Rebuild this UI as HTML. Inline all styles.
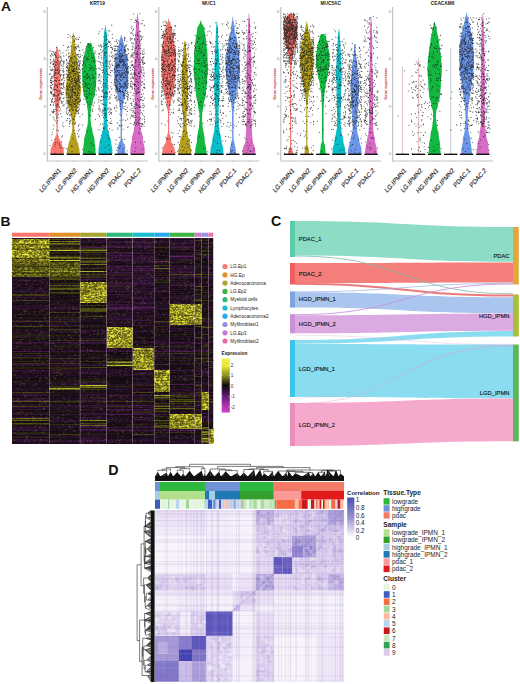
<!DOCTYPE html>
<html><head><meta charset="utf-8"><style>
html,body{margin:0;padding:0;background:#fff;width:520px;height:684px;overflow:hidden}
svg{display:block}
</style></head><body>
<svg width="520" height="684" viewBox="0 0 520 684">
<rect width="520" height="684" fill="#fff"/>
<g font-family='"Liberation Sans", sans-serif'>
<path d="M47.3 7V161H147.8" fill="none" stroke="#c4c4c4" stroke-width="1.2"/>
<path d="M46.8 154h-1.2" stroke="#999" stroke-width="0.5"/>
<path d="M46.8 106.5h-1.2" stroke="#999" stroke-width="0.5"/>
<path d="M46.8 59h-1.2" stroke="#999" stroke-width="0.5"/>
<path d="M46.8 11.5h-1.2" stroke="#999" stroke-width="0.5"/>
<text x="97.3" y="5.1" font-size="4.8" font-weight="bold" text-anchor="middle" fill="#1a1a1a">KRT19</text>
<text transform="translate(42.1 84) rotate(-90)" font-size="3.9" font-weight="bold" text-anchor="middle" fill="#c03030">Gene expression</text>
<text x="45.1" y="155" font-size="3" text-anchor="end" fill="#666">0</text>
<text x="45.1" y="107.5" font-size="3" text-anchor="end" fill="#666">2</text>
<text x="45.1" y="60" font-size="3" text-anchor="end" fill="#666">4</text>
<text x="45.1" y="12.5" font-size="3" text-anchor="end" fill="#666">6</text>
<path d="M57.4 45.6 57.4 46.6 57.6 47.6 57.8 48.6 58 49.6 58.2 50.6 58.5 51.6 58.7 52.6 58.8 53.6 58.9 54.6 58.9 55.6 59 56.6 59.1 57.6 59.2 58.6 59.3 59.6 59.5 60.6 59.6 61.6 59.8 62.6 59.8 63.6 59.9 64.6 59.9 65.6 59.9 66.6 59.9 67.6 60 68.6 60 69.6 60.1 70.6 60.1 71.6 60.2 72.6 60.3 73.6 60.3 74.6 60.4 75.6 60.4 76.6 60.5 77.6 60.5 78.6 60.5 79.6 60.5 80.6 60.5 81.6 60.5 82.6 60.5 83.6 60.5 84.6 60.5 85.6 60.5 86.6 60.5 87.6 60.5 88.6 60.5 89.6 60.5 90.6 60.5 91.6 60.5 92.6 60.4 93.6 60.3 94.6 60.2 95.6 60 96.6 59.9 97.6 59.8 98.6 59.7 99.6 59.7 100.6 59.6 101.6 59.5 102.6 59.4 103.6 59.2 104.6 59.1 105.6 58.9 106.6 58.8 107.6 58.7 108.6 58.6 109.6 58.6 110.6 58.5 111.6 58.3 112.6 58.1 113.6 57.9 114.6 57.8 115.6 57.8 116.6 57.8 117.6 57.8 118.6 57.8 119.6 57.8 120.6 57.8 121.6 57.8 122.6 57.8 123.6 57.8 124.6 57.7 125.6 57.7 126.6 57.7 127.6 57.7 128.6 57.7 129.6 57.7 130.6 57.7 131.6 57.7 132.6 57.7 133.6 57.8 134.6 58.2 135.6 58.7 136.6 59.1 137.6 59.2 138.6 59.5 139.6 60 140.6 60.6 141.6 61.1 142.6 61.6 143.6 61.9 144.6 62 145.6 62.3 146.6 62.8 147.6 63.3 148.6 63.6 149.6 63.6 150.6 63.7 151.6 63.8 152.6 63.9 153.6 63.9 154 50.3 154 50.3 153.6 50.4 152.6 50.5 151.6 50.6 150.6 50.6 149.6 50.9 148.6 51.4 147.6 51.9 146.6 52.2 145.6 52.3 144.6 52.6 143.6 53.1 142.6 53.6 141.6 54.2 140.6 54.7 139.6 55 138.6 55.1 137.6 55.5 136.6 56 135.6 56.4 134.6 56.5 133.6 56.5 132.6 56.5 131.6 56.5 130.6 56.5 129.6 56.5 128.6 56.5 127.6 56.5 126.6 56.5 125.6 56.4 124.6 56.4 123.6 56.4 122.6 56.4 121.6 56.4 120.6 56.4 119.6 56.4 118.6 56.4 117.6 56.4 116.6 56.4 115.6 56.3 114.6 56.1 113.6 55.9 112.6 55.7 111.6 55.6 110.6 55.6 109.6 55.5 108.6 55.4 107.6 55.3 106.6 55.1 105.6 55 104.6 54.8 103.6 54.7 102.6 54.6 101.6 54.5 100.6 54.5 99.6 54.4 98.6 54.3 97.6 54.2 96.6 54 95.6 53.9 94.6 53.8 93.6 53.7 92.6 53.7 91.6 53.7 90.6 53.7 89.6 53.7 88.6 53.7 87.6 53.7 86.6 53.7 85.6 53.7 84.6 53.7 83.6 53.7 82.6 53.7 81.6 53.7 80.6 53.7 79.6 53.7 78.6 53.7 77.6 53.8 76.6 53.8 75.6 53.9 74.6 53.9 73.6 54 72.6 54.1 71.6 54.1 70.6 54.2 69.6 54.2 68.6 54.3 67.6 54.3 66.6 54.3 65.6 54.3 64.6 54.4 63.6 54.4 62.6 54.6 61.6 54.7 60.6 54.9 59.6 55 58.6 55.1 57.6 55.2 56.6 55.3 55.6 55.3 54.6 55.4 53.6 55.5 52.6 55.7 51.6 56 50.6 56.2 49.6 56.4 48.6 56.6 47.6 56.8 46.6 56.8 45.6Z" fill="#F8766D"/>
<path d="M59.3 74.3h0M55.2 57.1h0M50.4 55.6h0M51.2 80.7h0M51.7 80.9h0M63.5 68.7h0M64 89h0M54.1 55h0M54.3 62.7h0M58.3 104.3h0M57.8 92h0M52.9 55.7h0M54.4 94.5h0M54.2 89.6h0M53.4 102.8h0M62.5 88.6h0M64 97.9h0M60.8 61h0M50.5 63.6h0M58.2 94.4h0M59.9 110.9h0M56.5 90.2h0M56.7 107h0M60 93.2h0M61.7 93.1h0M59.5 72h0M52.3 51.6h0M61 60.7h0M55.5 61.8h0M56.4 110.2h0M61.7 87.5h0M55.9 109.4h0M63.7 77h0M53.2 63.3h0M58.4 69.1h0M55.9 70.6h0M63.6 77.2h0M58.8 95.1h0M62.9 94.2h0M61.4 102h0M51.4 78.5h0M50.9 91.7h0M54.8 67.3h0M52.1 54.6h0M50.3 59.5h0M52 111.2h0M55.1 69.9h0M64.2 61.9h0M51.1 82.6h0M53.7 59.4h0M50.2 105.3h0M52 134.6h0M57.5 86.6h0M59.9 145.5h0M52.3 70.5h0M61.1 101.1h0M61.6 74.8h0M61.5 148h0M53.2 104.8h0M50.3 85.5h0M53.6 51.9h0M56.3 96.1h0M63.7 126.6h0M53.2 76.8h0M58.9 66.3h0M56.8 115.9h0M51.1 93.4h0M61.2 94h0M52.5 99.1h0M61.4 101.9h0M55.7 142.5h0M52.3 132.3h0M62.9 61.3h0M61.8 103.2h0M54.9 146.3h0M50.1 86.7h0M57.5 142.2h0M62.5 125h0M53.5 105.3h0M58.3 72.3h0M51.8 70.5h0M56.5 118h0M56 89.5h0M57.6 120.6h0M56.2 85.6h0M61.4 65.1h0M60.3 65.1h0M57.4 87.4h0M51.4 87.9h0M53.9 87.8h0M58 101.1h0M56.3 100.5h0M57.3 91.1h0M57.6 95.6h0M60 84h0M53.6 111.5h0M62 88.5h0M56.3 62.2h0M51 56.8h0M62.8 94.4h0M59.4 63.8h0M63.8 63.5h0M55.6 68.6h0M61.9 84.6h0M57.3 64h0M54.5 75.3h0M57.9 97.1h0M54.7 80.6h0M50.8 91.6h0M63.9 147.9h0M50.5 59.9h0M51.8 101.4h0M61.7 80.5h0M63.1 70.2h0M51.2 88.8h0M56 55.8h0M59 57.5h0M62.2 102.7h0M56.4 57h0M63.2 75.7h0M57.5 70.7h0M52.2 68.7h0M54.4 54.3h0M54.1 73.9h0M54.9 84.3h0M50.1 50.9h0M52.6 98.2h0M51.4 83.5h0M57 104.5h0M57.2 106h0M54.8 95.6h0M59.1 106.3h0M50.7 78.9h0M60.6 61.7h0M51.1 70.3h0M59.6 107.5h0M54.1 71.8h0M56.3 81.8h0M63.9 71.6h0M63.8 86.8h0M49.9 73.5h0M57.1 78.1h0M50 67.1h0M55.7 70.7h0M54.3 53.6h0M57.5 69.2h0M60.2 99.8h0M54.6 111.5h0M60.3 147.2h0M61.9 92.1h0M60.5 113.7h0M57.4 103.7h0M61.5 84.9h0M62.8 105.7h0M53.2 95.3h0M55.1 52.2h0M57.9 60.4h0M59.7 91.7h0M61.4 83.6h0M57.6 99.1h0M60.5 93.2h0M53.7 69.7h0M60.6 97.8h0M55.4 144.1h0M60.9 83.8h0M51 91.2h0M60.6 62.9h0M50.1 73.7h0M59.6 55.9h0M54.1 95.8h0M56.6 85.6h0M52.8 61.5h0M50.2 145.5h0M63.8 82.4h0M52.9 81.4h0M58.3 130.8h0M63.6 62.6h0M57.2 62.4h0M53.2 112.8h0M50.3 115.1h0M56.4 47.6h0M54.9 72.7h0M49.9 74.4h0M51.6 99.9h0M62.9 122.8h0M55.6 72.5h0M55.1 153.2h0M50.6 80.4h0M54 59.9h0M53.7 125.3h0M55.3 84.8h0M61.6 137h0M63.4 92.5h0M50.6 87.3h0M60.7 98.1h0M50.6 92.4h0M56.7 122.7h0M60.5 75.4h0M59.3 143.9h0M55.6 73.2h0M52.9 64.3h0M53.1 117.1h0M56.4 117.6h0M51.2 62.3h0M53.3 75.2h0M62.7 70.7h0M55.9 99h0M54.8 86h0M63.8 55.9h0M59 61.6h0M53.8 109.3h0M56.3 70h0M62.5 135.9h0M60.1 51.1h0M58.4 114.6h0M63.2 45.5h0M63.9 105.5h0M52.1 69.7h0M63.5 85.8h0M60.9 97.2h0M50.5 82.2h0M63.1 101.3h0M51.7 92.4h0M60 70.2h0M57.5 60.2h0M53.1 89h0M54.2 89.6h0M59.2 83.1h0M53.3 112.1h0M60 70.6h0M57.1 73.1h0M53.6 94.5h0M53.2 94.5h0M56 52.9h0M61.4 94.8h0M52.9 98.6h0M61.7 141.9h0M60.9 68.8h0M57 73.6h0M55.9 65.8h0M52 94h0M63.9 78.3h0M50.8 62.2h0M62.6 79h0M63.3 98.6h0M63.4 74.8h0M59.5 98.6h0M54.7 77.5h0M53.9 64.1h0M51.7 76.6h0M55 139.3h0M56.1 105.4h0M55.3 54.6h0M55.1 120.8h0M55.8 114.1h0M50.5 104.4h0M63.1 52.7h0M62.8 70.8h0M63.7 75.4h0M60.2 90.9h0M50 73.9h0M59 100h0M53.3 129.1h0M63.6 83.6h0M56.1 77.9h0M52.5 84.5h0M61.7 103.3h0M54.6 101.2h0M61.2 74.5h0M60.7 57.3h0M50.4 69.7h0M64 87.4h0M53.7 112.6h0M57.1 57.7h0M53.3 96.5h0M59.6 80.2h0M59.5 99.4h0M54.1 61.4h0M60.5 88h0M53.4 66.3h0M58.2 64h0M64.2 74.5h0M61.5 84.8h0M51.4 93.6h0M62 83.4h0M54.1 119.1h0M63.9 60.8h0M55.3 89.5h0M53.6 110h0M51.4 102h0M53 90.2h0M52.8 76.7h0M59.3 70.7h0M54.6 66.6h0M54.4 94.3h0M57.8 67.4h0M55.6 55.7h0M51.2 87.7h0M55.8 64.3h0M63.6 71.9h0M55 74.2h0M64.3 80.5h0M60.4 76.8h0M62.9 66.6h0M55.7 80.4h0M52.2 112.1h0M59.1 50.2h0M58.9 117.7h0M52 77.1h0M63.2 72.1h0M61.5 60.1h0M51.7 140.3h0M56.9 130.1h0M55.5 55.5h0M61.8 116.7h0M53.1 64.4h0M61.8 79.4h0M55.7 65.3h0M51.7 85.5h0M62.8 70.3h0M60.8 53.7h0M51.6 53.9h0M58.9 90.2h0M58.3 73.5h0M56.3 80.8h0M58.8 80.6h0M60.9 83.8h0M52.5 101.6h0M51.7 82.7h0M56.3 80.2h0M59.1 84.6h0M61.1 58.3h0M57.2 84.7h0M51.9 78.1h0M60.4 109.1h0M64 104.3h0M63.1 84.6h0M63.3 64.9h0M60.8 56.5h0M53.9 64.5h0" stroke="#1e1e1e" stroke-width="1.1" stroke-linecap="round" opacity="0.82"/>
<path d="M50.4 154.3h13.4" stroke="#111" stroke-width="1.4"/>
<path d="M57.1 161v1" stroke="#999" stroke-width="0.5"/>
<text transform="translate(61.2 170.8) scale(0.95 1.09) rotate(-45)" font-size="6.2" text-anchor="end" fill="#1a1a1a" stroke="#1a1a1a" stroke-width="0.12">LG.IPMN1</text>
<path d="M73.6 33 73.6 34 73.8 35 74 36 74.1 37 74.3 38 74.5 39 74.5 40 74.5 41 74.6 42 74.8 43 74.9 44 75.1 45 75.3 46 75.4 47 75.6 48 75.7 49 75.7 50 75.7 51 75.8 52 76 53 76.2 54 76.4 55 76.6 56 76.8 57 77 58 77.1 59 77.1 60 77.1 61 77.3 62 77.4 63 77.6 64 77.8 65 78.1 66 78.3 67 78.4 68 78.6 69 78.6 70 78.6 71 78.8 72 78.9 73 79.1 74 79.3 75 79.6 76 79.8 77 79.9 78 80.1 79 80.1 80 80.1 81 80.2 82 80.3 83 80.4 84 80.5 85 80.7 86 80.8 87 80.9 88 81 89 81 90 81 91 80.9 92 80.8 93 80.6 94 80.5 95 80.4 96 80.2 97 80.1 98 80 99 80 100 79.9 101 79.7 102 79.4 103 79 104 78.5 105 78.1 106 77.7 107 77.4 108 77.2 109 77.1 110 77 111 76.6 112 76.3 113 75.9 114 75.8 115 75.7 116 75.4 117 75.2 118 74.9 119 74.8 120 74.8 121 74.7 122 74.6 123 74.5 124 74.4 125 74.3 126 74.3 127 74.3 128 74.4 129 74.5 130 74.5 131 74.6 132 74.9 133 75.2 134 75.6 135 75.9 136 76.2 137 76.3 138 76.4 139 76.7 140 77.1 141 77.5 142 77.9 143 78.2 144 78.3 145 78.4 146 78.7 147 79 148 79.3 149 79.4 150 79.5 151 79.6 152 79.7 153 79.8 154 66.8 154 66.9 153 67 152 67.1 151 67.2 150 67.3 149 67.6 148 67.9 147 68.2 146 68.3 145 68.4 144 68.7 143 69.1 142 69.5 141 69.9 140 70.2 139 70.3 138 70.4 137 70.7 136 71 135 71.4 134 71.7 133 72 132 72.1 131 72.1 130 72.2 129 72.3 128 72.3 127 72.3 126 72.2 125 72.1 124 72 123 71.9 122 71.8 121 71.8 120 71.7 119 71.4 118 71.2 117 70.9 116 70.8 115 70.7 114 70.3 113 70 112 69.6 111 69.5 110 69.4 109 69.2 108 68.9 107 68.5 106 68 105 67.6 104 67.2 103 66.9 102 66.7 101 66.6 100 66.6 99 66.5 98 66.4 97 66.2 96 66.1 95 66 94 65.8 93 65.7 92 65.6 91 65.6 90 65.6 89 65.7 88 65.8 87 65.9 86 66 85 66.2 84 66.3 83 66.4 82 66.5 81 66.5 80 66.5 79 66.7 78 66.8 77 67 76 67.2 75 67.5 74 67.7 73 67.8 72 68 71 68 70 68 69 68.2 68 68.3 67 68.5 66 68.8 65 69 64 69.2 63 69.3 62 69.5 61 69.5 60 69.5 59 69.6 58 69.8 57 70 56 70.2 55 70.4 54 70.6 53 70.8 52 70.9 51 70.9 50 70.9 49 71 48 71.2 47 71.3 46 71.5 45 71.7 44 71.8 43 72 42 72.1 41 72.1 40 72.1 39 72.3 38 72.5 37 72.6 36 72.8 35 73 34 73 33Z" fill="#B4A01C"/>
<path d="M73.3 103.6h0M69.9 114.2h0M66.6 86.3h0M79.6 64.7h0M68.5 95.9h0M73.7 101.6h0M78.7 93.4h0M78.8 89.1h0M75.2 57h0M69.9 80.3h0M71.3 146.1h0M68.6 100.4h0M77.9 99h0M80.3 70.6h0M70.6 90.7h0M68.3 34.5h0M73.5 91.9h0M69.4 111.1h0M66.1 93.5h0M71.2 77.1h0M74.6 68.6h0M72.9 66.6h0M69.6 60.4h0M75.3 61.1h0M71.9 109.3h0M75.4 71h0M75.4 89.4h0M76.7 83.4h0M66.7 70.4h0M69.5 87.4h0M66.3 50.3h0M68.1 88.9h0M73.4 66.6h0M68.6 93.8h0M66.8 74.3h0M76.4 110.8h0M76.8 37.8h0M72.6 84.2h0M69.4 68.1h0M76.9 46.3h0M76.3 96.8h0M72.4 71.6h0M69.9 102h0M69.2 94h0M69.8 109h0M79.7 69.2h0M78.8 99.3h0M79.2 75.7h0M75.7 93.2h0M78.2 137h0M72.4 96.9h0M70.5 98.6h0M67.2 67.6h0M66.5 113.1h0M71.1 57.4h0M66.7 60.5h0M76.1 96.6h0M74.6 98.6h0M77.9 78.3h0M78.6 110.6h0M67.6 114.4h0M66.6 66.6h0M75.2 106.8h0M70.2 104.6h0M77 55.6h0M72.2 66.3h0M70.2 42.3h0M70.7 97.9h0M78.4 125.5h0M72 92h0M71.1 82.8h0M69.2 97h0M77.9 107.6h0M69 63h0M66.2 101h0M77.6 85.5h0M71.1 65h0M79.7 104.8h0M76.2 72.7h0M75.3 85.6h0M76.1 53.8h0M71.2 102.1h0M78.9 80.4h0M66.5 54.9h0M79.1 66.8h0M78.8 85.9h0M73.8 69h0M75.4 100.3h0M68.3 76.8h0M76.8 106.2h0M77.2 63.4h0M72.8 89.6h0M68.9 110.2h0M78.2 74.2h0M69.7 61.7h0M68.4 75.5h0M80.1 75.7h0M80 98.1h0M80.3 56.4h0M72.4 102.7h0M67.6 66.1h0M66.6 66.9h0M76.1 80.3h0M72.8 86.1h0M71.9 61.1h0M72.3 99.9h0M72.2 90.2h0M78.8 68.7h0M78.4 101.7h0M72.6 95.6h0M67.5 75.1h0M76.4 81.8h0M72.2 92.8h0M72 83.6h0M68.7 95.9h0M71.7 94.8h0M66.6 86h0M77.4 88.2h0M67.6 118.5h0M76.4 90h0M78 86.6h0M79.8 86.9h0M71.8 67.2h0M80.3 100.1h0M70.1 77.1h0M72.1 79.5h0M71.2 81.7h0M76.8 71.2h0M69.3 118.5h0M69.2 102.9h0M77.8 59.8h0M74.2 93h0M71.2 69h0M77.9 93.8h0M74 83.8h0M71.2 59.3h0M71.5 106.8h0M68.8 70.4h0M70.1 35.7h0M73 69.8h0M75.6 82.1h0M78.4 78.4h0M79.1 50.3h0M78.1 101.6h0M66.3 92.5h0M69.7 121.7h0M69.5 56.1h0M68.3 101.3h0M68.5 112.8h0M77.4 111.1h0M77.4 95.4h0M76.1 105.7h0M72.4 87.7h0M69.9 110.1h0M73.2 68.6h0M68.2 50h0M73.9 85.5h0M78.2 107.5h0M75.7 84.1h0M72.1 105.9h0M75.3 123.6h0M74.9 92.5h0M70.9 96.4h0M73.1 139h0M76.4 111h0M78.5 92.3h0M73.7 78h0M72.4 100.7h0M78 81.6h0M71.9 73.8h0M73.4 85.8h0M77.5 133.7h0M70.4 75.8h0M77.4 90.6h0M78.9 47.2h0M70.4 88h0M79.4 37.2h0M77.5 92.2h0M75 113.1h0M74.7 92.7h0M75.7 95.2h0M67.6 83.8h0M77.3 64h0M71.4 114.2h0M74.2 104.8h0M72.2 70.8h0M75.3 74.9h0M74.3 116.6h0M77.8 46.6h0M72.5 90.4h0M74.6 40.4h0M72.9 118.5h0M75.4 80.6h0M66.3 67.2h0M67.9 37.2h0M78.6 126.1h0M76.5 59h0M68.8 69.7h0M76.4 48.8h0M67.3 107.2h0M72.7 93.2h0M80 116.8h0M66.3 97.5h0M67.2 94.3h0M68.5 74.7h0M67 108h0M72.4 78.6h0M77.6 95.1h0M75.2 78.1h0M77.4 81.4h0M74.3 119.8h0M80.1 73.1h0M70.9 97.3h0M78.1 92h0M72.3 91.3h0M76 110.4h0M77.7 91.9h0M69.9 72.5h0M77.9 81.6h0M78.1 110h0M74.3 103.9h0M77.7 72.4h0M71.1 96.4h0M77.6 54.6h0M79.5 66.8h0M75.9 69.1h0M69.8 83.7h0M72.7 100.3h0M77.2 54.8h0M79 69.1h0M73 110.5h0M68.9 90.2h0M71.3 64.7h0M73.5 89.4h0M80.5 61h0M75.2 78.1h0M74.7 101.7h0M66.4 77h0M78.6 46h0M69.9 85.1h0M79.7 101.4h0M80 101.3h0M69 70h0M66.8 64.1h0M72.7 89.4h0M67 120.4h0M67.8 90.9h0M74.2 123.8h0M75.7 94h0M68.4 79.9h0M69.3 126.5h0M71.2 46.3h0M78.2 112.9h0M76.3 48.3h0M66.9 94.5h0M79.6 61.3h0M74.6 95.3h0M70.8 100.1h0M73 70.6h0M68.2 63.2h0M76.4 95h0M79.5 65.5h0M78.6 68.4h0M72.5 110.1h0M78.2 56.4h0M71 93h0M75.1 104.5h0M66.9 60.7h0M68.2 97.6h0M72 108.3h0M78.2 62.3h0M73.2 75.7h0M67.7 75.4h0M79 136.1h0M73 94.7h0M69 72.8h0M80.5 78.5h0M70.3 115.1h0M76.6 111.1h0M66.3 74h0M68.1 103.3h0M73.7 35.3h0M79.2 64.9h0M68.1 68.1h0M76.3 64.8h0M67.4 65.6h0M70 92h0M76.3 67.1h0M69 103.6h0M72 51.7h0M77.8 97.6h0M78.5 76.8h0M79.2 85h0M69.9 84.9h0M71.4 65.3h0M74.7 62.9h0M72.5 36.5h0M76.4 86.6h0M70.7 104.4h0M76.9 97.4h0M79.8 50.9h0M73.7 85.5h0M80 87.5h0M67.6 67.7h0M66.5 70.8h0M68.9 56.2h0M74.4 41.6h0M67.6 87.2h0M66.8 108.7h0M73.3 59h0M71.9 72.1h0M78.5 60.6h0M76.9 61.6h0M79.6 63.3h0M78.2 79.4h0M79.7 87.4h0M69.6 101.3h0M80.2 76.4h0M77.8 103.4h0M73.6 106.1h0M69.7 123.9h0M71.3 81.6h0M72.3 87.1h0M68.1 86h0M79.6 129.3h0M78.8 93.3h0M75.3 109.5h0M70 71.7h0M75 88.9h0M72.3 70.5h0M70.5 120.8h0M74.7 93.6h0M70 123h0M68.2 84h0M70.3 58.6h0M69.6 80.3h0M78.2 54.5h0M75.5 92.1h0M72.7 66.7h0M72.9 88.6h0M69.3 74.2h0M74.5 86.4h0M78.5 39.4h0M73.2 69.6h0M70.4 73.5h0M67.1 100.7h0M67 108.9h0M76.7 79.4h0M79.9 57.2h0M71 98.7h0M75 77.7h0M73.6 106.8h0M77 99.2h0M76.3 84.8h0M78.6 113.6h0M74.5 36.8h0M74.3 86.5h0M78.7 81.8h0M72.6 91.4h0M70.3 83.7h0M71.6 79.6h0M78.3 75.8h0M68.8 85.9h0M74.4 73.6h0M79.4 90.1h0M78.2 75.8h0M72.2 123.2h0M66.8 113h0M79.4 89.5h0M80.5 101h0M76 87h0M74.7 79.4h0M75.8 77.9h0M71.5 87.1h0M74.4 80.6h0M73.1 110h0M80.4 82.6h0M77.8 77h0M80.2 63.3h0M67.7 105h0M77.9 111.7h0M72.2 146.4h0M73.5 62.3h0M68.7 86.2h0M71.2 93.1h0M66.7 148.6h0M70.5 81.3h0M70.5 96h0M75.7 106.1h0M74.1 66h0M73.8 71.6h0M72 151.6h0M77 58.2h0M68.6 56.6h0M74.9 87.3h0M66.3 103.1h0M76.4 100.8h0M69.9 77.2h0M74.5 56.4h0M71.7 76.9h0M74.5 49.9h0M75 123.9h0M79.5 69.5h0M79 106.8h0M74.8 103.8h0M79.8 124h0M76.4 69.4h0M78.7 67.8h0M69.6 85.3h0M68.8 63.9h0M74.2 130.3h0M71.7 58h0M67.9 80.1h0M69.6 104.9h0M69.5 65.3h0M71 46.2h0M67.4 62.7h0M67.9 71.8h0M77.7 83.3h0M76.5 62.4h0M69.1 79.5h0M69.4 121.5h0M76.3 83.1h0M74.6 71.4h0M74.9 78.2h0M67.9 67.9h0M70 86.5h0M75.6 100.9h0M71.7 89.3h0M78.4 54.2h0M67.7 75.7h0M73.3 89.4h0M70.6 73.1h0M76.4 68.1h0M79.2 72.4h0M78.5 101.9h0M66.5 59.8h0M71.2 95.7h0M76.2 81.2h0M71.2 70.3h0M67.8 92.7h0M76.4 113.7h0M68.4 46.5h0M71.6 65.8h0M75.3 46.8h0M74.3 64.8h0M72.4 97.8h0M66.1 95.8h0M70.2 105.8h0M74.8 47.9h0M67.7 47.7h0M79.3 102.2h0M76.1 99.6h0M78 80.2h0M79.7 72.1h0M76.1 81.9h0M75.1 99.3h0M76.2 83.1h0M79.5 82h0M66.7 59.8h0M69.9 97.3h0M75.3 89h0M67 88.2h0M69 77.4h0M76.3 74.1h0M69.6 94.7h0M79.6 86.9h0M78.8 77.3h0M70.9 61.1h0M77.1 104h0M74.7 63.7h0M78.1 84.3h0M71.3 57.8h0M70.1 66.6h0M72.6 66.2h0M72.8 57.3h0M67.1 77.7h0M76.9 39.5h0M80.2 54.2h0M73.1 89.1h0M73.9 82.2h0M75.4 38.9h0M75.5 93.4h0M68.1 70.2h0M78.2 44.8h0M75.3 73.2h0M68.5 106.9h0M76.8 102.3h0M78 75.2h0M74 75.4h0M69.5 78.8h0M75.1 47.1h0M79.1 104.7h0M73.3 119.5h0M74.5 62.3h0M68.5 53.7h0M67.4 83.5h0M68.8 46.9h0M78.2 97.5h0M72.2 107.3h0M73.5 73.2h0M72.4 81.3h0M79.1 95.3h0M72.5 62.8h0M68.9 89.3h0M72.7 54.3h0M78.6 130.9h0M75 133.5h0M75.8 103.1h0M74.3 91.8h0M75.4 122h0M78.8 73.8h0M75.9 44.2h0M75.6 82.6h0M72.1 78.6h0M71.8 87.6h0M78.9 57.7h0M78.5 88.1h0M73.7 70.1h0M74.1 70.5h0M67.7 68.6h0M67.3 86.6h0M72.4 80.1h0M76.4 108.1h0M80.4 99.6h0M78.1 97.6h0M79.9 79.7h0M68.1 89.8h0M69.5 101.1h0M74.7 78h0M76.3 67.3h0M75 82.4h0M79.3 109.1h0M76.8 108.2h0M75.9 76.8h0M71.5 104.1h0M76.5 99.4h0M67.5 47.6h0M67.7 88.8h0M69.8 115.7h0M78.2 65.4h0M66.4 90.1h0M68.8 57.8h0M76 88.8h0M78.7 78.6h0M77.7 88.2h0M71 120h0M78.7 62h0M68.7 102.5h0M71.8 104.2h0M78.3 84.2h0M74.9 80.4h0M69.2 52.8h0M66.7 111.1h0M72.8 63.4h0M71.2 89.9h0M70.9 37.6h0M80.3 42.5h0M75.8 47.6h0M73.3 71.8h0" stroke="#1e1e1e" stroke-width="1.1" stroke-linecap="round" opacity="0.82"/>
<path d="M66.6 154.3h13.4" stroke="#111" stroke-width="1.4"/>
<path d="M73.3 161v1" stroke="#999" stroke-width="0.5"/>
<text transform="translate(77.4 170.8) scale(0.95 1.09) rotate(-45)" font-size="6.2" text-anchor="end" fill="#1a1a1a" stroke="#1a1a1a" stroke-width="0.12">LG.IPMN2</text>
<path d="M91.4 43 91.5 44 91.8 45 92.1 46 92.6 47 92.9 48 93.2 49 93.3 50 93.4 51 93.5 52 93.8 53 94.1 54 94.4 55 94.7 56 95 57 95.3 58 95.4 59 95.5 60 95.5 61 95.6 62 95.6 63 95.7 64 95.8 65 95.9 66 96 67 96.1 68 96.2 69 96.3 70 96.4 71 96.5 72 96.5 73 96.6 74 96.6 75 96.6 76 96.5 77 96.5 78 96.4 79 96.3 80 96.2 81 96.1 82 96.1 83 96 84 96 85 96 86 95.9 87 95.8 88 95.6 89 95.5 90 95.3 91 95.1 92 95 93 94.9 94 94.9 95 94.7 96 94.3 97 93.7 98 93.3 99 93.1 100 92.9 101 92.6 102 92.1 103 91.8 104 91.6 105 91.6 106 91.4 107 91.3 108 91.1 109 91 110 90.8 111 90.8 112 90.8 113 90.7 114 90.6 115 90.6 116 90.5 117 90.5 118 90.5 119 90.6 120 90.7 121 90.8 122 90.9 123 90.9 124 91 125 91.3 126 91.6 127 91.9 128 92.2 129 92.3 130 92.4 131 92.5 132 92.8 133 93.1 134 93.4 135 93.7 136 94 137 94.3 138 94.4 139 94.5 140 94.5 141 94.6 142 94.7 143 94.9 144 95 145 95.1 146 95.3 147 95.4 148 95.5 149 95.5 150 95.5 151 95.5 152 95.6 153 95.6 154 83 154 83 153 83 152 83.1 151 83.1 150 83.1 149 83.2 148 83.3 147 83.5 146 83.6 145 83.7 144 83.9 143 84 142 84.1 141 84.1 140 84.2 139 84.3 138 84.6 137 84.9 136 85.2 135 85.5 134 85.8 133 86.1 132 86.2 131 86.3 130 86.4 129 86.7 128 87 127 87.3 126 87.6 125 87.7 124 87.7 123 87.8 122 87.9 121 88 120 88.1 119 88.1 118 88.1 117 88 116 88 115 87.9 114 87.8 113 87.8 112 87.8 111 87.6 110 87.5 109 87.3 108 87.2 107 87 106 87 105 86.8 104 86.5 103 86 102 85.7 101 85.5 100 85.3 99 84.9 98 84.3 97 83.9 96 83.7 95 83.7 94 83.6 93 83.5 92 83.3 91 83.1 90 83 89 82.8 88 82.7 87 82.6 86 82.6 85 82.6 84 82.5 83 82.5 82 82.4 81 82.3 80 82.2 79 82.1 78 82.1 77 82 76 82 75 82 74 82.1 73 82.1 72 82.2 71 82.3 70 82.4 69 82.5 68 82.6 67 82.7 66 82.8 65 82.9 64 83 63 83 62 83.1 61 83.1 60 83.2 59 83.3 58 83.6 57 83.9 56 84.2 55 84.5 54 84.8 53 85.1 52 85.2 51 85.3 50 85.4 49 85.7 48 86 47 86.5 46 86.8 45 87.1 44 87.2 43Z" fill="#12B840"/>
<path d="M89.7 64.6h0M82.6 125h0M94.7 81.8h0M91.2 94.6h0M93.6 70.3h0M91.9 104.4h0M92.7 67.3h0M87.1 78.6h0M83 80.9h0M96.3 68.8h0M85.6 76.9h0M84.1 62.8h0M88.6 44.4h0M86.5 75.1h0M86.4 58.6h0M90 67.7h0M95.4 119.3h0M84.7 82.1h0M87.2 83h0M94.6 94.4h0M95 51h0M82.4 65.3h0M92.2 58.3h0M85 61.9h0M91.4 84.4h0M96 60.7h0M93.8 83.1h0M84.1 104.3h0M94.7 60h0M85.2 86.4h0M91.4 68.7h0M87 73.2h0M82.8 49.9h0M89.2 84.8h0M88.8 83.3h0M90.2 45.4h0M90.9 143.6h0M83.4 90.8h0M93.1 57.6h0M88.2 53.3h0M90.1 80.1h0M86.9 87.1h0M92.3 92.3h0M86.6 94.3h0M88.6 95h0M95.6 65.5h0M89 56h0M87.3 87.3h0M93 145.2h0M84 52.5h0M90.1 50.5h0M87.4 59.9h0M92.7 57.2h0M82.5 114.2h0M96.2 94.7h0M87.1 78.1h0M86.8 96.5h0M92.7 109.1h0M87.9 51.1h0M90.2 102.1h0M95.7 73.4h0M85.7 84.7h0M85.4 64.9h0M91.4 61.3h0M85.2 67.5h0M94.5 81.7h0M92.9 103.3h0M86.9 98.3h0M84.4 77.4h0M88.6 88.6h0M85.1 82.9h0M93.3 105.9h0M94.5 102.2h0M82.5 149.3h0M82.2 55.5h0M92.7 111.2h0M91.9 53.7h0M95.3 52.8h0M96.2 90.9h0M93.5 47.2h0M89.4 88.5h0M83.6 62.9h0M86.7 46.5h0M89.1 104.6h0M84.7 56.4h0M92.7 88.1h0M87.2 77.6h0M87.1 78.4h0M94.8 62.5h0M84.7 91.3h0M82.7 64.6h0M90.1 78.4h0M92 70h0M90 87h0M94.7 89.5h0M86.7 90.9h0M87.7 74h0M84.2 71.9h0M90.9 152h0M90.9 115.3h0M85 71.2h0M93.4 55.8h0M92.1 110.5h0M90 68.6h0M82.1 68.5h0M89.4 92.9h0M85.5 83.5h0M87.6 85.7h0M89.7 90.4h0M86.7 84.7h0M85.3 85.5h0M95.2 84.3h0M89.6 76.7h0M84.1 76.2h0M89.6 116h0M85.5 79.8h0M88.7 59.3h0M95 86.3h0M87.6 102.5h0M83.9 99.3h0M83.6 57.8h0M89.6 70.3h0M87.8 75.1h0M88.6 151.7h0M93 77.3h0M87.4 57.7h0M87.4 78.7h0M82.4 69.4h0M82.9 61.1h0M86.1 59.7h0M94.1 68.2h0M94.5 53.6h0M93.5 60.9h0M82.7 84.4h0M92.4 74.9h0M91.4 66.4h0M87.6 97.4h0M84.9 82.9h0M87.5 131.7h0M83.1 87.3h0M89.7 93.4h0M93 78.4h0M88.8 47.1h0M88.1 76.3h0M88.4 76.9h0M94 77.5h0M87.9 88.2h0M90.1 48.7h0M83.8 94.8h0M93.9 61.6h0" stroke="#1e1e1e" stroke-width="1.1" stroke-linecap="round" opacity="0.82"/>
<path d="M82.6 154.3h13.4" stroke="#111" stroke-width="1.4"/>
<path d="M89.3 161v1" stroke="#999" stroke-width="0.5"/>
<text transform="translate(93.4 170.8) scale(0.95 1.09) rotate(-45)" font-size="6.2" text-anchor="end" fill="#1a1a1a" stroke="#1a1a1a" stroke-width="0.12">HG.IPMN1</text>
<path d="M105.7 25.4 105.7 26.4 105.8 27.4 106 28.4 106.2 29.4 106.3 30.4 106.5 31.4 106.7 32.4 106.8 33.4 106.9 34.4 106.9 35.4 106.9 36.4 106.9 37.4 107 38.4 107 39.4 107.1 40.4 107.2 41.4 107.2 42.4 107.3 43.4 107.4 44.4 107.4 45.4 107.5 46.4 107.5 47.4 107.6 48.4 107.6 49.4 107.6 50.4 107.6 51.4 107.6 52.4 107.7 53.4 107.7 54.4 107.7 55.4 107.7 56.4 107.8 57.4 107.8 58.4 107.8 59.4 107.8 60.4 107.8 61.4 107.8 62.4 107.8 63.4 107.8 64.4 107.8 65.4 107.8 66.4 107.8 67.4 107.8 68.4 107.8 69.4 107.8 70.4 107.8 71.4 107.8 72.4 107.8 73.4 107.8 74.4 107.8 75.4 107.8 76.4 107.8 77.4 107.8 78.4 107.8 79.4 107.8 80.4 107.8 81.4 107.8 82.4 107.8 83.4 107.8 84.4 107.8 85.4 107.8 86.4 107.8 87.4 107.8 88.4 107.8 89.4 107.8 90.4 107.7 91.4 107.7 92.4 107.7 93.4 107.7 94.4 107.7 95.4 107.6 96.4 107.6 97.4 107.6 98.4 107.5 99.4 107.5 100.4 107.5 101.4 107.5 102.4 107.4 103.4 107.4 104.4 107.4 105.4 107.3 106.4 107.3 107.4 107.3 108.4 107.3 109.4 107.2 110.4 107.2 111.4 107.2 112.4 107.2 113.4 107.1 114.4 107.1 115.4 107.1 116.4 107.1 117.4 107.1 118.4 107.1 119.4 107.1 120.4 107.1 121.4 107.2 122.4 107.3 123.4 107.4 124.4 107.5 125.4 107.5 126.4 107.6 127.4 107.6 128.4 107.8 129.4 108.2 130.4 108.6 131.4 108.8 132.4 108.9 133.4 109 134.4 109.3 135.4 109.6 136.4 110 137.4 110.4 138.4 110.7 139.4 111 140.4 111.2 141.4 111.2 142.4 111.3 143.4 111.4 144.4 111.6 145.4 111.8 146.4 112 147.4 112.2 148.4 112.3 149.4 112.3 150.4 112.3 151.4 112.4 152.4 112.4 153.4 112.4 154 98.4 154 98.4 153.4 98.4 152.4 98.5 151.4 98.5 150.4 98.5 149.4 98.6 148.4 98.8 147.4 99 146.4 99.2 145.4 99.4 144.4 99.5 143.4 99.6 142.4 99.6 141.4 99.8 140.4 100.1 139.4 100.4 138.4 100.8 137.4 101.2 136.4 101.5 135.4 101.8 134.4 101.9 133.4 102 132.4 102.2 131.4 102.6 130.4 103 129.4 103.2 128.4 103.2 127.4 103.3 126.4 103.3 125.4 103.4 124.4 103.5 123.4 103.6 122.4 103.7 121.4 103.7 120.4 103.7 119.4 103.7 118.4 103.7 117.4 103.7 116.4 103.7 115.4 103.7 114.4 103.6 113.4 103.6 112.4 103.6 111.4 103.6 110.4 103.5 109.4 103.5 108.4 103.5 107.4 103.5 106.4 103.4 105.4 103.4 104.4 103.4 103.4 103.3 102.4 103.3 101.4 103.3 100.4 103.3 99.4 103.2 98.4 103.2 97.4 103.2 96.4 103.1 95.4 103.1 94.4 103.1 93.4 103.1 92.4 103.1 91.4 103 90.4 103 89.4 103 88.4 103 87.4 103 86.4 103 85.4 103 84.4 103 83.4 103 82.4 103 81.4 103 80.4 103 79.4 103 78.4 103 77.4 103 76.4 103 75.4 103 74.4 103 73.4 103 72.4 103 71.4 103 70.4 103 69.4 103 68.4 103 67.4 103 66.4 103 65.4 103 64.4 103 63.4 103 62.4 103 61.4 103 60.4 103 59.4 103 58.4 103 57.4 103.1 56.4 103.1 55.4 103.1 54.4 103.1 53.4 103.2 52.4 103.2 51.4 103.2 50.4 103.2 49.4 103.2 48.4 103.3 47.4 103.3 46.4 103.4 45.4 103.4 44.4 103.5 43.4 103.6 42.4 103.6 41.4 103.7 40.4 103.8 39.4 103.8 38.4 103.9 37.4 103.9 36.4 103.9 35.4 103.9 34.4 104 33.4 104.1 32.4 104.3 31.4 104.5 30.4 104.6 29.4 104.8 28.4 105 27.4 105.1 26.4 105.1 25.4Z" fill="#08BCC8"/>
<path d="M109 42.5h0M108 85.5h0M99 99.9h0M106.6 97.8h0M110.8 153.2h0M105.7 47.7h0M102.2 28.9h0M101.9 58.7h0M105.6 117h0M102.6 72.5h0M110.5 118.2h0M99 58.1h0M104.9 83.8h0M103.5 79.5h0M111.4 109.6h0M102.7 85h0M106.3 83.3h0M109.7 64.2h0M109.8 61.6h0M111.7 88.9h0M99 75.8h0M98.9 74.5h0M106.8 117h0M106.3 51.8h0M107.9 109.9h0M101.2 96.2h0M111.4 114h0M99.6 53.5h0M104.2 108.4h0M111.2 94.7h0M99 97.1h0M110.2 97.9h0M106.6 61.6h0M100.4 64h0M110.3 123.2h0M112.3 48.7h0M103.7 69.9h0M106.1 93.1h0M108.7 41.9h0M99.8 74.1h0M111.5 112.5h0M105.8 152.3h0M109 61.2h0M99.5 80.3h0M106.8 79.3h0M100.2 83.5h0M110.4 60.3h0M98.7 56.3h0M103.2 89.9h0M98.9 129.6h0M101.8 65.3h0M109.5 103.1h0M106.3 61.5h0M109.5 42.5h0M98.7 88.9h0M107.5 81h0M103.3 46.5h0M100.6 69.1h0M103 50.3h0M105.1 115.3h0M110.9 47.5h0M105.9 44.9h0M100.6 44.9h0M103.5 83.4h0M101.1 52.8h0M110.7 45.6h0M98.4 80.8h0M109.6 128.9h0M101.5 87.1h0M102 103.6h0M105.7 33.3h0M99.4 61.8h0M106.8 87.1h0M99.1 108.1h0M112.4 57.5h0M108.2 35h0M109.9 111.2h0M98.4 77.3h0M104.1 127.8h0M108.8 41.1h0M103.2 96.6h0M101.4 47.1h0M112.6 65.4h0M105.4 108.9h0M109 107.8h0M107.2 92.6h0M99.5 115.7h0M100.5 100.7h0M108.9 139.1h0M111.7 47.2h0M110.2 123.1h0M104.5 110h0M110.7 113.2h0M105.9 62.9h0M112.1 130h0M110.3 108.2h0M104.8 55.6h0M111.3 56.4h0M103.8 97.6h0M108 108.2h0M104 128.7h0M110.2 41.6h0M110.2 66h0M105.2 108.4h0M109.9 31h0M104.8 73h0M103.3 65.1h0M102.4 115h0M108.3 41.2h0M109.8 75.1h0M98.8 45.6h0M102.1 112.1h0M101.4 135.3h0M111.1 121h0M112 70.9h0M100.9 81.4h0M105.8 113.1h0M111.8 25.1h0M101.8 76.7h0M106.2 66.5h0M103.6 117.4h0M107.8 125.8h0M104.6 40h0M107.7 135.3h0M105.7 92.3h0M105.4 96.8h0M99 68.4h0M106.2 114.1h0M111 75.7h0M98.7 102.1h0M111.9 64h0M106.7 120.5h0M103.8 86.9h0M102.2 104h0M106 105.2h0M107.5 73.9h0M103.7 110.6h0M108.1 137.6h0M106.5 60.1h0M103.2 113.2h0M110.8 47.4h0M100.7 49.6h0M102.5 63h0M112.1 70.4h0M111.8 51.7h0M104.5 52.7h0M103.9 43.7h0M102 70.4h0M104.7 53.8h0M109.4 114.5h0M109.1 63.1h0M107.9 77.5h0M103.4 104.2h0M102.4 123.9h0M109.3 92.2h0M106.4 35.7h0M102 67.3h0M106.1 57h0M104.1 104.6h0M102.6 110h0M107.3 93.9h0M103.9 98.2h0M103.1 128.1h0M103.2 70.7h0M105.9 52.3h0M111.2 82.6h0M99.1 46.2h0M110.5 72.4h0M104 96h0M110.4 86.7h0M100.4 108.7h0M105.4 96.2h0M108.9 122.3h0M110.9 112.5h0M108.3 46.6h0M99.2 90.2h0M102.1 90.2h0M99.6 54.1h0M109.8 96.9h0M99.2 68.1h0M98.2 114.2h0M102.2 91.5h0M106.2 37.8h0M110.1 109.9h0M107.3 43.6h0M106.4 65.7h0M101.2 55.2h0M105.9 114.7h0M98.6 33.7h0M99.1 80.8h0M106.6 92.1h0M106.7 71.4h0M112.5 55.8h0M102.9 110.9h0M105.1 147.5h0M108 46.4h0M103.1 99.9h0M102.3 51.8h0M105.6 52.6h0M108.3 74.6h0M106.3 52.7h0M109 99.4h0M108.6 131.8h0M101.2 100.5h0M108.6 30.8h0M103.3 92.2h0M112.5 49.5h0M100.7 62.4h0M109.8 67.8h0M99.7 76h0M105 48.7h0M109.6 149.8h0M100 78.7h0M105.5 44h0M98.5 53.7h0M111.8 123.6h0M108.7 145.3h0M110.3 70.2h0M101.3 45.9h0M98.3 87.8h0M104.9 113.7h0M105.9 35.8h0M107.2 39.2h0M107.4 120.4h0M111.2 53.1h0M106.7 69.5h0M104.8 45.6h0M108.4 88h0M108.6 74.5h0M104 36.9h0M101.7 96.6h0M105 94.1h0M106.8 47.8h0M112.4 38.1h0M109.5 55.8h0M108.9 112.5h0M112.3 34.5h0M98.9 109.4h0M101.4 57.3h0M107.4 96.3h0M100.4 124.2h0M99.7 31.7h0M100.9 142.1h0M105.6 110.1h0M111 43.7h0M110.5 123.4h0M105.4 85.7h0M109.7 91.5h0M106.1 40h0M98.3 61.3h0M110.1 102.9h0M100 110.9h0M104.4 93.6h0M106.1 44.4h0M108.7 66.5h0M99.7 116.2h0M109.2 68.2h0M112.3 48h0M99.3 105.9h0M106.8 44.6h0" stroke="#1e1e1e" stroke-width="1.1" stroke-linecap="round" opacity="0.82"/>
<path d="M98.7 154.3h13.4" stroke="#111" stroke-width="1.4"/>
<path d="M105.4 161v1" stroke="#999" stroke-width="0.5"/>
<text transform="translate(109.5 170.8) scale(0.95 1.09) rotate(-45)" font-size="6.2" text-anchor="end" fill="#1a1a1a" stroke="#1a1a1a" stroke-width="0.12">HG.IPMN2</text>
<path d="M121.6 35 121.7 36 122 37 122.3 38 122.8 39 123.1 40 123.4 41 123.5 42 123.6 43 123.8 44 124.2 45 124.5 46 124.9 47 125.3 48 125.5 49 125.6 50 125.7 51 125.8 52 126 53 126.3 54 126.6 55 126.9 56 127.2 57 127.4 58 127.5 59 127.6 60 127.6 61 127.7 62 127.8 63 127.9 64 128.1 65 128.2 66 128.3 67 128.4 68 128.5 69 128.5 70 128.5 71 128.5 72 128.4 73 128.4 74 128.3 75 128.2 76 128.2 77 128.1 78 128.1 79 128.1 80 128 81 127.9 82 127.7 83 127.6 84 127.5 85 127.5 86 127.3 87 127.1 88 126.8 89 126.4 90 126.1 91 125.8 92 125.5 93 125.4 94 125.3 95 125.2 96 125.1 97 124.8 98 124.5 99 124.1 100 123.8 101 123.5 102 123.2 103 123.1 104 123 105 123 106 122.9 107 122.7 108 122.6 109 122.4 110 122.3 111 122.3 112 122.3 113 122.2 114 122.1 115 122.1 116 122 117 122 118 122 119 122 120 122 121 122 122 122 123 122 124 122 125 122 126 122 127 122 128 122 129 122 130 122 131 122 132 122 133 122 134 122 135 122 136 122 137 122 138 122 139 122 140 122.6 141 123.3 142 123.5 143 124 144 124.4 145 124.6 146 124.7 147 124.8 148 125 149 125.1 150 125.1 151 125.2 152 125.3 153 125.3 154 117.3 154 117.3 153 117.4 152 117.5 151 117.5 150 117.6 149 117.8 148 117.9 147 118 146 118.2 145 118.6 144 119.1 143 119.3 142 120 141 120.6 140 120.6 139 120.6 138 120.6 137 120.6 136 120.6 135 120.6 134 120.6 133 120.6 132 120.6 131 120.6 130 120.6 129 120.6 128 120.6 127 120.6 126 120.6 125 120.6 124 120.6 123 120.6 122 120.6 121 120.6 120 120.6 119 120.6 118 120.6 117 120.5 116 120.5 115 120.4 114 120.3 113 120.3 112 120.3 111 120.2 110 120 109 119.9 108 119.7 107 119.6 106 119.6 105 119.5 104 119.4 103 119.1 102 118.8 101 118.5 100 118.1 99 117.8 98 117.5 97 117.4 96 117.3 95 117.2 94 117.1 93 116.8 92 116.5 91 116.2 90 115.8 89 115.5 88 115.3 87 115.1 86 115 85 115 84 114.9 83 114.7 82 114.6 81 114.5 80 114.5 79 114.5 78 114.4 77 114.4 76 114.3 75 114.2 74 114.2 73 114.1 72 114.1 71 114.1 70 114.1 69 114.2 68 114.3 67 114.4 66 114.5 65 114.7 64 114.8 63 114.9 62 115 61 115 60 115.1 59 115.2 58 115.4 57 115.7 56 116 55 116.3 54 116.6 53 116.8 52 116.9 51 117 50 117.1 49 117.3 48 117.7 47 118 46 118.4 45 118.8 44 119 43 119.1 42 119.2 41 119.5 40 119.8 39 120.3 38 120.6 37 120.9 36 121 35Z" fill="#6A95E8"/>
<path d="M120 75h0M127.3 80.1h0M127.2 87.3h0M114.5 95.2h0M120.3 84.3h0M127.7 98.7h0M117.7 71.2h0M118.8 63.3h0M128.2 49.9h0M125.1 82.9h0M124.9 95.5h0M120 61.7h0M126.9 41.2h0M125.2 106.3h0M125.5 90.4h0M126 75.6h0M119.4 64.6h0M116.4 76.5h0M121.9 76.1h0M127.3 111.4h0M115.4 85h0M127.2 58.3h0M124.4 39.8h0M120.4 145.7h0M124.8 84.7h0M117.8 88.2h0M117.1 42.7h0M123.4 62h0M122.7 79.2h0M115 84.8h0M119.3 47h0M121.2 53.6h0M118 127.7h0M115.5 89.2h0M124 63.9h0M115.5 71.7h0M126.1 109.3h0M117.4 43.3h0M123.8 96.8h0M116.8 62h0M123.6 102.7h0M116.7 79.2h0M128.3 53.6h0M122.3 68.2h0M114.3 58.6h0M128 96.1h0M116.1 67.2h0M119.4 90.8h0M117.7 75.1h0M119.6 91.3h0M116.9 88.7h0M119.4 58.9h0M126.6 81.5h0M126.1 46.2h0M120.4 59.5h0M124.3 52h0M121 49.6h0M120.4 55.7h0M119.3 51.6h0M122.1 72.9h0M124.8 47.7h0M128 77.9h0M127.7 96.6h0M116.6 75.2h0M115.3 97.2h0M120.7 61.9h0M120.6 86.6h0M123.6 64.2h0M128.3 66.6h0M114.3 72.7h0M114.5 82.5h0M121.8 72.7h0M122.8 60h0M125.7 82.1h0M126.4 114.7h0M116.7 67.9h0M127.1 59.6h0M114.6 48.7h0M116.9 70.6h0M127.6 88.1h0M114.3 69.2h0M121 115.2h0M121.2 74.9h0M117.2 147.6h0M128.5 94.7h0M127.9 71.7h0M119 64.9h0M119.5 83h0M114.1 55.8h0M120.6 79.8h0M116.1 77.7h0M127.9 59.6h0M121.6 54.1h0M114.9 78.9h0M122.5 59.7h0M126.9 71.4h0M127.9 83.4h0M120 62.4h0M115.6 46.4h0M118.3 40.8h0M120.1 125.9h0M125.7 75.8h0M115.8 82.5h0M122.5 60.7h0M128 92.4h0M127 57.1h0M124.1 77.7h0M119.4 60.7h0M115.2 75.7h0M120.9 87.6h0M114.2 83.8h0M124.3 73.2h0M127.9 81.7h0M120.3 90.2h0M120 120.2h0M117.4 122.9h0M123.7 87.4h0M117.3 89.1h0M114.6 58.3h0M120.2 53.4h0M127.7 48.6h0M124.2 77.9h0M121 70.7h0M116.4 41.2h0M125.1 68h0M123.2 95.1h0M116.9 86h0M117.8 89.3h0M126.3 93.6h0M117 99.1h0M124.5 40.5h0M114.2 61.6h0M114.2 56.2h0M124.3 59.3h0M115.7 144h0M116.2 111h0M118.7 65.5h0M117.8 70h0M116.4 46.1h0M124.1 50.1h0M124.6 61.8h0M116.8 66h0M114.8 108.6h0M119.6 55.2h0M125.6 85.7h0M122.5 91.6h0M125.7 57.2h0M115.4 90.7h0M116.1 83.1h0M115.7 57.6h0M117.8 81.2h0M124.5 70h0M117.3 43.2h0M124.1 63.1h0M117 80.9h0M117.9 64.2h0M125.2 54.7h0M127.9 94.2h0M118.6 91.3h0M122.9 86.1h0M121.5 49h0M126.7 54.9h0M115.8 71.7h0M119.3 74.5h0M125.3 86h0M119.7 50.6h0M123.7 73.3h0M121 58.8h0M119.5 86.3h0M127.5 71.9h0M120.7 80.1h0M114.6 81.3h0M116 139.9h0M118.4 72.6h0M125.2 47.8h0M119.8 70.6h0M114.8 50.5h0M116 63.3h0M116.5 50.6h0M116.5 76.3h0M120.2 56.3h0M117.6 65.1h0M117.8 129.1h0M127.1 87.9h0M122.8 73h0M124.4 63h0M116.9 86.6h0M125.8 120.6h0M117.8 65.2h0M116.2 73h0M116.6 96.3h0M116.8 87.8h0M126.5 70.3h0M125.1 77.5h0M127.8 80.4h0M125.9 65.3h0M119.5 61.4h0M115.7 66.4h0M120 59.9h0M125 81.9h0M125.7 60.9h0M125 147.2h0M123.5 92.8h0M116 68.3h0M125.9 75.8h0M126.3 66.3h0M127.6 99.1h0M123.5 88.2h0M122 45.9h0M125.4 71.8h0M117.2 90.9h0M115.5 65.7h0M125.6 64.5h0M115.1 59.1h0M120.8 87.2h0M127.8 69.3h0M127 64.1h0M124.7 72.9h0M122.4 64.9h0M126 51.1h0M120.1 75h0M117.1 99.7h0M127.9 66.9h0M127.3 84.6h0M120.3 44.1h0M115.4 85.9h0M125.5 75.8h0M124.8 66.2h0M126.8 91.7h0M119.6 147.9h0M117 85.9h0M124.6 63.3h0M121.3 57h0M127.9 83.1h0M125.6 153.6h0M122 56.9h0M119.3 89.4h0M114.4 107.2h0M127.1 74.9h0M127.5 119h0M123.2 77.1h0M122.8 91.9h0M120.2 61.3h0M115.4 75h0M124.4 38.3h0M117.8 87.7h0M122.8 74.7h0M122.5 102.7h0M124.4 86.7h0M126.2 85.8h0M127.7 107.1h0M115.1 70.6h0M116.1 91.7h0M128.5 72.1h0M117.6 65.8h0M120 57.2h0M116.4 80.3h0M116.9 58.6h0M116.7 64.5h0M128.1 72.9h0M120.9 73.9h0M116.2 57.6h0M124.2 55.6h0M119.2 125.4h0M124 70.4h0M126.5 68.2h0M126.3 77.5h0M123.2 86.9h0M120.3 106.4h0M123.6 63.6h0M116.2 87.4h0M125.5 67.4h0M119 79.2h0M119.9 114h0M127 56.1h0M118.8 91.5h0M119.3 73h0M121.8 101.3h0M121 109.1h0M122.9 65.4h0M119.4 90.3h0M127.2 68.4h0M118.9 75.8h0M124 93.2h0M115 41.2h0M117.4 91.6h0M124.7 46.3h0M127.7 86.9h0M115.4 77.4h0M116.9 107.4h0M119.7 88.4h0M125 50.4h0M114.6 80h0M114.4 46.1h0M115.7 85.6h0M122.9 55.2h0M119.3 84h0M119.7 137.4h0M128.1 60.7h0M116.6 150.2h0M119.2 56.2h0M121.7 87.1h0M120.4 83.5h0M120.6 91.1h0M119 99.6h0M126.5 69.4h0M116.2 105.6h0M124 55.9h0M125.4 38.3h0M125.6 74.5h0M122.3 69.7h0M127.9 86.9h0M123 119.9h0M118 64.4h0M125.4 103.3h0M124 94h0M117.9 64.8h0M126.5 79.7h0M127.4 73.3h0M125 49.4h0M122.4 54.8h0M120.3 103.6h0M125.3 109.6h0M115.7 50.3h0M124.6 98.4h0M123.4 61.2h0M124.5 50.5h0M118.1 58.7h0M127.7 67.9h0M122.3 151.9h0M120.7 92.8h0M127.8 97.4h0M124.9 72.1h0M114.9 54.2h0M124.8 145h0M119.5 53.1h0M114.6 60.8h0M126.4 72.6h0M120.8 100.5h0M124.6 72.7h0M116.8 66.4h0M115.8 53.8h0M118.9 57h0M120.9 55.9h0M127.2 90.3h0M122.9 59.4h0M123.2 129.3h0M120.5 76.4h0M125.7 50.9h0M117.4 84.2h0M128 72.3h0M123.9 106.7h0M116.5 76.9h0M121.2 53.5h0M122.1 61.9h0M116.4 89.1h0M127.9 99.9h0M122.5 139.6h0M122 125.4h0M117 64h0M123.2 52.3h0M124 77.9h0M123.2 67.4h0M123.7 76.9h0M118.4 67.1h0M128.1 126.7h0M122.1 47h0M115.8 58h0M124 95.2h0M123.9 108.5h0M114.8 85.5h0M118.6 71h0M120.1 77.5h0M126 102.6h0M116.7 39.7h0M127.5 94.1h0M121.5 61.9h0M119.9 65.5h0M126.1 84.6h0M124.8 139.1h0M119.3 61.6h0M128.4 83.5h0M123.5 149.1h0M122 55.7h0M117.8 67.4h0M116.3 53.7h0M116.4 79.3h0M122.2 74.6h0M114.3 69.5h0M117.5 46.4h0M126 88.2h0M121 59.6h0M125.1 68.3h0M126.1 59.2h0M127.4 71.5h0M115.1 79.2h0M115.4 48.8h0M118.5 81.9h0M117.6 75.4h0M118.8 54.8h0M120.3 104.2h0M115.9 55h0M116.4 96.1h0M121.4 80.6h0M124.8 65.1h0M116.5 86h0M123.6 83.4h0M114.2 50.4h0M117 58.9h0M128.4 49.7h0M123.8 65.3h0M124 58.9h0M115.1 70.2h0M127.3 77h0M121.1 50.5h0M121.2 57.7h0M127.5 92.3h0M116.1 93h0M124 73.1h0M128.2 85.1h0M125.6 45.2h0M114.9 51.3h0M119.1 78.7h0M124.4 84.9h0M120.4 63h0M124.6 37.1h0M116.3 97.6h0M115.8 98.7h0M114.2 68.2h0M126.7 44.9h0M127.2 150.8h0M122.6 90.9h0M127.7 127.1h0M121.6 77.2h0M119.5 72.8h0M117.3 74.6h0M121.4 62.5h0M116.8 70.2h0M125.2 75.8h0M121.6 85.8h0M121.5 60.9h0M119.9 67.3h0M121 85.8h0M120.6 86.7h0M119.3 66.8h0M117.1 88.7h0M123.5 60.3h0M124.1 83.6h0M119.3 61.6h0M121.7 44h0M125.7 84h0M115.7 59.3h0M121.1 91.7h0M121.1 67.3h0M126.3 86.4h0M120.2 97.9h0M116.7 65h0M127.4 54.8h0M126.4 96.3h0M116.9 100.9h0" stroke="#1e1e1e" stroke-width="1.1" stroke-linecap="round" opacity="0.82"/>
<path d="M114.6 154.3h13.4" stroke="#111" stroke-width="1.4"/>
<path d="M121.3 161v1" stroke="#999" stroke-width="0.5"/>
<text transform="translate(125.4 170.8) scale(0.95 1.09) rotate(-45)" font-size="6.2" text-anchor="end" fill="#1a1a1a" stroke="#1a1a1a" stroke-width="0.12">PDAC.1</text>
<path d="M137.8 13.5 137.8 14.5 137.9 15.5 138 16.5 138.1 17.5 138.3 18.5 138.4 19.5 138.6 20.5 138.7 21.5 138.9 22.5 138.9 23.5 139 24.5 139 25.5 139 26.5 139.1 27.5 139.1 28.5 139.2 29.5 139.3 30.5 139.4 31.5 139.5 32.5 139.6 33.5 139.7 34.5 139.8 35.5 139.9 36.5 139.9 37.5 140 38.5 140 39.5 140 40.5 140 41.5 140.1 42.5 140.1 43.5 140.2 44.5 140.2 45.5 140.3 46.5 140.3 47.5 140.4 48.5 140.4 49.5 140.4 50.5 140.4 51.5 140.4 52.5 140.4 53.5 140.5 54.5 140.5 55.5 140.5 56.5 140.6 57.5 140.6 58.5 140.6 59.5 140.7 60.5 140.7 61.5 140.8 62.5 140.8 63.5 140.8 64.5 140.9 65.5 140.9 66.5 140.9 67.5 141 68.5 141 69.5 141 70.5 141.1 71.5 141.1 72.5 141.1 73.5 141.1 74.5 141.1 75.5 141.1 76.5 141.1 77.5 141.1 78.5 141 79.5 141 80.5 141 81.5 140.9 82.5 140.9 83.5 140.9 84.5 140.8 85.5 140.8 86.5 140.8 87.5 140.7 88.5 140.7 89.5 140.6 90.5 140.6 91.5 140.6 92.5 140.5 93.5 140.5 94.5 140.5 95.5 140.4 96.5 140.4 97.5 140.4 98.5 140.4 99.5 140.4 100.5 140.4 101.5 140.4 102.5 140.4 103.5 140.4 104.5 140.4 105.5 140.4 106.5 140.4 107.5 140.4 108.5 140.4 109.5 140.4 110.5 140.4 111.5 140.3 112.5 140.3 113.5 140.3 114.5 140.3 115.5 140.3 116.5 140.3 117.5 140.3 118.5 140.3 119.5 140.3 120.5 140.3 121.5 140.3 122.5 140.3 123.5 140.3 124.5 140.5 125.5 140.7 126.5 140.8 127.5 141 128.5 141 129.5 141.1 130.5 141.4 131.5 141.7 132.5 142 133.5 142.3 134.5 142.6 135.5 142.9 136.5 143 137.5 143 138.5 143.1 139.5 143.2 140.5 143.3 141.5 143.5 142.5 143.7 143.5 144 144.5 144.2 145.5 144.4 146.5 144.5 147.5 144.6 148.5 144.7 149.5 144.7 150.5 144.7 151.5 144.8 152.5 144.8 153.5 144.8 154 130.2 154 130.2 153.5 130.2 152.5 130.3 151.5 130.3 150.5 130.3 149.5 130.4 148.5 130.5 147.5 130.6 146.5 130.8 145.5 131 144.5 131.3 143.5 131.5 142.5 131.7 141.5 131.8 140.5 131.9 139.5 132 138.5 132 137.5 132.1 136.5 132.4 135.5 132.7 134.5 133 133.5 133.3 132.5 133.6 131.5 133.9 130.5 134 129.5 134 128.5 134.2 127.5 134.3 126.5 134.5 125.5 134.7 124.5 134.7 123.5 134.7 122.5 134.7 121.5 134.7 120.5 134.7 119.5 134.7 118.5 134.7 117.5 134.7 116.5 134.7 115.5 134.7 114.5 134.7 113.5 134.7 112.5 134.6 111.5 134.6 110.5 134.6 109.5 134.6 108.5 134.6 107.5 134.6 106.5 134.6 105.5 134.6 104.5 134.6 103.5 134.6 102.5 134.6 101.5 134.6 100.5 134.6 99.5 134.6 98.5 134.6 97.5 134.6 96.5 134.5 95.5 134.5 94.5 134.5 93.5 134.4 92.5 134.4 91.5 134.4 90.5 134.3 89.5 134.3 88.5 134.2 87.5 134.2 86.5 134.2 85.5 134.1 84.5 134.1 83.5 134.1 82.5 134 81.5 134 80.5 134 79.5 133.9 78.5 133.9 77.5 133.9 76.5 133.9 75.5 133.9 74.5 133.9 73.5 133.9 72.5 133.9 71.5 134 70.5 134 69.5 134 68.5 134.1 67.5 134.1 66.5 134.1 65.5 134.2 64.5 134.2 63.5 134.2 62.5 134.3 61.5 134.3 60.5 134.4 59.5 134.4 58.5 134.4 57.5 134.5 56.5 134.5 55.5 134.5 54.5 134.6 53.5 134.6 52.5 134.6 51.5 134.6 50.5 134.6 49.5 134.6 48.5 134.7 47.5 134.7 46.5 134.8 45.5 134.8 44.5 134.9 43.5 134.9 42.5 135 41.5 135 40.5 135 39.5 135 38.5 135.1 37.5 135.1 36.5 135.2 35.5 135.3 34.5 135.4 33.5 135.5 32.5 135.6 31.5 135.7 30.5 135.8 29.5 135.9 28.5 135.9 27.5 136 26.5 136 25.5 136 24.5 136.1 23.5 136.1 22.5 136.3 21.5 136.4 20.5 136.6 19.5 136.7 18.5 136.9 17.5 137 16.5 137.1 15.5 137.2 14.5 137.2 13.5Z" fill="#D86CC4"/>
<path d="M132 105.4h0M136 119.9h0M130.6 86.8h0M130.5 67.9h0M135.1 66.8h0M133 95.6h0M139.1 22.7h0M142.6 58.7h0M138.7 120.7h0M130.8 84.8h0M139 62.1h0M133.4 78.6h0M135.5 60.4h0M144.5 119.6h0M133.8 53.4h0M130.8 85.9h0M134.2 108.3h0M144.5 106h0M133.6 29.4h0M142.4 89.8h0M141.8 82.4h0M141.1 36.8h0M131.6 73h0M130.3 74.2h0M135.6 35.1h0M134.5 72h0M144.4 98h0M137.4 45h0M133.3 66.9h0M135.1 117.4h0M134.4 88.6h0M135.6 35h0M138 38.7h0M142.5 61.8h0M144.1 63.4h0M132.6 65.4h0M136.7 93.7h0M141.7 69.2h0M135.7 74.3h0M133.5 101h0M140 128.7h0M133.1 77.5h0M140.3 45.6h0M132.3 55.1h0M137.6 88.2h0M132.2 61.1h0M132.2 76.6h0M138.2 60.7h0M138.5 89.3h0M142.3 50.9h0M135.5 84.3h0M142.1 74h0M139.1 92.1h0M144.3 25.4h0M142.5 100.3h0M137.8 46.3h0M136.6 21.4h0M138 112.2h0M143.2 115.2h0M135.1 63h0M139.3 31.1h0M134.5 38.7h0M143.3 57.4h0M136.6 117h0M143.6 107.8h0M133.6 110.2h0M138.3 35.9h0M132.4 88.9h0M141.6 97.5h0M144.1 73.7h0M142.3 57.7h0M136 54.2h0M144 51.2h0M137.5 66h0M141 23.8h0M133.3 116.9h0M139.8 64.2h0M132.5 69.5h0M137.6 122h0M140.7 106.7h0M131.7 64.8h0M137.2 57.1h0M133.4 67.1h0M141.8 72h0M138.3 54.8h0M132.1 87.6h0M142.7 105.8h0M142 107.2h0M144 72.7h0M136.2 47.1h0M133.5 78.6h0M132.4 115.9h0M133 47.1h0M136.6 75.5h0M130.5 78.8h0M130.9 123.2h0M138 105.1h0M134.7 50.8h0M138.5 100.2h0M137.2 91.9h0M140.3 31.6h0M140.9 43.6h0M142.8 36.8h0M131.5 28.2h0M137.3 54.1h0M136.9 53.8h0M140.7 66.8h0M130.4 38.2h0M140.3 62.1h0M133.3 107h0M136.2 26.3h0M134.8 123.4h0M137.7 32.9h0M141.4 72.4h0M132.9 112h0M136.2 69.9h0M136.9 93.6h0M138.3 84.7h0M135.6 115.6h0M130.5 118h0M142.4 90.1h0M134.6 75.1h0M133.2 99.2h0M139.8 91.7h0M135 22.4h0M132.1 86.8h0M141.7 94.3h0M141.9 60h0M131.3 38.7h0M140.7 123.5h0M136 65.7h0M132.1 77.9h0M144.2 79.8h0M133.6 67.4h0M139.6 133.8h0M141.2 112.4h0M130.9 57.1h0M133.2 73.9h0M134.3 72.8h0M136.4 43h0M133.7 124.4h0M130.8 83.4h0M134.7 73.4h0M131.2 86.2h0M134.6 122.1h0M135.7 99h0M130.5 40h0M131.5 42.7h0M137.8 34.7h0M136.3 41.8h0M142.4 54.2h0M131.7 28.2h0M138.9 124.9h0M131.2 115.1h0M140.7 97.1h0M133 57h0M138.7 72.3h0M139.6 59.3h0M137.4 34.8h0M137.6 51.6h0M135.7 78.7h0M134.2 70.4h0M144.6 141.9h0M142 124.8h0M144.7 88.2h0M138.3 92.3h0M132.8 33.9h0M133.1 55.1h0M131.7 74.7h0M137.1 93.1h0M130.9 92.2h0M135.9 48h0M140.3 71.4h0M136.1 102.2h0M133 84.5h0M141.5 126h0M142.4 149h0M140.6 53.2h0M143 124.8h0M137.1 56.3h0M141.8 60.4h0M139.9 113.8h0M138.5 45.2h0M131.8 49.8h0M133.5 43.7h0M142.5 113.8h0M136 59.3h0M135.8 19.9h0M135.7 20.4h0M133.6 14h0M131.7 54h0M137.6 98.6h0M144.3 53.8h0M143.1 67h0M130.6 39.8h0M140.3 99.3h0M132.5 82.8h0M136 81.3h0M138.6 48.2h0M138.9 106.6h0M138.5 122.8h0M135.6 62.4h0M140.5 36.8h0M139.8 123.6h0M136.7 124.3h0M134.9 74.8h0M141.9 38.1h0M143.2 54.2h0M137.4 39.6h0M144.7 63.4h0M139.4 73.3h0M132.8 46h0M130.6 33h0M144 76.4h0M141.5 70.8h0M134.7 85.7h0M139.6 76.9h0M139 78.3h0M135.1 151.2h0M131.1 19.6h0M140.3 71.3h0M138.7 132.3h0M135.8 85h0M131.2 55.6h0M137.4 81.9h0M140.8 69.1h0M132 108.6h0M144.5 87.4h0M143 103.5h0M143.5 93.8h0M133.9 111.9h0M134.6 84.9h0M135.1 104.6h0M138.5 82.4h0M144.6 121.6h0M138.3 24h0M139.3 101h0M138 76.1h0M130.5 98.4h0M131.2 61.9h0M139.6 107h0M135.8 108.2h0M137.9 51.7h0M138.7 87.8h0M144 126.3h0M135.9 54h0M132.8 64.3h0M143.8 83.8h0M137.4 21.8h0M142.4 123.7h0M143.7 69h0M132.5 30.8h0M140.4 40.8h0M141.8 85.1h0M142.1 78.1h0M143.8 110.7h0M130.3 109.7h0M131.7 116.3h0M139.4 105.3h0M135 113h0M134.8 112.9h0M142.5 96.2h0M133.9 83.8h0M142.7 81.6h0M140.3 118.2h0M141.5 94.1h0M131.7 104.8h0M137 57.8h0M131.8 110.2h0M132.6 64.9h0M131.6 32.8h0M133.9 93.6h0M136.2 93.9h0M135.2 73h0M140.6 53.8h0M140.4 107h0M134.5 39.9h0M133.4 57.7h0M142.7 61.8h0M135.8 91h0M136.8 122.9h0M134 84.4h0M137.5 54.6h0M136.5 104.7h0M135.8 148h0M135.7 113.4h0M141 39.6h0M134.7 122.7h0M136.7 79.3h0M143.3 75.4h0M144.2 123h0M139.5 41.9h0M144.6 116.9h0M142.1 23.8h0M133.4 66.8h0M136.2 103.5h0M140.8 48.8h0M133.5 35.5h0M138.6 66.9h0M139.4 119.4h0M131.3 65.6h0M136.7 79.6h0M135.4 142.4h0M143.8 70.2h0M136.4 86.5h0M137.4 53.8h0M138.4 73.5h0M132.6 49.1h0M143.1 64.3h0M136.7 52.8h0M130.9 81.5h0M140.2 31.7h0M142.1 67.4h0M138.3 59.1h0M130.9 92.2h0M140.9 76.5h0M136.7 89.8h0M132.9 52.2h0M140.6 110.5h0M138.9 64.3h0M138.4 92.4h0M140 48h0M131.7 81.1h0M142.4 62.7h0M142.8 20.4h0M134.6 106.7h0M134.6 52.7h0M141.3 99.8h0M144.5 84.8h0M130.4 67.5h0M138.2 117h0M134.8 68.3h0M138.2 49.8h0M130.8 103.5h0M137.1 105.2h0M139.9 13.8h0M136.7 104.6h0M133.3 101.2h0M140.8 81.1h0M135.2 48.3h0M140.8 35.8h0M140.8 84.7h0M132.4 38.8h0M137.7 35.8h0M143.8 56.9h0M140.3 57.7h0M144 83.3h0M135.1 125.5h0M136.5 61.2h0M142.3 119h0M143.3 60h0M132 56.2h0M132.9 65.6h0M136.7 54.1h0M141.4 60h0M143.5 100.3h0M137.1 107.6h0M143.1 62.1h0M143.6 87.6h0M140.4 118h0M142.3 53h0M139.9 64.5h0M136.4 48.1h0M140.5 142.2h0M132 26.8h0M132.8 43h0M139.3 107.6h0M133.4 115.1h0M143.7 105h0M144.1 62.9h0M143.1 64.5h0M143.9 49h0M141.4 39.3h0M131.7 103.1h0M141.6 126.6h0M140.2 99.8h0M130.9 70.3h0M141.9 123.4h0M134.6 75.8h0M137.3 81.5h0" stroke="#1e1e1e" stroke-width="1.1" stroke-linecap="round" opacity="0.82"/>
<path d="M130.8 154.3h13.4" stroke="#111" stroke-width="1.4"/>
<path d="M137.5 161v1" stroke="#999" stroke-width="0.5"/>
<text transform="translate(141.6 170.8) scale(0.95 1.09) rotate(-45)" font-size="6.2" text-anchor="end" fill="#1a1a1a" stroke="#1a1a1a" stroke-width="0.12">PDAC.2</text>
<path d="M158.8 7V161H259.3" fill="none" stroke="#c4c4c4" stroke-width="1.2"/>
<path d="M158.3 154h-1.2" stroke="#999" stroke-width="0.5"/>
<path d="M158.3 106.5h-1.2" stroke="#999" stroke-width="0.5"/>
<path d="M158.3 59h-1.2" stroke="#999" stroke-width="0.5"/>
<path d="M158.3 11.5h-1.2" stroke="#999" stroke-width="0.5"/>
<text x="208.8" y="5.1" font-size="4.8" font-weight="bold" text-anchor="middle" fill="#1a1a1a">MUC1</text>
<text transform="translate(153.6 84) rotate(-90)" font-size="3.9" font-weight="bold" text-anchor="middle" fill="#c03030">Gene expression</text>
<text x="156.6" y="155" font-size="3" text-anchor="end" fill="#666">0</text>
<text x="156.6" y="107.5" font-size="3" text-anchor="end" fill="#666">2</text>
<text x="156.6" y="60" font-size="3" text-anchor="end" fill="#666">4</text>
<text x="156.6" y="12.5" font-size="3" text-anchor="end" fill="#666">6</text>
<path d="M168.9 18.7 169 19.7 169.2 20.7 169.5 21.7 169.8 22.7 170.3 23.7 170.7 24.7 171.1 25.7 171.5 26.7 171.8 27.7 172.1 28.7 172.2 29.7 172.2 30.7 172.3 31.7 172.5 32.7 172.8 33.7 173.1 34.7 173.3 35.7 173.6 36.7 173.8 37.7 174 38.7 174.1 39.7 174.1 40.7 174.2 41.7 174.2 42.7 174.4 43.7 174.5 44.7 174.6 45.7 174.8 46.7 175 47.7 175.2 48.7 175.3 49.7 175.5 50.7 175.6 51.7 175.7 52.7 175.8 53.7 175.8 54.7 175.8 55.7 175.8 56.7 175.8 57.7 175.8 58.7 175.8 59.7 175.7 60.7 175.7 61.7 175.7 62.7 175.7 63.7 175.7 64.7 175.6 65.7 175.6 66.7 175.6 67.7 175.6 68.7 175.6 69.7 175.6 70.7 175.6 71.7 175.5 72.7 175.4 73.7 175.4 74.7 175.3 75.7 175.2 76.7 175.1 77.7 175 78.7 174.9 79.7 174.8 80.7 174.7 81.7 174.7 82.7 174.6 83.7 174.6 84.7 174.6 85.7 174.5 86.7 174.3 87.7 174 88.7 173.7 89.7 173.5 90.7 173.2 91.7 173 92.7 172.8 93.7 172.7 94.7 172.6 95.7 172.4 96.7 172.1 97.7 171.7 98.7 171.3 99.7 171 100.7 170.8 101.7 170.8 102.7 170.6 103.7 170.4 104.7 170.1 105.7 169.9 106.7 169.8 107.7 169.8 108.7 169.7 109.7 169.5 110.7 169.4 111.7 169.3 112.7 169.2 113.7 169.2 114.7 169.2 115.7 169.2 116.7 169.2 117.7 169.2 118.7 169.2 119.7 169.2 120.7 169.2 121.7 169.2 122.7 169.2 123.7 169.2 124.7 169.2 125.7 169.2 126.7 169.2 127.7 169.2 128.7 169.2 129.7 169.2 130.7 169.2 131.7 169.4 132.7 169.6 133.7 169.9 134.7 170.2 135.7 170.5 136.7 170.8 137.7 171 138.7 171.1 139.7 171.2 140.7 171.4 141.7 171.7 142.7 172.2 143.7 172.7 144.7 173.3 145.7 173.8 146.7 174.2 147.7 174.5 148.7 174.7 149.7 174.7 150.7 174.8 151.7 174.9 152.7 174.9 153.7 174.9 154 162.3 154 162.3 153.7 162.3 152.7 162.4 151.7 162.5 150.7 162.5 149.7 162.7 148.7 163 147.7 163.4 146.7 163.9 145.7 164.5 144.7 165 143.7 165.5 142.7 165.8 141.7 166 140.7 166.1 139.7 166.2 138.7 166.4 137.7 166.7 136.7 167 135.7 167.3 134.7 167.6 133.7 167.8 132.7 168 131.7 168 130.7 168 129.7 168 128.7 168 127.7 168 126.7 168 125.7 168 124.7 168 123.7 168 122.7 168 121.7 168 120.7 168 119.7 168 118.7 168 117.7 168 116.7 168 115.7 168 114.7 168 113.7 167.9 112.7 167.8 111.7 167.7 110.7 167.5 109.7 167.4 108.7 167.4 107.7 167.3 106.7 167.1 105.7 166.8 104.7 166.6 103.7 166.4 102.7 166.4 101.7 166.2 100.7 165.9 99.7 165.5 98.7 165.1 97.7 164.8 96.7 164.6 95.7 164.5 94.7 164.4 93.7 164.2 92.7 164 91.7 163.7 90.7 163.5 89.7 163.2 88.7 162.9 87.7 162.7 86.7 162.6 85.7 162.6 84.7 162.6 83.7 162.5 82.7 162.5 81.7 162.4 80.7 162.3 79.7 162.2 78.7 162.1 77.7 162 76.7 161.9 75.7 161.8 74.7 161.8 73.7 161.7 72.7 161.6 71.7 161.6 70.7 161.6 69.7 161.6 68.7 161.6 67.7 161.6 66.7 161.6 65.7 161.5 64.7 161.5 63.7 161.5 62.7 161.5 61.7 161.5 60.7 161.4 59.7 161.4 58.7 161.4 57.7 161.4 56.7 161.4 55.7 161.4 54.7 161.4 53.7 161.5 52.7 161.6 51.7 161.7 50.7 161.9 49.7 162 48.7 162.2 47.7 162.4 46.7 162.6 45.7 162.7 44.7 162.8 43.7 163 42.7 163 41.7 163.1 40.7 163.1 39.7 163.2 38.7 163.4 37.7 163.6 36.7 163.9 35.7 164.1 34.7 164.4 33.7 164.7 32.7 164.9 31.7 165 30.7 165 29.7 165.1 28.7 165.4 27.7 165.7 26.7 166.1 25.7 166.5 24.7 166.9 23.7 167.4 22.7 167.7 21.7 168 20.7 168.2 19.7 168.3 18.7Z" fill="#F8766D"/>
<path d="M171.2 34.6h0M175 60.7h0M171.5 112.3h0M161.6 81.3h0M170 101.6h0M161.8 88h0M162 101.5h0M172.1 40.2h0M174.3 45.3h0M163.3 76.8h0M161.4 60.1h0M175.8 59.8h0M173.5 37.2h0M171.4 81.2h0M163.5 65.2h0M163.3 66.5h0M165.2 94.6h0M170.7 47.7h0M168.8 70.6h0M164.5 66.7h0M165.9 25.5h0M161.9 38.1h0M174.1 100.7h0M172.3 79.4h0M164.4 52.4h0M172.6 69.3h0M173.3 42h0M163.1 88.2h0M171.8 45.3h0M172.6 82.8h0M174.7 66.8h0M169.9 75.9h0M169.6 65.5h0M167.5 38.6h0M166.6 60.8h0M166.7 58.1h0M161.6 123.8h0M167.9 81.1h0M164.8 71.6h0M174.9 25.6h0M166.1 51.2h0M173.4 32.1h0M171.5 48h0M167 86.7h0M173.8 47.5h0M169.9 92.3h0M168 139.4h0M171.9 39.8h0M171 33h0M174.8 64.1h0M169.9 72.8h0M174.8 59.9h0M164.7 81.3h0M166.1 55.3h0M164 61.5h0M175 80.5h0M170.1 109.5h0M170.4 37.1h0M161.9 74.5h0M163.9 38.3h0M174.4 52.8h0M169.8 66.5h0M163.6 51h0M174.5 49.6h0M163.3 41.9h0M167.1 45.5h0M168.2 83.6h0M174.4 59h0M165 60.6h0M171.2 132.2h0M163.3 57.5h0M171.5 95.6h0M164.4 62.7h0M171.2 43h0M171.6 67.7h0M165.1 60.8h0M169.3 46h0M165.6 53.4h0M172.8 50.5h0M174.1 86.4h0M162 75.8h0M169 41.5h0M167.6 89.3h0M172.2 48.7h0M175.5 54.2h0M163.1 49.5h0M174.2 75.6h0M164.3 51.3h0M170.7 88.2h0M165.3 78h0M162 35.2h0M164.1 73h0M165 61.6h0M170.9 41.8h0M174 65.9h0M164.9 36.9h0M169.4 66.2h0M168.1 81.6h0M161.7 29.5h0M170.1 52.8h0M165.6 85.3h0M163 91.9h0M167.3 78.5h0M166 41.4h0M167.2 38.9h0M169.3 38.6h0M172.9 69.1h0M174.8 35h0M172.4 93.6h0M169.6 68h0M162.8 37.5h0M167.3 94.5h0M171.6 67.8h0M174.1 87h0M172.4 52.8h0M166.3 78.6h0M168 41.5h0M166 88h0M174.1 66.4h0M167.2 55.9h0M169.4 93.5h0M174.1 56h0M162.6 87h0M162 44.7h0M169.4 88.2h0M169.4 68.1h0M162.9 35.6h0M170.6 39.9h0M174.8 87.9h0M164.8 30.2h0M169.1 85.4h0M169 84.4h0M167.1 97.9h0M175.2 64h0M165.8 85.9h0M172.9 81.7h0M171.3 56.6h0M173 62.3h0M161.5 67.7h0M168.4 97.4h0M166.3 91.3h0M166.8 80.5h0M162.1 147.8h0M169.6 37.8h0M167.8 53.5h0M173.5 34.1h0M165.8 69.1h0M175.4 72h0M173.3 112.4h0M166.4 33.3h0M175.6 38.6h0M164.6 90.7h0M165.3 46.2h0M165.7 31.2h0M170 77.3h0M171.3 52.4h0M168.1 80.2h0M168.1 50.7h0M173.8 72.9h0M173.2 95.6h0M165.3 64.4h0M163 82.7h0M166.4 23.1h0M173.6 71.8h0M166.1 55.1h0M175.3 52.4h0M162.3 72h0M175.6 68.4h0M166.8 104.3h0M175.2 152.2h0M175 48.2h0M166.6 49.8h0M175 71.1h0M173.2 94.5h0M175 25.6h0M169.8 49.1h0M170.8 47.9h0M162.4 36.1h0M163.5 79h0M172.9 34.2h0M175.4 63h0M165.4 102.2h0M171.9 67.2h0M167.3 77.5h0M164.3 69.5h0M169.1 92.2h0M174.7 70.3h0M167.3 60.9h0M161.4 71.6h0M163.3 35.4h0M173.8 49.5h0M161.5 94.9h0M166.6 83.8h0M164.8 25.6h0M164.4 71.7h0M163 33.9h0M175.6 46.6h0M168.2 53.5h0M171.5 41.6h0M164.1 54h0M167.9 36.3h0M172.1 99.8h0M163.2 77.1h0M168.2 73.5h0M170.2 63.9h0M168.1 59.9h0M175.7 69.1h0M164.6 69h0M165 74.4h0M167 79.2h0M170.8 105.1h0M166.4 93.4h0M165.8 137.8h0M170.5 63.9h0M161.4 102.9h0M167.6 32.7h0M170.5 27.2h0M167.4 45.6h0M170.3 114.6h0M172.6 68h0M166 21.9h0M161.9 95.2h0M173 52.3h0M167 37.5h0M167.7 67.1h0M174.6 144.6h0M163.4 82.4h0M171.1 29h0M165.2 74h0M161.7 100.7h0M162.4 54.5h0M173.1 133.1h0M163 22.1h0M172.8 81.5h0M161.6 86.3h0M173.3 36h0M173.7 66.4h0M161.4 38h0M172.5 137.1h0M175.6 87.3h0M175.3 85.6h0M164.7 34.5h0M175.6 53.5h0M163.2 31.6h0M171.5 151.2h0M166.2 67h0M171.5 59.9h0M173.6 96h0M167.3 82.3h0M162.8 69.8h0M162.1 52.3h0M170.3 80.9h0M173.3 45.4h0M169.5 73.4h0M163.5 58h0M174.8 93.3h0M168.7 42.5h0M169.2 31.5h0M169.7 64.6h0M172.7 74.8h0M175.5 56.2h0M163 86.3h0M163.3 46.9h0M161.5 26.2h0M164.4 49.1h0M164.9 21h0M166.6 53.6h0M173.5 53.2h0M161.4 82.2h0M168 47.6h0M174.2 45.5h0M169.5 38.2h0M170.3 37.5h0M170.3 77.3h0M161.6 56.8h0M174.4 91.1h0M163.9 34h0M173.8 54.9h0M166.9 89h0M169.7 104h0M166.9 76.9h0M164.1 36.5h0M170.6 39h0M173.7 74.7h0M169.1 82.9h0M163.5 41.9h0M174.2 33.6h0M164.6 75.8h0M161.8 71.7h0M170.1 35.8h0M164.9 34.5h0M166.3 71.7h0M167.5 107.6h0M175.6 68.5h0M171.7 84.7h0M175.4 75.2h0M169.6 83.9h0M172.7 60.9h0M168.4 46.9h0M171.8 60.9h0M172.9 144.2h0M168.5 49.9h0M166.5 105.6h0M169.1 27.2h0M168.4 52.3h0M167.8 32.9h0M169 55.2h0M161.7 57.8h0M165.5 69.7h0M172.1 55.5h0M161.5 65.5h0M166.7 38.9h0M175.3 58.6h0M175.3 61.3h0M173.3 75.3h0M175.2 53.7h0M162.4 67.8h0M170.7 82.6h0M166.7 51.6h0M164.6 51.1h0M175.5 50.2h0M172.9 37.4h0M172.7 33.6h0M163.1 80.5h0M173.1 96.1h0M168.3 64.1h0M168.5 48.9h0M174 29.9h0M163.6 70.6h0M163 64.2h0M171.8 50.1h0M173.8 66.3h0M162.1 110.8h0M164.9 93.9h0M169.8 39.7h0M163.4 62.7h0M165.8 80.7h0M174.7 90.6h0M167 138.8h0M172.1 62h0M168.7 97.8h0M167.9 121.1h0M168.9 36.7h0M165.4 85.9h0M170.2 138.2h0M167.5 36h0M174 101.4h0M162.6 46.7h0M175.4 33.6h0M161.9 55.9h0M162.8 66.7h0M166.1 70.6h0M163.1 89.9h0M165.2 36.3h0M175.4 75.2h0M172.8 92.8h0M175.7 84.2h0M164.5 71.8h0M170.4 38.8h0M161.5 92.2h0M165.2 125h0M172.8 93.3h0M170.2 97.3h0M170.2 22.8h0M163 84.7h0M162.5 46.9h0M172.9 36.5h0M175.3 68.6h0M169.5 70.4h0M167.7 92.1h0M170.6 71.2h0M166 43.3h0M161.7 63.9h0M170 65.5h0M170.5 88.7h0M168.7 51h0M172.4 67.4h0M165.1 65.1h0M174.9 90.6h0M170.5 48.3h0M171.2 27.1h0M171.2 54.6h0M172.7 41.6h0M162.9 77.8h0M161.9 46h0M174.7 75.3h0M168.2 69.6h0M168.1 66.5h0M161.4 104.7h0M170.4 55.4h0M174.8 66.2h0M161.8 83.8h0M170.8 79.3h0M167.9 65.2h0M162 90.3h0M169.2 38.6h0M174.7 41.9h0M173 93.3h0M173.1 34.7h0M173.9 54.3h0M162.3 79.2h0M170.3 69.7h0M169.7 94.3h0M163.5 43h0M170.9 62.7h0M172.5 75.6h0M169.2 34.1h0M162.6 104.2h0M175.6 79.4h0M168.5 68.6h0M171.6 53.9h0M167.5 62.5h0M163.7 79.9h0M162.4 64.4h0M165.2 50.7h0M162.6 84.5h0M172.6 65.1h0M170.3 30.4h0M168.9 64.4h0M163.3 43.4h0M169.6 53.1h0M168.5 66.4h0M161.7 57.8h0M175.7 55.2h0M163.7 98.9h0M173 92h0M172.1 75.8h0M169.2 50h0M165.1 84h0M162.5 59.6h0M168.5 94.9h0M162.4 69.1h0M169.1 56.4h0M164.6 65h0M174.9 77h0M165.4 98.2h0M166.6 65.8h0M175.2 33.7h0M165.4 84.1h0M173.6 102.8h0M175.1 91.8h0M167.5 75.1h0M173.9 72.7h0M161.5 96.5h0M170.8 85.3h0M174.3 33.3h0M175.4 56.2h0M162.3 44.3h0M163.7 69.9h0M173.3 84.7h0M171.7 86.6h0M173 69h0M164 74.4h0M173.8 54.5h0M175.7 85.5h0M166.1 31.3h0M166.6 34.1h0M169.1 58.6h0M168 74.1h0M169 112.5h0M163.5 63.8h0M167.6 66h0M163.4 32.1h0M170.8 95.2h0M167.5 40h0M167.4 83.6h0M165.4 58.7h0M163.3 109.9h0M171.8 68.6h0M166.6 29.4h0M167.6 102h0M165.4 53.2h0M171.6 77.1h0M169.4 51.7h0M167.6 80.9h0M163.5 34.3h0M170.9 43.4h0M164.8 55.1h0M163.5 47.9h0M165 78.3h0M167.6 88.4h0M167.7 72.9h0M175 35.1h0M162.7 57.3h0M166.8 85.6h0M165 56.7h0M171.3 45.3h0M175.3 66.7h0M173.5 94.6h0M175.5 26.3h0M170.3 94.3h0M163.5 61.1h0M163.2 68.5h0M174 94.3h0M165.4 51.8h0M170.7 89.4h0M162.6 69h0M173.2 64.7h0M165.8 44.9h0M170.5 86.9h0M171.6 27.8h0M168.2 64.8h0M169.4 105.6h0M162 60.2h0M166.4 95.3h0M174.8 50.9h0M170.1 90.6h0M161.9 68.9h0M169.5 81.9h0M163.8 25.2h0M175.7 75.8h0M161.6 76.2h0M173.8 113.2h0M168.3 29.5h0M162.5 46.1h0M171.5 70.4h0M170.3 42.9h0M165.7 80.7h0M174.3 78.1h0M170 89.5h0M175.4 50.1h0M173.2 109h0M173 78h0M172.9 62.1h0M174 76.2h0M168.1 27.7h0M162.7 36h0M163.3 94.9h0M167.3 83.9h0M175.1 71.8h0M168.1 65.7h0M163 59.9h0M172.4 79.1h0M162.8 68.1h0M174.1 35.2h0M172.2 93.4h0M173.8 87.7h0M168.8 43.5h0M165.8 81.1h0M167.4 93.6h0M171.6 46.7h0M168.5 56.4h0M165.5 25.2h0M164.4 69.2h0M163.6 31.9h0M162 91.7h0M163.9 50.2h0M167.8 53.1h0M163 47.3h0M162.7 66.8h0M172.1 68.5h0M170.1 73.6h0M171.5 42.9h0M167.4 87.8h0M174 51.2h0M172.4 69.9h0M166.8 50.8h0M171 63.7h0M163.7 42.5h0M175.6 53.5h0" stroke="#1e1e1e" stroke-width="1.1" stroke-linecap="round" opacity="0.82"/>
<path d="M161.9 154.3h13.4" stroke="#111" stroke-width="1.4"/>
<path d="M168.6 161v1" stroke="#999" stroke-width="0.5"/>
<text transform="translate(172.7 170.8) scale(0.95 1.09) rotate(-45)" font-size="6.2" text-anchor="end" fill="#1a1a1a" stroke="#1a1a1a" stroke-width="0.12">LG.IPMN1</text>
<path d="M185.1 40.8 185.2 41.8 185.4 42.8 185.7 43.8 185.8 44.8 185.8 45.8 185.9 46.8 186 47.8 186.1 48.8 186.2 49.8 186.4 50.8 186.5 51.8 186.6 52.8 186.7 53.8 186.7 54.8 186.7 55.8 186.7 56.8 186.8 57.8 186.9 58.8 186.9 59.8 187 60.8 187.1 61.8 187.2 62.8 187.3 63.8 187.4 64.8 187.5 65.8 187.6 66.8 187.6 67.8 187.7 68.8 187.7 69.8 187.7 70.8 187.7 71.8 187.8 72.8 187.8 73.8 187.8 74.8 187.9 75.8 188 76.8 188 77.8 188.1 78.8 188.1 79.8 188.2 80.8 188.2 81.8 188.3 82.8 188.3 83.8 188.3 84.8 188.3 85.8 188.3 86.8 188.2 87.8 188.2 88.8 188.2 89.8 188.1 90.8 188 91.8 188 92.8 187.9 93.8 187.9 94.8 187.8 95.8 187.8 96.8 187.7 97.8 187.7 98.8 187.7 99.8 187.7 100.8 187.7 101.8 187.6 102.8 187.6 103.8 187.5 104.8 187.5 105.8 187.4 106.8 187.3 107.8 187.2 108.8 187.1 109.8 187 110.8 186.9 111.8 186.9 112.8 186.8 113.8 186.7 114.8 186.6 115.8 186.6 116.8 186.5 117.8 186.5 118.8 186.5 119.8 186.5 120.8 186.5 121.8 186.6 122.8 186.6 123.8 186.6 124.8 186.7 125.8 186.7 126.8 186.8 127.8 186.8 128.8 186.8 129.8 186.9 130.8 187.2 131.8 187.4 132.8 187.4 133.8 187.6 134.8 187.9 135.8 188.2 136.8 188.6 137.8 189 138.8 189.3 139.8 189.5 140.8 189.6 141.8 189.6 142.8 189.8 143.8 190 144.8 190.2 145.8 190.5 146.8 190.7 147.8 190.9 148.8 191 149.8 191 150.8 191.1 151.8 191.2 152.8 191.2 153.8 191.2 154 178.4 154 178.4 153.8 178.4 152.8 178.5 151.8 178.6 150.8 178.6 149.8 178.7 148.8 178.9 147.8 179.1 146.8 179.4 145.8 179.6 144.8 179.8 143.8 180 142.8 180 141.8 180.1 140.8 180.3 139.8 180.6 138.8 181 137.8 181.4 136.8 181.7 135.8 182 134.8 182.2 133.8 182.2 132.8 182.4 131.8 182.7 130.8 182.8 129.8 182.8 128.8 182.8 127.8 182.9 126.8 182.9 125.8 183 124.8 183 123.8 183 122.8 183.1 121.8 183.1 120.8 183.1 119.8 183.1 118.8 183.1 117.8 183 116.8 183 115.8 182.9 114.8 182.8 113.8 182.7 112.8 182.7 111.8 182.6 110.8 182.5 109.8 182.4 108.8 182.3 107.8 182.2 106.8 182.1 105.8 182.1 104.8 182 103.8 182 102.8 181.9 101.8 181.9 100.8 181.9 99.8 181.9 98.8 181.9 97.8 181.8 96.8 181.8 95.8 181.7 94.8 181.7 93.8 181.6 92.8 181.6 91.8 181.5 90.8 181.4 89.8 181.4 88.8 181.4 87.8 181.3 86.8 181.3 85.8 181.3 84.8 181.3 83.8 181.3 82.8 181.4 81.8 181.4 80.8 181.5 79.8 181.5 78.8 181.6 77.8 181.6 76.8 181.7 75.8 181.8 74.8 181.8 73.8 181.8 72.8 181.9 71.8 181.9 70.8 181.9 69.8 181.9 68.8 182 67.8 182 66.8 182.1 65.8 182.2 64.8 182.3 63.8 182.4 62.8 182.5 61.8 182.6 60.8 182.7 59.8 182.7 58.8 182.8 57.8 182.9 56.8 182.9 55.8 182.9 54.8 182.9 53.8 183 52.8 183.1 51.8 183.2 50.8 183.4 49.8 183.5 48.8 183.6 47.8 183.7 46.8 183.8 45.8 183.8 44.8 183.9 43.8 184.2 42.8 184.4 41.8 184.5 40.8Z" fill="#B4A01C"/>
<path d="M178.1 79.3h0M178.1 133.5h0M188.4 106h0M182.7 43.4h0M182.6 55.8h0M191.5 104.8h0M190.8 114h0M185.2 120.9h0M180.8 64.1h0M182.3 66.4h0M189.5 106.9h0M184.9 56.1h0M187.6 96h0M186 81.5h0M188.4 61.6h0M185.5 45.9h0M184.5 102.6h0M178.7 86h0M186.1 88.1h0M180.9 71h0M190.3 120.7h0M185.6 104.1h0M186.7 44.7h0M184.7 58.8h0M190.7 99.1h0M189.4 95.4h0M187.8 119.1h0M178.6 116.7h0M189.1 113.5h0M190.6 100.8h0M191.4 110.8h0M187.3 92.5h0M184.9 81.3h0M189.8 67.6h0M187.5 115h0M187.2 88.4h0M191.6 43.7h0M178.7 67.3h0M178.1 71.1h0M190.1 110.1h0M183 71.7h0M185.4 84.8h0M177.7 99.9h0M189.5 71.4h0M187.4 70.8h0M182.2 66.5h0M189.6 88.9h0M187.5 108.9h0M182.3 76.9h0M179.5 104.9h0M177.8 69.8h0M179.5 50.7h0M188.4 119.4h0M185.4 109.1h0M183.2 150.4h0M191.4 142.6h0M182.1 74.7h0M187.5 98.2h0M188 65.8h0M179.1 88.1h0M188.8 94.1h0M184.5 98.9h0M183.3 71.9h0M186.1 84.8h0M181.6 120.1h0M189.8 64.9h0M182.8 123.4h0M191.7 122.2h0M178.6 150.1h0M177.8 70.3h0M187.4 70.8h0M182.4 62.4h0M179.1 55.9h0M178.2 110.2h0M187 110.6h0M178.8 74.6h0M180.8 51.3h0M178.3 123.6h0M179.7 56.9h0M180.9 99h0M190.1 85.5h0M186.6 96.5h0M188.8 53.2h0M184.7 88.4h0M181.6 105.8h0M177.7 88h0M188 89.2h0M186 67.3h0M184.9 92.8h0M185 101.2h0M179.3 108.5h0M182.7 71.1h0M192 86.6h0M187.7 104.2h0M186.7 124h0M190.2 135.2h0M179.7 110.1h0M182.6 110.2h0M190.5 85.5h0M180.1 124.1h0M180.5 78.8h0M184.5 77h0M183.5 61h0M182.3 70.5h0M188.5 47.6h0M181.4 118.6h0M191.5 100.9h0M178.3 97.8h0M191.7 73.2h0M178.7 61.9h0M189.3 141h0M181.1 105h0M178.8 49.9h0M190.8 65.5h0M191.6 108.6h0M183.1 62.9h0M189 109.9h0M182.4 90.6h0M188 49.9h0M180.5 88.1h0M189.9 72.5h0M188 101.5h0M181.3 49.8h0M187.4 107h0M186.8 65.8h0M189.7 100.8h0M185.1 121.2h0M187 98.2h0M184.7 88.6h0M183.6 48.8h0M180.8 76.7h0M190.4 75.5h0M179.4 85.1h0M188.8 88.5h0M191.4 80h0M182.6 95h0M183.4 58.9h0M188.5 120.5h0M179.5 92.1h0M186.2 151.9h0M187.8 65.4h0M181.3 104h0M186.8 87.1h0M188.8 122.4h0M185.3 45.4h0M187.2 54.2h0M184.9 116.9h0M190.5 108.9h0M180.6 126.6h0M183.6 62h0M185.6 102.7h0M187.1 132.7h0M177.9 40.7h0M179.2 61.1h0M185.2 74.3h0M187.3 48.4h0M184.5 80.9h0M178.3 79.8h0M185.5 64.9h0M179.2 136.6h0M191.7 89.7h0M181.3 102.4h0M183.1 83.3h0M183.7 91.4h0M184.9 147.7h0M188.2 106.1h0M180.5 80h0M180.4 94.8h0M188.2 64.7h0M178.9 47.2h0M186.4 132.2h0M184 114.7h0M188.8 115.3h0M179.7 98.1h0M186.3 55.3h0M185.8 100.5h0M189.4 139.6h0M183.9 136.5h0M179.4 82.3h0M180.1 54.1h0M190.2 121.2h0M190.5 92.2h0M181.1 102.2h0M189.5 91.6h0M182.5 50.4h0M191.7 82.3h0M191.4 150.7h0M185.7 134.3h0M184.6 66.6h0M186.6 106.7h0M179.5 101.3h0M180.2 84.4h0M179.5 144.7h0M186.3 82.9h0M186.8 68.5h0M187.9 124.3h0M183.7 92.8h0M185.1 44.7h0M182.5 77.3h0M189 115.1h0M189.7 86.8h0M177.8 59h0M191.4 86.8h0M184.7 125.2h0M185.1 58.1h0M178.2 64.7h0M192 66.3h0M189 61.1h0M177.9 77.2h0M189.8 69.6h0M190.4 58h0M178.3 142.6h0M179.4 86h0M185.9 70h0M178.6 60.6h0M184.4 125.1h0M180.6 136.8h0M186.6 70.5h0M188.7 93.8h0M187.2 89.1h0M184.6 130.8h0M183.8 61.5h0M191.4 114h0M191.6 92.9h0M179.1 110.1h0M190.9 123.9h0M191.3 126h0M186.2 95h0M188.3 67.9h0M185.7 83.9h0M190.2 71.6h0M189.4 95.5h0M183.8 83.3h0M190.3 78.6h0M180.7 74.5h0M188.8 44h0M188 76.8h0M189.8 76.1h0M183.9 62.2h0M185.2 72.2h0M178.5 89.1h0M187.6 96.5h0M177.8 81.2h0M185.6 59.8h0M185.2 88.5h0M191.5 42.3h0M187 119.4h0M189.7 87.8h0M187.4 97.7h0M189.4 122.9h0M189 76.2h0M183.2 139.1h0M178.4 89.1h0M187.9 89.9h0M188.2 77.4h0M190.6 80h0M184.6 79.3h0M181.7 113.6h0M179.8 81h0M188.1 144.3h0M183.2 81.3h0M191.7 91.9h0M178 93.3h0M187 70.1h0M181.5 64.8h0M185.1 92h0M178.8 105.4h0M188.5 98.3h0M189.8 125.7h0M177.7 69h0M184.1 112.2h0M180.9 87.2h0M178.4 100.9h0M181.7 72.7h0M183 73.9h0M179.5 130.8h0M184 68.5h0M190.4 73.5h0M179.2 53.8h0M183.8 74.4h0M191.5 79h0M186.9 143.7h0M190.3 60.9h0M180 118.9h0M188.6 122h0M177.9 53.9h0M182.2 104.6h0M192 42.5h0M182.3 95.7h0M182.9 111.8h0M183.8 68.8h0M188 83.6h0M189.9 145.8h0M189.2 81.2h0M187.7 141.1h0M191.3 113.2h0M177.7 89.2h0M177.6 89.2h0M191 150.1h0M188.9 45.7h0M184.6 99.5h0M188.6 56.6h0M189.2 86.4h0M184.6 87.3h0M182.4 104.5h0M187.3 107.7h0M191.1 80.2h0M182.7 107.7h0M178.1 83.4h0M178.5 90.7h0M192 120.4h0M188.4 103.5h0M189.9 81.9h0M180.7 118.5h0M182.8 87.3h0M191.7 86.8h0M190.7 96.8h0M183.1 65.1h0M188.3 93.9h0M182.9 74.5h0M186.9 108.3h0M177.7 151.6h0M186.9 120.8h0M183.2 113.2h0M188.1 147.7h0M183.6 113.2h0M183.5 78.6h0M191.8 114.4h0M186.8 108.9h0M190.2 74.6h0M180.8 79.8h0M186.8 71.2h0M180.3 84.4h0M185.9 42.7h0M182.3 65.3h0M182.8 71.5h0M183 105h0M185.5 49.1h0M185.5 93h0M191.5 121.8h0M190.7 95.2h0M177.7 120.9h0M185.9 95.7h0M189.8 112.4h0M178.1 75.1h0M185.2 58.1h0M181.8 127h0M182.7 79.4h0M178.2 99h0M179.5 93h0M178.5 51.5h0M179.9 125h0M178.9 81.4h0M190.7 78.2h0M186 105.9h0M184.8 88.5h0M181.9 81.1h0M191.5 81.5h0M183.4 77.2h0M189 67.2h0M181.7 65.8h0M179.3 93.1h0M186.9 86.5h0M180.9 99.5h0M190.5 74.1h0M183.3 118.6h0M184.2 84.5h0M183.3 131.4h0M181.9 66.6h0M187.5 86.4h0M188 88.6h0M181.2 104.6h0M191.1 93.3h0M182.8 103.3h0M188.7 54.9h0M187.5 58.9h0M183.5 86.1h0M182.2 146.2h0M184.1 89.9h0M189.4 112h0" stroke="#1e1e1e" stroke-width="1.1" stroke-linecap="round" opacity="0.82"/>
<path d="M178.1 154.3h13.4" stroke="#111" stroke-width="1.4"/>
<path d="M184.8 161v1" stroke="#999" stroke-width="0.5"/>
<text transform="translate(188.9 170.8) scale(0.95 1.09) rotate(-45)" font-size="6.2" text-anchor="end" fill="#1a1a1a" stroke="#1a1a1a" stroke-width="0.12">LG.IPMN2</text>
<path d="M201.1 20.6 201.2 21.6 201.5 22.6 201.9 23.6 202.5 24.6 203 25.6 203.6 26.6 204 27.6 204.4 28.6 204.6 29.6 204.6 30.6 204.7 31.6 204.8 32.6 205 33.6 205.2 34.6 205.4 35.6 205.6 36.6 205.8 37.6 205.9 38.6 206 39.6 206 40.6 206 41.6 206.1 42.6 206.2 43.6 206.3 44.6 206.5 45.6 206.6 46.6 206.8 47.6 206.9 48.6 207.1 49.6 207.2 50.6 207.3 51.6 207.4 52.6 207.5 53.6 207.5 54.6 207.5 55.6 207.5 56.6 207.5 57.6 207.6 58.6 207.6 59.6 207.6 60.6 207.7 61.6 207.7 62.6 207.7 63.6 207.8 64.6 207.8 65.6 207.8 66.6 207.9 67.6 207.9 68.6 207.9 69.6 207.9 70.6 207.9 71.6 207.8 72.6 207.7 73.6 207.7 74.6 207.6 75.6 207.4 76.6 207.3 77.6 207.2 78.6 207.1 79.6 207 80.6 206.9 81.6 206.9 82.6 206.8 83.6 206.8 84.6 206.8 85.6 206.7 86.6 206.6 87.6 206.4 88.6 206.3 89.6 206.1 90.6 205.9 91.6 205.8 92.6 205.7 93.6 205.6 94.6 205.6 95.6 205.5 96.6 205.3 97.6 205 98.6 204.8 99.6 204.5 100.6 204.2 101.6 204 102.6 203.8 103.6 203.7 104.6 203.7 105.6 203.6 106.6 203.4 107.6 203.2 108.6 203 109.6 202.8 110.6 202.6 111.6 202.4 112.6 202.2 113.6 202.2 114.6 202.1 115.6 202.1 116.6 202.1 117.6 202 118.6 202 119.6 202 120.6 202.2 121.6 202.3 122.6 202.4 123.6 202.4 124.6 202.5 125.6 202.6 126.6 202.7 127.6 202.9 128.6 203.1 129.6 203.3 130.6 203.5 131.6 203.7 132.6 203.9 133.6 204 134.6 204.2 135.6 204.4 136.6 204.5 137.6 204.6 138.6 204.6 139.6 204.6 140.6 204.7 141.6 204.9 142.6 205.1 143.6 205.3 144.6 205.6 145.6 205.8 146.6 206.1 147.6 206.2 148.6 206.3 149.6 206.3 150.6 206.4 151.6 206.5 152.6 206.6 153.6 206.6 154 195 154 195 153.6 195.1 152.6 195.2 151.6 195.3 150.6 195.3 149.6 195.4 148.6 195.5 147.6 195.8 146.6 196 145.6 196.3 144.6 196.5 143.6 196.7 142.6 196.9 141.6 197 140.6 197 139.6 197 138.6 197.1 137.6 197.2 136.6 197.4 135.6 197.6 134.6 197.7 133.6 197.9 132.6 198.1 131.6 198.3 130.6 198.5 129.6 198.7 128.6 198.9 127.6 199 126.6 199.1 125.6 199.2 124.6 199.2 123.6 199.3 122.6 199.4 121.6 199.6 120.6 199.6 119.6 199.6 118.6 199.5 117.6 199.5 116.6 199.5 115.6 199.4 114.6 199.4 113.6 199.2 112.6 199 111.6 198.8 110.6 198.6 109.6 198.4 108.6 198.2 107.6 198 106.6 197.9 105.6 197.9 104.6 197.8 103.6 197.6 102.6 197.4 101.6 197.1 100.6 196.8 99.6 196.6 98.6 196.3 97.6 196.1 96.6 196 95.6 196 94.6 195.9 93.6 195.8 92.6 195.7 91.6 195.5 90.6 195.3 89.6 195.2 88.6 195 87.6 194.9 86.6 194.8 85.6 194.8 84.6 194.8 83.6 194.7 82.6 194.7 81.6 194.6 80.6 194.5 79.6 194.4 78.6 194.3 77.6 194.2 76.6 194 75.6 193.9 74.6 193.9 73.6 193.8 72.6 193.7 71.6 193.7 70.6 193.7 69.6 193.7 68.6 193.7 67.6 193.8 66.6 193.8 65.6 193.8 64.6 193.9 63.6 193.9 62.6 193.9 61.6 194 60.6 194 59.6 194 58.6 194.1 57.6 194.1 56.6 194.1 55.6 194.1 54.6 194.1 53.6 194.2 52.6 194.3 51.6 194.4 50.6 194.5 49.6 194.7 48.6 194.8 47.6 195 46.6 195.1 45.6 195.3 44.6 195.4 43.6 195.5 42.6 195.6 41.6 195.6 40.6 195.6 39.6 195.7 38.6 195.8 37.6 196 36.6 196.2 35.6 196.4 34.6 196.6 33.6 196.8 32.6 196.9 31.6 197 30.6 197 29.6 197.2 28.6 197.6 27.6 198 26.6 198.6 25.6 199.1 24.6 199.7 23.6 200.1 22.6 200.4 21.6 200.5 20.6Z" fill="#12B840"/>
<path d="M201.4 50.6h0M205.3 74.1h0M205.9 64.8h0M204.3 72.8h0M194.4 78h0M202.8 56.3h0M195.6 47.6h0M200.2 44.1h0M201.2 66.1h0M194.4 50.7h0M196 42h0M204.2 65.8h0M194.6 100.9h0M203 123.2h0M206.4 88.6h0M206.7 41.8h0M199.9 104.9h0M199.1 69.9h0M196.5 50.6h0M198.1 41.5h0M203.6 58.6h0M198.9 63.7h0M199.7 54h0M194.3 125.9h0M204.9 104.7h0M205.6 75.4h0M201.6 64.1h0M199 116h0M203 83.3h0M204.6 28.3h0M194.6 45.7h0M205.8 71.7h0M204.2 63.1h0M199.7 63.3h0M206.4 77h0M203.2 55.6h0M205.2 82.7h0M205.4 94.2h0M203.2 40h0M202.8 36.3h0M197.6 55h0M207.1 68.1h0M204 55h0M206.3 74h0M194.2 88.1h0M195.3 48.3h0M199.2 78.9h0M204.4 95.4h0M207.8 65.1h0M194.7 110.2h0M195.3 105.1h0M204.5 80.3h0M206.7 82.3h0M207.7 151.8h0M205.5 93.1h0M194.8 113.8h0M198.9 59.8h0M195.6 43.6h0M204.1 66.7h0M195.1 48h0M196.5 78.7h0M202.5 78.1h0M205.6 45.1h0M198.4 77.3h0M200.5 101.2h0M193.6 69.5h0M200.2 37.9h0M194.4 53.6h0M204.5 35.4h0M194.7 45.9h0M204.4 55.6h0M208 69.4h0M195.5 73.1h0M206.5 81.2h0M207.9 31.7h0M202.2 62.2h0M198.9 38.9h0M203.6 87.4h0M206.8 44.6h0M202.5 43.9h0M203.6 148.1h0M205.7 66.1h0M198.2 36.7h0M199.6 88.8h0M203.7 42.4h0M207.3 73.3h0M205.2 50.3h0M198.1 52h0M207.6 120.7h0M198.9 102.9h0M205.2 66.2h0M196.7 63.5h0M196.1 69.7h0M201.8 53.1h0M205.1 77.5h0M194.8 72.3h0M195.9 56.1h0M202.2 97.7h0M206.1 60.3h0M207.5 96.1h0M204.6 62.1h0M201.1 52.4h0M206.4 97.2h0M199.5 81.7h0M203.9 60.5h0M206.2 64.8h0M207.2 35.1h0M199.4 46.4h0M199.8 48.1h0M193.8 75.7h0M204.4 54h0M199.6 51h0M198.7 84.4h0M199.8 68.8h0M194.4 88.1h0M196.9 58.2h0M198.8 60.7h0M194.5 45.5h0M201.6 105.7h0M202.6 72h0M194.5 102.4h0M202.2 47h0M198.3 88.5h0M206.8 83.2h0M203.6 42.9h0M204.9 106.1h0M198.3 38.2h0M196.3 82.9h0M203.9 52.3h0M194.5 107.5h0M203.9 93.4h0M194 68h0M200.2 48.8h0M201.3 102.4h0M199.4 136.1h0M206.1 70.7h0M197.5 42.2h0M197.8 60.6h0M202.6 44.3h0M195.1 35.6h0M198.8 48.4h0M195.1 68.5h0M197.3 74.2h0M206.4 58.5h0M194.6 90.6h0M199.9 58.9h0M194.2 61.2h0M195.2 79.8h0M197.4 63.5h0M201.6 70.9h0" stroke="#1e1e1e" stroke-width="1.1" stroke-linecap="round" opacity="0.82"/>
<path d="M194.1 154.3h13.4" stroke="#111" stroke-width="1.4"/>
<path d="M200.8 161v1" stroke="#999" stroke-width="0.5"/>
<text transform="translate(204.9 170.8) scale(0.95 1.09) rotate(-45)" font-size="6.2" text-anchor="end" fill="#1a1a1a" stroke="#1a1a1a" stroke-width="0.12">HG.IPMN1</text>
<path d="M217.2 21.5 217.2 22.5 217.3 23.5 217.4 24.5 217.5 25.5 217.6 26.5 217.7 27.5 217.8 28.5 217.8 29.5 217.8 30.5 217.8 31.5 217.9 32.5 217.9 33.5 217.9 34.5 218 35.5 218.1 36.5 218.1 37.5 218.1 38.5 218.1 39.5 218.2 40.5 218.2 41.5 218.2 42.5 218.3 43.5 218.3 44.5 218.4 45.5 218.5 46.5 218.6 47.5 218.7 48.5 218.7 49.5 218.8 50.5 218.9 51.5 218.9 52.5 219 53.5 219 54.5 219 55.5 219 56.5 219 57.5 219.1 58.5 219.1 59.5 219.2 60.5 219.2 61.5 219.2 62.5 219.3 63.5 219.3 64.5 219.4 65.5 219.4 66.5 219.5 67.5 219.5 68.5 219.5 69.5 219.5 70.5 219.5 71.5 219.5 72.5 219.5 73.5 219.5 74.5 219.5 75.5 219.5 76.5 219.5 77.5 219.5 78.5 219.5 79.5 219.5 80.5 219.5 81.5 219.5 82.5 219.5 83.5 219.5 84.5 219.5 85.5 219.5 86.5 219.5 87.5 219.5 88.5 219.5 89.5 219.5 90.5 219.5 91.5 219.5 92.5 219.4 93.5 219.4 94.5 219.4 95.5 219.3 96.5 219.3 97.5 219.2 98.5 219.2 99.5 219.1 100.5 219.1 101.5 219 102.5 218.9 103.5 218.9 104.5 218.8 105.5 218.8 106.5 218.7 107.5 218.7 108.5 218.6 109.5 218.6 110.5 218.6 111.5 218.5 112.5 218.5 113.5 218.5 114.5 218.5 115.5 218.5 116.5 218.5 117.5 218.6 118.5 218.6 119.5 218.7 120.5 218.7 121.5 218.8 122.5 218.8 123.5 218.8 124.5 218.8 125.5 219 126.5 219.2 127.5 219.4 128.5 219.4 129.5 219.5 130.5 219.7 131.5 219.9 132.5 220.1 133.5 220.4 134.5 220.7 135.5 220.9 136.5 221.1 137.5 221.3 138.5 221.4 139.5 221.4 140.5 221.5 141.5 221.7 142.5 221.9 143.5 222.2 144.5 222.5 145.5 222.8 146.5 223 147.5 223.2 148.5 223.3 149.5 223.3 150.5 223.4 151.5 223.4 152.5 223.5 153.5 223.5 154 210.3 154 210.3 153.5 210.4 152.5 210.4 151.5 210.5 150.5 210.5 149.5 210.6 148.5 210.8 147.5 211 146.5 211.3 145.5 211.6 144.5 211.9 143.5 212.1 142.5 212.3 141.5 212.4 140.5 212.4 139.5 212.5 138.5 212.7 137.5 212.9 136.5 213.1 135.5 213.4 134.5 213.7 133.5 213.9 132.5 214.1 131.5 214.3 130.5 214.4 129.5 214.4 128.5 214.6 127.5 214.8 126.5 215 125.5 215 124.5 215 123.5 215 122.5 215.1 121.5 215.1 120.5 215.2 119.5 215.2 118.5 215.3 117.5 215.3 116.5 215.3 115.5 215.3 114.5 215.3 113.5 215.3 112.5 215.2 111.5 215.2 110.5 215.2 109.5 215.1 108.5 215.1 107.5 215 106.5 215 105.5 214.9 104.5 214.9 103.5 214.8 102.5 214.7 101.5 214.7 100.5 214.6 99.5 214.6 98.5 214.5 97.5 214.5 96.5 214.4 95.5 214.4 94.5 214.4 93.5 214.3 92.5 214.3 91.5 214.3 90.5 214.3 89.5 214.3 88.5 214.3 87.5 214.3 86.5 214.3 85.5 214.3 84.5 214.3 83.5 214.3 82.5 214.3 81.5 214.3 80.5 214.3 79.5 214.3 78.5 214.3 77.5 214.3 76.5 214.3 75.5 214.3 74.5 214.3 73.5 214.3 72.5 214.3 71.5 214.3 70.5 214.3 69.5 214.3 68.5 214.3 67.5 214.4 66.5 214.4 65.5 214.5 64.5 214.5 63.5 214.6 62.5 214.6 61.5 214.6 60.5 214.7 59.5 214.7 58.5 214.8 57.5 214.8 56.5 214.8 55.5 214.8 54.5 214.8 53.5 214.9 52.5 214.9 51.5 215 50.5 215.1 49.5 215.1 48.5 215.2 47.5 215.3 46.5 215.4 45.5 215.5 44.5 215.5 43.5 215.6 42.5 215.6 41.5 215.6 40.5 215.7 39.5 215.7 38.5 215.7 37.5 215.7 36.5 215.8 35.5 215.9 34.5 215.9 33.5 215.9 32.5 216 31.5 216 30.5 216 29.5 216 28.5 216.1 27.5 216.2 26.5 216.3 25.5 216.4 24.5 216.5 23.5 216.6 22.5 216.6 21.5Z" fill="#08BCC8"/>
<path d="M223 72.8h0M214.5 98.5h0M222.2 78.9h0M212.2 71.2h0M222.9 85.3h0M217.9 71.5h0M223.1 69.1h0M217.9 98.3h0M221.7 91.1h0M214.1 93.6h0M214.3 105h0M219.5 150.3h0M215.2 114.7h0M219.4 134.9h0M210.4 76.5h0M218.3 121.3h0M210 79.3h0M218.5 73.3h0M222.6 70.1h0M209.9 74.1h0M216.1 114h0M209.7 31.1h0M214.3 121h0M212.9 79.6h0M223.9 94.1h0M211.2 42.8h0M210.1 64.2h0M220.4 110.3h0M210.1 111.3h0M218.8 89.4h0M221.5 90.4h0M216.8 84.4h0M219.4 79.2h0M209.8 114.2h0M211.6 74.3h0M217.4 82.7h0M219.8 67.5h0M217.3 52.6h0M223.7 100.6h0M212.4 103.9h0M219.8 100.4h0M223.3 98.4h0M220 77h0M214.5 51.4h0M211.5 120.1h0M216 89.2h0M220.3 56.2h0M210.4 97.1h0M220 88.1h0M221.5 86.4h0M217 95.3h0M219.8 64.1h0M217.1 95.6h0M215.1 78.4h0M220.7 50h0M216 122.5h0M216.8 51h0M213.3 72.8h0M213.8 140.7h0M220.1 112.7h0M216.5 62.9h0M223.2 60.8h0M210.1 124.7h0M217.6 77.2h0M219.5 137.5h0M210.6 61.9h0M214.3 73.3h0M222.6 54.5h0M215.9 93.6h0M215.7 59.3h0M214 77.4h0M214.1 78h0M214.5 85.1h0M221.7 92.4h0M218 86.7h0M211.8 98.4h0M209.9 70.3h0M216.6 105.5h0M211.5 98.6h0M222.2 100h0M222.1 83h0M215.9 74.3h0M220.1 106h0M217.1 150.2h0M218.1 103h0M223.9 75.9h0M211.2 87.6h0M213.2 87.9h0M220 106.3h0M220.9 64.1h0M217.2 32.3h0M217.7 60.3h0M210.7 102.2h0M215.5 59.1h0M215 105.2h0M218.5 89.1h0M219.3 93.7h0M217.6 50h0M212.8 124.7h0M215.2 102.1h0M219.5 98.3h0M222.8 58h0M224 76.9h0M213.2 68.7h0M213.1 80.6h0M218.5 101.5h0M213.4 74.7h0M209.9 79.7h0M214 117.9h0M217.5 125.9h0M222.3 49.4h0M222.9 112.8h0M211.6 58.6h0M215 94.5h0M218.5 99.7h0M220.9 74.6h0M220.7 54.8h0M212.7 76.5h0M215 49.7h0M213.5 86.9h0M215.9 52.3h0M211.9 51.4h0M217.8 58.7h0M223 106h0M215.8 99.3h0M213.5 76.1h0M222.7 118.3h0M211.7 113.9h0M214.2 75.8h0M217.4 60h0M213.4 85.7h0M221 92.7h0M211.6 118.9h0M211.2 87.3h0M213.6 99.6h0M222.9 60.7h0M212.9 69.6h0M214.1 79.1h0M210.3 90.5h0M211.8 46.9h0M218.7 85.6h0M220.8 120.6h0M223.1 46.9h0M217.6 89.8h0M216.6 76.2h0M222.6 100.3h0M215.1 83.9h0M217.5 28.4h0M210.1 105.7h0M222 100.7h0M217.2 87.1h0M223.5 105.7h0M218.3 36.6h0M223 96.6h0M217.4 55.5h0M215.4 69.4h0M219.7 119.8h0M222.8 87.3h0M212.5 61.3h0M215 99.2h0M214.6 46.6h0M209.7 86.2h0M222.2 35.3h0M215.8 41.7h0M223.5 113.3h0M210.5 43.4h0M220.1 91h0M223.5 123.9h0M220.8 122.3h0M215.3 123.7h0M222.9 106.1h0M212.1 76.4h0M213.5 63.4h0M217.9 122.3h0M211.4 65h0M223.6 113.5h0M216 63.9h0M221.5 71.4h0M211.2 96.8h0M212.5 53.8h0M212.8 87.3h0M209.7 119.4h0M210.1 26.1h0M216.5 86h0M212.8 91.5h0M221.4 115h0M215 126.5h0M221 85.4h0M216.2 52.2h0M214.5 86h0M222.3 23.9h0M218.3 43.5h0M218.4 114.3h0M217.8 134h0M220.2 68.7h0M215.2 97.2h0M213 100.4h0M212.2 44.1h0M215.1 63.8h0M217.3 75.5h0M217.6 85.9h0M217.1 111h0M212.8 69.2h0M210.3 42.3h0M211.4 75.1h0M218.7 104.5h0M219.5 76.3h0M213.5 47h0M212.9 103.4h0M211.4 33h0M210.4 61.4h0M219.5 74.4h0M214.3 108h0M209.8 41.2h0M222.6 62.6h0M222.5 43.8h0M210.7 88.9h0M218.6 36.7h0M221.5 37h0M215.7 22.8h0M219.5 91.2h0M218.7 76.3h0M217.3 78.9h0M216.6 89.2h0M218.3 81.7h0M216.8 152.8h0M217.7 143.3h0M215.7 65.2h0M213.4 75.9h0M211.2 80.6h0M212.5 95.2h0M216.5 60h0M218.2 96.4h0M210.5 90h0M219.9 82.9h0M211.6 77.3h0M215.4 94.3h0M219.9 41.8h0M222.5 105.9h0M212.6 72.5h0M210.9 121.2h0M216.6 63.9h0M217.3 30.9h0M217.9 61.5h0M222.1 126.2h0M210.5 119.2h0M215.7 66.6h0M222.2 57.1h0M216.5 95.8h0M218.8 118.6h0M221.2 59.4h0M217 131.4h0M223.4 66.9h0M222.8 141h0M222.8 81.2h0M221.2 76.4h0M219.6 63.9h0M212.5 51.8h0M224.1 45.4h0M220.4 112h0" stroke="#1e1e1e" stroke-width="1.1" stroke-linecap="round" opacity="0.82"/>
<path d="M210.2 154.3h13.4" stroke="#111" stroke-width="1.4"/>
<path d="M216.9 161v1" stroke="#999" stroke-width="0.5"/>
<text transform="translate(221 170.8) scale(0.95 1.09) rotate(-45)" font-size="6.2" text-anchor="end" fill="#1a1a1a" stroke="#1a1a1a" stroke-width="0.12">HG.IPMN2</text>
<path d="M233.1 16.7 233.1 17.7 233.2 18.7 233.3 19.7 233.4 20.7 233.6 21.7 233.8 22.7 234 23.7 234.1 24.7 234.3 25.7 234.5 26.7 234.6 27.7 234.7 28.7 234.7 29.7 234.7 30.7 234.9 31.7 235.1 32.7 235.4 33.7 235.8 34.7 236.2 35.7 236.5 36.7 236.8 37.7 237 38.7 237.1 39.7 237.1 40.7 237.2 41.7 237.3 42.7 237.5 43.7 237.6 44.7 237.8 45.7 238.1 46.7 238.3 47.7 238.5 48.7 238.7 49.7 238.9 50.7 239.1 51.7 239.3 52.7 239.4 53.7 239.4 54.7 239.4 55.7 239.4 56.7 239.5 57.7 239.5 58.7 239.5 59.7 239.6 60.7 239.7 61.7 239.7 62.7 239.8 63.7 239.8 64.7 239.9 65.7 239.9 66.7 240 67.7 240 68.7 240 69.7 240 70.7 239.9 71.7 239.9 72.7 239.7 73.7 239.6 74.7 239.5 75.7 239.3 76.7 239.1 77.7 238.9 78.7 238.8 79.7 238.6 80.7 238.5 81.7 238.4 82.7 238.3 83.7 238.3 84.7 238.3 85.7 238.1 86.7 237.9 87.7 237.7 88.7 237.3 89.7 237 90.7 236.7 91.7 236.5 92.7 236.3 93.7 236.2 94.7 236.2 95.7 236 96.7 235.8 97.7 235.6 98.7 235.3 99.7 235 100.7 234.7 101.7 234.5 102.7 234.3 103.7 234.2 104.7 234.2 105.7 234.1 106.7 234 107.7 233.9 108.7 233.8 109.7 233.7 110.7 233.6 111.7 233.6 112.7 233.6 113.7 233.6 114.7 233.6 115.7 233.6 116.7 233.6 117.7 233.6 118.7 233.6 119.7 233.6 120.7 233.6 121.7 233.6 122.7 233.6 123.7 233.6 124.7 233.6 125.7 233.5 126.7 233.5 127.7 233.5 128.7 233.5 129.7 233.5 130.7 233.5 131.7 233.5 132.7 233.5 133.7 233.5 134.7 233.5 135.7 233.5 136.7 233.5 137.7 233.5 138.7 233.5 139.7 233.8 140.7 234.3 141.7 234.4 142.7 234.6 143.7 234.7 144.7 235 145.7 235.2 146.7 235.4 147.7 235.6 148.7 235.7 149.7 235.7 150.7 235.9 151.7 236.2 152.7 236.3 153.7 236.3 154 229.3 154 229.3 153.7 229.4 152.7 229.7 151.7 229.9 150.7 229.9 149.7 230 148.7 230.2 147.7 230.4 146.7 230.6 145.7 230.9 144.7 231 143.7 231.2 142.7 231.3 141.7 231.8 140.7 232.1 139.7 232.1 138.7 232.1 137.7 232.1 136.7 232.1 135.7 232.1 134.7 232.1 133.7 232.1 132.7 232.1 131.7 232.1 130.7 232.1 129.7 232.1 128.7 232.1 127.7 232.1 126.7 232 125.7 232 124.7 232 123.7 232 122.7 232 121.7 232 120.7 232 119.7 232 118.7 232 117.7 232 116.7 232 115.7 232 114.7 232 113.7 232 112.7 232 111.7 231.9 110.7 231.8 109.7 231.7 108.7 231.6 107.7 231.5 106.7 231.4 105.7 231.4 104.7 231.3 103.7 231.1 102.7 230.9 101.7 230.6 100.7 230.3 99.7 230 98.7 229.8 97.7 229.6 96.7 229.4 95.7 229.4 94.7 229.3 93.7 229.1 92.7 228.9 91.7 228.6 90.7 228.3 89.7 227.9 88.7 227.7 87.7 227.5 86.7 227.3 85.7 227.3 84.7 227.3 83.7 227.2 82.7 227.1 81.7 227 80.7 226.8 79.7 226.7 78.7 226.5 77.7 226.3 76.7 226.1 75.7 226 74.7 225.9 73.7 225.7 72.7 225.7 71.7 225.6 70.7 225.6 69.7 225.6 68.7 225.6 67.7 225.7 66.7 225.7 65.7 225.8 64.7 225.8 63.7 225.9 62.7 225.9 61.7 226 60.7 226.1 59.7 226.1 58.7 226.1 57.7 226.2 56.7 226.2 55.7 226.2 54.7 226.2 53.7 226.3 52.7 226.5 51.7 226.7 50.7 226.9 49.7 227.1 48.7 227.3 47.7 227.5 46.7 227.8 45.7 228 44.7 228.1 43.7 228.3 42.7 228.4 41.7 228.5 40.7 228.5 39.7 228.6 38.7 228.8 37.7 229.1 36.7 229.4 35.7 229.8 34.7 230.2 33.7 230.5 32.7 230.7 31.7 230.9 30.7 230.9 29.7 230.9 28.7 231 27.7 231.1 26.7 231.3 25.7 231.5 24.7 231.6 23.7 231.8 22.7 232 21.7 232.2 20.7 232.3 19.7 232.4 18.7 232.5 17.7 232.5 16.7Z" fill="#6A95E8"/>
<path d="M233.1 79.1h0M230.6 41.9h0M229.1 58.9h0M236.9 51.1h0M228.4 106.5h0M237.2 67h0M234.1 50.2h0M236.3 23.4h0M233.8 77.6h0M226.8 69h0M231.9 83.5h0M235.6 85.5h0M226.2 88.7h0M236.8 109.7h0M234 82.3h0M230.5 38.4h0M237.3 59.5h0M236.3 75.5h0M234.3 47.5h0M239.8 84.8h0M234.1 79.7h0M230 71h0M239.5 88h0M231.3 79.2h0M239.2 80.3h0M229.6 83.6h0M231.8 32.5h0M232.7 60.8h0M236.3 98.5h0M234.2 84.4h0M234 51.9h0M230.7 122.7h0M230.5 99.8h0M228.3 76.4h0M237.1 96.7h0M229 49.2h0M231.3 87.8h0M228.6 59.9h0M227.1 79h0M239.8 60.7h0M239.6 60.6h0M231.3 81.7h0M232.4 49.9h0M232.5 75.3h0M230.6 46.3h0M231.4 78h0M228.6 59.8h0M227.6 75h0M230.9 130.6h0M230.3 69.9h0M232.6 59.4h0M227.3 63.8h0M228 65.5h0M233.2 68.9h0M231.7 67.4h0M225.7 136.4h0M231.1 71.9h0M229.1 61h0M229.6 87.1h0M227.5 71.2h0M239.9 82.2h0M229.4 100.6h0M227.2 40.5h0M235.8 78.9h0M238.1 33.3h0M239.6 68.2h0M235.8 85.9h0M230.1 60.7h0M229.5 50h0M231.1 47.6h0M235.4 71.5h0M239 45.2h0M237.6 91h0M231 75.7h0M239.2 79.7h0M239.7 87h0M225.6 58.1h0M232.8 87.3h0M234.8 63.3h0M229.1 86.4h0M225.9 85.2h0M229.6 55.6h0M238.4 54.2h0M235.2 88.1h0M231 27.8h0M226.2 75.3h0M226.4 92.4h0M229.7 37.3h0M229.7 72.4h0M233.9 68h0M225.6 40.3h0M233.6 102.9h0M229.4 47.1h0M237.8 76h0M233.5 127.7h0M232.9 58h0M236.4 126.3h0M229.4 56.8h0M230.1 81.2h0M227 63.7h0M231.3 99.8h0M239 77.2h0M231.8 49.2h0M226.9 72.8h0M237 67.9h0M227.4 82.9h0M226.2 61.7h0M233.7 84.3h0M239.3 52.4h0M234.3 74.9h0M226.5 71.6h0M234.2 59.9h0M229 61.6h0M236 53.6h0M236.2 63.1h0M228.9 43.9h0M238.8 87.8h0M227.9 93.2h0M229.8 101.5h0M229.2 87.8h0M227.6 79.1h0M229.1 92.9h0M230.9 63.4h0M239.3 52.2h0M232.6 38.5h0M225.7 140.7h0M228.6 75.8h0M239.9 42.7h0M238.5 122.1h0M238.6 78.8h0M227.5 53.7h0M233 98.7h0M236.5 46.7h0M233.3 71.2h0M236.2 98.8h0M230.4 73.6h0M229.3 65.5h0M234.9 60h0M236.6 66.2h0M231.2 61.9h0M237.1 43h0M227.9 122.4h0M225.6 63.2h0M228.1 57.3h0M226.6 53.3h0M228.1 94.1h0M230.6 39.2h0M230.7 67.3h0M232.8 67.3h0M227.5 91.3h0M227.6 74.8h0M228.2 23.2h0M238.5 53.3h0M237.2 43.9h0M230.4 64.3h0M226.7 89.4h0M232.5 79.8h0M235 46.7h0M226.4 82h0M233.5 65.1h0M234.8 75h0M236.2 113.7h0M229.4 87.8h0M238 80.8h0M228.1 85.5h0M232.7 76.8h0M235 53.1h0M226.5 75.8h0M238.7 97.9h0M238.4 74.3h0M226.2 83.3h0M237.8 27.9h0M232 60.4h0M227.5 91.5h0M236.3 47.9h0M231.5 52.1h0M227.6 47.6h0M231.6 95.2h0M228.8 59.7h0M231.7 144.6h0M237.9 95.6h0M233 81.8h0M239.6 81.3h0M236.5 47.1h0M229.7 64.5h0M239.6 60.8h0M235.1 51.5h0M235.2 102.5h0M235.7 97.6h0M233.6 91.3h0M239.7 47.7h0M230 111.2h0M228.2 51.5h0M230.5 84.4h0M234 125.3h0M226.6 53.5h0M239.4 78h0M226 56.9h0M238.8 108.8h0M236.3 82.8h0M238.4 59.9h0M226.6 77h0M229 76.3h0M236.4 32.4h0M229.6 53.2h0M234.9 87.9h0M237.5 73.3h0M228.3 103.2h0M239.6 37.5h0M233.2 56h0M236.8 30.5h0M238.6 55.2h0M228.6 88.5h0M226.1 115.8h0M228.3 136.9h0M234.8 97.3h0M237 28.4h0M226.6 24.4h0M236.9 71.8h0M238.8 65h0M230.8 125.4h0M239.1 87h0M229.3 57.3h0M231.7 81.5h0M227.6 82h0M236.6 45.9h0M237.2 78.4h0M225.7 50.7h0M229.3 58.3h0M232 86.9h0M235.2 78.4h0M227.1 60.7h0M235.4 77h0M236.8 93.9h0M233.3 91.3h0M226.8 44.9h0M229.8 40.1h0M229.5 71.5h0M228.4 98h0M226.5 72.4h0M225.7 49.4h0M238.1 28h0M225.9 93.3h0M230.6 93.1h0M230.3 80.2h0M235.9 43.8h0M228.8 99.2h0M232.6 68.5h0M227.3 67.5h0M227.6 63h0M233.8 70h0M236.9 58.6h0M232.6 150.5h0M234.5 65h0M238.4 70.2h0M228.1 57.8h0M239.7 50.8h0M232.1 71h0M238.4 68.4h0M236.3 62.6h0M232.5 95.2h0M231.7 63h0M230 48.2h0M230.6 52.5h0M227.2 74.5h0M235.8 86.5h0M232.8 73.9h0M234.1 91h0M226.4 74.9h0M229.3 91.2h0M235.6 61.4h0M229.5 94.6h0M230.4 51.3h0M233.9 40.2h0M238.7 66.3h0M228.5 51.5h0M233.3 52.8h0M235.9 54.3h0M233 49.8h0M230.9 61.1h0M236.1 44.8h0M234.8 75.9h0M238.8 67.9h0M229.4 69.2h0M231.4 60.2h0M234.2 87.3h0M230 52.9h0M231.5 61.3h0M237.9 93.4h0M231.3 64h0M234.8 52.6h0M235.8 81.7h0M239.6 117.4h0M238.3 58h0M231.9 91.1h0M228.5 62.6h0M230 45.4h0M232.2 62.6h0M232.9 30h0M238.6 33.7h0M238 77.1h0M226.5 66.7h0M230.4 72h0M233.4 42.5h0M233.6 65.3h0M238.6 71.9h0M230.2 37h0M237.2 62h0M232.4 63.3h0M226.3 43.2h0M225.6 60.2h0M233.4 43.1h0M239.3 134.7h0M226.3 79.1h0M235.1 44h0M234.8 54.4h0M240 104.9h0M228.2 69.4h0M228.5 81.1h0M228.6 50.3h0M229 50.1h0M229.4 76.9h0M226.3 62.4h0M235.3 37.7h0M238.4 33.2h0M231.4 74h0M226.4 63h0M228.6 44.3h0M234.5 56.8h0M235.6 48.2h0M236.8 67.4h0M226.2 63.9h0M229.8 79.1h0M238.4 37.4h0M237.8 66h0M238.4 51.4h0M239.1 50.8h0M239.4 65.1h0M235.8 94.1h0M225.9 49.2h0M238.3 103.2h0M239.6 117.4h0M229.5 52.9h0M230.7 150.1h0M237.2 66.5h0M228.9 98.1h0M234.4 68.6h0M232.9 94.9h0M237 101.8h0M235.5 88.1h0M233.1 79.1h0M239.8 88.6h0M233.5 59.4h0M232.3 92.4h0M235.8 52.5h0M227.6 21.8h0M230.6 73h0M234.4 37.3h0M230.6 63h0M231.1 51h0M228.9 80.7h0M238 53.9h0M229.3 101.4h0M231.2 38.9h0M234.1 81.6h0M227.7 43.6h0M232.8 53.8h0M238.5 46h0M230.2 75.3h0M225.8 55h0M234.7 77.2h0M236.9 32.2h0M235 47.1h0M235.4 78h0M231.3 101.2h0M235.5 79.1h0M239.4 105h0M228.6 51.9h0M239.2 41h0M238.9 54.5h0M230.7 137.5h0M225.7 89.3h0M229.1 35h0M237.9 93.1h0M230.5 66.6h0M239.3 32.7h0M227 126.1h0M227.8 64.5h0M226.8 34.9h0M239.8 82.9h0M237 33.4h0M239.7 46.3h0M228.3 86.3h0M231.9 76.9h0M232.6 43.8h0M225.7 70h0M233.6 58.3h0M239.6 45h0M234.3 76.9h0M239.6 48.4h0M230.6 38.5h0M237.9 48.4h0M232.8 45.4h0M239.9 48.7h0M228.5 28.1h0M239.2 45.8h0M235.7 65.8h0M230.4 93.7h0M234.3 46.6h0M237 95.8h0M227.3 40.8h0M235.1 59.1h0M233.9 107.6h0M229.4 62.1h0M236 21h0M232 87.9h0M229.1 61.9h0M231.4 151.8h0M229.8 69.7h0M238.5 62.6h0M232.2 97h0M227.6 50.2h0M232.2 65.7h0M227.8 64.7h0M230 67.2h0M230.6 33.5h0M228.8 39.8h0M225.8 69.4h0M238.5 67.3h0M235.1 79.5h0M236.5 50.5h0M226.3 67.1h0M233.4 100.1h0M232.7 86.9h0M239.4 24.7h0M227.3 49.6h0M237.9 106.2h0M229.2 53.2h0M233.9 72.9h0M239.3 72h0M235.2 25.9h0M229.1 127h0M233.8 110.2h0M238.3 76.3h0M238.4 98.5h0M227.9 56.4h0M239.9 75.5h0M239.5 77.6h0M234.9 40.9h0M227.3 25.7h0M234.8 152.8h0M239.1 69.8h0M229.4 71.8h0M226.1 44h0M231.2 48.2h0M228.6 83.8h0M230.1 68.9h0M230.8 48.3h0M229.1 60.5h0M228.6 57.9h0" stroke="#1e1e1e" stroke-width="1.1" stroke-linecap="round" opacity="0.82"/>
<path d="M226.1 154.3h13.4" stroke="#111" stroke-width="1.4"/>
<path d="M232.8 161v1" stroke="#999" stroke-width="0.5"/>
<text transform="translate(236.9 170.8) scale(0.95 1.09) rotate(-45)" font-size="6.2" text-anchor="end" fill="#1a1a1a" stroke="#1a1a1a" stroke-width="0.12">PDAC.1</text>
<path d="M249.3 13.8 249.3 14.8 249.4 15.8 249.4 16.8 249.5 17.8 249.6 18.8 249.7 19.8 249.8 20.8 249.9 21.8 249.9 22.8 250 23.8 250 24.8 250 25.8 250 26.8 250.1 27.8 250.1 28.8 250.1 29.8 250.2 30.8 250.3 31.8 250.3 32.8 250.4 33.8 250.4 34.8 250.5 35.8 250.5 36.8 250.6 37.8 250.6 38.8 250.6 39.8 250.6 40.8 250.6 41.8 250.6 42.8 250.7 43.8 250.7 44.8 250.8 45.8 250.8 46.8 250.9 47.8 250.9 48.8 251 49.8 251 50.8 251.1 51.8 251.2 52.8 251.2 53.8 251.3 54.8 251.3 55.8 251.3 56.8 251.4 57.8 251.4 58.8 251.4 59.8 251.4 60.8 251.4 61.8 251.4 62.8 251.4 63.8 251.4 64.8 251.4 65.8 251.4 66.8 251.4 67.8 251.4 68.8 251.4 69.8 251.4 70.8 251.4 71.8 251.4 72.8 251.4 73.8 251.4 74.8 251.4 75.8 251.4 76.8 251.4 77.8 251.4 78.8 251.4 79.8 251.4 80.8 251.4 81.8 251.4 82.8 251.4 83.8 251.4 84.8 251.4 85.8 251.4 86.8 251.4 87.8 251.4 88.8 251.4 89.8 251.4 90.8 251.4 91.8 251.4 92.8 251.4 93.8 251.4 94.8 251.4 95.8 251.4 96.8 251.4 97.8 251.4 98.8 251.4 99.8 251.4 100.8 251.4 101.8 251.4 102.8 251.4 103.8 251.4 104.8 251.4 105.8 251.4 106.8 251.4 107.8 251.4 108.8 251.4 109.8 251.4 110.8 251.4 111.8 251.4 112.8 251.4 113.8 251.4 114.8 251.4 115.8 251.4 116.8 251.4 117.8 251.4 118.8 251.4 119.8 251.4 120.8 251.5 121.8 251.6 122.8 251.6 123.8 251.6 124.8 251.6 125.8 251.7 126.8 251.7 127.8 251.8 128.8 251.9 129.8 251.9 130.8 252 131.8 252.1 132.8 252.1 133.8 252.2 134.8 252.3 135.8 252.3 136.8 252.4 137.8 252.4 138.8 252.4 139.8 252.5 140.8 252.6 141.8 252.9 142.8 253.3 143.8 253.7 144.8 254.2 145.8 254.6 146.8 254.9 147.8 255.1 148.8 255.2 149.8 255.3 150.8 255.4 151.8 255.4 152.8 255.5 153.8 255.5 154 242.5 154 242.5 153.8 242.6 152.8 242.6 151.8 242.7 150.8 242.8 149.8 242.9 148.8 243.1 147.8 243.4 146.8 243.8 145.8 244.3 144.8 244.7 143.8 245.1 142.8 245.4 141.8 245.5 140.8 245.6 139.8 245.6 138.8 245.6 137.8 245.7 136.8 245.7 135.8 245.8 134.8 245.9 133.8 245.9 132.8 246 131.8 246.1 130.8 246.1 129.8 246.2 128.8 246.3 127.8 246.3 126.8 246.4 125.8 246.4 124.8 246.4 123.8 246.4 122.8 246.5 121.8 246.6 120.8 246.6 119.8 246.6 118.8 246.6 117.8 246.6 116.8 246.6 115.8 246.6 114.8 246.6 113.8 246.6 112.8 246.6 111.8 246.6 110.8 246.6 109.8 246.6 108.8 246.6 107.8 246.6 106.8 246.6 105.8 246.6 104.8 246.6 103.8 246.6 102.8 246.6 101.8 246.6 100.8 246.6 99.8 246.6 98.8 246.6 97.8 246.6 96.8 246.6 95.8 246.6 94.8 246.6 93.8 246.6 92.8 246.6 91.8 246.6 90.8 246.6 89.8 246.6 88.8 246.6 87.8 246.6 86.8 246.6 85.8 246.6 84.8 246.6 83.8 246.6 82.8 246.6 81.8 246.6 80.8 246.6 79.8 246.6 78.8 246.6 77.8 246.6 76.8 246.6 75.8 246.6 74.8 246.6 73.8 246.6 72.8 246.6 71.8 246.6 70.8 246.6 69.8 246.6 68.8 246.6 67.8 246.6 66.8 246.6 65.8 246.6 64.8 246.6 63.8 246.6 62.8 246.6 61.8 246.6 60.8 246.6 59.8 246.6 58.8 246.6 57.8 246.7 56.8 246.7 55.8 246.7 54.8 246.8 53.8 246.8 52.8 246.9 51.8 247 50.8 247 49.8 247.1 48.8 247.1 47.8 247.2 46.8 247.2 45.8 247.3 44.8 247.3 43.8 247.4 42.8 247.4 41.8 247.4 40.8 247.4 39.8 247.4 38.8 247.4 37.8 247.5 36.8 247.5 35.8 247.6 34.8 247.6 33.8 247.7 32.8 247.7 31.8 247.8 30.8 247.9 29.8 247.9 28.8 247.9 27.8 248 26.8 248 25.8 248 24.8 248 23.8 248.1 22.8 248.1 21.8 248.2 20.8 248.3 19.8 248.4 18.8 248.5 17.8 248.6 16.8 248.6 15.8 248.7 14.8 248.7 13.8Z" fill="#D86CC4"/>
<path d="M255 27.3h0M248.4 63.6h0M254.5 53.1h0M253.9 103.2h0M251.4 125h0M253.3 48.8h0M246 73.5h0M242.9 32.3h0M250.1 78.2h0M249.8 58.5h0M244.3 83.7h0M247.2 78.7h0M249.6 50.2h0M249.4 51.1h0M246.8 125.8h0M246.8 25.8h0M250.7 40.8h0M250.9 67.5h0M249.4 31.3h0M245.1 92.9h0M247.5 67h0M250.9 84.5h0M252.7 79.8h0M255.4 112.8h0M245.6 102.3h0M246.5 102.2h0M252 40.9h0M244.8 109h0M254.6 95.4h0M245.6 124.9h0M246.8 88.6h0M254.9 97.4h0M249.6 110h0M251.7 121.4h0M249.8 62.9h0M245 54.8h0M244.6 121.6h0M256.1 89.6h0M246.3 93.4h0M249.4 39.8h0M248.2 64h0M245.5 114.5h0M245.2 114.8h0M249.5 24.8h0M243.1 116.8h0M251.9 121.8h0M254.6 111.2h0M245.8 108.8h0M249.6 46.4h0M249.4 84.5h0M251.4 34.6h0M243.7 45.8h0M255.2 120h0M245.9 124.3h0M255.8 99.9h0M243.8 100.8h0M255.3 38.6h0M253.5 111.1h0M247.4 19.3h0M251.3 34.7h0M250.7 151.4h0M254.7 42.3h0M248.4 87.9h0M244.9 67.3h0M242.6 49.9h0M251.8 108.3h0M254 115h0M245.2 70.7h0M245 61.8h0M253.2 58h0M246.8 145.5h0M250.3 79.4h0M255.6 123.9h0M242.2 79.7h0M242 64.8h0M245.7 75.9h0M243.4 121.2h0M242.6 90.8h0M247.9 61.8h0M250.6 88.9h0M250 93h0M250.7 125.7h0M248.3 84.5h0M249.8 102.7h0M250.5 105.4h0M251.2 70.7h0M247.3 76.7h0M254.4 61.4h0M249.5 51.4h0M247.6 96h0M249.3 19.2h0M251.3 95.7h0M253.2 97.2h0M248.9 43.2h0M249.6 77.5h0M242.7 150.9h0M245.1 91.5h0M246 152.8h0M245.4 68.5h0M252.4 43.8h0M255.8 67.9h0M254.3 120.9h0M248.1 87.8h0M250.1 75.3h0M245 56.2h0M253.4 120.1h0M250.1 104.2h0M245.2 68.1h0M246.4 38.6h0M249 113.8h0M251.8 82.5h0M244.2 53h0M243.2 119.6h0M243.7 45.5h0M247.2 63.8h0M242.9 71.6h0M246.5 36.7h0M252.5 48.5h0M252 142.7h0M246.3 78h0M253.2 66.1h0M252.4 36.7h0M250.7 26.3h0M244.7 97h0M242 116.8h0M242.9 113.5h0M253.9 91.4h0M243.9 116.6h0M242.3 83.5h0M247.2 102.4h0M249.5 46.9h0M254.8 62.7h0M251.1 104.8h0M249.7 65.3h0M254.1 74.2h0M254.2 148.5h0M245 62.4h0M252.4 82.6h0M246.1 123.6h0M246.6 30.3h0M249.6 119.7h0M249.3 109.5h0M253.3 76.8h0M243.9 89.8h0M246.4 109.4h0M254.3 42.4h0M256 49.2h0M248.8 51.4h0M245.7 65.4h0M255.5 126.1h0M242.7 81.8h0M256.1 74.9h0M242.5 32.5h0M251.8 140h0M248.5 95.5h0M247.5 74h0M255.8 32.5h0M249.2 86.2h0M251.8 45h0M243.6 38.7h0M254.3 101.8h0M244.6 32.6h0M255.3 85h0M252.1 119.5h0M248.5 75h0M251.9 125.3h0M248.6 86.7h0M243.4 57.2h0M242.6 100.6h0M244.1 48.2h0M255.2 123.4h0M249.5 30h0M245.1 92.2h0M253.4 150.4h0M252.2 57.8h0M254.5 79h0M254.5 88.8h0M244.2 107h0M243.2 115.5h0M245 32.9h0M251.8 109.1h0M244 69.2h0M245.6 54.7h0M252.5 106.1h0M246.3 64.4h0M244 86.8h0M253 117.1h0M252.6 36.5h0M255.2 112.9h0M248.6 74.5h0M253.1 62.2h0M250.3 64.5h0M254.3 22.8h0M251 97.2h0M247.9 150.3h0M246 51.6h0M242 99h0M245.4 93.6h0M244.9 96.9h0M242.6 102.9h0M255.4 121.2h0M250 151h0M255.4 85.3h0M244.7 137.7h0M253.5 85.7h0M243 124.4h0M249.5 85.4h0M248.5 114h0M254.3 47.2h0M251.5 80.4h0M247.2 72.2h0M251.2 59.4h0M252.6 83.7h0M245.7 82h0M250.9 88h0M252.8 106.7h0M243.6 90.1h0M255.5 95.1h0M250.3 114.1h0M254.2 56.6h0M249.7 59.3h0M244.7 21.4h0M243.1 112.1h0M244.2 47.8h0M254.4 112.4h0M252.9 105.4h0M255.4 103.3h0M249.4 61.3h0M242.7 87.9h0M243.2 117.3h0M248 82h0M244.1 104.6h0M250.8 61.3h0M245.4 50.4h0M243.4 34.5h0M255.7 44.5h0M243.9 33.5h0M242.1 30.8h0M242 105.7h0M247.7 45.3h0M253.5 64h0M243.9 38.9h0M244.6 96.9h0M248.3 148.1h0M249.7 98.8h0M251.6 41h0M253.6 90.7h0M249.6 32.3h0M245.2 124.1h0M247.3 70.4h0M248.3 32.3h0M242 44h0M249.9 122.9h0M250.3 127.6h0M253.4 61h0M247.7 52.5h0M250.3 92.2h0M244 59h0M250.1 38.8h0M249.8 89.8h0M250.2 50h0M255 72.3h0M242.7 79h0M244.7 80.9h0M244.1 50.2h0M246.2 125.1h0M253.1 33.2h0M250.7 87.2h0M253.8 96.2h0M245 76.9h0M244.4 111.4h0M248.5 95h0M250.3 97.2h0M255.8 26.7h0M250.8 89.6h0M247.8 142.3h0M245.1 114.7h0M246.9 98.6h0M255 112.2h0M243.7 81.2h0M254.2 72.3h0M248.5 121.3h0M246.2 139.2h0M253.4 44.2h0M253.8 85h0M251.1 98.4h0M248 119.3h0M245 96.5h0M243.4 100.8h0M242.3 98.8h0M251.8 47.1h0M250.7 43.2h0M253.9 108.3h0M250.5 50.9h0M247.3 87.4h0M254.4 56h0M255.6 100.5h0M253.7 57.4h0M249.2 96.8h0M247.5 113.5h0M249.6 145.3h0M248.4 92.1h0M247.6 122h0M242.5 93.6h0M246.1 80.3h0M244.7 116.8h0M248.3 47.7h0M244.1 44.6h0M251.1 86.1h0M254 40.8h0M242.8 21h0M245.3 116h0M248.8 122h0M242.7 105.4h0M255.4 28.5h0M242.5 121.6h0M254.6 95.5h0M253 124.1h0M247.3 110.1h0M251.8 103.8h0" stroke="#1e1e1e" stroke-width="1.1" stroke-linecap="round" opacity="0.82"/>
<path d="M242.3 154.3h13.4" stroke="#111" stroke-width="1.4"/>
<path d="M249 161v1" stroke="#999" stroke-width="0.5"/>
<text transform="translate(253.1 170.8) scale(0.95 1.09) rotate(-45)" font-size="6.2" text-anchor="end" fill="#1a1a1a" stroke="#1a1a1a" stroke-width="0.12">PDAC.2</text>
<path d="M280.8 7V161H381.3" fill="none" stroke="#c4c4c4" stroke-width="1.2"/>
<path d="M280.3 154h-1.2" stroke="#999" stroke-width="0.5"/>
<path d="M280.3 106.5h-1.2" stroke="#999" stroke-width="0.5"/>
<path d="M280.3 59h-1.2" stroke="#999" stroke-width="0.5"/>
<path d="M280.3 11.5h-1.2" stroke="#999" stroke-width="0.5"/>
<text x="330.8" y="5.1" font-size="4.8" font-weight="bold" text-anchor="middle" fill="#1a1a1a">MUC5AC</text>
<text transform="translate(275.6 84) rotate(-90)" font-size="3.9" font-weight="bold" text-anchor="middle" fill="#c03030">Gene expression</text>
<text x="278.6" y="155" font-size="3" text-anchor="end" fill="#666">0</text>
<text x="278.6" y="107.5" font-size="3" text-anchor="end" fill="#666">2</text>
<text x="278.6" y="60" font-size="3" text-anchor="end" fill="#666">4</text>
<text x="278.6" y="12.5" font-size="3" text-anchor="end" fill="#666">6</text>
<path d="M292.1 13.5 292.8 14.5 293.9 15.5 294.2 16.5 294.6 17.5 295.3 18.5 295.7 19.5 295.8 20.5 295.9 21.5 296.1 22.5 296.4 23.5 296.7 24.5 297 25.5 297.2 26.5 297.3 27.5 297.3 28.5 297.3 29.5 297.3 30.5 297.3 31.5 297.3 32.5 297.3 33.5 297.3 34.5 297.3 35.5 297.2 36.5 297 37.5 296.8 38.5 296.5 39.5 296.2 40.5 295.9 41.5 295.7 42.5 295.5 43.5 295.4 44.5 295.4 45.5 295.2 46.5 294.8 47.5 294.4 48.5 293.9 49.5 293.5 50.5 293.3 51.5 293.3 52.5 293.2 53.5 293 54.5 292.7 55.5 292.5 56.5 292.2 57.5 292 58.5 291.9 59.5 291.9 60.5 291.9 61.5 291.8 62.5 291.7 63.5 291.6 64.5 291.5 65.5 291.4 66.5 291.3 67.5 291.2 68.5 291.2 69.5 291.2 70.5 291.2 71.5 291.2 72.5 291.2 73.5 291.2 74.5 291.2 75.5 291.2 76.5 291.2 77.5 291.2 78.5 291.2 79.5 291.2 80.5 291.2 81.5 291.2 82.5 291.2 83.5 291.2 84.5 291.2 85.5 291.2 86.5 291.2 87.5 291.2 88.5 291.2 89.5 291.2 90.5 291.2 91.5 291.2 92.5 291.2 93.5 291.2 94.5 291.2 95.5 291.2 96.5 291.2 97.5 291.2 98.5 291.2 99.5 291.2 100.5 291.2 101.5 291.2 102.5 291.2 103.5 291.2 104.5 291.2 105.5 291.2 106.5 291.2 107.5 291.2 108.5 291.2 109.5 291.2 110.5 291.2 111.5 291.2 112.5 291.2 113.5 291.2 114.5 291.2 115.5 291.2 116.5 291.2 117.5 291.2 118.5 291.2 119.5 291.2 120.5 291.2 121.5 291.2 122.5 291.2 123.5 291.2 124.5 291.2 125.5 291.2 126.5 291.2 127.5 291.2 128.5 291.2 129.5 291.2 130.5 291.2 131.5 291.2 132.5 291.2 133.5 291.2 134.5 291.2 135.5 291.2 136.5 291.2 137.5 291.2 138.5 291.2 139.5 291.2 140.5 291.2 141.5 291.2 142.5 291.2 143.5 291.2 144.5 291.2 145.5 291.3 146.5 291.6 147.5 292.2 148.5 292.5 149.5 292.6 150.5 292.8 151.5 292.9 152.5 293.1 153.5 293.1 154 288.1 154 288.1 153.5 288.3 152.5 288.4 151.5 288.6 150.5 288.7 149.5 289 148.5 289.6 147.5 289.9 146.5 290 145.5 290 144.5 290 143.5 290 142.5 290 141.5 290 140.5 290 139.5 290 138.5 290 137.5 290 136.5 290 135.5 290 134.5 290 133.5 290 132.5 290 131.5 290 130.5 290 129.5 290 128.5 290 127.5 290 126.5 290 125.5 290 124.5 290 123.5 290 122.5 290 121.5 290 120.5 290 119.5 290 118.5 290 117.5 290 116.5 290 115.5 290 114.5 290 113.5 290 112.5 290 111.5 290 110.5 290 109.5 290 108.5 290 107.5 290 106.5 290 105.5 290 104.5 290 103.5 290 102.5 290 101.5 290 100.5 290 99.5 290 98.5 290 97.5 290 96.5 290 95.5 290 94.5 290 93.5 290 92.5 290 91.5 290 90.5 290 89.5 290 88.5 290 87.5 290 86.5 290 85.5 290 84.5 290 83.5 290 82.5 290 81.5 290 80.5 290 79.5 290 78.5 290 77.5 290 76.5 290 75.5 290 74.5 290 73.5 290 72.5 290 71.5 290 70.5 290 69.5 290 68.5 289.9 67.5 289.8 66.5 289.7 65.5 289.6 64.5 289.5 63.5 289.4 62.5 289.3 61.5 289.3 60.5 289.3 59.5 289.2 58.5 289 57.5 288.7 56.5 288.5 55.5 288.2 54.5 288 53.5 287.9 52.5 287.9 51.5 287.7 50.5 287.3 49.5 286.9 48.5 286.4 47.5 286 46.5 285.8 45.5 285.8 44.5 285.7 43.5 285.5 42.5 285.3 41.5 285 40.5 284.7 39.5 284.4 38.5 284.2 37.5 284 36.5 283.9 35.5 283.9 34.5 283.9 33.5 283.9 32.5 283.9 31.5 283.9 30.5 283.9 29.5 283.9 28.5 283.9 27.5 284 26.5 284.2 25.5 284.5 24.5 284.8 23.5 285.1 22.5 285.3 21.5 285.4 20.5 285.5 19.5 285.9 18.5 286.6 17.5 287 16.5 287.3 15.5 288.4 14.5 289.1 13.5Z" fill="#F8766D"/>
<path d="M294.7 36h0M291.8 35.7h0M286.6 42.5h0M296.6 27.7h0M292.6 44.3h0M291.8 22.8h0M293.4 52.9h0M285.8 30.8h0M285 34.1h0M293.9 110h0M287.5 31.9h0M288.8 16.2h0M289.8 63.2h0M288.1 45.7h0M291.6 25.2h0M289.6 17.2h0M289.1 20h0M294 29.8h0M297.7 19.1h0M286.7 43h0M286.8 25.8h0M290.6 23.3h0M284 61.8h0M287.2 54.1h0M285.3 14.9h0M294.9 27.3h0M295.6 117.9h0M284.2 72.5h0M285.1 26.6h0M284.1 22.3h0M286.9 29.9h0M283.6 38.4h0M283.8 50h0M284.9 93.3h0M292.5 125.1h0M293.6 25.5h0M283.9 48.7h0M288.4 40.8h0M285.1 82.6h0M291.6 48.2h0M292.8 121.5h0M287.7 17.8h0M285.1 34.5h0M287 47.1h0M288.1 41h0M288.8 61.2h0M295.9 24.3h0M291.3 19.4h0M295.2 47.2h0M297.1 43.3h0M287.7 47.2h0M295.1 28.4h0M296.4 41.8h0M292.8 39h0M297.7 50.8h0M289.2 36.7h0M288.7 38.2h0M285.7 34.2h0M290.2 25.6h0M289.8 88.5h0M288.5 66.8h0M283.5 38.4h0M296 19.2h0M291.4 24.8h0M287.9 48.1h0M294.8 30.5h0M286.4 32.3h0M288.1 37.1h0M291 20.7h0M296 30.1h0M287.6 18.4h0M289.8 18.3h0M288.9 47.3h0M289.8 97.6h0M296.8 26.3h0M288.8 27.4h0M286.9 36h0M295.3 26.7h0M295 119.8h0M286.2 29.6h0M291.9 101h0M290.5 58h0M291.7 49h0M286.6 29.2h0M283.7 132.6h0M290.8 25.1h0M284.4 148.4h0M294.1 60.5h0M292.5 120.9h0M293.7 47.3h0M294.9 63.3h0M288.1 42.5h0M294.3 43.9h0M285.6 47.6h0M283.9 30.2h0M286.2 45.1h0M293.7 28.5h0M284.6 117.7h0M296.6 78.1h0M288.6 48.6h0M287.5 26h0M286.1 79.9h0M288.9 154h0M294 85.9h0M294.4 32.1h0M284.7 31h0M287.8 23.8h0M293.6 47.9h0M293 28.6h0M290.1 27.2h0M293.4 37.9h0M292 34.9h0M292.1 21.8h0M286.4 115.1h0M286.6 129.3h0M294.4 31.5h0M293.7 26.3h0M286.9 55.6h0M283.6 17.1h0M285.4 38.8h0M285.6 35h0M285.9 25.6h0M296.9 22.7h0M291.7 95.6h0M287 33.5h0M297.2 44.5h0M297.1 28.8h0M290.2 22.1h0M291.8 29.8h0M284 119.4h0M289.6 32.9h0M286.7 18.2h0M293.1 31.3h0M285.5 49h0M294.8 64.4h0M284.5 24.7h0M295.5 46.2h0M293.8 71.5h0M292.7 117.9h0M293.2 42.9h0M284.6 22.5h0M289.5 20.2h0M287.6 25.9h0M286.1 39.5h0M296.2 150.8h0M296.5 29.9h0M285.6 115.7h0M293.5 19.1h0M288.5 18h0M293.8 50h0M289.2 123.3h0M295.6 51.3h0M290.2 151.7h0M289.1 23.1h0M297.7 133.7h0M288.9 61.3h0M288.4 45.6h0M285.9 107h0M292.3 37.4h0M296.1 41.8h0M293.8 35.8h0M291.9 140.5h0M284 54.2h0M294.2 61.7h0M296 58.7h0M291.4 44.9h0M285.8 81.1h0M289 40.2h0M284.4 19.4h0M293.6 91.7h0M288.1 41.7h0M287.4 27h0M285.1 39.3h0M297.1 47.8h0M293.7 33.3h0M294 97.4h0M287.7 31h0M291.2 16.5h0M289.4 43.3h0M286.1 33.9h0M283.8 39.7h0M290.2 88.3h0M289.2 26.2h0M290.7 41.4h0M289.5 20.5h0M287.6 30.8h0M285.1 57.4h0M286.3 40.8h0M290.2 148.4h0M287.8 60.7h0M286.1 22.1h0M286.6 53.1h0M290.3 56h0M283.7 130.9h0M296.6 35.9h0M285.7 39h0M284.1 32.5h0M286.6 48.5h0M286.8 35.4h0M293.4 14.2h0M295.9 22.9h0M291.3 113.8h0M292.7 47.6h0M287.9 31.3h0M294.4 19.8h0M283.7 14.5h0M297.2 39.2h0M287.2 30h0M287.8 98.5h0M288.8 26.7h0M285.2 79.8h0M285.6 35.1h0M286.5 38.6h0M289.8 24.5h0M285.4 37.2h0M294.8 14.6h0M288.2 48.2h0M289.3 30.4h0M284 48.6h0M289.8 26.6h0M293 84.8h0M296.1 152.5h0M285.5 19.9h0M284.7 43h0M292.4 19.5h0M292.5 33.5h0M289.4 48.2h0M284 24.4h0M292 25.2h0M290.8 43.1h0M284.5 41.2h0M288.9 49.8h0M292.3 22.3h0M285 61.5h0M284.8 33.1h0M289 60h0M297.7 17.8h0M297.5 16.4h0M297.6 27.3h0M293.1 106.9h0M283.4 57.9h0M297.3 32.7h0M288.9 34.9h0M296.5 42h0M283.5 121h0M294.5 29.6h0M297 83.5h0M288.9 26.2h0M296.7 35.2h0M286.7 52.3h0M292.8 28.9h0M284.6 55.4h0M297.1 24.9h0M295.3 36.2h0M294.6 35.9h0M287.3 45h0M295.9 121h0M295.7 44.6h0M290.4 19.3h0M294.6 62.7h0M290.1 19.9h0M295.6 49h0M290.9 47.4h0M287.8 33.4h0M287 24.2h0M286.9 61.2h0M297.2 34.9h0M284.2 26.9h0M297.1 152.8h0M296.7 16.7h0M285.6 63.6h0M295.9 27.4h0M292.2 25.8h0M295.9 29.2h0M289.2 21.1h0M294.1 36.9h0M295.1 54.5h0M286.6 57h0M291.2 50.9h0M287.1 91.6h0M286.6 63.8h0M294 40.4h0M294.4 33.3h0M293.7 47.9h0M286.1 28h0M284.7 30.9h0M288.1 29.9h0M295.6 38.4h0M284.7 29.1h0M294 90.8h0M285.9 100.4h0M294.5 19.9h0M284.6 19.9h0M292.8 26.1h0M286.7 116.3h0M283.9 18.2h0M291.1 13.1h0M290.4 36.4h0M293.5 19.6h0M286.8 140.7h0M289.6 31.4h0M283.8 28.2h0M297.5 88.5h0M286.4 32.7h0M288.2 20.5h0M286.8 58.5h0M286.2 37h0M289.8 35.9h0M285.3 148.7h0M289.8 105.7h0M286.1 25.2h0M289.4 35.7h0M290.8 128.6h0M292.1 43.7h0M292.1 28.7h0M290.4 110.9h0M284.1 29.6h0M297.3 37.8h0M290.3 19.7h0M284.9 43.5h0M294.8 22h0M293.6 16.4h0M284.4 34.2h0M291.1 53.5h0M289.2 47.3h0M284.5 32.4h0M291.1 55.5h0M287.8 27.9h0M296.2 30.1h0M285.5 65.6h0M290.6 28.5h0M290.6 74.2h0M288 139.3h0M290.1 28.1h0M297.3 22h0M295.8 87.1h0M293.4 37h0M290.6 25.6h0M286 29.5h0M289.8 44.1h0M284.8 18h0M295 64h0M288.1 30h0M286.9 23.2h0M287.3 61.5h0M287.2 41.7h0M286.6 19.2h0M289.9 23.4h0M293.2 42.1h0M295.7 43h0M283.6 22.3h0M289.3 101.9h0M296.8 71.1h0M287.4 97.3h0M290.1 34.5h0M288.9 31.5h0M294.8 108.4h0M294 95.9h0M296.9 37.3h0M284.2 60.2h0M285.3 45.2h0M287.1 30.5h0M290 20.7h0M289.4 15.3h0M288 28.3h0M289.6 42.2h0M295.1 49.1h0M283.7 50.8h0M295.4 31.1h0M288.3 23.9h0M286.1 23.2h0M292.5 31.9h0M294.8 38.7h0M289.5 129.1h0M295.4 37.3h0M295.2 39.7h0M289.9 48.4h0M290.4 48.4h0M285.7 63.3h0M297.3 75.6h0M285.2 41.8h0M285.8 96.3h0M291.7 39.2h0M293.1 17.8h0M290.5 30.9h0M287.8 53.6h0M293.5 53.2h0M295.7 47h0M287.8 17.2h0M289.6 37.1h0M288.4 22.3h0M283.8 21.8h0M289.2 25.9h0M290.9 117.8h0M297.6 38.9h0M290.7 33.8h0M296.7 31.8h0M294.3 15.6h0M293.8 37.9h0M286.3 23.5h0M289.1 81.3h0M292.8 56.5h0M292.7 27.3h0M289.2 151.8h0M294.4 55.3h0M293.9 74.2h0M288.5 28.8h0M288.9 55.6h0M286.2 47.3h0M292.6 81h0M290.1 78.7h0M289 48h0M290.7 39.4h0M293.8 68.1h0M290.1 28.1h0M285.8 22h0M297.7 35.1h0M292.1 25.4h0M295.6 46.1h0M289.6 32.1h0M293.9 43.4h0M296.8 30.3h0M289.4 62.1h0M286.1 38.9h0M285.8 41.1h0M288.9 34.5h0M292.7 127.7h0M294 103.6h0M296 36.8h0M283.9 13.9h0M294.3 44.1h0M295.5 34.6h0M288.9 27.9h0M294.4 39.9h0M286.7 31.5h0M287.2 30.6h0M285.5 28.7h0M292.6 24h0M294.3 20.4h0M291.1 43.5h0M284.7 22h0M295.4 36.1h0M284.8 18.6h0M294.6 32.4h0M286 17.6h0M287 26.3h0M288.4 29.2h0M293.9 42.1h0M291.6 28h0M289.3 29.7h0M293.7 118.1h0M293.5 17.5h0M284.1 81.3h0M294.5 146.5h0M297 36.9h0M292.7 51.6h0M285.3 21.4h0M291.2 29.1h0M294.6 19.7h0M295.9 29.1h0M296.8 44.8h0M297.7 26.7h0M296.7 104.8h0M295.8 19.7h0M286.6 21.4h0M290.6 54.1h0M295.8 41.1h0M295.7 17.2h0M294.9 38.2h0M294.5 34.3h0M290.5 54.3h0M291.3 14.5h0M285.3 17.1h0M293.3 54.5h0M290.2 27h0M287.5 38.8h0M283.9 132.3h0M292 28.4h0M294.6 19.4h0M284.2 52.5h0M286 47.4h0M296.7 33.7h0M287 36.8h0M288.3 42.7h0M292.4 27.6h0M288 33.7h0M291.9 29.6h0M288.6 23.2h0M286.5 147.7h0M288.2 72.4h0M291.4 58.6h0M292.7 99.2h0M284.9 114h0M290.2 14.7h0M287.1 87h0M283.7 25.6h0M287.7 20.1h0M293.3 34.7h0M291.3 53.8h0M293.9 53.3h0M295.3 30.1h0M283.6 27.4h0M289.8 42.1h0M296.2 24.6h0M294 31h0M292.7 41.5h0M291.2 60.7h0M286.5 27.7h0M289.6 57.4h0M287.8 23.7h0M291 32.9h0M286 37.1h0M284.3 32.4h0M292.1 29.6h0M291.6 27.6h0M297.3 23h0M288 50.9h0M292.4 54.9h0M288.8 16.3h0M286.1 35.1h0M289.2 26h0M283.7 21.2h0M290.7 70.7h0M291.3 40.5h0M292.5 59.2h0M288.5 50.1h0M289.7 38.2h0M294.2 51.2h0M285.9 34.6h0M284.3 29.6h0M291.1 29.6h0M284.3 25.8h0M295.4 31.7h0M296.1 33.4h0M286.2 40.3h0M292.7 47.1h0M292.3 26.2h0M285.5 32.6h0M294.6 56.9h0M288.3 43h0M285.3 42.2h0M292.9 153.3h0M286.7 35.5h0M293.4 16.6h0M285.9 67.6h0M285.3 36.3h0M289.6 22h0M284.8 22h0M288.4 48.6h0M289.4 59.5h0M285.5 111.6h0M284.4 36.4h0M291.8 69.8h0M290.6 34.1h0M295.1 40.3h0M291.8 38.2h0M288.1 55.5h0M286 39.7h0M289.4 90.9h0M285.9 38.8h0M283.6 24.5h0M286.3 34.6h0M292.2 32.4h0M290.7 28.6h0M293.5 13.4h0M283.6 61h0M289.8 37.9h0M291.2 62.9h0M291.8 53.9h0M288.8 38.6h0M293.1 25.3h0M296 22.6h0M288.7 73.4h0M297.4 38.9h0M297.8 75.9h0M288.6 21.4h0M289.1 28.1h0M286 26h0M295.3 19.9h0M289.2 60h0M294.3 22.8h0M296.3 26.2h0M294.1 31.7h0M283.5 43.4h0M286.1 30.7h0M288.4 37.3h0M293.3 22.2h0M288.7 42.9h0M295.7 38h0M288.7 30.2h0M286.1 64.7h0M288.3 63h0M292.3 57.2h0M295.9 26h0M295.7 30.8h0M293.9 77.7h0M296.6 63.9h0M296.7 87.8h0M295.9 19.7h0M288.2 40h0M296.1 18.6h0M292.8 60.4h0M287.5 17.4h0M290.3 25.5h0M286.1 37.2h0M289.1 57.8h0M293.9 95.7h0M288.4 57.9h0M285.9 38.8h0M297 48h0M289.4 49.4h0M286.4 35.7h0M292.4 29.7h0M294.2 40.7h0M292.3 131.5h0M288.3 39h0M290.7 29.8h0M293 35.5h0M297.7 147.1h0M291.8 30.1h0M286.8 35.5h0M295 141.6h0M287.8 36.3h0M291.7 117.8h0M291.4 34.2h0M283.8 38.6h0M290.9 44.5h0M288.1 28.7h0M288.2 17.7h0M295.4 45.2h0M284.1 122.1h0M292.1 45.9h0M286.9 23.9h0M288.7 46.9h0M294.4 37.6h0M292.8 31.8h0M292.5 30h0M288.4 40.5h0M296.3 25.9h0M285.9 76.6h0M293.4 27.3h0M295.9 24.3h0M295.2 61.8h0M285.4 28.4h0M295.2 32.8h0M291.1 54h0M284.1 29.1h0M290 50.5h0M288.9 36.1h0M290.4 109.7h0M287.8 47.7h0M285.2 21.7h0M296.1 64h0M296.2 62h0M287.1 55.7h0M284.8 19.6h0M297 46.7h0M295.8 32.9h0M283.5 58h0M294.9 121.9h0M294.2 25.5h0M284.7 49.7h0M295.2 103.6h0M286.6 40.6h0M287 57.3h0M295.8 110.4h0M286.5 26.4h0M285.6 16.6h0M284.9 38.5h0M290.9 104.6h0M296.5 28.4h0M296.7 34.5h0M284.4 33.9h0M287.3 48.1h0M296.3 20.4h0M285 57.5h0M293.8 38.9h0M297.1 14h0M293.7 41h0M289.8 43h0M293.2 15.1h0M285.7 53.8h0M291.4 28.2h0M283.6 28.9h0M289.8 26.6h0M287.4 19.4h0M292.6 58.2h0M284.1 46.4h0M286.9 38.6h0M297.2 108.2h0M283.8 23h0M287.3 69.9h0M292.5 31.3h0M292.8 29.5h0M292.8 28.1h0M289.6 44.5h0M293.1 73.1h0M289.1 136.7h0M291.8 23.4h0M288.3 85.7h0M290.7 48.8h0M286.9 44.3h0M292.4 53h0M284.7 20.5h0M288.9 44.3h0M291.4 35.1h0M293.3 140.3h0M293.2 31.1h0M292.8 26.7h0M290.3 78.6h0M287.1 30.8h0M291.3 67h0M292.5 21.6h0M287.2 21.8h0M297.6 39.6h0M283.9 33.4h0M289.7 52.9h0M287.8 32.6h0M292.7 27.9h0M294.9 37.5h0M287.9 51.3h0M289.4 33.6h0M288.2 21.7h0M287 30.2h0M289.9 26.9h0M297.1 39.3h0M293.2 41.7h0M294.1 14h0M296.5 25.9h0M291.8 55.3h0M291.7 25.2h0M291 22.6h0M292.6 104.8h0M296.2 21.4h0M294.1 29.7h0M284.1 35.4h0M295.3 28.6h0M292.9 50.7h0M289.4 38.1h0M288 40.6h0M292.5 31.7h0M291.9 63.2h0M284.3 32.7h0M285.3 17.2h0M286.2 28.5h0M286.6 41.5h0M297.1 46.6h0M292.4 31.3h0M287.8 40.5h0M284.8 34h0M291.5 64.1h0M289 27h0M287.4 28h0M285.2 117.5h0M294.1 51.2h0M290.9 55.4h0M295.1 52.3h0M294.1 42.9h0M295.5 32.9h0M296.7 109.4h0M288.3 58.2h0M293.3 28.3h0M285.5 35.7h0M285.9 60.7h0M289.2 38.6h0M291.4 25.9h0M283.7 37.5h0M283.5 71.9h0M295.6 40.8h0M296.1 123.4h0M297.6 23.5h0M287.2 44.9h0M290.2 34.6h0M290 149.2h0M289.6 29.7h0M291.6 29h0M289.4 33.6h0M295.5 37.5h0M294.3 94.6h0M287.9 29.2h0M296.6 22.8h0M285.3 44.2h0M285.5 54.6h0M297.3 150.3h0M296.8 143.3h0M288.4 116.2h0M285.6 39.1h0M297.3 28.8h0M296 36.9h0M288.9 97.2h0M295.4 46.3h0M283.8 21.7h0M290.8 29.6h0M289.3 22.2h0M297.7 60.8h0M290.6 21.1h0M283.8 37.8h0M289.6 24.2h0M286.8 63.7h0M291.4 33.3h0M283.8 20.9h0M287.7 35.7h0M284.6 31.4h0M289.6 19.6h0M293.9 35.4h0M291.3 27.6h0M294.4 66.7h0M297.2 32.5h0M291.9 24.3h0M296.4 33h0M290.5 37.1h0M284.9 16.3h0M291.6 96.5h0M292.4 27.7h0M297.6 52.3h0M290.4 21.2h0M286.4 109.4h0M284.5 38.3h0M295.5 60.5h0M285.1 20.8h0M292.1 72.4h0M289 17.9h0M297.6 48.2h0M290.2 30.5h0M284 30.6h0M292.2 104h0M288 22.2h0M287.5 16.3h0M291.4 30.8h0M284.4 153.3h0M295.2 53.7h0M284.8 32.8h0M291.5 49.7h0M289.6 43h0M295.6 36.6h0M289 31.1h0M283.5 24.2h0M285.8 87h0M287.7 51.9h0M292.7 37.4h0M286.9 32.4h0M295 20.7h0M293.2 57.9h0M297 25.8h0M291.3 75.4h0M289.1 48.9h0M296.9 109.7h0M296.6 22.9h0M296.2 109.8h0M284.9 28.2h0M289.6 35.5h0M293.1 24.9h0M296.8 46.9h0M289.4 29.3h0M294.8 27.8h0M287.6 46.1h0M284.7 28.8h0M286.4 148.6h0M285.6 53.9h0M285.2 115h0M292.7 39.2h0M296.6 44.3h0M293.9 80.2h0M290.5 83.3h0M286.2 116h0M291.3 26.1h0M286.4 34.5h0M294.2 34.1h0M286.4 48.1h0M287.4 37.3h0M287.8 50.7h0M295.5 74.2h0M290.2 39.5h0M288.8 39.1h0M296.7 37h0M287.6 33.4h0M291.8 51.7h0M284.1 52.3h0M297.3 51.7h0M285.8 29.9h0M286.6 146h0M293.8 104.3h0M292.6 34.2h0M293.6 74.2h0M287.6 18.5h0M292 39.2h0M287.5 13.8h0M286.2 34.3h0M296.1 26.5h0M293 26.5h0M294.2 95.9h0M292.5 103.7h0M287.4 31.7h0M284.9 44.6h0M283.8 72.8h0M291.1 25h0M291.7 143.7h0M291.9 35.2h0M297.5 50.1h0M283.5 56.1h0" stroke="#1e1e1e" stroke-width="1.1" stroke-linecap="round" opacity="0.82"/>
<path d="M283.9 154.3h13.4" stroke="#111" stroke-width="1.4"/>
<path d="M290.6 161v1" stroke="#999" stroke-width="0.5"/>
<text transform="translate(294.7 170.8) scale(0.95 1.09) rotate(-45)" font-size="6.2" text-anchor="end" fill="#1a1a1a" stroke="#1a1a1a" stroke-width="0.12">LG.IPMN1</text>
<path d="M307.1 21.5 307.2 22.5 307.3 23.5 307.5 24.5 307.8 25.5 308 26.5 308.1 27.5 308.1 28.5 308.3 29.5 308.6 30.5 308.9 31.5 309.2 32.5 309.5 33.5 309.7 34.5 309.7 35.5 309.9 36.5 310.1 37.5 310.5 38.5 310.8 39.5 311.3 40.5 311.6 41.5 312 42.5 312.2 43.5 312.4 44.5 312.4 45.5 312.5 46.5 312.6 47.5 312.7 48.5 312.9 49.5 313 50.5 313.2 51.5 313.3 52.5 313.4 53.5 313.5 54.5 313.5 55.5 313.5 56.5 313.5 57.5 313.5 58.5 313.5 59.5 313.5 60.5 313.5 61.5 313.5 62.5 313.5 63.5 313.5 64.5 313.5 65.5 313.4 66.5 313.3 67.5 313.2 68.5 313 69.5 312.9 70.5 312.7 71.5 312.6 72.5 312.5 73.5 312.4 74.5 312.4 75.5 312.3 76.5 312.1 77.5 311.8 78.5 311.5 79.5 311.1 80.5 310.8 81.5 310.5 82.5 310.3 83.5 310.2 84.5 310.2 85.5 310.1 86.5 310 87.5 309.8 88.5 309.6 89.5 309.3 90.5 309.1 91.5 308.9 92.5 308.8 93.5 308.7 94.5 308.7 95.5 308.5 96.5 308.3 97.5 308.1 98.5 307.9 99.5 307.9 100.5 307.8 101.5 307.7 102.5 307.6 103.5 307.5 104.5 307.4 105.5 307.4 106.5 307.4 107.5 307.4 108.5 307.4 109.5 307.4 110.5 307.4 111.5 307.4 112.5 307.4 113.5 307.4 114.5 307.4 115.5 307.4 116.5 307.4 117.5 307.4 118.5 307.4 119.5 307.4 120.5 307.4 121.5 307.4 122.5 307.4 123.5 307.4 124.5 307.4 125.5 307.4 126.5 307.4 127.5 307.4 128.5 307.4 129.5 307.4 130.5 307.4 131.5 307.4 132.5 307.4 133.5 307.4 134.5 307.4 135.5 307.4 136.5 307.4 137.5 307.4 138.5 307.4 139.5 307.4 140.5 307.4 141.5 307.4 142.5 307.4 143.5 307.4 144.5 307.6 145.5 308.1 146.5 308.5 147.5 308.6 148.5 308.7 149.5 308.8 150.5 308.9 151.5 309 152.5 309.1 153.5 309.1 154 304.5 154 304.5 153.5 304.6 152.5 304.7 151.5 304.8 150.5 304.9 149.5 305 148.5 305.1 147.5 305.5 146.5 306 145.5 306.2 144.5 306.2 143.5 306.2 142.5 306.2 141.5 306.2 140.5 306.2 139.5 306.2 138.5 306.2 137.5 306.2 136.5 306.2 135.5 306.2 134.5 306.2 133.5 306.2 132.5 306.2 131.5 306.2 130.5 306.2 129.5 306.2 128.5 306.2 127.5 306.2 126.5 306.2 125.5 306.2 124.5 306.2 123.5 306.2 122.5 306.2 121.5 306.2 120.5 306.2 119.5 306.2 118.5 306.2 117.5 306.2 116.5 306.2 115.5 306.2 114.5 306.2 113.5 306.2 112.5 306.2 111.5 306.2 110.5 306.2 109.5 306.2 108.5 306.2 107.5 306.2 106.5 306.2 105.5 306.1 104.5 306 103.5 305.9 102.5 305.8 101.5 305.7 100.5 305.7 99.5 305.5 98.5 305.3 97.5 305.1 96.5 304.9 95.5 304.9 94.5 304.8 93.5 304.7 92.5 304.5 91.5 304.3 90.5 304 89.5 303.8 88.5 303.6 87.5 303.5 86.5 303.4 85.5 303.4 84.5 303.3 83.5 303.1 82.5 302.8 81.5 302.5 80.5 302.1 79.5 301.8 78.5 301.5 77.5 301.3 76.5 301.2 75.5 301.2 74.5 301.1 73.5 301 72.5 300.9 71.5 300.7 70.5 300.6 69.5 300.4 68.5 300.3 67.5 300.2 66.5 300.1 65.5 300.1 64.5 300.1 63.5 300.1 62.5 300.1 61.5 300.1 60.5 300.1 59.5 300.1 58.5 300.1 57.5 300.1 56.5 300.1 55.5 300.1 54.5 300.2 53.5 300.3 52.5 300.4 51.5 300.6 50.5 300.7 49.5 300.9 48.5 301 47.5 301.1 46.5 301.2 45.5 301.2 44.5 301.4 43.5 301.6 42.5 302 41.5 302.3 40.5 302.8 39.5 303.1 38.5 303.5 37.5 303.7 36.5 303.9 35.5 303.9 34.5 304.1 33.5 304.4 32.5 304.7 31.5 305 30.5 305.3 29.5 305.5 28.5 305.5 27.5 305.6 26.5 305.8 25.5 306.1 24.5 306.3 23.5 306.4 22.5 306.5 21.5Z" fill="#B4A01C"/>
<path d="M305.1 83.3h0M307 101.6h0M305.1 33h0M311.8 59.8h0M303.2 56.1h0M304.6 85.5h0M305.6 91h0M301.2 42.3h0M304.2 90.2h0M313.9 71.8h0M308.9 45h0M306.2 60h0M305.3 58.6h0M310.8 52.4h0M302.9 43.5h0M304.6 100.5h0M303 121.2h0M301 77h0M303.7 39.5h0M312.4 59h0M308.5 66.2h0M308.9 83.4h0M303.4 47.2h0M308.2 57.8h0M308.3 32.8h0M305.8 81.8h0M312.9 69.5h0M301.1 72.8h0M311.7 58.3h0M313.6 78.7h0M307.7 46.6h0M300.3 60.5h0M304.2 95.7h0M300.1 43.7h0M304.6 51.6h0M307.5 149.3h0M310.9 71.6h0M313.2 85.5h0M303.2 55.4h0M300.3 41.2h0M311.1 91h0M300.4 50h0M302.4 60.8h0M304.7 43.9h0M300.6 54.3h0M308.4 71h0M310.7 54.4h0M311.9 65.9h0M307.8 59.9h0M300.8 35h0M301.4 98.8h0M307.4 47.7h0M302.8 57.9h0M300.6 58.1h0M303 48.5h0M308.1 46.4h0M311.4 147.7h0M308.7 66.8h0M301.5 25.9h0M305.8 73.9h0M303.6 44.5h0M304.2 42.4h0M305.8 46.2h0M301.3 27.4h0M307.5 90h0M302.5 78.5h0M301.3 81.7h0M311 50.1h0M307.7 70.8h0M307.3 63.3h0M313.4 26.2h0M308.1 44.4h0M304.3 73.8h0M310.8 77.9h0M312.5 63.6h0M304.6 45h0M302.4 35.8h0M310.8 44.1h0M306.6 74.8h0M300.2 55.5h0M304.2 52.5h0M306.3 75.1h0M307.9 70.2h0M302.9 80.8h0M306.8 61.3h0M312.5 25h0M303.7 44.6h0M304.3 65.8h0M313.8 44.9h0M302.7 30.8h0M307.7 62.3h0M307.3 67.7h0M299.9 77.8h0M313.5 124.5h0M302.2 69.3h0M307.9 103.8h0M305.7 28.8h0M306.4 39h0M313.3 47h0M304 90.3h0M313 48.5h0M311.9 47.1h0M313.8 27h0M304 66.5h0M300.8 78.2h0M302 61h0M305.4 41.8h0M312.5 114.8h0M301.8 29.5h0M309.6 35.3h0M310.1 68.8h0M309.5 75.4h0M313.3 39.3h0M301.4 90.7h0M310.1 89h0M299.9 100.2h0M300.8 105.4h0M308.4 61.4h0M300 65h0M313.5 56.2h0M312.1 67.8h0M313.3 97h0M313.9 47.7h0M311.5 48.7h0M305.1 88.8h0M312 41h0M303.4 52.9h0M311.3 61.7h0M305.2 107.9h0M311 78.8h0M310.6 50.9h0M310 68.3h0M305.6 36.7h0M304.8 79.1h0M301.5 53.5h0M302.4 50.1h0M304.2 98.5h0M305.3 44.8h0M313.5 42.3h0M313.3 105.4h0M308.8 75.5h0M309 58.2h0M313.6 121.9h0M314 60.2h0M312.1 76.4h0M304.7 66.9h0M302.7 84.4h0M308.8 85.3h0M311.7 61.3h0M311.4 72.7h0M311.9 31.3h0M312.1 42h0M313 50.5h0M300.5 46h0M305.9 90.4h0M311.2 81.2h0M300.1 83.2h0M311.6 52.7h0M306.2 63.2h0M302.5 67.3h0M304.2 89.6h0M307.1 52.3h0M304.6 44h0M300.2 56.9h0M310.4 91.3h0M304.6 109.9h0M307.3 73.9h0M304.1 71.1h0M305.1 61.2h0M303.2 77.3h0M304.2 64.1h0M302.4 67.8h0M311.4 82.2h0M301.7 36.5h0M302.9 80.2h0M305.2 146.9h0M304.5 47.8h0M311.9 88.3h0M304.1 55.6h0M304.8 69.6h0M311.1 55.6h0M301.8 63.5h0M302.7 76.9h0M306.6 54.4h0M311 62.8h0M308.2 58.3h0M312.3 32.3h0M312.7 71h0M300.4 135.6h0M306.3 63.7h0M300.5 68.7h0M307.2 63.2h0M313.6 84h0M307.9 54.4h0M310.7 48.4h0M306.8 121.4h0M303.3 64.1h0M300.5 72.4h0M305.5 54.5h0M304.1 50.2h0M300.5 34.8h0M306.7 91.1h0M304.5 53.7h0M303 86.3h0M313.8 63.9h0M302.8 48.5h0M310.2 108.1h0M305.8 62.7h0M311 64.7h0M311.5 107.6h0M312.7 43.7h0M303.1 36h0M312.6 65.3h0M313.4 40.3h0M308.5 58.3h0M301.4 48h0M302.2 52.6h0M312.1 92h0M306.6 60.8h0M300.1 56.5h0M306.9 46.2h0M308.4 57.1h0M304.5 91.5h0M300.2 62.7h0M310.8 52.4h0M301.3 58.9h0M310.9 53.2h0M306.9 44.6h0M303.8 77h0M302 112h0M301 65.5h0M309.9 33h0M303.3 56.1h0M307.3 76.8h0M305 98.4h0M310.6 26.4h0M306 79.4h0M307.1 68.6h0M300.7 86.6h0M305 63.1h0M313.9 59.4h0M304.2 136.7h0M308.5 50.9h0M311.1 66.1h0M303.8 130.7h0M303 27.3h0M309.3 44.9h0M313.4 60.2h0M308.8 55.2h0M305.6 58h0M300.1 49.7h0M310.1 60.9h0M311.2 54.8h0M303.2 83.8h0M306.5 50.8h0M311.1 73.2h0M309.1 65h0M308 49.4h0M311.9 74.2h0M311.5 83.9h0M304.7 50.2h0M307.9 78.1h0M301.4 38.7h0M312.7 39.9h0M307.9 55h0M313.6 74.1h0M310 31.1h0M307.6 54.1h0M311.3 62h0M308.1 58.3h0M303.9 91.1h0M307.4 29.5h0M301.8 60.7h0M307.7 46.9h0M305.8 59.1h0M313.8 62.6h0M312.6 68.2h0M302.8 39.1h0M305.3 44.7h0M310 85.1h0M312.3 63.4h0M313.3 42.2h0M305.3 84.1h0M300.9 38.8h0M306.9 36.8h0M304.2 56.2h0M302.5 96.7h0M312.3 48.5h0M300.1 47.4h0M302.9 74.5h0M307.2 68.2h0M312.6 77.4h0M302.6 93.2h0M300.7 26.9h0M306.5 52.1h0M311.1 50.4h0M300.8 55.5h0M300.9 35.8h0M302.6 55.7h0M313 47.2h0M303.1 49.2h0M306.9 102.9h0M312.5 110.2h0M300.7 64.1h0M305.6 86.5h0M304.1 92.4h0M309.2 78.8h0M304.4 48.1h0M304.7 51h0M301.6 57.8h0M303.6 51.7h0M306.2 93.4h0M312.4 52.7h0M302.7 83.2h0M303.6 34.4h0M303.8 57.8h0M305.5 75.5h0M303.7 31.3h0M301.2 83.8h0M309.5 52.8h0M302 58.6h0M309 55h0M307.6 89.7h0M300.3 65.1h0M305.8 33.5h0M304.6 88.7h0M311.2 50.2h0M309.4 39.4h0M302 77.8h0M312.4 76h0M312.8 46.8h0M304.6 68.7h0M302.1 56.4h0M307.3 58.4h0M303 76h0M308.9 38h0M301.9 81.2h0M302.4 148h0M305.2 70.6h0M304.1 73.5h0M301.2 53.4h0M307.9 75.2h0M311.4 101.3h0M299.8 45.8h0M309.4 48.3h0M306.8 137.7h0M299.8 52.2h0M302.2 95.3h0M310.9 84.7h0M305.8 91h0M303.1 81.5h0M310.6 69.4h0M300.6 90.3h0M300.3 65.9h0M309.8 51.5h0M312.1 47.2h0M309.2 51.2h0M302.7 70.1h0M303.9 84.4h0M309.8 62.5h0M304.1 80h0M312 74.4h0M307.4 61.5h0M302.3 66.6h0M310.9 57.5h0M313.6 66.3h0M304.6 37.2h0M305.4 135h0M311.1 84.2h0M313.1 37.6h0M302.7 68.7h0M313 82.3h0M310.1 59.1h0M299.7 77.7h0M312.8 56.5h0M304.7 38.9h0M304.2 70h0M300.2 62.5h0M303.6 53.3h0M304.9 55.3h0M313.3 73.2h0M310.1 37.3h0M303.7 71.8h0M311.2 75.4h0M309.3 95.7h0M312.5 48.6h0M304.5 70.9h0M304.8 51.5h0M302.6 64.3h0M302.9 68.6h0M301.9 39.2h0M307.1 51.4h0M307 61.3h0M301.6 79.9h0M306.5 45.7h0M309.9 101.7h0M309.9 57.3h0M306.1 53.2h0M313.8 59.1h0M301.4 57.9h0M300.6 43.2h0M311.8 66.1h0M310.4 50.8h0M302.5 35.2h0M300.5 89.7h0M308.6 48.7h0M311.7 59.9h0M306.8 51.3h0M302.4 58.3h0M305.3 89.1h0M310.7 122.8h0M313.8 121.4h0M311.6 60.3h0M312.9 52.5h0M310.7 80.3h0M307.9 40.9h0M307.9 52.5h0M302 69.7h0M307.4 36.5h0M306.8 32.2h0M301.5 56.7h0M302.4 63.9h0M313.5 96.4h0M309.6 49.5h0M303.9 94.3h0M308.1 82.6h0M311.4 75.5h0M299.8 66.7h0M306.6 62.9h0M313 74h0M302 37.3h0M302.4 90h0M308.3 51.7h0M311.5 75.3h0M304.9 60.5h0M300.2 60.5h0M304.7 123.3h0M300.9 133.8h0M308.9 89.4h0M302.8 52.1h0M309.1 79.5h0M309.4 76.6h0M305.9 45.7h0M310.8 85.7h0M301.2 84.7h0M302.8 42.3h0M309.6 30.1h0M308.2 84.7h0M303.5 56.4h0M307.9 60.1h0M305 74h0M300.2 33.6h0M312 78.6h0M303.7 72.8h0M307.5 107.6h0M308.7 57.3h0M310.9 66.1h0M313.4 145.7h0M310.2 51.4h0M304 83.3h0M305.4 65h0M313 52h0M308.6 55.4h0M305 40.2h0M310.6 46.1h0M307 62.7h0M305.9 73.8h0M308.1 47h0M303.2 65h0M309.6 35h0M302.3 48.8h0M303.6 86.6h0M299.9 55.3h0M304.1 85.3h0M303.4 55.4h0M304 75.4h0M313.7 80.3h0M309.6 42.7h0M311.9 55h0M308.5 43.7h0M302.7 49h0M300.3 70.7h0M303.9 81.4h0M312.5 80.8h0M305.5 116.2h0M312.3 54.7h0M312.8 102.7h0M306.5 54.1h0M311.7 153.1h0M306.6 71.4h0M313.4 48.9h0M309.8 99.1h0M312.6 54.1h0M302.1 38h0M305.4 33h0M313.2 77.2h0M310.8 78.6h0M300.3 47.7h0M309.5 81.8h0M305.2 36.5h0M313.6 42.9h0M304.5 33h0M308 82.8h0M306 70h0M304.3 83h0M313.3 150.6h0M312.4 77.2h0M313.5 33.2h0M309.6 79.4h0M313 76.9h0M305.1 55.7h0M305.8 40.4h0M306.2 131.6h0M309.8 68.9h0M312.4 50h0M310.9 65.3h0M306.7 39.8h0M306.2 88.1h0M305 70.4h0M301.5 46h0M306.1 49.7h0M313.6 44.5h0M307.6 86.6h0M313.9 62.5h0M309.1 111.6h0M306.7 100.2h0M308.1 66.8h0M306.3 67.9h0M299.6 58.5h0M312.3 31h0M303.3 89.8h0M307.4 69.2h0M301.3 64.7h0M314 101.1h0M311.4 39.2h0M304.3 148.7h0M301.2 93.2h0M311.1 68.8h0M305.4 40.2h0M311.1 43.8h0M300.2 111.5h0M305.2 91.6h0M307.3 33.2h0M300.8 47.5h0M310.2 109.3h0M306.6 148.2h0M308.8 116.4h0M307.6 40.5h0M302.8 65.3h0M313.5 52.2h0M313.7 44.2h0M305.2 41.5h0M312.1 66.7h0M311.1 97h0M311.5 48.1h0M313 41.5h0M310.6 58.6h0M309.6 55.6h0M306.5 30.4h0M307.3 65.6h0" stroke="#1e1e1e" stroke-width="1.1" stroke-linecap="round" opacity="0.82"/>
<path d="M300.1 154.3h13.4" stroke="#111" stroke-width="1.4"/>
<path d="M306.8 161v1" stroke="#999" stroke-width="0.5"/>
<text transform="translate(310.9 170.8) scale(0.95 1.09) rotate(-45)" font-size="6.2" text-anchor="end" fill="#1a1a1a" stroke="#1a1a1a" stroke-width="0.12">LG.IPMN2</text>
<path d="M324.6 34 325 35 325.6 36 326 37 326.1 38 326.3 39 326.6 40 327 41 327.4 42 327.7 43 327.9 44 328 45 328 46 328.2 47 328.3 48 328.5 49 328.8 50 329 51 329.2 52 329.3 53 329.5 54 329.5 55 329.5 56 329.5 57 329.5 58 329.5 59 329.5 60 329.5 61 329.5 62 329.5 63 329.5 64 329.5 65 329.5 66 329.3 67 329.1 68 328.9 69 328.7 70 328.4 71 328.2 72 328 73 327.8 74 327.8 75 327.7 76 327.6 77 327.3 78 327.1 79 326.8 80 326.4 81 326.2 82 325.9 83 325.8 84 325.7 85 325.7 86 325.6 87 325.4 88 325.2 89 325.1 90 324.9 91 324.7 92 324.5 93 324.4 94 324.4 95 324.4 96 324.3 97 324.3 98 324.2 99 324.1 100 324 101 323.9 102 323.9 103 323.8 104 323.8 105 323.8 106 323.7 107 323.7 108 323.6 109 323.6 110 323.6 111 323.6 112 323.6 113 323.6 114 323.6 115 323.6 116 323.6 117 323.6 118 323.6 119 323.6 120 323.6 121 323.6 122 323.6 123 323.6 124 323.6 125 323.6 126 323.6 127 323.6 128 323.6 129 323.6 130 323.6 131 323.6 132 323.6 133 323.6 134 323.6 135 323.6 136 323.6 137 323.6 138 323.6 139 323.6 140 323.6 141 323.8 142 324.1 143 324.5 144 324.9 145 325 146 325 147 325.1 148 325.2 149 325.4 150 325.5 151 325.6 152 325.7 153 325.7 154 319.9 154 319.9 153 320 152 320.1 151 320.2 150 320.4 149 320.5 148 320.6 147 320.6 146 320.7 145 321.1 144 321.5 143 321.8 142 322 141 322 140 322 139 322 138 322 137 322 136 322 135 322 134 322 133 322 132 322 131 322 130 322 129 322 128 322 127 322 126 322 125 322 124 322 123 322 122 322 121 322 120 322 119 322 118 322 117 322 116 322 115 322 114 322 113 322 112 322 111 322 110 322 109 321.9 108 321.9 107 321.8 106 321.8 105 321.8 104 321.7 103 321.7 102 321.6 101 321.5 100 321.4 99 321.3 98 321.3 97 321.2 96 321.2 95 321.2 94 321.1 93 320.9 92 320.7 91 320.6 90 320.4 89 320.2 88 320 87 319.9 86 319.9 85 319.8 84 319.7 83 319.4 82 319.2 81 318.9 80 318.5 79 318.3 78 318 77 317.9 76 317.8 75 317.8 74 317.6 73 317.4 72 317.2 71 316.9 70 316.7 69 316.5 68 316.3 67 316.1 66 316.1 65 316.1 64 316.1 63 316.1 62 316.1 61 316.1 60 316.1 59 316.1 58 316.1 57 316.1 56 316.1 55 316.1 54 316.3 53 316.4 52 316.6 51 316.9 50 317.1 49 317.3 48 317.4 47 317.6 46 317.6 45 317.7 44 317.9 43 318.2 42 318.6 41 319 40 319.3 39 319.5 38 319.6 37 320 36 320.6 35 321 34Z" fill="#12B840"/>
<path d="M316.9 61.7h0M326.7 54h0M329.1 73h0M329.8 59.6h0M319.3 88.9h0M317.5 65h0M318.2 70.8h0M318.7 71h0M326.8 91.6h0M319.5 41.9h0M325.3 76.2h0M321.9 81.3h0M321.5 69.7h0M316.9 57.6h0M325.4 66.4h0M325.6 55.6h0M316.2 55.1h0M317.6 121h0M321.9 40.6h0M322.9 39h0M315.7 68.1h0M322.9 70.5h0M323.2 59.4h0M327.4 46.1h0M320.7 51.1h0M324.5 54.9h0M320.8 57.3h0M326.6 91.5h0M326.1 80.4h0M319.1 74.5h0M325.8 34h0M318.5 56h0M329.8 72.9h0M317.7 59.2h0M326.8 64.1h0M329.6 66.1h0M328.8 64.9h0M325.4 68.9h0M315.6 64.2h0M325.9 81.4h0M320.4 66.8h0M328.3 54.3h0M324.5 67.5h0M316.6 58.9h0M320.7 69.3h0M325.5 76.2h0M324.3 47.9h0M317.1 97h0M317.9 49.3h0M325.6 66.3h0M323.3 60.8h0M323.3 99.9h0M325.8 77.4h0M317.2 71.3h0M322.8 67.8h0M323 42.3h0M329.6 86.5h0M321.2 71.3h0M325.3 44.3h0M318.7 67.6h0M322 75.4h0M326.3 65.9h0M327.4 74.5h0M327.3 55.6h0M329.1 74.1h0M316.7 63h0M325.8 46.8h0M320.7 68h0M316.9 84h0M325.5 53.3h0M321.5 82.1h0M323.8 62.5h0M326.6 47.5h0M326.4 43.4h0M325.5 57.6h0M322.4 61.5h0M317.7 70.3h0M322.9 59.7h0M327.9 52.2h0M316.4 74.3h0M329.7 79.9h0M327.9 44.6h0M319.3 54.9h0M321.4 36.5h0M328.6 87h0M320 64.3h0M321.5 51.5h0M316 56.2h0M318.6 36.1h0M323.7 88.7h0M329.3 41.3h0M320.8 100.9h0M324.9 72.8h0M316.4 66.6h0M323.1 51.3h0M322.7 55.4h0M320.6 67.9h0M326.3 68.6h0M320.7 71.1h0M328.7 72.2h0M324.4 78.6h0M320.9 53.1h0M329.4 56.2h0M323 129.8h0M319.5 41.3h0M323 91.2h0M328.7 75.6h0M321.2 78.5h0M327.5 59.5h0M325.7 37.3h0M320.7 44.3h0M326.7 97.2h0M323.7 92.3h0M323.9 82.4h0M329.6 100.4h0M324.5 50h0M323.9 70.1h0M318.2 108.5h0M321.6 55.4h0M323.8 41.8h0M322.6 47.5h0M318.3 73.3h0M323.7 62.7h0M318.3 59.9h0M317.6 65.8h0M323.1 45.6h0M316.7 71.2h0M319.3 132.4h0M316.8 47.8h0M329.5 71.8h0M317.4 45.5h0M326.9 45.2h0M317.8 47.5h0M319.3 54.2h0M327.2 69h0M324.9 87h0M317.5 45.3h0M325.9 113.6h0M329.5 81.3h0M322.4 48.4h0M319.2 70.5h0M316.7 55.7h0M321.7 87.6h0M323.1 95.2h0M324.4 49.6h0M328.8 101.4h0M328.1 56.2h0M319.7 48.2h0M328.5 59.1h0M327.8 53.9h0M324.1 60.1h0M328.3 83.4h0M315.8 51.5h0M328.2 86h0M326.7 46.6h0M327.8 60.3h0M323.9 69.2h0M323.1 69.5h0M328.5 69.2h0M320.2 58.6h0M321.1 62h0M321.5 62.8h0M329.1 54.5h0M328.5 46.3h0M319.5 74.4h0M325.4 106.3h0M329.2 63.2h0M324.8 47.5h0M327.9 41.4h0M321.8 151.1h0" stroke="#1e1e1e" stroke-width="1.1" stroke-linecap="round" opacity="0.82"/>
<path d="M316.1 154.3h13.4" stroke="#111" stroke-width="1.4"/>
<path d="M322.8 161v1" stroke="#999" stroke-width="0.5"/>
<text transform="translate(326.9 170.8) scale(0.95 1.09) rotate(-45)" font-size="6.2" text-anchor="end" fill="#1a1a1a" stroke="#1a1a1a" stroke-width="0.12">HG.IPMN1</text>
<path d="M339.2 29.2 339.2 30.2 339.4 31.2 339.5 32.2 339.7 33.2 339.8 34.2 339.8 35.2 339.8 36.2 339.9 37.2 339.9 38.2 340 39.2 340.1 40.2 340.2 41.2 340.3 42.2 340.3 43.2 340.4 44.2 340.4 45.2 340.4 46.2 340.5 47.2 340.5 48.2 340.6 49.2 340.6 50.2 340.7 51.2 340.8 52.2 340.9 53.2 341 54.2 341.1 55.2 341.2 56.2 341.2 57.2 341.3 58.2 341.3 59.2 341.3 60.2 341.3 61.2 341.3 62.2 341.4 63.2 341.4 64.2 341.4 65.2 341.5 66.2 341.5 67.2 341.6 68.2 341.6 69.2 341.7 70.2 341.7 71.2 341.8 72.2 341.8 73.2 341.8 74.2 341.8 75.2 341.8 76.2 341.7 77.2 341.7 78.2 341.6 79.2 341.5 80.2 341.5 81.2 341.4 82.2 341.3 83.2 341.3 84.2 341.3 85.2 341.3 86.2 341.3 87.2 341.3 88.2 341.3 89.2 341.3 90.2 341.2 91.2 341.2 92.2 341.2 93.2 341.2 94.2 341.2 95.2 341.1 96.2 341.1 97.2 341.1 98.2 341 99.2 341 100.2 341 101.2 341 102.2 340.9 103.2 340.9 104.2 340.9 105.2 340.8 106.2 340.8 107.2 340.8 108.2 340.8 109.2 340.7 110.2 340.7 111.2 340.7 112.2 340.7 113.2 340.7 114.2 340.6 115.2 340.6 116.2 340.6 117.2 340.6 118.2 340.6 119.2 340.6 120.2 340.6 121.2 340.7 122.2 340.7 123.2 340.8 124.2 340.8 125.2 340.9 126.2 340.9 127.2 340.9 128.2 341.1 129.2 341.4 130.2 341.5 131.2 341.6 132.2 341.8 133.2 342 134.2 342.3 135.2 342.5 136.2 342.8 137.2 343 138.2 343.2 139.2 343.2 140.2 343.3 141.2 343.4 142.2 343.7 143.2 343.9 144.2 344.2 145.2 344.5 146.2 344.8 147.2 345 148.2 345.1 149.2 345.2 150.2 345.2 151.2 345.2 152.2 345.3 153.2 345.3 154 332.5 154 332.5 153.2 332.6 152.2 332.6 151.2 332.6 150.2 332.7 149.2 332.8 148.2 333 147.2 333.3 146.2 333.6 145.2 333.9 144.2 334.1 143.2 334.4 142.2 334.5 141.2 334.6 140.2 334.6 139.2 334.8 138.2 335 137.2 335.3 136.2 335.5 135.2 335.8 134.2 336 133.2 336.2 132.2 336.3 131.2 336.4 130.2 336.7 129.2 336.9 128.2 336.9 127.2 336.9 126.2 337 125.2 337 124.2 337.1 123.2 337.1 122.2 337.2 121.2 337.2 120.2 337.2 119.2 337.2 118.2 337.2 117.2 337.2 116.2 337.2 115.2 337.1 114.2 337.1 113.2 337.1 112.2 337.1 111.2 337.1 110.2 337 109.2 337 108.2 337 107.2 337 106.2 336.9 105.2 336.9 104.2 336.9 103.2 336.8 102.2 336.8 101.2 336.8 100.2 336.8 99.2 336.7 98.2 336.7 97.2 336.7 96.2 336.6 95.2 336.6 94.2 336.6 93.2 336.6 92.2 336.6 91.2 336.5 90.2 336.5 89.2 336.5 88.2 336.5 87.2 336.5 86.2 336.5 85.2 336.5 84.2 336.5 83.2 336.4 82.2 336.3 81.2 336.3 80.2 336.2 79.2 336.1 78.2 336.1 77.2 336 76.2 336 75.2 336 74.2 336 73.2 336 72.2 336.1 71.2 336.1 70.2 336.2 69.2 336.2 68.2 336.3 67.2 336.3 66.2 336.4 65.2 336.4 64.2 336.4 63.2 336.5 62.2 336.5 61.2 336.5 60.2 336.5 59.2 336.5 58.2 336.6 57.2 336.6 56.2 336.7 55.2 336.8 54.2 336.9 53.2 337 52.2 337.1 51.2 337.2 50.2 337.2 49.2 337.3 48.2 337.3 47.2 337.4 46.2 337.4 45.2 337.4 44.2 337.5 43.2 337.5 42.2 337.6 41.2 337.7 40.2 337.8 39.2 337.9 38.2 337.9 37.2 338 36.2 338 35.2 338 34.2 338.1 33.2 338.3 32.2 338.4 31.2 338.6 30.2 338.6 29.2Z" fill="#08BCC8"/>
<path d="M333.4 43.4h0M334 49.4h0M341.8 119.1h0M334.6 99.6h0M333 57.3h0M332.7 65.8h0M336.1 87.2h0M344 45.6h0M336 103.9h0M332.9 56.5h0M334.5 79.1h0M339.9 41.5h0M340.9 82.5h0M336.1 137.9h0M335.7 70.3h0M335.9 82.1h0M345 107.9h0M340.3 85.8h0M344 124.5h0M343 83h0M338.2 66.3h0M345.4 55.1h0M341.6 69.3h0M333.5 79.8h0M339.9 84.1h0M345.9 79.8h0M336.7 49.8h0M342.5 50.2h0M334.4 113.7h0M346 59.6h0M339.3 45.6h0M341.8 58.5h0M341.8 98.5h0M331.9 69.3h0M341.8 97h0M332.4 90.6h0M335.9 77.3h0M344.6 106.8h0M345.2 117.4h0M340.8 54.4h0M338.9 85.8h0M345.1 122.9h0M337.5 107.8h0M338.8 115.9h0M337 78.1h0M340.2 71.2h0M340.8 53.9h0M339.2 88.2h0M336 71.7h0M340.4 84.5h0M332.4 67.1h0M340.6 70.2h0M336.3 106.8h0M344.8 62.2h0M345.2 125.9h0M333.6 82.3h0M339.7 102h0M337.4 61.2h0M342.7 119.7h0M339.3 63.7h0M332 67.6h0M341.5 54h0M333 88.9h0M333.7 60.6h0M338.3 56.3h0M340.1 119.1h0M345.9 78.1h0M342.7 49.7h0M343.4 96.8h0M334.2 125.4h0M331.9 121.3h0M342.9 99.9h0M332.2 84.3h0M336.7 95h0M338.3 106.1h0M341 98.9h0M342.9 52.9h0M340.2 105.3h0M345.7 62.7h0M342.5 63.9h0M336.8 79.5h0M339.2 55h0M345.8 152.9h0M333.2 95.2h0M333.5 43.7h0M345 93.4h0M344.1 94.2h0M337.1 97.9h0M337.4 97.6h0M345.4 111.6h0M332.8 92.5h0M336.7 101.6h0M343.7 116.1h0M340.7 69.3h0M336.7 50.3h0M345.5 76.8h0M341.9 128.8h0M333.1 49.8h0M339.2 121.9h0M333.2 88.8h0M332.2 80.6h0M339.4 100.3h0M332.6 56.3h0M333.8 76.7h0M337 77h0M345.8 60.1h0M343.1 53.5h0M339.6 78.9h0M342.6 149.3h0M345.7 112.9h0M342.4 41.8h0M343.5 44.7h0M343.5 97.1h0M335.3 123.4h0M337.9 113h0M340.3 150.2h0M331.9 72.8h0M332.9 73.6h0M342.4 61.1h0M345.1 71.3h0M341.5 123h0M339.7 98h0M334.4 30h0M338.1 49.9h0M340.9 68.5h0M334.4 97.6h0M342.3 77.8h0M336.6 104.2h0M340.4 45h0M345.1 62.9h0M332 119.1h0M341.9 72h0M335.7 69.5h0M339.5 121.6h0M344 39h0M333 52.4h0M334 68h0M339 94.7h0M333.6 129.5h0M336.4 66h0M340.5 71.1h0M333.7 74.6h0M338.8 58.8h0M341.6 98.5h0M335.1 56.4h0M337.2 47.5h0M340.8 81.8h0M338.6 73.7h0M340.4 114h0M344.8 95.8h0M332.9 140.1h0M334.2 59.5h0M340.1 62.8h0M343.7 118.5h0M344.1 118.3h0M341 63.3h0M335.5 31.7h0M338.6 84h0M344.2 51.7h0M331.8 81h0M342.6 68.7h0M332.9 53.8h0M332.1 81.7h0M333.1 82.7h0M343.8 78.5h0M339.5 85.3h0M341.2 97.7h0M338.8 60.4h0M335.6 97h0M342.7 57.3h0M338 37.2h0M335.5 111.7h0M333.6 70.3h0M341.9 58.5h0M334.6 100h0M335.5 140.7h0M331.9 110.4h0M346 105.3h0M345.6 115h0M335.8 89.7h0M335.9 122.3h0M336.4 67.5h0M340.7 127.3h0M340.4 103.8h0M345.1 107.8h0M345.7 80.7h0M345.8 75.5h0M338.8 38.5h0M336.9 66.9h0M342.9 80.1h0M344.3 85.6h0M333.6 77.7h0M344.5 47.9h0M342.2 41.5h0M341.6 101.8h0M337.1 118.8h0M343.5 59h0M335.1 117.1h0M337.3 144.3h0M332.3 75.4h0M334.7 97.2h0M334.5 78h0M334 95.2h0M343.3 67.3h0M338.4 88.5h0M345.1 86.2h0M343.9 68.3h0M342.7 74.5h0M337.5 111.1h0M340.3 70.2h0M340.8 97.5h0M342.9 63.5h0M337.5 114.3h0M334 116.6h0M332.1 39.4h0M334.2 70.7h0M332.7 78.9h0M340.6 68.9h0M336.8 87h0M335.9 125.7h0M339.9 79.3h0M331.8 129.4h0M332.2 114.9h0M331.7 65.2h0M331.8 149.1h0M332 98.7h0M336.9 54.3h0M345.6 72.7h0M340.8 106.5h0M335.2 80.5h0M340.7 135.4h0M332 87.9h0M334.6 121.2h0M343 71.9h0M345.9 60.1h0M345.4 43.1h0M338.2 101.7h0M336.6 44.5h0M333 45.2h0M339.5 79.9h0M335.2 74.4h0M345.6 99.6h0M344.5 116.4h0M333.8 77.5h0M334.9 55.7h0M344.7 73.9h0M345.3 99.2h0M332.3 118h0M345.8 89.6h0M335.8 37.1h0M338.6 97.9h0M333.5 107.5h0M343.6 112.7h0M333.1 89.8h0M335.1 87h0M334.6 125.5h0M344.3 117.2h0M337.7 56.6h0M336.6 120.3h0M339.7 70.8h0M335.4 45.1h0M338.6 68.6h0M336.8 124.8h0M344.3 85.7h0M341.3 85.4h0M334.7 72.6h0M341.4 50.7h0M337.6 51h0M336 75.5h0M341.3 98.5h0M342.5 55.3h0M345.2 91.1h0M334.3 87.2h0M334.1 114.2h0M336.3 58.7h0M332.2 89.3h0M336.6 47.3h0M334.1 109.3h0M345.6 90.7h0M332.9 52.9h0" stroke="#1e1e1e" stroke-width="1.1" stroke-linecap="round" opacity="0.82"/>
<path d="M332.2 154.3h13.4" stroke="#111" stroke-width="1.4"/>
<path d="M338.9 161v1" stroke="#999" stroke-width="0.5"/>
<text transform="translate(343 170.8) scale(0.95 1.09) rotate(-45)" font-size="6.2" text-anchor="end" fill="#1a1a1a" stroke="#1a1a1a" stroke-width="0.12">HG.IPMN2</text>
<path d="M355.1 43.7 355.1 44.7 355.2 45.7 355.4 46.7 355.5 47.7 355.6 48.7 355.7 49.7 355.7 50.7 355.8 51.7 356 52.7 356.1 53.7 356.2 54.7 356.2 55.7 356.3 56.7 356.4 57.7 356.6 58.7 356.7 59.7 356.9 60.7 357.1 61.7 357.2 62.7 357.3 63.7 357.4 64.7 357.4 65.7 357.5 66.7 357.5 67.7 357.6 68.7 357.8 69.7 357.9 70.7 358 71.7 358.1 72.7 358.2 73.7 358.2 74.7 358.2 75.7 358.3 76.7 358.4 77.7 358.5 78.7 358.6 79.7 358.7 80.7 358.9 81.7 359 82.7 359.1 83.7 359.1 84.7 359.1 85.7 359.1 86.7 359.1 87.7 359 88.7 359 89.7 358.9 90.7 358.9 91.7 358.8 92.7 358.8 93.7 358.7 94.7 358.7 95.7 358.7 96.7 358.6 97.7 358.6 98.7 358.6 99.7 358.6 100.7 358.6 101.7 358.5 102.7 358.4 103.7 358.3 104.7 358.2 105.7 358.1 106.7 358 107.7 357.9 108.7 357.8 109.7 357.7 110.7 357.6 111.7 357.6 112.7 357.5 113.7 357.5 114.7 357.5 115.7 357.4 116.7 357.4 117.7 357.3 118.7 357.2 119.7 357.1 120.7 357 121.7 356.9 122.7 356.8 123.7 356.8 124.7 356.8 125.7 356.9 126.7 357 127.7 357.1 128.7 357.2 129.7 357.2 130.7 357.2 131.7 357.4 132.7 357.6 133.7 357.9 134.7 358.3 135.7 358.6 136.7 358.9 137.7 359.1 138.7 359.2 139.7 359.2 140.7 359.4 141.7 359.6 142.7 359.9 143.7 360.2 144.7 360.6 145.7 360.9 146.7 361.2 147.7 361.4 148.7 361.5 149.7 361.5 150.7 361.6 151.7 361.7 152.7 361.7 153.7 361.7 154 347.9 154 347.9 153.7 347.9 152.7 348 151.7 348.1 150.7 348.1 149.7 348.2 148.7 348.4 147.7 348.7 146.7 349 145.7 349.4 144.7 349.7 143.7 350 142.7 350.2 141.7 350.4 140.7 350.4 139.7 350.5 138.7 350.7 137.7 351 136.7 351.3 135.7 351.7 134.7 352 133.7 352.2 132.7 352.4 131.7 352.4 130.7 352.4 129.7 352.5 128.7 352.6 127.7 352.7 126.7 352.8 125.7 352.8 124.7 352.8 123.7 352.7 122.7 352.6 121.7 352.5 120.7 352.4 119.7 352.3 118.7 352.2 117.7 352.2 116.7 352.1 115.7 352.1 114.7 352.1 113.7 352 112.7 352 111.7 351.9 110.7 351.8 109.7 351.7 108.7 351.6 107.7 351.5 106.7 351.4 105.7 351.3 104.7 351.2 103.7 351.1 102.7 351 101.7 351 100.7 351 99.7 351 98.7 351 97.7 350.9 96.7 350.9 95.7 350.9 94.7 350.8 93.7 350.8 92.7 350.7 91.7 350.7 90.7 350.6 89.7 350.6 88.7 350.5 87.7 350.5 86.7 350.5 85.7 350.5 84.7 350.5 83.7 350.6 82.7 350.7 81.7 350.9 80.7 351 79.7 351.1 78.7 351.2 77.7 351.3 76.7 351.4 75.7 351.4 74.7 351.4 73.7 351.5 72.7 351.6 71.7 351.7 70.7 351.8 69.7 352 68.7 352.1 67.7 352.1 66.7 352.2 65.7 352.2 64.7 352.3 63.7 352.4 62.7 352.5 61.7 352.7 60.7 352.9 59.7 353 58.7 353.2 57.7 353.3 56.7 353.4 55.7 353.4 54.7 353.5 53.7 353.6 52.7 353.8 51.7 353.9 50.7 353.9 49.7 354 48.7 354.1 47.7 354.2 46.7 354.4 45.7 354.5 44.7 354.5 43.7Z" fill="#6A95E8"/>
<path d="M356.7 117h0M352.2 122.1h0M357.3 57.9h0M352.5 101.8h0M349.2 76.9h0M360.1 74.6h0M352.3 97.5h0M349.3 120.3h0M361.3 126.5h0M352.2 78.3h0M356.4 117.1h0M352.6 92.6h0M349.2 125.1h0M352.2 96.1h0M354.3 126.4h0M350.2 122.9h0M358.3 139.8h0M361.2 77.8h0M350.6 105h0M351.9 105h0M355.5 54.6h0M354.4 79.5h0M349.6 73.2h0M350.9 104.7h0M351.1 70.3h0M350.3 64.2h0M350.8 102.2h0M359 121.7h0M350.8 110h0M358.2 78.2h0M347.8 65h0M356.1 111.6h0M352.3 96.1h0M351 83.2h0M356.5 89.5h0M361 67.6h0M347.6 73.7h0M360.8 138.7h0M354.8 152.2h0M359.4 112.4h0M358.7 70.1h0M352.3 103h0M356.8 112.6h0M353.4 102.4h0M355.5 104.8h0M354.5 65.7h0M349.6 113.7h0M361.6 143h0M355.8 86.5h0M349.5 99.3h0M356.4 120.8h0M355.9 128.8h0M351.8 104.5h0M356.7 64.5h0M354.3 73.1h0M361.1 81.8h0M351 93.5h0M349.2 120.1h0M351.2 50.1h0M359.4 47.4h0M354.8 90.3h0M361.1 64.2h0M357.3 88.2h0M361.8 85.8h0M352.3 54.6h0M348.4 105.6h0M356.1 84.2h0M361.4 124.9h0M355.8 94.8h0M354.3 51.5h0M357.8 93.6h0M356.4 82.2h0M351.8 60.2h0M359.7 85.3h0M355.8 105.6h0M360.2 64.3h0M348.6 81.7h0M356.1 97.9h0M350.3 74.7h0M355 124.1h0M350.5 69.7h0M349.4 124h0M351.3 67.3h0M348.2 64.9h0M348.6 116.8h0M358.9 77.2h0M361.8 108.2h0M349.9 123.3h0M361.4 106.7h0M349.4 110.4h0M361.2 112h0M360.2 86.6h0M358.4 86.9h0M359.2 72.3h0M352.5 144.4h0M347.6 88.4h0M353.6 101.4h0M349.4 66.6h0M351.6 98.3h0M360.8 57.7h0M349.6 102.3h0M356.1 101.3h0M360.3 54.3h0M348.3 85h0M357.9 105.8h0M352.2 62.6h0M355.2 47.6h0M354.1 90.9h0M353.4 88.9h0M357 74.1h0M358.4 89.4h0M360.3 67h0M355.6 71.9h0M354.7 54.7h0M358.4 109.9h0M353.7 60.7h0M352.4 83.7h0M347.6 104.4h0M357.1 86.5h0M360.6 114.5h0M347.9 123.7h0M360.7 104.6h0M354.7 86.3h0M350.2 68h0M359.5 115.7h0M360.8 96.6h0M351.9 86.1h0M352.2 71.5h0M356.1 86.1h0M349 55.3h0M358.8 90.4h0M358.5 95.2h0M357.6 121.1h0M348.7 68.7h0M349 100.6h0M349.7 65.6h0M358.6 92.7h0M350.2 118.7h0M353.5 55.3h0M351.7 102h0M354.1 100.1h0M354.9 108.2h0M358.8 117.2h0M356.8 86.8h0M349.5 142.6h0M361.6 92.3h0M348.7 99.2h0M349.5 83.2h0M354.5 90h0M361.2 101.7h0M348.1 98.8h0M351.1 131.1h0M350.6 103.7h0M359.3 63.6h0M353.8 138.4h0M354.1 122.3h0M359.1 117.2h0M361.4 109h0M347.8 54h0M350.3 64.2h0M355.8 94.6h0M348.5 121h0M361.5 121.2h0M349.1 121.7h0M352.8 124.2h0M353.4 69.8h0M352.6 74h0M350 111.1h0M348.7 96.7h0M351.3 89h0M354.7 121.2h0M360 119.6h0M352.1 91.5h0M361 121.1h0M348 123.4h0M352.4 102.8h0M358.8 75.4h0M352.3 67.5h0M347.9 78h0M348.6 81.5h0M361.6 87.7h0M356.6 104.5h0M354.6 85.2h0M355 45.8h0M355 120.1h0M360.7 66.3h0M351 145.3h0M360.8 89.2h0M350.1 105.3h0M357.5 102.2h0M352.3 43.6h0M359 85.7h0M354.6 92.4h0M356 94.7h0M357.3 94.8h0M352.2 107.3h0M360.4 77.3h0M347.8 83.5h0M360.5 75.7h0M361.5 106.1h0M349.9 77.6h0M349.2 95.4h0M357.6 80.9h0M361.5 68.5h0M362 97h0M359.5 64.3h0M359.2 112.5h0M357.5 103h0M355.4 110.2h0M348.5 71.8h0M359.3 111.2h0M349.1 117.2h0M356.1 122.2h0M361.1 104.9h0M352.6 94.8h0M350 95.7h0M357.8 73.4h0M355.2 91h0M352.1 72h0M360.6 82.9h0M349.3 81.4h0M354 89.3h0M349.5 67.2h0M348.3 75.7h0M358.6 91.5h0M355.7 67h0M355.4 106.1h0M355.8 66.2h0M357.6 118h0M350.4 106.7h0M349.1 89.9h0M356.5 100.3h0M351.2 150.7h0M358.9 63.2h0M352.3 107.5h0M348.7 93.7h0M358.2 122.5h0M349.6 61.8h0M349.1 123.9h0M354 91.7h0M353.7 105.8h0M355.2 117.9h0M350.5 60h0M348.8 95.4h0M356.3 61.7h0M361.2 71.5h0M356.4 99.9h0M347.7 76.2h0M351 111.7h0M349.9 106h0M348.3 134.6h0M353.2 74.9h0M360.5 65.7h0M358.3 125.6h0M351.9 102.2h0M361.1 89.8h0M355.2 123h0M358.3 82.2h0M354.3 136h0M360.3 88.1h0M354.9 90.4h0M352 121.5h0M359.1 153.1h0M349.6 102.6h0M356.6 63.1h0M357.7 118.1h0M360.8 97.1h0M351.8 48.9h0M353 125.3h0M348.3 54.8h0M349.8 61.3h0M359.7 48.6h0M356.1 91.1h0M348.2 117.8h0M355.8 102h0M351.8 106.7h0M354.1 128.1h0M355.4 91.7h0M357.7 97.9h0M353.1 88.6h0M351.7 62.1h0M352.6 132.9h0M360.2 91.5h0M348.9 66.5h0M351.6 91.5h0M350.5 101.2h0M355.8 92.6h0M351.8 80.9h0M361.3 122.7h0M360.9 50.4h0M350.1 64.3h0M360.1 66.2h0M350.7 94.2h0M355.1 149.5h0M348.1 80.5h0M352.9 74.5h0M357.4 116.7h0M349.3 78.6h0M348.2 74h0M352.7 116.2h0M352.2 98.7h0M352 84.1h0M360 83.2h0M354.3 112.1h0M359.8 129.8h0M359.8 101.2h0M348.4 80.8h0M352.7 100.4h0M360.8 81.5h0M355.2 45h0M355.7 80h0M353.2 116h0M349.7 118.2h0M349 71.2h0M359.4 76.7h0M361.9 71.6h0M351.2 76h0M357.1 87.1h0M360.5 87.2h0M349.4 126.2h0M351.7 79.9h0M358.8 68.4h0M359.2 51.5h0M349 91.7h0M349.7 54.3h0M349.4 108.8h0M355.9 113.9h0M361.7 77.1h0M353.9 97.3h0M355.3 94.9h0M354.9 73.4h0M360.7 102.2h0M350.6 80.5h0M358.9 81.8h0M356.2 74h0M350.2 113.4h0M353.9 106.5h0M349 110h0M352.9 91.3h0M358.4 124.1h0M355.1 84.3h0M359.1 62h0M355.2 61.5h0M348.1 84.4h0M350.9 107.9h0M349.8 60.3h0M347.8 88.4h0M348 83.2h0M351.4 112.8h0M353.7 78.1h0M356.3 97.9h0M359.3 100.1h0M348.3 108.8h0M356.3 120.4h0M349.2 82.3h0M353.3 121.2h0M352.3 120.7h0M356.4 85.2h0M358.4 103.7h0M352.7 105.1h0M351.8 65.7h0M358.1 115.6h0M355.8 78.2h0M361.8 77.3h0M354 96.3h0M348.9 76.5h0M361.8 89.3h0M356.9 70.2h0M349.6 56.5h0M360.4 118.9h0M360 56.1h0M356.5 66.5h0M350.8 116.9h0M356.9 55.3h0M354.3 55.3h0M360.3 98.7h0M356.8 94.3h0M353.2 83.8h0M348.4 106.2h0M360.4 83.3h0M358.2 60.6h0M350.5 85.7h0M359.5 85.5h0M357.4 73.7h0M356 74.1h0M349.6 69.1h0M359.7 102.7h0M355.7 61.3h0M352.2 75.4h0M349.7 108.7h0M347.6 99.9h0M354.6 77.1h0M359.5 74.3h0M359.2 63.7h0M351.5 82.4h0M361.4 99.8h0M357.3 126.2h0M359.2 88.8h0M352.4 119.2h0M357.7 71h0" stroke="#1e1e1e" stroke-width="1.1" stroke-linecap="round" opacity="0.82"/>
<path d="M348.1 154.3h13.4" stroke="#111" stroke-width="1.4"/>
<path d="M354.8 161v1" stroke="#999" stroke-width="0.5"/>
<text transform="translate(358.9 170.8) scale(0.95 1.09) rotate(-45)" font-size="6.2" text-anchor="end" fill="#1a1a1a" stroke="#1a1a1a" stroke-width="0.12">PDAC.1</text>
<path d="M371.3 16.7 371.3 17.7 371.4 18.7 371.4 19.7 371.5 20.7 371.6 21.7 371.7 22.7 371.8 23.7 371.8 24.7 371.8 25.7 371.8 26.7 371.8 27.7 371.9 28.7 371.9 29.7 371.9 30.7 372 31.7 372 32.7 372 33.7 372.1 34.7 372.1 35.7 372.2 36.7 372.2 37.7 372.2 38.7 372.2 39.7 372.2 40.7 372.2 41.7 372.2 42.7 372.2 43.7 372.2 44.7 372.2 45.7 372.2 46.7 372.2 47.7 372.2 48.7 372.2 49.7 372.3 50.7 372.3 51.7 372.3 52.7 372.3 53.7 372.3 54.7 372.3 55.7 372.3 56.7 372.3 57.7 372.3 58.7 372.3 59.7 372.3 60.7 372.3 61.7 372.3 62.7 372.3 63.7 372.4 64.7 372.4 65.7 372.4 66.7 372.5 67.7 372.5 68.7 372.5 69.7 372.6 70.7 372.6 71.7 372.7 72.7 372.7 73.7 372.7 74.7 372.8 75.7 372.8 76.7 372.9 77.7 372.9 78.7 372.9 79.7 372.9 80.7 373 81.7 373 82.7 373 83.7 373 84.7 373 85.7 373 86.7 373 87.7 373 88.7 373 89.7 373 90.7 373 91.7 373 92.7 373 93.7 373 94.7 373 95.7 373 96.7 373 97.7 373 98.7 373 99.7 373 100.7 373 101.7 373 102.7 373 103.7 373 104.7 373 105.7 373 106.7 373 107.7 373 108.7 373 109.7 373 110.7 373 111.7 373 112.7 373 113.7 373 114.7 373 115.7 373 116.7 373 117.7 373 118.7 373 119.7 373 120.7 373 121.7 373 122.7 373 123.7 373 124.7 373 125.7 373.1 126.7 373.2 127.7 373.3 128.7 373.4 129.7 373.5 130.7 373.5 131.7 373.5 132.7 373.7 133.7 373.9 134.7 374.2 135.7 374.4 136.7 374.7 137.7 374.9 138.7 375 139.7 375 140.7 375.1 141.7 375.3 142.7 375.6 143.7 375.8 144.7 376.1 145.7 376.3 146.7 376.6 147.7 376.7 148.7 376.8 149.7 376.8 150.7 376.9 151.7 377 152.7 377 153.7 377 154 365 154 365 153.7 365 152.7 365.1 151.7 365.2 150.7 365.2 149.7 365.3 148.7 365.4 147.7 365.7 146.7 365.9 145.7 366.2 144.7 366.4 143.7 366.7 142.7 366.9 141.7 367 140.7 367 139.7 367.1 138.7 367.3 137.7 367.6 136.7 367.8 135.7 368.1 134.7 368.3 133.7 368.5 132.7 368.5 131.7 368.5 130.7 368.6 129.7 368.7 128.7 368.8 127.7 368.9 126.7 369 125.7 369 124.7 369 123.7 369 122.7 369 121.7 369 120.7 369 119.7 369 118.7 369 117.7 369 116.7 369 115.7 369 114.7 369 113.7 369 112.7 369 111.7 369 110.7 369 109.7 369 108.7 369 107.7 369 106.7 369 105.7 369 104.7 369 103.7 369 102.7 369 101.7 369 100.7 369 99.7 369 98.7 369 97.7 369 96.7 369 95.7 369 94.7 369 93.7 369 92.7 369 91.7 369 90.7 369 89.7 369 88.7 369 87.7 369 86.7 369 85.7 369 84.7 369 83.7 369 82.7 369 81.7 369.1 80.7 369.1 79.7 369.1 78.7 369.1 77.7 369.2 76.7 369.2 75.7 369.3 74.7 369.3 73.7 369.3 72.7 369.4 71.7 369.4 70.7 369.5 69.7 369.5 68.7 369.5 67.7 369.6 66.7 369.6 65.7 369.6 64.7 369.7 63.7 369.7 62.7 369.7 61.7 369.7 60.7 369.7 59.7 369.7 58.7 369.7 57.7 369.7 56.7 369.7 55.7 369.7 54.7 369.7 53.7 369.7 52.7 369.7 51.7 369.7 50.7 369.8 49.7 369.8 48.7 369.8 47.7 369.8 46.7 369.8 45.7 369.8 44.7 369.8 43.7 369.8 42.7 369.8 41.7 369.8 40.7 369.8 39.7 369.8 38.7 369.8 37.7 369.8 36.7 369.9 35.7 369.9 34.7 370 33.7 370 32.7 370 31.7 370.1 30.7 370.1 29.7 370.1 28.7 370.2 27.7 370.2 26.7 370.2 25.7 370.2 24.7 370.2 23.7 370.3 22.7 370.4 21.7 370.5 20.7 370.6 19.7 370.6 18.7 370.7 17.7 370.7 16.7Z" fill="#D86CC4"/>
<path d="M364.5 36.8h0M370.3 112.4h0M365.5 120.4h0M378 102.6h0M370.6 57.8h0M369.8 87.8h0M367.5 113.3h0M371.7 54.9h0M377.1 47.6h0M372.8 79.5h0M377 31.6h0M368.8 26.8h0M371.2 56.2h0M374.2 96.7h0M367.2 91.8h0M376.7 99.7h0M369 74.7h0M372.7 111.1h0M366.9 103.6h0M371.3 110.2h0M372.6 72.2h0M371.8 117.4h0M374.9 119h0M370.3 38.6h0M366.3 63.4h0M373.5 97.8h0M371.5 113.4h0M370.6 112.4h0M377.1 92.5h0M364.1 128.3h0M371.4 69.9h0M375.2 107.3h0M370.9 120.6h0M367.4 110h0M370.3 132.8h0M374.4 35.6h0M373.9 30.5h0M368.3 55.9h0M367.3 77.7h0M364.5 66.6h0M370.9 53.4h0M377.4 100.2h0M365.5 85.3h0M374.8 95.8h0M377.7 106h0M365.9 142.1h0M375.5 84h0M369.7 43.2h0M365.5 116.1h0M369.3 23.1h0M368.8 78.9h0M363.9 89.8h0M368.5 79.9h0M365.4 133.8h0M365.5 59.4h0M368.4 49.7h0M370.2 122.6h0M373 112.9h0M364.9 94.8h0M376.5 99.8h0M372.6 111.7h0M366.1 63.9h0M367 96h0M365.6 108.6h0M370 147.1h0M376 104.1h0M372.9 118.8h0M364.7 19.7h0M373 124h0M366.6 32h0M373.6 32h0M369.7 95.5h0M365.3 20.4h0M373.2 137.9h0M374.9 100.3h0M365.2 115h0M377.6 32.9h0M373.4 107.2h0M369.6 39.4h0M367.5 105h0M369.2 109.5h0M374.7 36.5h0M368 22.7h0M370.7 100.9h0M365.8 101.6h0M364.1 87.8h0M369.7 43.9h0M370.2 17.9h0M376.7 114.7h0M371.9 37.8h0M371.1 88.8h0M370.2 128.2h0M377.6 71.3h0M373.8 95h0M369.6 90.8h0M368.3 38.5h0M366.9 33.1h0M375.8 106.2h0M374.4 94.8h0M368.1 78.8h0M372.3 46h0M371 147.9h0M369.3 110.5h0M365.9 30.1h0M373.8 48.5h0M366.1 80.6h0M372.8 112.9h0M375.6 123.2h0M369.3 112.7h0M377.5 148h0M367.8 27.9h0M376.6 27.5h0M372 113.7h0M367.9 37.9h0M366.6 116.3h0M368.3 62.7h0M366 76.2h0M370 90.2h0M364.1 96.7h0M369.2 90.1h0M375.9 63.5h0M366.9 115.2h0M366 41.3h0M370.2 101.3h0M368.3 100.8h0M374.8 96.1h0M365 82.7h0M373.5 53.2h0M377.7 98.7h0M366.6 84.1h0M373.8 103.1h0M368.4 65.1h0M367.9 77.7h0M365.2 122.2h0M376.8 70.5h0M376.2 32.9h0M376.8 17.7h0M374 99.6h0M370.8 60.6h0M364.1 41.1h0M376.5 122.2h0M373.4 47.8h0M368.2 93.2h0M376.9 76.1h0M371.8 92.1h0M371.2 71.3h0M369 102.2h0M377.8 103h0M366.6 93.5h0M365.7 117.5h0M370.3 81.9h0M366.7 124.6h0M372.3 108.1h0M367 114.5h0M364.8 40.9h0M376 125.3h0M377.9 113h0M372.2 75.9h0M373.4 16.7h0M365.2 68h0M364.6 25.9h0M371.2 25h0M377.1 106.3h0M365.3 118.7h0M365.6 92.7h0M377.1 97.1h0M376 97.9h0M373.1 87.1h0M365.2 38.9h0M366.4 112.3h0M366.7 121.4h0M372.5 71.5h0M375.1 151.9h0M371.4 107.9h0M371.2 137.9h0M368.8 97.7h0M373.2 103h0M369.8 31.1h0M367.9 148h0M368.9 32.7h0M364.4 80.3h0M366.3 135.5h0M365.3 82.9h0M371.6 57.9h0M368.9 109.5h0M369.1 24.3h0M375.2 37.5h0M369.8 85.5h0M373.8 118.7h0M376.5 37.5h0M373.6 82.4h0M375.7 116.2h0M377.4 57.9h0M364.6 120.9h0M377.6 42.3h0M372.4 108.8h0M370.5 85h0M370.6 122.6h0M370.2 149.4h0M367.1 21.1h0M369.7 78.7h0M368.4 76h0M372.5 109.3h0M365.8 114.1h0M372.2 64.2h0M376.8 31h0M367.7 78.1h0M370.8 113.7h0M364.1 119.9h0M374.5 123.5h0M365.2 115.2h0M365.8 52.9h0M377.1 96.6h0M365.6 111.6h0M364.3 91.8h0M368.5 85.3h0M365.3 110.1h0M377.4 72.7h0M366.1 123.5h0M364.4 110.9h0M366.5 79.2h0M363.9 47.1h0M367.7 71.2h0M370.5 89.6h0M376.5 76.9h0M376.9 42h0M376.7 124.9h0M367.9 71.1h0M365.9 113.8h0M375.8 67.8h0M368.2 97.4h0M372.5 119.3h0M368.4 65.3h0M370.2 78.6h0M367.1 52.1h0M374 105.9h0M372.2 84.1h0M366.8 145.3h0M372.9 69.3h0M367.7 124.3h0M375.8 40.7h0M369.6 47h0M377.3 90.8h0M372.2 132.7h0M372.1 138h0M366.1 96h0M363.8 83.5h0M377.7 128.9h0M369.5 87.5h0M368.3 37.8h0M369.8 17.9h0M375.7 124.9h0M369.4 81.5h0M372.6 88.5h0M369.8 111.1h0M371.3 94.3h0M364.9 121.9h0M369.2 19.5h0M378 91.6h0M367.2 93.6h0M363.9 60.2h0M374.1 106h0M366.7 89h0M369.7 132.2h0M371.9 94.2h0M374.5 80.5h0M364.1 106.7h0M376.9 72.3h0M375.5 70h0M374.6 86.4h0M364.6 102.5h0M372.3 117.3h0M375.9 74.2h0M374.6 65.7h0M372.6 90.8h0M370 143.8h0M375 115.7h0M374.8 73.4h0M374.6 104.4h0M376 110.7h0" stroke="#1e1e1e" stroke-width="1.1" stroke-linecap="round" opacity="0.82"/>
<path d="M364.3 154.3h13.4" stroke="#111" stroke-width="1.4"/>
<path d="M371 161v1" stroke="#999" stroke-width="0.5"/>
<text transform="translate(375.1 170.8) scale(0.95 1.09) rotate(-45)" font-size="6.2" text-anchor="end" fill="#1a1a1a" stroke="#1a1a1a" stroke-width="0.12">PDAC.2</text>
<path d="M392.6 7V161H493.1" fill="none" stroke="#c4c4c4" stroke-width="1.2"/>
<path d="M392.1 154h-1.2" stroke="#999" stroke-width="0.5"/>
<path d="M392.1 106.5h-1.2" stroke="#999" stroke-width="0.5"/>
<path d="M392.1 59h-1.2" stroke="#999" stroke-width="0.5"/>
<path d="M392.1 11.5h-1.2" stroke="#999" stroke-width="0.5"/>
<text x="442.6" y="5.1" font-size="4.8" font-weight="bold" text-anchor="middle" fill="#1a1a1a">CEACAM6</text>
<text transform="translate(387.4 84) rotate(-90)" font-size="3.9" font-weight="bold" text-anchor="middle" fill="#c03030">Gene expression</text>
<text x="390.4" y="155" font-size="3" text-anchor="end" fill="#666">0</text>
<text x="390.4" y="107.5" font-size="3" text-anchor="end" fill="#666">2</text>
<text x="390.4" y="60" font-size="3" text-anchor="end" fill="#666">4</text>
<text x="390.4" y="12.5" font-size="3" text-anchor="end" fill="#666">6</text>
<path d="M402.9 66.7 402.9 67.7 402.9 68.7 402.9 69.7 402.9 70.7 402.9 71.7 402.9 72.7 402.9 73.7 402.9 74.7 402.9 75.7 402.9 76.7 402.9 77.7 402.9 78.7 402.9 79.7 402.9 80.7 402.9 81.7 402.9 82.7 402.9 83.7 402.9 84.7 402.9 85.7 402.9 86.7 402.9 87.7 402.9 88.7 402.9 89.7 402.9 90.7 402.9 91.7 402.9 92.7 402.9 93.7 402.9 94.7 402.9 95.7 402.9 96.7 402.9 97.7 402.9 98.7 402.9 99.7 402.9 100.7 402.9 101.7 402.9 102.7 402.9 103.7 402.9 104.7 402.9 105.7 402.9 106.7 402.9 107.7 402.9 108.7 402.9 109.7 402.9 110.7 402.9 111.7 402.9 112.7 402.9 113.7 402.9 114.7 402.9 115.7 402.9 116.7 402.9 117.7 402.9 118.7 402.9 119.7 402.9 120.7 402.9 121.7 402.9 122.7 402.9 123.7 402.9 124.7 402.9 125.7 402.9 126.7 402.9 127.7 402.9 128.7 402.9 129.7 402.9 130.7 402.9 131.7 402.9 132.7 402.9 133.7 402.9 134.7 402.9 135.7 402.9 136.7 402.9 137.7 402.9 138.7 402.9 139.7 402.9 140.7 402.9 141.7 402.9 142.7 402.9 143.7 402.9 144.7 402.9 145.7 402.9 146.7 402.9 147.7 402.9 148.7 402.9 149.7 402.9 150.7 402.9 151.7 402.9 152.7 402.9 153.7 402.9 154 402 154 402 153.7 402 152.7 402 151.7 402 150.7 402 149.7 402 148.7 402 147.7 402 146.7 402 145.7 402 144.7 402 143.7 402 142.7 402 141.7 402 140.7 402 139.7 402 138.7 402 137.7 402 136.7 402 135.7 402 134.7 402 133.7 402 132.7 402 131.7 402 130.7 402 129.7 402 128.7 402 127.7 402 126.7 402 125.7 402 124.7 402 123.7 402 122.7 402 121.7 402 120.7 402 119.7 402 118.7 402 117.7 402 116.7 402 115.7 402 114.7 402 113.7 402 112.7 402 111.7 402 110.7 402 109.7 402 108.7 402 107.7 402 106.7 402 105.7 402 104.7 402 103.7 402 102.7 402 101.7 402 100.7 402 99.7 402 98.7 402 97.7 402 96.7 402 95.7 402 94.7 402 93.7 402 92.7 402 91.7 402 90.7 402 89.7 402 88.7 402 87.7 402 86.7 402 85.7 402 84.7 402 83.7 402 82.7 402 81.7 402 80.7 402 79.7 402 78.7 402 77.7 402 76.7 402 75.7 402 74.7 402 73.7 402 72.7 402 71.7 402 70.7 402 69.7 402 68.7 402 67.7 402 66.7Z" fill="#d8c0c0"/>
<path d="M404.5 70.8h0M408.3 91h0M409.2 84.1h0M398.1 115.8h0M409 125.1h0" stroke="#1e1e1e" stroke-width="1.1" stroke-linecap="round" opacity="0.82"/>
<path d="M395.7 154.3h13.4" stroke="#111" stroke-width="1.4"/>
<path d="M402.4 161v1" stroke="#999" stroke-width="0.5"/>
<text transform="translate(406.5 170.8) scale(0.95 1.09) rotate(-45)" font-size="6.2" text-anchor="end" fill="#1a1a1a" stroke="#1a1a1a" stroke-width="0.12">LG.IPMN1</text>
<path d="M419.1 59 419.1 60 419.1 61 419.1 62 419.1 63 419.1 64 419.1 65 419.1 66 419.1 67 419.1 68 419.1 69 419.1 70 419.1 71 419.1 72 419.1 73 419.1 74 419.1 75 419.1 76 419.1 77 419.1 78 419.1 79 419.1 80 419.1 81 419.1 82 419.1 83 419.1 84 419.1 85 419.1 86 419.1 87 419.1 88 419.1 89 419.1 90 419.1 91 419.1 92 419.1 93 419.1 94 419.1 95 419.1 96 419.1 97 419.1 98 419.1 99 419.1 100 419.1 101 419.1 102 419.1 103 419.1 104 419.1 105 419.1 106 419.1 107 419.1 108 419.1 109 419.1 110 419.1 111 419.1 112 419.1 113 419.1 114 419.1 115 419.1 116 419.1 117 419.1 118 419.1 119 419.1 120 419.1 121 419.1 122 419.1 123 419.1 124 419.1 125 419.1 126 419.1 127 419.1 128 419.1 129 419.1 130 419.1 131 419.1 132 419.1 133 419.1 134 419.1 135 419.1 136 419.1 137 419.1 138 419.1 139 419.1 140 419.1 141 419.1 142 419.1 143 419.1 144 419.1 145 419.1 146 419.1 147 419.1 148 419.1 149 419.1 150 419.1 151 419.1 152 419.1 153 419.1 154 418.2 154 418.2 153 418.2 152 418.2 151 418.2 150 418.2 149 418.2 148 418.2 147 418.2 146 418.2 145 418.2 144 418.2 143 418.2 142 418.2 141 418.2 140 418.2 139 418.2 138 418.2 137 418.2 136 418.2 135 418.2 134 418.2 133 418.2 132 418.2 131 418.2 130 418.2 129 418.2 128 418.2 127 418.2 126 418.2 125 418.2 124 418.2 123 418.2 122 418.2 121 418.2 120 418.2 119 418.2 118 418.2 117 418.2 116 418.2 115 418.2 114 418.2 113 418.2 112 418.2 111 418.2 110 418.2 109 418.2 108 418.2 107 418.2 106 418.2 105 418.2 104 418.2 103 418.2 102 418.2 101 418.2 100 418.2 99 418.2 98 418.2 97 418.2 96 418.2 95 418.2 94 418.2 93 418.2 92 418.2 91 418.2 90 418.2 89 418.2 88 418.2 87 418.2 86 418.2 85 418.2 84 418.2 83 418.2 82 418.2 81 418.2 80 418.2 79 418.2 78 418.2 77 418.2 76 418.2 75 418.2 74 418.2 73 418.2 72 418.2 71 418.2 70 418.2 69 418.2 68 418.2 67 418.2 66 418.2 65 418.2 64 418.2 63 418.2 62 418.2 61 418.2 60 418.2 59Z" fill="#d8b0b0"/>
<path d="M417.4 88.4h0M420.1 139.7h0M416.2 61.7h0M416.5 117.3h0M423.1 92.5h0M424.5 84h0M421.7 106.6h0M420.1 64.5h0M419.8 104.2h0M416 126h0M416.9 72.8h0M420.2 85h0M421.4 86.5h0M412.3 153.2h0M422.1 115.3h0M416.6 86.1h0M421 125.7h0M411.6 87.9h0M421.9 107.3h0M425.6 101.9h0M420.6 96.1h0M425 84.6h0M420.3 151.4h0M415.3 113.6h0M417.6 105.9h0M423.4 124.6h0M417 141.8h0M418.8 62.8h0M417.9 132.6h0M419.1 127.2h0M414.4 133.8h0M417.7 94.4h0M419.4 65.4h0M412.4 131.7h0M415.7 87.2h0M411.7 121.3h0M411.6 120h0M420.2 138.1h0M423.3 124.1h0M422.7 87.3h0M417.5 97.6h0M420.3 66.1h0M415 64.5h0M415.3 90.6h0M421.7 86.5h0M418.1 124h0M420.3 90.4h0M417.9 105.1h0M420.2 140.8h0M425.1 149.6h0M415.8 86h0M420.8 81.9h0M421.8 104.6h0M416.8 95.6h0M424.6 143.2h0M412.2 82.6h0M412 75.9h0M411.5 114h0M424.1 146.8h0M423.2 80.1h0M421.5 120.8h0M425.4 108.5h0M415.8 72.1h0M413.3 98.3h0M416.1 81.4h0M423.2 112.4h0M420.9 110h0M413.9 82.2h0M422.1 142.3h0M417.9 97.1h0M418.7 112.1h0M412.6 92.4h0M425.2 132.4h0M413.6 81.3h0M414.7 123.7h0M422.7 115.7h0M417.4 63.9h0M413.2 135.5h0M411.8 121.7h0M417.3 70.1h0M424.6 103.6h0M421.4 97.5h0M419.1 147.4h0M413.8 89.6h0M420.1 75h0M424 67h0M423.4 135.4h0M412.5 97.5h0M411.6 148.9h0M420.9 132.2h0M419.8 76.1h0M421.6 76h0M424 88.8h0M418.3 150.5h0M421.9 119.3h0" stroke="#1e1e1e" stroke-width="1.1" stroke-linecap="round" opacity="0.82"/>
<path d="M411.9 154.3h13.4" stroke="#111" stroke-width="1.4"/>
<path d="M418.6 161v1" stroke="#999" stroke-width="0.5"/>
<text transform="translate(422.7 170.8) scale(0.95 1.09) rotate(-45)" font-size="6.2" text-anchor="end" fill="#1a1a1a" stroke="#1a1a1a" stroke-width="0.12">LG.IPMN2</text>
<path d="M434.9 21.9 435 22.9 435.2 23.9 435.5 24.9 435.8 25.9 436.2 26.9 436.5 27.9 436.7 28.9 436.8 29.9 436.8 30.9 437 31.9 437.2 32.9 437.4 33.9 437.7 34.9 438 35.9 438.3 36.9 438.5 37.9 438.6 38.9 438.7 39.9 438.7 40.9 438.8 41.9 439 42.9 439.2 43.9 439.4 44.9 439.6 45.9 439.8 46.9 439.9 47.9 440.1 48.9 440.1 49.9 440.1 50.9 440.2 51.9 440.3 52.9 440.5 53.9 440.7 54.9 440.9 55.9 441 56.9 441.2 57.9 441.3 58.9 441.3 59.9 441.3 60.9 441.3 61.9 441.4 62.9 441.5 63.9 441.5 64.9 441.6 65.9 441.7 66.9 441.7 67.9 441.8 68.9 441.8 69.9 441.8 70.9 441.8 71.9 441.7 72.9 441.6 73.9 441.6 74.9 441.5 75.9 441.4 76.9 441.3 77.9 441.2 78.9 441.1 79.9 441 80.9 441 81.9 440.9 82.9 440.9 83.9 440.9 84.9 440.8 85.9 440.8 86.9 440.7 87.9 440.6 88.9 440.5 89.9 440.4 90.9 440.3 91.9 440.2 92.9 440.1 93.9 440.1 94.9 440.1 95.9 439.9 96.9 439.7 97.9 439.4 98.9 439.1 99.9 438.8 100.9 438.5 101.9 438.2 102.9 438.1 103.9 438 104.9 437.9 105.9 437.7 106.9 437.3 107.9 436.9 108.9 436.6 109.9 436.3 110.9 436.2 111.9 436.2 112.9 436.1 113.9 436 114.9 435.9 115.9 435.9 116.9 435.9 117.9 436 118.9 436.2 119.9 436.3 120.9 436.5 121.9 436.6 122.9 436.8 123.9 436.8 124.9 436.8 125.9 437 126.9 437.2 127.9 437.4 128.9 437.7 129.9 438 130.9 438.3 131.9 438.5 132.9 438.6 133.9 438.7 134.9 438.7 135.9 438.8 136.9 439 137.9 439.2 138.9 439.4 139.9 439.6 140.9 439.8 141.9 439.9 142.9 440.1 143.9 440.1 144.9 440.1 145.9 440.2 146.9 440.2 147.9 440.3 148.9 440.4 149.9 440.5 150.9 440.5 151.9 440.6 152.9 440.6 153.9 440.6 154 428.6 154 428.6 153.9 428.6 152.9 428.7 151.9 428.7 150.9 428.8 149.9 428.9 148.9 429 147.9 429 146.9 429.1 145.9 429.1 144.9 429.1 143.9 429.3 142.9 429.4 141.9 429.6 140.9 429.8 139.9 430 138.9 430.2 137.9 430.4 136.9 430.5 135.9 430.5 134.9 430.6 133.9 430.7 132.9 430.9 131.9 431.2 130.9 431.5 129.9 431.8 128.9 432 127.9 432.2 126.9 432.4 125.9 432.4 124.9 432.4 123.9 432.6 122.9 432.7 121.9 432.9 120.9 433 119.9 433.2 118.9 433.3 117.9 433.3 116.9 433.3 115.9 433.2 114.9 433.1 113.9 433 112.9 433 111.9 432.9 110.9 432.6 109.9 432.3 108.9 431.9 107.9 431.5 106.9 431.3 105.9 431.2 104.9 431.1 103.9 431 102.9 430.7 101.9 430.4 100.9 430.1 99.9 429.8 98.9 429.5 97.9 429.3 96.9 429.1 95.9 429.1 94.9 429.1 93.9 429 92.9 428.9 91.9 428.8 90.9 428.7 89.9 428.6 88.9 428.5 87.9 428.4 86.9 428.4 85.9 428.3 84.9 428.3 83.9 428.3 82.9 428.2 81.9 428.2 80.9 428.1 79.9 428 78.9 427.9 77.9 427.8 76.9 427.7 75.9 427.6 74.9 427.6 73.9 427.5 72.9 427.4 71.9 427.4 70.9 427.4 69.9 427.4 68.9 427.5 67.9 427.5 66.9 427.6 65.9 427.7 64.9 427.7 63.9 427.8 62.9 427.9 61.9 427.9 60.9 427.9 59.9 427.9 58.9 428 57.9 428.2 56.9 428.3 55.9 428.5 54.9 428.7 53.9 428.9 52.9 429 51.9 429.1 50.9 429.1 49.9 429.1 48.9 429.3 47.9 429.4 46.9 429.6 45.9 429.8 44.9 430 43.9 430.2 42.9 430.4 41.9 430.5 40.9 430.5 39.9 430.6 38.9 430.7 37.9 430.9 36.9 431.2 35.9 431.5 34.9 431.8 33.9 432 32.9 432.2 31.9 432.4 30.9 432.4 29.9 432.5 28.9 432.7 27.9 433 26.9 433.4 25.9 433.7 24.9 434 23.9 434.2 22.9 434.3 21.9Z" fill="#12B840"/>
<path d="M441.8 45.4h0M435.4 64.5h0M440.2 48.9h0M437.4 125.6h0M435.1 67.5h0M434.2 66.2h0M436.2 27.6h0M438 62.1h0M428.8 70.9h0M431.4 34.2h0M438.5 89.8h0M429.6 102.5h0M427.5 69h0M440.7 66.5h0M436.3 97.9h0M427.8 89h0M429.1 52.7h0M434.1 47.1h0M429.1 74.5h0M433.4 64.9h0M437.8 98.6h0M435.9 84.2h0M433 53.3h0M437.8 80.6h0M431.5 44.9h0M431.3 74.7h0M430.2 91h0M439.3 70h0M431.5 80.3h0M439.5 73.9h0M441.2 66.5h0M437.5 68.5h0M441.7 56.5h0M428.6 107h0M431.4 114.2h0M435.8 73.2h0M440.3 53.2h0M430.9 98.8h0M428.4 61.8h0M439.8 73.6h0M430.3 47.6h0M431.8 88.9h0M440.1 77.5h0M431.1 43.9h0M438.7 48.8h0M430.1 54.2h0M441 48.7h0M431.5 105.6h0M429.5 105.5h0M439.9 111.3h0M431 27.3h0M427.7 103.5h0M440.6 65.9h0M433.2 87h0M433.8 146.6h0M429.4 56.3h0M436 65.9h0M435.8 100.1h0M431.8 96.2h0M437.8 42.3h0M433.5 51.9h0M438 60h0M433 56h0M430.3 61.3h0M434.4 34.9h0M434.3 57.7h0M436.3 64.9h0M434 23.9h0M436.7 80.2h0M432.4 30.1h0M428.7 74.2h0M441.7 45.6h0M438.4 78h0M430.8 118.9h0M433.6 150.9h0M430.3 25.1h0M440.4 35.4h0M439.6 39.9h0M440.5 75.8h0M437.8 41.1h0M436.4 48.4h0M440 39.8h0M428.6 147.4h0M437.1 46h0M436.3 90.3h0M435.1 150.2h0M430.1 75.6h0M440.9 94.4h0M437.7 61.3h0M441.6 94.5h0M432.4 86.9h0M437.3 120.4h0M434.6 23.9h0M436.1 103.2h0M437.4 85.7h0M430.5 72.1h0M436.5 78.4h0M436.8 97.1h0M437.2 51.4h0M427.9 116.7h0M439.6 86.3h0M433.1 116.1h0M441.2 148.5h0M437.4 64.6h0M438.5 91.7h0M437.4 144.3h0M428.6 60.9h0M432.5 66.8h0M433.4 96.5h0M437.3 62.7h0M438.5 78.8h0M440.9 93.3h0M430.7 79.1h0M430.3 82h0M427.6 152.5h0M431.4 57h0M441.2 80.5h0M431.4 28.4h0M433.3 97.3h0M439.2 100.9h0M433.7 103.4h0M433.5 65h0M433.3 27.9h0M432.8 28.5h0M440.4 79.8h0M441.3 64h0M431.3 140.2h0M434.9 48.4h0M440.1 54.3h0M432.8 58h0" stroke="#1e1e1e" stroke-width="1.1" stroke-linecap="round" opacity="0.82"/>
<path d="M427.9 154.3h13.4" stroke="#111" stroke-width="1.4"/>
<path d="M434.6 161v1" stroke="#999" stroke-width="0.5"/>
<text transform="translate(438.7 170.8) scale(0.95 1.09) rotate(-45)" font-size="6.2" text-anchor="end" fill="#1a1a1a" stroke="#1a1a1a" stroke-width="0.12">HG.IPMN1</text>
<path d="M451.2 47.5 451.2 48.5 451.2 49.5 451.2 50.5 451.2 51.5 451.2 52.5 451.2 53.5 451.2 54.5 451.2 55.5 451.2 56.5 451.2 57.5 451.2 58.5 451.2 59.5 451.2 60.5 451.2 61.5 451.2 62.5 451.2 63.5 451.2 64.5 451.2 65.5 451.2 66.5 451.2 67.5 451.2 68.5 451.2 69.5 451.2 70.5 451.2 71.5 451.2 72.5 451.2 73.5 451.2 74.5 451.2 75.5 451.2 76.5 451.2 77.5 451.2 78.5 451.2 79.5 451.2 80.5 451.2 81.5 451.2 82.5 451.2 83.5 451.2 84.5 451.2 85.5 451.2 86.5 451.2 87.5 451.2 88.5 451.2 89.5 451.2 90.5 451.2 91.5 451.2 92.5 451.2 93.5 451.2 94.5 451.2 95.5 451.2 96.5 451.2 97.5 451.2 98.5 451.2 99.5 451.2 100.5 451.2 101.5 451.2 102.5 451.2 103.5 451.2 104.5 451.2 105.5 451.2 106.5 451.2 107.5 451.2 108.5 451.2 109.5 451.2 110.5 451.2 111.5 451.2 112.5 451.2 113.5 451.2 114.5 451.2 115.5 451.2 116.5 451.2 117.5 451.2 118.5 451.2 119.5 451.2 120.5 451.2 121.5 451.2 122.5 451.2 123.5 451.2 124.5 451.2 125.5 451.2 126.5 451.2 127.5 451.2 128.5 451.2 129.5 451.2 130.5 451.2 131.5 451.2 132.5 451.2 133.5 451.2 134.5 451.2 135.5 451.2 136.5 451.2 137.5 451.2 138.5 451.2 139.5 451.2 140.5 451.2 141.5 451.2 142.5 451.2 143.5 451.2 144.5 451.2 145.5 451.2 146.5 451.2 147.5 451.2 148.5 451.2 149.5 451.2 150.5 451.2 151.5 451.2 152.5 451.2 153.5 451.2 154 450.3 154 450.3 153.5 450.3 152.5 450.3 151.5 450.3 150.5 450.3 149.5 450.3 148.5 450.3 147.5 450.3 146.5 450.3 145.5 450.3 144.5 450.3 143.5 450.3 142.5 450.3 141.5 450.3 140.5 450.3 139.5 450.3 138.5 450.3 137.5 450.3 136.5 450.3 135.5 450.3 134.5 450.3 133.5 450.3 132.5 450.3 131.5 450.3 130.5 450.3 129.5 450.3 128.5 450.3 127.5 450.3 126.5 450.3 125.5 450.3 124.5 450.3 123.5 450.3 122.5 450.3 121.5 450.3 120.5 450.3 119.5 450.3 118.5 450.3 117.5 450.3 116.5 450.3 115.5 450.3 114.5 450.3 113.5 450.3 112.5 450.3 111.5 450.3 110.5 450.3 109.5 450.3 108.5 450.3 107.5 450.3 106.5 450.3 105.5 450.3 104.5 450.3 103.5 450.3 102.5 450.3 101.5 450.3 100.5 450.3 99.5 450.3 98.5 450.3 97.5 450.3 96.5 450.3 95.5 450.3 94.5 450.3 93.5 450.3 92.5 450.3 91.5 450.3 90.5 450.3 89.5 450.3 88.5 450.3 87.5 450.3 86.5 450.3 85.5 450.3 84.5 450.3 83.5 450.3 82.5 450.3 81.5 450.3 80.5 450.3 79.5 450.3 78.5 450.3 77.5 450.3 76.5 450.3 75.5 450.3 74.5 450.3 73.5 450.3 72.5 450.3 71.5 450.3 70.5 450.3 69.5 450.3 68.5 450.3 67.5 450.3 66.5 450.3 65.5 450.3 64.5 450.3 63.5 450.3 62.5 450.3 61.5 450.3 60.5 450.3 59.5 450.3 58.5 450.3 57.5 450.3 56.5 450.3 55.5 450.3 54.5 450.3 53.5 450.3 52.5 450.3 51.5 450.3 50.5 450.3 49.5 450.3 48.5 450.3 47.5Z" fill="#c0c8d0"/>
<path d="M456.6 124.9h0M446.4 70.5h0M450.9 98.3h0M450.9 129.9h0M451.8 91.8h0" stroke="#1e1e1e" stroke-width="1.1" stroke-linecap="round" opacity="0.82"/>
<path d="M444 154.3h13.4" stroke="#111" stroke-width="1.4"/>
<path d="M450.7 161v1" stroke="#999" stroke-width="0.5"/>
<text transform="translate(454.8 170.8) scale(0.95 1.09) rotate(-45)" font-size="6.2" text-anchor="end" fill="#1a1a1a" stroke="#1a1a1a" stroke-width="0.12">HG.IPMN2</text>
<path d="M466.9 12.9 467 13.9 467.2 14.9 467.5 15.9 467.9 16.9 468.2 17.9 468.4 18.9 468.5 19.9 468.6 20.9 468.7 21.9 469 22.9 469.3 23.9 469.7 24.9 470 25.9 470.4 26.9 470.6 27.9 470.8 28.9 470.9 29.9 470.9 30.9 471.1 31.9 471.3 32.9 471.6 33.9 471.8 34.9 472.1 35.9 472.4 36.9 472.6 37.9 472.8 38.9 472.8 39.9 472.9 40.9 472.9 41.9 473 42.9 473 43.9 473.1 44.9 473.2 45.9 473.4 46.9 473.5 47.9 473.6 48.9 473.7 49.9 473.8 50.9 473.9 51.9 473.9 52.9 474 53.9 474 54.9 474 55.9 474 56.9 474 57.9 473.9 58.9 473.9 59.9 473.9 60.9 473.8 61.9 473.8 62.9 473.7 63.9 473.7 64.9 473.7 65.9 473.6 66.9 473.6 67.9 473.6 68.9 473.6 69.9 473.6 70.9 473.5 71.9 473.4 72.9 473.3 73.9 473.1 74.9 472.9 75.9 472.8 76.9 472.6 77.9 472.4 78.9 472.2 79.9 472 80.9 471.9 81.9 471.8 82.9 471.7 83.9 471.7 84.9 471.7 85.9 471.5 86.9 471.4 87.9 471.1 88.9 470.9 89.9 470.6 90.9 470.4 91.9 470.2 92.9 470.1 93.9 470 94.9 470 95.9 469.8 96.9 469.7 97.9 469.5 98.9 469.2 99.9 469 100.9 468.8 101.9 468.6 102.9 468.5 103.9 468.4 104.9 468.4 105.9 468.3 106.9 468.3 107.9 468.2 108.9 468.1 109.9 468 110.9 467.9 111.9 467.9 112.9 467.8 113.9 467.8 114.9 467.8 115.9 467.7 116.9 467.7 117.9 467.7 118.9 467.8 119.9 467.8 120.9 467.9 121.9 468 122.9 468.1 123.9 468.2 124.9 468.3 125.9 468.4 126.9 468.4 127.9 468.5 128.9 468.5 129.9 468.5 130.9 468.7 131.9 468.9 132.9 469.1 133.9 469.4 134.9 469.7 135.9 470 136.9 470.2 137.9 470.3 138.9 470.4 139.9 470.4 140.9 470.5 141.9 470.6 142.9 470.8 143.9 471 144.9 471.2 145.9 471.3 146.9 471.5 147.9 471.6 148.9 471.6 149.9 471.7 150.9 471.8 151.9 472 152.9 472.1 153.9 472.1 154 461.1 154 461.1 153.9 461.2 152.9 461.4 151.9 461.5 150.9 461.6 149.9 461.6 148.9 461.7 147.9 461.9 146.9 462 145.9 462.2 144.9 462.4 143.9 462.6 142.9 462.7 141.9 462.8 140.9 462.8 139.9 462.9 138.9 463 137.9 463.2 136.9 463.5 135.9 463.8 134.9 464.1 133.9 464.3 132.9 464.5 131.9 464.7 130.9 464.7 129.9 464.7 128.9 464.8 127.9 464.8 126.9 464.9 125.9 465 124.9 465.1 123.9 465.2 122.9 465.3 121.9 465.4 120.9 465.4 119.9 465.5 118.9 465.5 117.9 465.5 116.9 465.4 115.9 465.4 114.9 465.4 113.9 465.3 112.9 465.3 111.9 465.2 110.9 465.1 109.9 465 108.9 464.9 107.9 464.9 106.9 464.8 105.9 464.8 104.9 464.7 103.9 464.6 102.9 464.4 101.9 464.2 100.9 464 99.9 463.7 98.9 463.5 97.9 463.4 96.9 463.2 95.9 463.2 94.9 463.1 93.9 463 92.9 462.8 91.9 462.6 90.9 462.3 89.9 462.1 88.9 461.8 87.9 461.7 86.9 461.5 85.9 461.5 84.9 461.5 83.9 461.4 82.9 461.3 81.9 461.2 80.9 461 79.9 460.8 78.9 460.6 77.9 460.4 76.9 460.3 75.9 460.1 74.9 459.9 73.9 459.8 72.9 459.7 71.9 459.6 70.9 459.6 69.9 459.6 68.9 459.6 67.9 459.6 66.9 459.5 65.9 459.5 64.9 459.5 63.9 459.4 62.9 459.4 61.9 459.3 60.9 459.3 59.9 459.3 58.9 459.2 57.9 459.2 56.9 459.2 55.9 459.2 54.9 459.2 53.9 459.3 52.9 459.3 51.9 459.4 50.9 459.5 49.9 459.6 48.9 459.7 47.9 459.8 46.9 460 45.9 460.1 44.9 460.2 43.9 460.2 42.9 460.3 41.9 460.3 40.9 460.4 39.9 460.4 38.9 460.6 37.9 460.8 36.9 461.1 35.9 461.4 34.9 461.6 33.9 461.9 32.9 462.1 31.9 462.3 30.9 462.3 29.9 462.4 28.9 462.6 27.9 462.8 26.9 463.2 25.9 463.5 24.9 463.9 23.9 464.2 22.9 464.5 21.9 464.6 20.9 464.7 19.9 464.8 18.9 465 17.9 465.3 16.9 465.7 15.9 466 14.9 466.2 13.9 466.3 12.9Z" fill="#6A95E8"/>
<path d="M473.2 60.3h0M472.3 58.9h0M464.5 139.1h0M461.6 74h0M466.7 51.6h0M465.6 78.5h0M461.8 92.3h0M460.6 94.4h0M471 76h0M470.4 58h0M464.4 73.9h0M473.1 42.7h0M467.4 71.6h0M472.3 43.4h0M468.8 44.9h0M465.4 70.1h0M472.5 100.1h0M463.8 84.8h0M461.2 47h0M462.2 77.8h0M464.9 48.7h0M467 67.4h0M467.5 128.2h0M467.2 64.5h0M464.9 49.4h0M466.3 28.4h0M465.9 36.3h0M460.9 51.5h0M461.5 58.5h0M471.8 35.1h0M468.1 72.8h0M464.1 68.3h0M473.1 63.1h0M471.7 60.1h0M472.1 103.1h0M464.2 100.9h0M467.2 20.1h0M472 101.1h0M473 77.1h0M467.8 56.4h0M470.4 45.7h0M461.8 45.4h0M469.3 83.6h0M467.3 44.5h0M472.5 59.2h0M469.5 72.8h0M461.3 41.7h0M465 69h0M468.5 124.4h0M471 41.1h0M466.8 53.8h0M464 51.5h0M460 54.2h0M461.6 86.8h0M470.4 81.1h0M464.3 88.8h0M465.9 90.1h0M461.4 60h0M468 36h0M470.7 81h0M459.7 27.7h0M470.2 39.6h0M472.3 97.8h0M462 42.9h0M472.6 74.6h0M472.9 87.7h0M467.7 48.3h0M467.4 92.6h0M468.6 26.3h0M465 41.9h0M459.8 115.2h0M461.8 149.8h0M471.6 74h0M468.2 56.6h0M460.7 91.5h0M472.3 73.8h0M468.3 103.2h0M468.6 87.7h0M470.6 125.5h0M470.7 69h0M473.7 79.6h0M466.6 78.7h0M470.9 37.7h0M471.3 97.7h0M470.6 35.2h0M473.4 77.6h0M473.6 75.2h0M463.9 91.5h0M473.6 55.8h0M464 123.5h0M461.7 62.6h0M464 71.5h0M471.5 64.8h0M466.3 65.1h0M459.6 46.9h0M467.3 58.2h0M459.6 69.9h0M465.7 123.2h0M463.3 59.2h0M470.1 34.8h0M460.1 56.3h0M472.2 76.2h0M469.1 77h0M470.1 58.3h0M462.1 75.4h0M463.5 100.4h0M463.4 58.6h0M468.8 60.1h0M464.2 65.1h0M471.4 125.4h0M464.5 76h0M468.6 47.8h0M473.8 75h0M473.5 64.1h0M467.4 46.5h0M473.7 120.2h0M461.4 86h0M464.5 38.3h0M472.3 40h0M464.8 66.7h0M461.6 55h0M464.3 79.6h0M469.7 110.7h0M468.5 60h0M463.1 148.5h0M465.9 93h0M465 70.9h0M472.2 65.8h0M459.6 111.6h0M472 92.9h0M464.8 55.9h0M472.7 84.2h0M464.8 49.4h0M461.7 66.5h0M462.3 65.7h0M460.4 24h0M469.8 79h0M472.3 51.2h0M472.2 75.7h0M463.9 62.7h0M471.6 52.9h0M461.1 43.4h0M465.1 37.4h0M459.6 49.2h0M459.6 26.5h0M470.2 51.7h0M466.6 51.5h0M461.7 114.9h0M463.1 87.5h0M466.7 82.1h0M466.7 56.5h0M469.9 58.1h0M464 44.7h0M470.1 66.9h0M465.4 56.8h0M463.7 17.8h0M471.5 84.2h0M463.5 78.8h0M473.8 76.1h0M467.9 117.3h0M468.6 45h0M472.3 28h0M469.7 23.3h0M470.6 44.7h0M467.2 55.5h0M472 49.2h0M463.2 41.2h0M461.9 118h0M462.6 98.1h0M460.1 94.3h0M467 106.4h0M460.9 18.8h0M462.9 86.3h0M470.7 111.2h0M461.4 36.5h0M467.8 66.8h0M466.9 92.7h0M469.1 55.5h0M470.3 49.4h0M469.5 46.2h0M469.1 101.6h0M460.6 41.9h0M473.3 38.4h0M470.9 38.8h0M461.2 87.3h0M465.2 54.5h0M464.5 46.8h0M464.5 104.6h0M468.5 65.8h0M463.9 88.8h0M464 74.4h0M465.3 42.9h0M468.9 43.1h0M472.5 67h0M462.1 26.7h0M460.6 68h0M460.3 26.9h0M468.9 69h0M473.4 66.6h0M469.4 64.9h0M466 27.2h0M470.8 89h0M464.8 48.8h0M463.9 88.7h0M469.3 32.2h0M466.2 73.8h0M460.2 83.5h0M469.5 50.8h0M461 130.3h0M466.8 63.8h0M464.3 109.7h0M464 71.6h0M461.8 64.7h0M468.7 51.3h0M463.1 58.9h0M464.3 128.5h0M459.7 36h0M467.9 69.9h0M469.5 51.3h0M465.2 35.1h0M460.9 89.6h0M471.5 42.8h0M465.4 44.5h0M462.5 72.4h0M465.8 56.7h0M468.9 31.5h0M466.7 143.5h0M459.5 68.6h0M467.5 22.4h0M460.4 65.1h0M464 41.8h0M470.4 132.2h0M470.8 73.2h0M470.6 47.8h0M473.2 149.6h0M460.5 79.6h0M465.3 121.9h0M460.5 44.8h0M473.8 77.6h0M471.4 70.7h0M469.2 76.5h0M464.3 44.2h0M461.7 67.7h0M464.2 77.3h0M461.8 40.5h0M464.9 39.4h0M459.4 89.4h0M461.6 66.2h0M463.2 36h0M464.5 40.7h0M463.6 42h0M470.4 62.2h0M459.4 59.9h0M471 50.2h0M467 51.9h0M471.9 73.1h0M461.7 79.1h0M473.7 52.8h0M462.4 57.1h0M459.7 45h0M460.8 46.2h0M470.1 95.8h0M473 65.9h0M464.9 43.5h0M470.7 105.3h0M460.3 50.7h0M465.6 43.4h0M468.9 94h0M470.9 66.6h0M465.4 68.8h0M471.9 47.4h0M461 73.9h0M467.5 26.6h0M462.5 55.7h0M469.1 121.5h0M460.6 61.8h0M467.1 86.1h0M467.7 83.1h0M463 51.2h0M462.1 65.9h0M461.5 42.8h0M467.6 86.1h0M472 69.6h0M467.9 29.2h0M473.1 90.6h0M464.7 60.7h0M472.3 142.5h0M472.3 40.5h0M470.9 82.3h0M469.8 80.9h0M472.8 85.9h0M460.6 106.8h0M462.4 59.7h0M468.2 78h0M472.2 124.6h0M473.5 73.2h0M460.2 68.9h0M460.1 69.4h0M468.4 27.6h0M467.1 89h0M472.6 56.6h0M471.3 99.6h0M473.2 87.5h0M465.4 28.3h0M472.3 48.4h0M469.2 73.6h0M467.9 52.7h0M461 36.1h0M467.6 58.1h0M471.9 34.2h0M469.4 87.7h0M461.5 52.8h0M462.3 86.3h0M466.7 47.1h0M466.8 93.9h0M471 37.7h0M468.1 32.6h0M472.4 67h0M462.6 64.4h0M463 47.5h0M473.4 75.2h0M470.3 79.9h0M464.9 54.4h0M468.8 47.8h0M463.7 37.7h0M472.7 21.9h0M466.4 69.5h0M463.3 91.6h0M473.7 62.3h0M461 54h0M462.8 43.8h0M473.3 17.7h0M466.6 50.2h0M469.1 63.3h0M465.3 88.9h0M460.4 63.7h0M460.7 125.2h0M464.2 54.5h0M465.1 22.7h0M467.5 74.8h0M461.8 88.6h0M465.7 90.2h0M471.6 84h0M460.7 46.8h0M460.4 95.3h0M465.9 70.6h0M466 67.4h0M467.5 33.8h0M470.5 17.8h0M465.1 68.7h0M462.4 54.8h0M462.9 88.3h0M468.8 119.8h0M461.4 101.4h0M473 54.3h0M461.1 66.6h0M460.5 54.8h0M463.6 29.2h0M470.6 65.3h0M466.2 77.4h0M470.9 65.2h0M464.3 51.5h0M462.1 59.9h0M460.6 26.5h0M469.9 68.7h0M469.4 56.7h0M470.9 50.8h0M465.8 34.2h0M462.3 98.6h0M462.1 39.6h0M461.5 66.7h0M467.2 61.8h0M459.5 104.7h0M464.9 50.3h0M460 92h0M465.9 42.5h0M459.5 88.4h0M472.3 88.9h0M464.5 73.8h0M466.8 47.3h0M471.3 138.1h0M472.3 98.5h0M461.1 72.3h0M472.7 57.1h0M466.3 42h0M466.8 46.9h0M467.7 31.6h0M459.8 74.6h0M467.8 66.4h0M459.9 44.1h0M462 34h0M469.1 108h0M468.6 55.5h0M460.3 50.1h0M464.7 101.1h0M473.3 43.4h0M471.3 66.3h0M473.4 67.7h0M473.5 107.2h0M473.2 93.4h0M462.1 50.2h0M463.7 39.7h0M468.5 51.2h0M461.8 20.2h0M473.2 85.1h0M463.4 73h0M471.3 93h0M465.2 67.3h0M466.3 21.9h0M467.8 53.6h0M462.7 59.1h0M469.7 38.9h0M464.8 40.1h0M469.8 32.6h0M460.6 51h0M471 117.4h0M462.7 43.8h0M468.5 76.8h0M470.7 33.8h0M460.2 76h0M462.8 49.2h0M463.2 87h0M472 39.1h0M470.5 24.4h0M461.8 48.7h0M465.6 70h0M465.7 72.4h0M470.8 35.4h0M473.2 22.1h0M469.6 26.3h0M465.6 68.4h0M465 98.2h0M468.1 148.8h0M472.6 93.3h0M472.9 21.8h0M463 53.6h0M464.9 92h0M463 40.2h0M467.1 62h0M467.3 70.1h0M471.4 83.1h0M468.1 42.2h0M471.1 33.7h0M462 79.2h0M468.5 40.6h0M470.5 44.5h0M464.1 98.6h0M468.8 80.3h0M466.2 30.9h0M471.7 19.7h0M471.7 61.3h0M462 60.9h0M467.1 73.5h0M469.6 61.6h0M471.5 107.8h0M469.5 36.8h0M467.9 56.9h0M461.8 32.9h0M465.2 43.6h0M465.2 82h0M464.4 54.4h0M470.2 98.8h0M467.9 66.8h0M468.9 85.4h0M462.7 48.1h0M469.4 48.3h0M467.7 72.7h0M468.7 48.6h0M468.9 35.4h0M468.5 52.7h0M461.2 97.6h0M472.8 83.4h0M460.6 33.3h0M465.8 49.4h0M472.8 52.6h0M470.9 68.4h0M463 71h0M461.2 67.1h0M467.6 69.5h0M473 77.8h0M461.7 112.2h0M467 79.6h0M464.8 59.3h0M471.1 56.1h0M466.8 69.4h0M460.8 123.4h0M472.5 65h0M463 57.7h0M468 52.8h0M459.8 46.1h0M471.7 39.3h0M465.2 49.9h0M460 67.1h0M471.3 67.4h0M465.4 70.5h0M468.3 62.9h0M470.1 78.9h0M473 40.4h0M471.7 75.3h0M468.3 18.1h0M469.4 89.7h0M466.8 103.7h0M466 87.3h0M464.7 44.2h0M468.4 120.4h0M464.8 39.6h0M463.2 58.2h0M464.4 76.4h0M467 50h0M463.4 52.2h0M469.2 84.8h0M471.3 78.2h0M464.2 76.4h0M460.9 117.5h0M472.2 32.8h0M472.8 112.1h0M464.3 44.5h0M461.7 66.8h0M461.1 63.5h0M459.8 52.4h0M470.5 90.4h0M471.1 48.8h0M461.6 23.9h0M462.4 82.1h0M461.6 86.6h0M472.8 38.8h0M467.1 47.3h0M464.2 93.1h0M470.1 37.3h0M467.8 62.8h0M469.3 53.3h0M462 28h0M465.5 151.6h0M469.3 56.9h0M462.4 80.7h0M469.5 126h0M459.7 51.5h0M468.8 94.3h0M463.3 67h0M472.2 78.1h0" stroke="#1e1e1e" stroke-width="1.1" stroke-linecap="round" opacity="0.82"/>
<path d="M459.9 154.3h13.4" stroke="#111" stroke-width="1.4"/>
<path d="M466.6 161v1" stroke="#999" stroke-width="0.5"/>
<text transform="translate(470.7 170.8) scale(0.95 1.09) rotate(-45)" font-size="6.2" text-anchor="end" fill="#1a1a1a" stroke="#1a1a1a" stroke-width="0.12">PDAC.1</text>
<path d="M483.1 13.8 483.1 14.8 483.2 15.8 483.2 16.8 483.3 17.8 483.4 18.8 483.5 19.8 483.6 20.8 483.7 21.8 483.7 22.8 483.8 23.8 483.8 24.8 483.8 25.8 483.8 26.8 483.8 27.8 483.9 28.8 483.9 29.8 484 30.8 484 31.8 484.1 32.8 484.1 33.8 484.2 34.8 484.2 35.8 484.2 36.8 484.3 37.8 484.3 38.8 484.3 39.8 484.3 40.8 484.3 41.8 484.3 42.8 484.3 43.8 484.3 44.8 484.3 45.8 484.3 46.8 484.3 47.8 484.4 48.8 484.4 49.8 484.4 50.8 484.4 51.8 484.4 52.8 484.4 53.8 484.5 54.8 484.5 55.8 484.5 56.8 484.5 57.8 484.5 58.8 484.5 59.8 484.6 60.8 484.6 61.8 484.6 62.8 484.6 63.8 484.6 64.8 484.7 65.8 484.7 66.8 484.7 67.8 484.7 68.8 484.7 69.8 484.7 70.8 484.7 71.8 484.8 72.8 484.8 73.8 484.8 74.8 484.8 75.8 484.8 76.8 484.8 77.8 484.8 78.8 484.8 79.8 484.8 80.8 484.8 81.8 484.8 82.8 484.8 83.8 484.8 84.8 484.8 85.8 484.8 86.8 484.8 87.8 484.8 88.8 484.8 89.8 484.8 90.8 484.8 91.8 484.8 92.8 484.8 93.8 484.8 94.8 484.8 95.8 484.8 96.8 484.8 97.8 484.8 98.8 484.8 99.8 484.8 100.8 484.8 101.8 484.8 102.8 484.8 103.8 484.8 104.8 484.8 105.8 484.8 106.8 484.8 107.8 484.8 108.8 484.8 109.8 484.8 110.8 484.8 111.8 484.8 112.8 484.8 113.8 484.8 114.8 484.8 115.8 484.8 116.8 484.8 117.8 484.8 118.8 484.8 119.8 484.8 120.8 484.8 121.8 484.8 122.8 484.8 123.8 484.8 124.8 484.9 125.8 485.1 126.8 485.2 127.8 485.4 128.8 485.6 129.8 485.8 130.8 485.9 131.8 486.1 132.8 486.2 133.8 486.2 134.8 486.2 135.8 486.4 136.8 486.6 137.8 486.9 138.8 487.2 139.8 487.5 140.8 487.8 141.8 488 142.8 488.2 143.8 488.3 144.8 488.3 145.8 488.4 146.8 488.5 147.8 488.6 148.8 488.7 149.8 488.8 150.8 488.9 151.8 489 152.8 489 153.8 489.1 154 476.6 154 476.6 153.8 476.6 152.8 476.7 151.8 476.8 150.8 476.9 149.8 477 148.8 477.1 147.8 477.2 146.8 477.3 145.8 477.3 144.8 477.4 143.8 477.6 142.8 477.8 141.8 478.1 140.8 478.4 139.8 478.7 138.8 479 137.8 479.2 136.8 479.4 135.8 479.4 134.8 479.4 133.8 479.5 132.8 479.7 131.8 479.8 130.8 480 129.8 480.2 128.8 480.4 127.8 480.5 126.8 480.7 125.8 480.8 124.8 480.8 123.8 480.8 122.8 480.8 121.8 480.8 120.8 480.8 119.8 480.8 118.8 480.8 117.8 480.8 116.8 480.8 115.8 480.8 114.8 480.8 113.8 480.8 112.8 480.8 111.8 480.8 110.8 480.8 109.8 480.8 108.8 480.8 107.8 480.8 106.8 480.8 105.8 480.8 104.8 480.8 103.8 480.8 102.8 480.8 101.8 480.8 100.8 480.8 99.8 480.8 98.8 480.8 97.8 480.8 96.8 480.8 95.8 480.8 94.8 480.8 93.8 480.8 92.8 480.8 91.8 480.8 90.8 480.8 89.8 480.8 88.8 480.8 87.8 480.8 86.8 480.8 85.8 480.8 84.8 480.8 83.8 480.8 82.8 480.8 81.8 480.8 80.8 480.8 79.8 480.8 78.8 480.8 77.8 480.8 76.8 480.8 75.8 480.8 74.8 480.8 73.8 480.8 72.8 480.9 71.8 480.9 70.8 480.9 69.8 480.9 68.8 480.9 67.8 480.9 66.8 480.9 65.8 481 64.8 481 63.8 481 62.8 481 61.8 481 60.8 481.1 59.8 481.1 58.8 481.1 57.8 481.1 56.8 481.1 55.8 481.1 54.8 481.2 53.8 481.2 52.8 481.2 51.8 481.2 50.8 481.2 49.8 481.2 48.8 481.3 47.8 481.3 46.8 481.3 45.8 481.3 44.8 481.3 43.8 481.3 42.8 481.3 41.8 481.3 40.8 481.3 39.8 481.3 38.8 481.3 37.8 481.4 36.8 481.4 35.8 481.4 34.8 481.5 33.8 481.5 32.8 481.6 31.8 481.6 30.8 481.7 29.8 481.7 28.8 481.8 27.8 481.8 26.8 481.8 25.8 481.8 24.8 481.8 23.8 481.9 22.8 481.9 21.8 482 20.8 482.1 19.8 482.2 18.8 482.3 17.8 482.4 16.8 482.4 15.8 482.5 14.8 482.5 13.8Z" fill="#D86CC4"/>
<path d="M476.1 80.2h0M482.8 25.4h0M477.6 34.3h0M488.7 36.4h0M483.3 102.4h0M488.9 127.5h0M484.2 117.1h0M477.7 66.9h0M486.2 30.7h0M483.3 74.2h0M489.2 100.9h0M481.1 58.2h0M479.5 79.5h0M478.9 91.3h0M484 113.9h0M479.4 57.6h0M484.3 97.7h0M486.2 87.2h0M476.6 112.8h0M486.2 83.6h0M483.2 103.1h0M485.1 88.4h0M482 23.3h0M485.9 81.6h0M485.4 92.8h0M481.9 97.6h0M481.9 45.2h0M481.8 89.7h0M482.4 73.4h0M485.6 68.9h0M488.2 86.1h0M488.1 106.5h0M483.9 74.4h0M485.4 87.4h0M476.7 63.7h0M477.5 23.1h0M480.6 90.5h0M477.5 66.3h0M479.3 96.4h0M476.1 149.8h0M483.8 136.7h0M485.8 110.1h0M489.7 125.2h0M480.5 88.1h0M484.7 97.5h0M481.4 31.1h0M485.9 108.4h0M486.5 132.5h0M488.1 59.5h0M489 101.6h0M480.9 70.9h0M484.2 79.1h0M476.7 122.7h0M478.8 123.7h0M484.8 113h0M480.9 46.2h0M478.4 78.8h0M489.1 132.6h0M482 49.5h0M484.4 98.8h0M484.9 80.1h0M476.7 43.1h0M488.5 96.9h0M488.7 144.5h0M486.5 19h0M478.3 112.4h0M480.6 115.1h0M485.9 70.1h0M482.7 34.6h0M481.2 76.2h0M477.2 67.8h0M482.1 57.8h0M482.2 25.8h0M482.1 64.4h0M476.3 121h0M483.9 48.2h0M485.2 76.6h0M488.3 121.8h0M486 51.5h0M486.6 130.7h0M484.1 54.8h0M485.3 100.4h0M482.3 49.8h0M484.9 35.5h0M489.1 78.3h0M484.5 121.4h0M484.4 112.3h0M486.4 79.4h0M478.4 26.6h0M483.9 119.4h0M489.1 18.5h0M479.6 40.2h0M486.4 40.9h0M487.1 78.6h0M477.7 77.9h0M476.2 18.1h0M477.3 119.2h0M487 109.6h0M477.2 94.6h0M489.2 109.5h0M479.3 112.3h0M481.6 124.4h0M483 94.9h0M475.7 76.3h0M481.3 95.7h0M478.2 85.6h0M476.9 98.4h0M482.7 83.9h0M480 49.7h0M477.3 105h0M476.2 55.9h0M479.4 34.2h0M484 117h0M480.9 77h0M483.6 136.2h0M486 112.4h0M489 22.7h0M484.1 103.6h0M481.3 42.1h0M475.7 91.2h0M480.7 95.8h0M485.6 93.4h0M487 102.8h0M486.1 118.8h0M477.8 57.7h0M476.3 69.3h0M477.8 101.7h0M479.2 52.5h0M484.5 87.8h0M485 111.6h0M480.6 56h0M479.4 37.4h0M476 104.3h0M488 112.5h0M487.7 79.6h0M481 111.7h0M489.2 102.7h0M487.6 132.4h0M481.3 39.2h0M487.5 70.6h0M475.7 48.9h0M488.8 96.8h0M481.3 93h0M483.3 119.9h0M487.8 80.3h0M477.9 55.8h0M477.3 81.4h0M483.6 88h0M487.6 23.4h0M486.4 116.8h0M482.3 22h0M479.2 31.1h0M481.7 106.7h0M475.6 76.3h0M482.4 60.5h0M485.6 42.9h0M480.7 82.3h0M489 150.3h0M478.8 143.3h0M477.9 121.3h0M481 70.1h0M482.3 39.9h0M485.8 80.9h0M487.1 73.9h0M476.7 76.4h0M484 60.4h0M484.4 118.1h0M479.5 101.3h0M487.5 99.3h0M481.7 86.7h0M481.9 116.1h0M482.5 96.6h0M488.9 122.1h0M478 83.7h0M486 119.8h0M475.7 91h0M479.4 37.8h0M480.4 54.7h0M479.3 46.5h0M476.4 64h0M485 93.9h0M483.1 89.8h0M485.5 62.3h0M483.5 79.4h0M484.8 135h0M476.7 88.4h0M480.1 95.1h0M481.5 57.1h0M480.8 38.1h0M489.8 38.7h0M485.6 92.8h0M487.6 107.1h0M478.4 111.1h0M483.4 76.3h0M484.3 77h0M483.7 126.2h0M476 111.7h0M476.1 92h0M488.8 21.7h0M481.2 59.3h0M477.5 103.8h0M482.6 126.4h0M486 24h0M488 127h0M480.8 115.4h0M487 78.5h0M478.8 64.1h0M484.3 32.4h0M480.6 95.3h0M476.2 118.4h0M478.9 102.3h0M485.6 88.3h0M483.8 73.7h0M481 86.1h0M482.6 107.7h0M485.9 37.1h0M480.5 122.3h0M489.9 93.6h0M481.8 25.9h0M480.9 24.3h0M483.1 22.4h0M481.1 122.6h0M484.4 94.2h0M479.1 108.1h0M477.5 118.9h0M486.9 104.9h0M481.4 101.7h0M475.9 55.7h0M477.1 82.6h0M477 50.8h0M485.8 126.6h0M484.5 69.8h0M477.8 37.4h0M483.8 123.1h0M476.9 67.2h0M479.4 19.6h0M487.8 128.4h0M483 116.6h0M487.3 30.1h0M476 52.6h0M477.3 92.3h0M487.8 79.2h0M489.1 105.8h0M483 48.9h0M486.6 67.2h0M488.9 51.7h0M488 60.3h0M484.1 84.4h0M477.8 44.1h0M485 86.6h0M480.7 140h0M479.2 84h0M477.6 82.8h0M485 102.5h0M488.3 124.9h0M482.5 90.7h0M483.2 114.6h0M478.1 91.1h0M480 85.9h0M478.4 32.4h0M480.7 39.8h0M482.9 124.8h0M488 76.5h0M483.9 104.7h0M477.5 117.9h0M479.8 17.8h0M478.2 131.9h0M486.7 89.9h0M479.6 107.5h0M479.5 53.4h0M478.1 64.2h0M483.4 99.6h0M487 75.5h0M480.3 43.5h0M478.4 112.8h0M489.4 31.7h0M483.2 123.6h0M476.4 115.5h0M486.7 92.8h0M488 80.6h0M478.5 100.6h0M480.6 89.2h0M483.8 82.6h0M481.1 44.1h0M480 34.9h0M481.5 17.7h0M486.8 30.5h0M484.6 27.6h0M485.6 82.3h0M489.4 31.8h0M482.4 68.8h0M479.2 38.2h0M481.9 112.4h0M482.6 59.7h0M480.1 147.1h0M486.9 111.1h0M479.2 68.7h0M486.4 103.4h0M483.7 51.3h0M488.5 51.4h0M482.7 126.1h0M483.7 121.1h0M484.9 53.7h0M482.1 121.9h0M486.9 29.8h0M483.2 44.9h0M478.1 100.9h0M480.6 109.2h0M482.4 47.7h0M482.9 51h0M487.5 102.9h0M487.1 28.7h0M476.9 75.5h0M486.2 117.7h0M489.5 78.9h0M477.5 108.8h0M481 121.6h0M480.6 35.4h0M481.5 132h0M478.5 69.1h0M484 67.1h0M482.5 103.6h0M479.3 75.7h0M483.5 111.4h0M484.7 65.4h0M482.3 123.4h0M478 64.1h0M478.9 112.4h0M475.7 96.9h0M476.8 108.5h0M481 57.2h0M483.5 98.3h0M481.9 19.6h0M480.5 98.4h0M479.9 67.3h0M480.6 28.8h0M484.7 55.4h0M483.9 13.3h0M483.8 53.4h0M477.6 24.8h0M486.3 98.2h0M482.4 100h0M485 40.9h0M483 53.3h0M489.2 118h0M484.9 98.8h0M477.6 29.2h0M478.9 89.7h0M489.9 128.9h0M483.5 100.4h0M477.8 103.3h0M487.9 122h0M478.2 67.7h0M488.5 65.6h0M488.6 70.8h0M482.7 99.9h0M478.5 19.4h0M483.2 114.5h0M479.2 44.3h0M475.7 111.2h0" stroke="#1e1e1e" stroke-width="1.1" stroke-linecap="round" opacity="0.82"/>
<path d="M476.1 154.3h13.4" stroke="#111" stroke-width="1.4"/>
<path d="M482.8 161v1" stroke="#999" stroke-width="0.5"/>
<text transform="translate(486.9 170.8) scale(0.95 1.09) rotate(-45)" font-size="6.2" text-anchor="end" fill="#1a1a1a" stroke="#1a1a1a" stroke-width="0.12">PDAC.2</text>
</g>
<text transform="translate(1.0 11.1) scale(1.1 1)" font-family='"Liberation Sans", sans-serif' font-size="12.6" font-weight="bold" fill="#111">A</text>
<g font-family='"Liberation Sans", sans-serif'>
<rect x="12" y="238" width="201.2" height="205.5" fill="#1a0a1e"/>
<path d="M154.3 261.44H169.5" stroke="#6c1f72" stroke-width="0.998" shape-rendering="crispEdges"/>
<path d="M169.5 256.46H194.7" stroke="#601d66" stroke-width="0.998" shape-rendering="crispEdges"/>
<path d="M106.5 308.33H132.5" stroke="#5a1c60" stroke-width="0.998" shape-rendering="crispEdges"/>
<path d="M80.2 247.48H106.5M132.5 307.33H154.3M169.5 430.03H194.7" stroke="#541b5a" stroke-width="0.998" shape-rendering="crispEdges"/>
<path d="M106.5 409.08H132.5M106.5 414.07H132.5M132.5 266.43H154.3M132.5 283.39H154.3M169.5 351.22H194.7M201.6 351.22H208.5" stroke="#4e1a54" stroke-width="0.998" shape-rendering="crispEdges"/>
<path d="M12 351.22H49.4M106.5 430.03H132.5M132.5 270.42H154.3M154.3 364.19H169.5M169.5 384.14H194.7M194.7 389.13H201.6M194.7 405.09H201.6M208.5 277.40H213.2M208.5 395.12H213.2" stroke="#48194e" stroke-width="0.998" shape-rendering="crispEdges"/>
<path d="M12 400.11H49.4M80.2 238.50H106.5M80.2 429.04H106.5M80.2 440.01H106.5M106.5 247.48H132.5M106.5 255.46H132.5M106.5 259.45H132.5M106.5 266.43H132.5M106.5 272.42H132.5M106.5 283.39H132.5M132.5 242.49H154.3M132.5 268.43H154.3M132.5 320.30H154.3M132.5 405.09H154.3M132.5 409.08H154.3M154.3 351.22H169.5M169.5 238.50H194.7M169.5 247.48H194.7M169.5 285.38H194.7M194.7 398.11H201.6" stroke="#421848" stroke-width="0.998" shape-rendering="crispEdges"/>
<path d="M49.4 342.25H80.2M80.2 279.40H106.5M80.2 342.25H106.5M80.2 351.22H106.5M80.2 430.03H106.5M106.5 238.50H132.5M106.5 241.49H132.5M106.5 242.49H132.5M106.5 246.48H132.5M106.5 252.46H132.5M106.5 253.46H132.5M106.5 270.42H132.5M106.5 285.38H132.5M106.5 307.33H132.5M106.5 319.30H132.5M106.5 395.12H132.5M132.5 246.48H154.3M132.5 257.45H154.3M132.5 259.45H154.3M132.5 303.34H154.3M132.5 413.07H154.3M169.5 268.43H194.7M169.5 272.42H194.7M169.5 325.29H194.7M169.5 342.25H194.7M194.7 342.25H201.6M194.7 395.12H201.6M201.6 266.43H208.5M201.6 413.07H208.5M208.5 268.43H213.2M208.5 332.27H213.2" stroke="#3c1642" stroke-width="0.998" shape-rendering="crispEdges"/>
<path d="M12 297.36H49.4M12 364.19H49.4M12 414.07H49.4M12 439.01H49.4M49.4 365.19H80.2M49.4 441.01H80.2M80.2 365.19H106.5M80.2 400.11H106.5M80.2 424.05H106.5M80.2 438.01H106.5M106.5 257.45H132.5M106.5 260.45H132.5M106.5 282.39H132.5M106.5 291.37H132.5M132.5 241.49H154.3M132.5 247.48H154.3M132.5 253.46H154.3M132.5 291.37H154.3M132.5 306.33H154.3M132.5 309.33H154.3M132.5 342.25H154.3M132.5 370.18H154.3M132.5 407.09H154.3M132.5 414.07H154.3M132.5 417.06H154.3M132.5 419.06H154.3M132.5 430.03H154.3M154.3 242.49H169.5M154.3 269.42H169.5M154.3 277.40H169.5M154.3 291.37H169.5M154.3 322.29H169.5M154.3 369.18H169.5M154.3 441.01H169.5M169.5 255.46H194.7M169.5 370.18H194.7M194.7 350.23H201.6M194.7 370.18H201.6M201.6 371.18H208.5M201.6 372.17H208.5M208.5 242.49H213.2M208.5 405.09H213.2" stroke="#37153d" stroke-width="0.998" shape-rendering="crispEdges"/>
<path d="M12 320.30H49.4M12 342.25H49.4M12 370.18H49.4M12 398.11H49.4M12 409.08H49.4M12 417.06H49.4M12 427.04H49.4M12 430.03H49.4M12 441.01H49.4M49.4 308.33H80.2M49.4 325.29H80.2M49.4 351.22H80.2M49.4 421.05H80.2M80.2 338.26H106.5M80.2 343.24H106.5M80.2 372.17H106.5M80.2 384.14H106.5M80.2 395.12H106.5M80.2 398.11H106.5M80.2 405.09H106.5M80.2 413.07H106.5M80.2 427.04H106.5M106.5 268.43H132.5M106.5 294.36H132.5M106.5 304.34H132.5M106.5 309.33H132.5M106.5 322.29H132.5M106.5 351.22H132.5M106.5 405.09H132.5M106.5 427.04H132.5M106.5 429.04H132.5M132.5 278.40H154.3M132.5 297.36H154.3M132.5 298.35H154.3M132.5 308.33H154.3M132.5 325.29H154.3M132.5 331.27H154.3M132.5 373.17H154.3M132.5 395.12H154.3M132.5 426.04H154.3M132.5 427.04H154.3M132.5 440.01H154.3M154.3 308.33H169.5M154.3 394.12H169.5M154.3 414.07H169.5M154.3 430.03H169.5M169.5 242.49H194.7M169.5 243.49H194.7M169.5 246.48H194.7M169.5 259.45H194.7M169.5 266.43H194.7M169.5 271.42H194.7M169.5 350.23H194.7M169.5 389.13H194.7M169.5 394.12H194.7M194.7 277.40H201.6M194.7 283.39H201.6M194.7 338.26H201.6M194.7 384.14H201.6M194.7 394.12H201.6M194.7 409.08H201.6M194.7 429.04H201.6M194.7 440.01H201.6M194.7 443.00H201.6M201.6 238.50H208.5M201.6 282.39H208.5M201.6 416.07H208.5M208.5 325.29H213.2M208.5 410.08H213.2" stroke="#341439" stroke-width="0.998" shape-rendering="crispEdges"/>
<path d="M12 280.40H49.4M12 291.37H49.4M12 343.24H49.4M12 355.21H49.4M12 389.13H49.4M12 394.12H49.4M12 395.12H49.4M12 429.04H49.4M49.4 319.30H80.2M49.4 331.27H80.2M49.4 405.09H80.2M49.4 426.04H80.2M49.4 440.01H80.2M80.2 242.49H106.5M80.2 350.23H106.5M80.2 382.15H106.5M80.2 409.08H106.5M80.2 414.07H106.5M80.2 426.04H106.5M80.2 441.01H106.5M106.5 269.42H132.5M106.5 273.41H132.5M106.5 275.41H132.5M106.5 301.35H132.5M106.5 302.34H132.5M106.5 306.33H132.5M106.5 350.23H132.5M106.5 440.01H132.5M132.5 252.46H154.3M132.5 260.45H154.3M132.5 269.42H154.3M132.5 272.42H154.3M132.5 275.41H154.3M132.5 277.40H154.3M132.5 280.40H154.3M132.5 281.39H154.3M132.5 285.38H154.3M132.5 299.35H154.3M132.5 301.35H154.3M132.5 302.34H154.3M132.5 316.31H154.3M132.5 347.23H154.3M132.5 378.16H154.3M132.5 410.08H154.3M154.3 238.50H169.5M154.3 279.40H169.5M154.3 297.36H169.5M154.3 314.31H169.5M154.3 343.24H169.5M154.3 355.21H169.5M169.5 276.41H194.7M169.5 277.40H194.7M169.5 282.39H194.7M169.5 297.36H194.7M169.5 328.28H194.7M169.5 405.09H194.7M194.7 333.27H201.6M194.7 343.24H201.6M194.7 351.22H201.6M194.7 382.15H201.6M194.7 441.01H201.6M201.6 247.48H208.5M201.6 256.46H208.5M201.6 308.33H208.5M201.6 343.24H208.5M201.6 350.23H208.5M201.6 384.14H208.5M201.6 391.13H208.5M201.6 417.06H208.5M208.5 272.42H213.2M208.5 284.39H213.2M208.5 301.35H213.2M208.5 307.33H213.2M208.5 320.30H213.2M208.5 365.19H213.2M208.5 384.14H213.2M208.5 389.13H213.2M208.5 419.06H213.2" stroke="#301334" stroke-width="0.998" shape-rendering="crispEdges"/>
<path d="M12 305.34H49.4M12 336.26H49.4M12 405.09H49.4M12 440.01H49.4M49.4 238.50H80.2M49.4 320.30H80.2M49.4 355.21H80.2M49.4 370.18H80.2M49.4 372.17H80.2M49.4 383.15H80.2M49.4 384.14H80.2M49.4 409.08H80.2M49.4 420.06H80.2M80.2 325.29H106.5M80.2 330.28H106.5M80.2 333.27H106.5M80.2 370.18H106.5M80.2 373.17H106.5M80.2 407.09H106.5M80.2 417.06H106.5M80.2 439.01H106.5M106.5 256.46H132.5M106.5 278.40H132.5M106.5 287.38H132.5M106.5 297.36H132.5M106.5 305.34H132.5M106.5 317.31H132.5M106.5 325.29H132.5M106.5 370.18H132.5M106.5 400.11H132.5M106.5 413.07H132.5M132.5 238.50H154.3M132.5 250.47H154.3M132.5 255.46H154.3M132.5 256.46H154.3M132.5 261.44H154.3M132.5 262.44H154.3M132.5 282.39H154.3M132.5 288.38H154.3M132.5 383.15H154.3M132.5 384.14H154.3M132.5 389.13H154.3M132.5 400.11H154.3M132.5 429.04H154.3M154.3 241.49H169.5M154.3 246.48H169.5M154.3 285.38H169.5M154.3 287.38H169.5M154.3 301.35H169.5M154.3 341.25H169.5M154.3 436.02H169.5M169.5 240.49H194.7M169.5 248.47H194.7M169.5 257.45H194.7M169.5 270.42H194.7M169.5 275.41H194.7M169.5 289.38H194.7M169.5 303.34H194.7M169.5 356.21H194.7M169.5 360.20H194.7M169.5 379.16H194.7M169.5 441.01H194.7M201.6 268.43H208.5M201.6 272.42H208.5M201.6 277.40H208.5M201.6 296.36H208.5M201.6 320.30H208.5M201.6 322.29H208.5M201.6 342.25H208.5M201.6 370.18H208.5M201.6 373.17H208.5M201.6 382.15H208.5M201.6 383.15H208.5M208.5 256.46H213.2M208.5 280.40H213.2M208.5 285.38H213.2M208.5 291.37H213.2M208.5 317.31H213.2M208.5 331.27H213.2M208.5 341.25H213.2M208.5 343.24H213.2M208.5 351.22H213.2M208.5 420.06H213.2" stroke="#2d1230" stroke-width="0.998" shape-rendering="crispEdges"/>
<path d="M12 287.38H49.4M12 307.33H49.4M12 308.33H49.4M12 325.29H49.4M12 332.27H49.4M12 365.19H49.4M12 407.09H49.4M12 434.02H49.4M49.4 304.34H80.2M49.4 309.33H80.2M49.4 343.24H80.2M49.4 360.20H80.2M49.4 406.09H80.2M49.4 414.07H80.2M49.4 435.02H80.2M80.2 241.49H106.5M80.2 275.41H106.5M80.2 331.27H106.5M80.2 364.19H106.5M80.2 394.12H106.5M80.2 418.06H106.5M80.2 419.06H106.5M80.2 433.03H106.5M80.2 442.00H106.5M106.5 245.48H132.5M106.5 265.43H132.5M106.5 279.40H132.5M106.5 288.38H132.5M106.5 289.38H132.5M106.5 290.37H132.5M106.5 314.31H132.5M106.5 318.30H132.5M106.5 320.30H132.5M106.5 375.17H132.5M106.5 388.13H132.5M106.5 389.13H132.5M106.5 398.11H132.5M106.5 407.09H132.5M106.5 410.08H132.5M106.5 419.06H132.5M132.5 239.50H154.3M132.5 243.49H154.3M132.5 244.48H154.3M132.5 245.48H154.3M132.5 258.45H154.3M132.5 271.42H154.3M132.5 273.41H154.3M132.5 276.41H154.3M132.5 310.32H154.3M132.5 312.32H154.3M132.5 319.30H154.3M132.5 341.25H154.3M132.5 372.17H154.3M132.5 388.13H154.3M132.5 397.11H154.3M132.5 435.02H154.3M132.5 439.01H154.3M154.3 263.44H169.5M154.3 273.41H169.5M154.3 303.34H169.5M154.3 331.27H169.5M154.3 338.26H169.5M154.3 342.25H169.5M154.3 440.01H169.5M169.5 252.46H194.7M169.5 280.40H194.7M169.5 283.39H194.7M169.5 295.36H194.7M169.5 296.36H194.7M169.5 298.35H194.7M169.5 301.35H194.7M169.5 330.28H194.7M169.5 336.26H194.7M169.5 343.24H194.7M169.5 347.23H194.7M169.5 375.17H194.7M169.5 407.09H194.7M169.5 429.04H194.7M169.5 438.01H194.7M169.5 442.00H194.7M194.7 266.43H201.6M194.7 430.03H201.6M201.6 241.49H208.5M201.6 333.27H208.5M201.6 338.26H208.5M201.6 364.19H208.5M201.6 375.17H208.5M201.6 414.07H208.5M201.6 418.06H208.5M201.6 420.06H208.5M201.6 421.05H208.5M208.5 255.46H213.2M208.5 260.45H213.2M208.5 266.43H213.2M208.5 278.40H213.2M208.5 294.36H213.2M208.5 305.34H213.2M208.5 308.33H213.2M208.5 342.25H213.2M208.5 370.18H213.2M208.5 371.18H213.2M208.5 372.17H213.2M208.5 398.11H213.2M208.5 404.10H213.2M208.5 407.09H213.2M208.5 418.06H213.2" stroke="#29112c" stroke-width="0.998" shape-rendering="crispEdges"/>
<path d="M12 277.40H49.4M12 279.40H49.4M12 281.39H49.4M12 284.39H49.4M12 290.37H49.4M12 317.31H49.4M12 330.28H49.4M12 341.25H49.4M12 349.23H49.4M12 356.21H49.4M12 371.18H49.4M12 372.17H49.4M12 375.17H49.4M12 377.16H49.4M12 384.14H49.4M12 387.14H49.4M12 413.07H49.4M12 436.02H49.4M12 443.00H49.4M49.4 306.33H80.2M49.4 338.26H80.2M49.4 349.23H80.2M49.4 356.21H80.2M49.4 373.17H80.2M49.4 375.17H80.2M49.4 400.11H80.2M49.4 407.09H80.2M49.4 418.06H80.2M49.4 436.02H80.2M80.2 240.49H106.5M80.2 280.40H106.5M80.2 320.30H106.5M80.2 341.25H106.5M80.2 357.21H106.5M80.2 383.15H106.5M80.2 436.02H106.5M106.5 249.47H132.5M106.5 267.43H132.5M106.5 276.41H132.5M106.5 277.40H132.5M106.5 284.39H132.5M106.5 310.32H132.5M106.5 316.31H132.5M106.5 348.23H132.5M106.5 384.14H132.5M106.5 404.10H132.5M106.5 421.05H132.5M106.5 439.01H132.5M106.5 441.01H132.5M132.5 279.40H154.3M132.5 289.38H154.3M132.5 292.37H154.3M132.5 293.37H154.3M132.5 304.34H154.3M132.5 375.17H154.3M132.5 382.15H154.3M132.5 398.11H154.3M132.5 420.06H154.3M154.3 266.43H169.5M154.3 305.34H169.5M154.3 307.33H169.5M154.3 325.29H169.5M154.3 344.24H169.5M154.3 350.23H169.5M154.3 356.21H169.5M154.3 360.20H169.5M154.3 412.08H169.5M154.3 429.04H169.5M154.3 435.02H169.5M169.5 245.48H194.7M169.5 253.46H194.7M169.5 260.45H194.7M169.5 273.41H194.7M169.5 278.40H194.7M169.5 291.37H194.7M169.5 293.37H194.7M169.5 299.35H194.7M169.5 331.27H194.7M169.5 338.26H194.7M169.5 345.24H194.7M169.5 357.21H194.7M169.5 364.19H194.7M169.5 393.12H194.7M169.5 436.02H194.7M194.7 238.50H201.6M194.7 253.46H201.6M194.7 257.45H201.6M194.7 270.42H201.6M194.7 285.38H201.6M194.7 362.20H201.6M194.7 404.10H201.6M201.6 246.48H208.5M201.6 257.45H208.5M201.6 283.39H208.5M201.6 287.38H208.5M201.6 325.29H208.5M201.6 339.25H208.5M201.6 341.25H208.5M201.6 347.23H208.5M201.6 348.23H208.5M201.6 363.20H208.5M201.6 365.19H208.5M201.6 369.18H208.5M201.6 390.13H208.5M201.6 410.08H208.5M201.6 419.06H208.5M208.5 246.48H213.2M208.5 258.45H213.2M208.5 261.44H213.2M208.5 275.41H213.2M208.5 334.27H213.2M208.5 336.26H213.2M208.5 347.23H213.2M208.5 348.23H213.2M208.5 359.21H213.2M208.5 374.17H213.2M208.5 408.09H213.2M208.5 413.07H213.2" stroke="#261028" stroke-width="0.998" shape-rendering="crispEdges"/>
<path d="M12 289.38H49.4M12 292.37H49.4M12 296.36H49.4M12 299.35H49.4M12 302.34H49.4M12 306.33H49.4M12 309.33H49.4M12 322.29H49.4M12 373.17H49.4M12 393.12H49.4M12 428.04H49.4M49.4 284.39H80.2M49.4 296.36H80.2M49.4 301.35H80.2M49.4 307.33H80.2M49.4 322.29H80.2M49.4 324.29H80.2M49.4 344.24H80.2M49.4 361.20H80.2M49.4 362.20H80.2M49.4 364.19H80.2M49.4 371.18H80.2M49.4 382.15H80.2M49.4 395.12H80.2M49.4 398.11H80.2M49.4 419.06H80.2M49.4 430.03H80.2M49.4 437.02H80.2M80.2 245.48H106.5M80.2 255.46H106.5M80.2 263.44H106.5M80.2 317.31H106.5M80.2 369.18H106.5M80.2 371.18H106.5M80.2 374.17H106.5M80.2 393.12H106.5M80.2 399.11H106.5M80.2 402.10H106.5M80.2 403.10H106.5M80.2 406.09H106.5M80.2 410.08H106.5M80.2 431.03H106.5M80.2 437.02H106.5M80.2 443.00H106.5M106.5 239.50H132.5M106.5 244.48H132.5M106.5 254.46H132.5M106.5 280.40H132.5M106.5 292.37H132.5M106.5 295.36H132.5M106.5 299.35H132.5M106.5 313.32H132.5M106.5 315.31H132.5M106.5 323.29H132.5M106.5 356.21H132.5M106.5 369.18H132.5M106.5 371.18H132.5M106.5 373.17H132.5M106.5 374.17H132.5M106.5 394.12H132.5M106.5 417.06H132.5M106.5 420.06H132.5M106.5 436.02H132.5M106.5 442.00H132.5M132.5 248.47H154.3M132.5 249.47H154.3M132.5 265.43H154.3M132.5 284.39H154.3M132.5 287.38H154.3M132.5 295.36H154.3M132.5 315.31H154.3M132.5 322.29H154.3M132.5 324.29H154.3M132.5 328.28H154.3M132.5 330.28H154.3M132.5 332.27H154.3M132.5 343.24H154.3M132.5 406.09H154.3M132.5 431.03H154.3M132.5 438.01H154.3M154.3 240.49H169.5M154.3 255.46H169.5M154.3 288.38H169.5M154.3 290.37H169.5M154.3 292.37H169.5M154.3 304.34H169.5M154.3 315.31H169.5M154.3 328.28H169.5M154.3 336.26H169.5M154.3 340.25H169.5M154.3 348.23H169.5M154.3 439.01H169.5M169.5 241.49H194.7M169.5 244.48H194.7M169.5 258.45H194.7M169.5 261.44H194.7M169.5 265.43H194.7M169.5 267.43H194.7M169.5 269.42H194.7M169.5 284.39H194.7M169.5 287.38H194.7M169.5 355.21H194.7M169.5 369.18H194.7M169.5 387.14H194.7M169.5 412.08H194.7M169.5 431.03H194.7M169.5 437.02H194.7M169.5 440.01H194.7M169.5 443.00H194.7M194.7 242.49H201.6M194.7 255.46H201.6M194.7 278.40H201.6M194.7 297.36H201.6M194.7 330.28H201.6M194.7 331.27H201.6M194.7 347.23H201.6M194.7 371.18H201.6M194.7 373.17H201.6M194.7 399.11H201.6M194.7 403.10H201.6M194.7 407.09H201.6M194.7 410.08H201.6M194.7 413.07H201.6M201.6 271.42H208.5M201.6 291.37H208.5M201.6 297.36H208.5M201.6 317.31H208.5M201.6 328.28H208.5M201.6 331.27H208.5M201.6 336.26H208.5M201.6 355.21H208.5M208.5 241.49H213.2M208.5 257.45H213.2M208.5 279.40H213.2M208.5 293.37H213.2M208.5 302.34H213.2M208.5 310.32H213.2M208.5 330.28H213.2M208.5 369.18H213.2" stroke="#230f23" stroke-width="0.998" shape-rendering="crispEdges"/>
<path d="M12 238.50H49.4M12 283.39H49.4M12 285.38H49.4M12 288.38H49.4M12 301.35H49.4M12 329.28H49.4M12 331.27H49.4M12 333.27H49.4M12 344.24H49.4M12 347.23H49.4M12 348.23H49.4M12 376.16H49.4M12 383.15H49.4M12 403.10H49.4M12 426.04H49.4M49.4 302.34H80.2M49.4 315.31H80.2M49.4 323.29H80.2M49.4 328.28H80.2M49.4 336.26H80.2M49.4 347.23H80.2M49.4 359.21H80.2M49.4 377.16H80.2M49.4 390.13H80.2M49.4 393.12H80.2M49.4 399.11H80.2M49.4 408.09H80.2M49.4 413.07H80.2M49.4 415.07H80.2M49.4 425.04H80.2M49.4 429.04H80.2M80.2 269.42H106.5M80.2 278.40H106.5M80.2 319.30H106.5M80.2 329.28H106.5M80.2 332.27H106.5M80.2 336.26H106.5M80.2 347.23H106.5M80.2 368.18H106.5M80.2 376.16H106.5M80.2 415.07H106.5M80.2 435.02H106.5M106.5 243.49H132.5M106.5 261.44H132.5M106.5 262.44H132.5M106.5 263.44H132.5M106.5 271.42H132.5M106.5 296.36H132.5M106.5 349.23H132.5M106.5 355.21H132.5M106.5 372.17H132.5M106.5 385.14H132.5M106.5 387.14H132.5M106.5 391.13H132.5M106.5 396.12H132.5M106.5 438.01H132.5M132.5 240.49H154.3M132.5 263.44H154.3M132.5 290.37H154.3M132.5 294.36H154.3M132.5 296.36H154.3M132.5 311.32H154.3M132.5 313.32H154.3M132.5 333.27H154.3M132.5 338.26H154.3M132.5 379.16H154.3M132.5 380.15H154.3M132.5 394.12H154.3M132.5 404.10H154.3M132.5 418.06H154.3M132.5 421.05H154.3M132.5 423.05H154.3M132.5 425.04H154.3M132.5 433.03H154.3M132.5 441.01H154.3M132.5 443.00H154.3M154.3 239.50H169.5M154.3 243.49H169.5M154.3 248.47H169.5M154.3 252.46H169.5M154.3 254.46H169.5M154.3 257.45H169.5M154.3 267.43H169.5M154.3 274.41H169.5M154.3 289.38H169.5M154.3 302.34H169.5M154.3 306.33H169.5M154.3 309.33H169.5M154.3 312.32H169.5M154.3 349.23H169.5M154.3 354.22H169.5M154.3 359.21H169.5M154.3 402.10H169.5M154.3 431.03H169.5M154.3 434.02H169.5M154.3 443.00H169.5M169.5 250.47H194.7M169.5 263.44H194.7M169.5 329.28H194.7M169.5 344.24H194.7M169.5 348.23H194.7M169.5 352.22H194.7M169.5 365.19H194.7M169.5 376.16H194.7M169.5 378.16H194.7M169.5 383.15H194.7M169.5 390.13H194.7M169.5 391.13H194.7M169.5 413.07H194.7M194.7 241.49H201.6M194.7 246.48H201.6M194.7 261.44H201.6M194.7 268.43H201.6M194.7 272.42H201.6M194.7 281.39H201.6M194.7 282.39H201.6M194.7 332.27H201.6M194.7 356.21H201.6M194.7 359.21H201.6M194.7 365.19H201.6M194.7 375.17H201.6M194.7 379.16H201.6M194.7 387.14H201.6M194.7 391.13H201.6M194.7 400.11H201.6M194.7 437.02H201.6M194.7 439.01H201.6M201.6 242.49H208.5M201.6 258.45H208.5M201.6 265.43H208.5M201.6 270.42H208.5M201.6 301.35H208.5M201.6 304.34H208.5M201.6 305.34H208.5M201.6 337.26H208.5M201.6 359.21H208.5M201.6 362.20H208.5M201.6 374.17H208.5M201.6 388.13H208.5M201.6 389.13H208.5M201.6 426.04H208.5M201.6 430.03H208.5M208.5 239.50H213.2M208.5 240.49H213.2M208.5 248.47H213.2M208.5 250.47H213.2M208.5 252.46H213.2M208.5 262.44H213.2M208.5 267.43H213.2M208.5 271.42H213.2M208.5 304.34H213.2M208.5 315.31H213.2M208.5 316.31H213.2M208.5 328.28H213.2M208.5 333.27H213.2M208.5 335.26H213.2M208.5 355.21H213.2M208.5 356.21H213.2M208.5 362.20H213.2M208.5 373.17H213.2M208.5 376.16H213.2M208.5 377.16H213.2M208.5 393.12H213.2M208.5 400.11H213.2M208.5 414.07H213.2M208.5 417.06H213.2M208.5 426.04H213.2M208.5 427.04H213.2M208.5 428.04H213.2" stroke="#1f0e1f" stroke-width="0.998" shape-rendering="crispEdges"/>
<path d="M12 278.40H49.4M12 293.37H49.4M12 298.35H49.4M12 310.32H49.4M12 312.32H49.4M12 313.32H49.4M12 316.31H49.4M12 319.30H49.4M12 345.24H49.4M12 382.15H49.4M12 388.13H49.4M12 390.13H49.4M12 399.11H49.4M12 408.09H49.4M12 425.04H49.4M49.4 246.48H80.2M49.4 299.35H80.2M49.4 303.34H80.2M49.4 311.32H80.2M49.4 332.27H80.2M49.4 348.23H80.2M49.4 366.19H80.2M49.4 378.16H80.2M49.4 394.12H80.2M49.4 397.11H80.2M49.4 427.04H80.2M49.4 438.01H80.2M49.4 439.01H80.2M49.4 442.00H80.2M49.4 443.00H80.2M80.2 253.46H106.5M80.2 266.43H106.5M80.2 272.42H106.5M80.2 321.30H106.5M80.2 322.29H106.5M80.2 334.27H106.5M80.2 355.21H106.5M80.2 356.21H106.5M80.2 391.13H106.5M80.2 416.07H106.5M80.2 428.04H106.5M106.5 240.49H132.5M106.5 248.47H132.5M106.5 258.45H132.5M106.5 300.35H132.5M106.5 311.32H132.5M106.5 312.32H132.5M106.5 324.29H132.5M106.5 382.15H132.5M106.5 390.13H132.5M106.5 393.12H132.5M106.5 399.11H132.5M106.5 402.10H132.5M106.5 416.07H132.5M106.5 418.06H132.5M106.5 423.05H132.5M106.5 432.03H132.5M132.5 286.38H154.3M132.5 305.34H154.3M132.5 314.31H154.3M132.5 317.31H154.3M132.5 318.30H154.3M132.5 329.28H154.3M132.5 334.27H154.3M132.5 340.25H154.3M132.5 387.14H154.3M132.5 390.13H154.3M132.5 391.13H154.3M132.5 408.09H154.3M132.5 415.07H154.3M132.5 416.07H154.3M132.5 428.04H154.3M132.5 437.02H154.3M132.5 442.00H154.3M154.3 245.48H169.5M154.3 283.39H169.5M154.3 293.37H169.5M154.3 294.36H169.5M154.3 296.36H169.5M154.3 299.35H169.5M154.3 316.31H169.5M154.3 332.27H169.5M154.3 339.25H169.5M154.3 347.23H169.5M154.3 352.22H169.5M154.3 357.21H169.5M154.3 362.20H169.5M154.3 365.19H169.5M154.3 424.05H169.5M154.3 428.04H169.5M169.5 254.46H194.7M169.5 340.25H194.7M169.5 341.25H194.7M169.5 354.22H194.7M169.5 362.20H194.7M169.5 367.19H194.7M169.5 398.11H194.7M169.5 411.08H194.7M169.5 433.03H194.7M169.5 435.02H194.7M169.5 439.01H194.7M194.7 243.49H201.6M194.7 258.45H201.6M194.7 260.45H201.6M194.7 275.41H201.6M194.7 288.38H201.6M194.7 296.36H201.6M194.7 328.28H201.6M194.7 336.26H201.6M194.7 344.24H201.6M194.7 346.24H201.6M194.7 348.23H201.6M194.7 352.22H201.6M194.7 357.21H201.6M194.7 360.20H201.6M194.7 383.15H201.6M194.7 388.13H201.6M194.7 406.09H201.6M194.7 436.02H201.6M194.7 438.01H201.6M201.6 252.46H208.5M201.6 253.46H208.5M201.6 261.44H208.5M201.6 279.40H208.5M201.6 281.39H208.5M201.6 285.38H208.5M201.6 289.38H208.5M201.6 298.35H208.5M201.6 307.33H208.5M201.6 309.33H208.5M201.6 324.29H208.5M201.6 330.28H208.5M201.6 344.24H208.5M201.6 376.16H208.5M201.6 378.16H208.5M201.6 379.16H208.5M201.6 381.15H208.5M201.6 411.08H208.5M201.6 412.08H208.5M201.6 443.00H208.5M208.5 259.45H213.2M208.5 264.44H213.2M208.5 270.42H213.2M208.5 282.39H213.2M208.5 289.38H213.2M208.5 306.33H213.2M208.5 338.26H213.2M208.5 344.24H213.2M208.5 360.20H213.2M208.5 364.19H213.2M208.5 379.16H213.2M208.5 386.14H213.2M208.5 406.09H213.2M208.5 409.08H213.2M208.5 411.08H213.2M208.5 421.05H213.2" stroke="#1c0d1b" stroke-width="0.998" shape-rendering="crispEdges"/>
<path d="M12 282.39H49.4M12 304.34H49.4M12 324.29H49.4M12 352.22H49.4M12 354.22H49.4M12 359.21H49.4M12 362.20H49.4M12 369.18H49.4M12 378.16H49.4M12 385.14H49.4M12 391.13H49.4M12 396.12H49.4M12 397.11H49.4M12 402.10H49.4M12 410.08H49.4M12 416.07H49.4M12 435.02H49.4M12 438.01H49.4M49.4 240.49H80.2M49.4 251.47H80.2M49.4 305.34H80.2M49.4 310.32H80.2M49.4 314.31H80.2M49.4 333.27H80.2M49.4 341.25H80.2M49.4 350.23H80.2M49.4 357.21H80.2M49.4 374.17H80.2M49.4 391.13H80.2M49.4 410.08H80.2M49.4 416.07H80.2M49.4 417.06H80.2M49.4 428.04H80.2M49.4 431.03H80.2M80.2 239.50H106.5M80.2 259.45H106.5M80.2 265.43H106.5M80.2 312.32H106.5M80.2 314.31H106.5M80.2 324.29H106.5M80.2 328.28H106.5M80.2 345.24H106.5M80.2 346.24H106.5M80.2 348.23H106.5M80.2 377.16H106.5M80.2 404.10H106.5M80.2 411.08H106.5M106.5 250.47H132.5M106.5 264.44H132.5M106.5 293.37H132.5M106.5 303.34H132.5M106.5 326.29H132.5M106.5 353.22H132.5M106.5 368.18H132.5M106.5 376.16H132.5M106.5 380.15H132.5M106.5 392.12H132.5M106.5 397.11H132.5M106.5 408.09H132.5M106.5 426.04H132.5M106.5 428.04H132.5M132.5 267.43H154.3M132.5 323.29H154.3M132.5 326.29H154.3M132.5 336.26H154.3M132.5 345.24H154.3M132.5 371.18H154.3M132.5 432.03H154.3M132.5 436.02H154.3M154.3 244.48H169.5M154.3 253.46H169.5M154.3 270.42H169.5M154.3 295.36H169.5M154.3 318.30H169.5M154.3 319.30H169.5M154.3 324.29H169.5M154.3 327.28H169.5M154.3 335.26H169.5M154.3 337.26H169.5M154.3 345.24H169.5M154.3 366.19H169.5M154.3 367.19H169.5M154.3 368.18H169.5M154.3 413.07H169.5M154.3 415.07H169.5M169.5 286.38H194.7M169.5 288.38H194.7M169.5 294.36H194.7M169.5 300.35H194.7M169.5 302.34H194.7M169.5 326.29H194.7M169.5 333.27H194.7M169.5 349.23H194.7M169.5 371.18H194.7M169.5 373.17H194.7M169.5 382.15H194.7M169.5 388.13H194.7M169.5 404.10H194.7M169.5 410.08H194.7M169.5 434.02H194.7M194.7 247.48H201.6M194.7 251.47H201.6M194.7 279.40H201.6M194.7 280.40H201.6M194.7 292.37H201.6M194.7 325.29H201.6M194.7 329.28H201.6M194.7 341.25H201.6M194.7 369.18H201.6M194.7 377.16H201.6M194.7 378.16H201.6M201.6 259.45H208.5M201.6 275.41H208.5M201.6 280.40H208.5M201.6 288.38H208.5M201.6 315.31H208.5M201.6 323.29H208.5M201.6 332.27H208.5M201.6 335.26H208.5M201.6 360.20H208.5M201.6 366.19H208.5M201.6 377.16H208.5M201.6 380.15H208.5M201.6 385.14H208.5M201.6 387.14H208.5M201.6 415.07H208.5M208.5 238.50H213.2M208.5 247.48H213.2M208.5 249.47H213.2M208.5 265.43H213.2M208.5 276.41H213.2M208.5 283.39H213.2M208.5 287.38H213.2M208.5 292.37H213.2M208.5 350.23H213.2M208.5 357.21H213.2M208.5 368.18H213.2M208.5 375.17H213.2M208.5 378.16H213.2M208.5 387.14H213.2" stroke="#190c17" stroke-width="0.998" shape-rendering="crispEdges"/>
<path d="M12 315.31H49.4M12 338.26H49.4M12 340.25H49.4M12 350.23H49.4M12 366.19H49.4M12 415.07H49.4M12 421.05H49.4M12 422.05H49.4M12 431.03H49.4M12 442.00H49.4M49.4 254.46H80.2M49.4 281.39H80.2M49.4 290.37H80.2M49.4 295.36H80.2M49.4 313.32H80.2M49.4 327.28H80.2M49.4 339.25H80.2M49.4 376.16H80.2M49.4 396.12H80.2M49.4 422.05H80.2M80.2 243.49H106.5M80.2 244.48H106.5M80.2 270.42H106.5M80.2 281.39H106.5M80.2 303.34H106.5M80.2 306.33H106.5M80.2 323.29H106.5M80.2 335.26H106.5M80.2 344.24H106.5M80.2 349.23H106.5M80.2 353.22H106.5M80.2 360.20H106.5M80.2 362.20H106.5M106.5 298.35H132.5M106.5 352.22H132.5M106.5 354.22H132.5M106.5 360.20H132.5M106.5 367.19H132.5M106.5 378.16H132.5M106.5 379.16H132.5M106.5 383.15H132.5M106.5 403.10H132.5M106.5 412.08H132.5M106.5 422.05H132.5M106.5 425.04H132.5M106.5 435.02H132.5M106.5 437.02H132.5M106.5 443.00H132.5M132.5 251.47H154.3M132.5 254.46H154.3M132.5 300.35H154.3M132.5 335.26H154.3M132.5 339.25H154.3M132.5 344.24H154.3M132.5 377.16H154.3M132.5 386.14H154.3M132.5 393.12H154.3M132.5 402.10H154.3M132.5 422.05H154.3M154.3 249.47H169.5M154.3 256.46H169.5M154.3 276.41H169.5M154.3 284.39H169.5M154.3 286.38H169.5M154.3 298.35H169.5M154.3 311.32H169.5M154.3 313.32H169.5M154.3 320.30H169.5M154.3 330.28H169.5M154.3 361.20H169.5M154.3 392.12H169.5M154.3 438.01H169.5M154.3 442.00H169.5M169.5 239.50H194.7M169.5 251.47H194.7M169.5 264.44H194.7M169.5 290.37H194.7M169.5 292.37H194.7M169.5 335.26H194.7M169.5 337.26H194.7M169.5 339.25H194.7M169.5 366.19H194.7M169.5 368.18H194.7M169.5 374.17H194.7M169.5 385.14H194.7M169.5 402.10H194.7M194.7 248.47H201.6M194.7 249.47H201.6M194.7 262.44H201.6M194.7 265.43H201.6M194.7 287.38H201.6M194.7 295.36H201.6M194.7 303.34H201.6M194.7 334.27H201.6M194.7 345.24H201.6M194.7 355.21H201.6M194.7 372.17H201.6M194.7 381.15H201.6M194.7 397.11H201.6M194.7 408.09H201.6M194.7 431.03H201.6M194.7 434.02H201.6M194.7 442.00H201.6M201.6 239.50H208.5M201.6 244.48H208.5M201.6 249.47H208.5M201.6 260.45H208.5M201.6 264.44H208.5M201.6 269.42H208.5M201.6 284.39H208.5M201.6 293.37H208.5M201.6 294.36H208.5M201.6 299.35H208.5M201.6 302.34H208.5M201.6 312.32H208.5M208.5 244.48H213.2M208.5 273.41H213.2M208.5 281.39H213.2M208.5 290.37H213.2M208.5 296.36H213.2M208.5 299.35H213.2M208.5 309.33H213.2M208.5 313.32H213.2M208.5 314.31H213.2M208.5 319.30H213.2M208.5 322.29H213.2M208.5 329.28H213.2M208.5 340.25H213.2M208.5 353.22H213.2M208.5 380.15H213.2M208.5 382.15H213.2M208.5 388.13H213.2M208.5 390.13H213.2M208.5 394.12H213.2M208.5 425.04H213.2" stroke="#150b13" stroke-width="0.998" shape-rendering="crispEdges"/>
<path d="M12 286.38H49.4M12 303.34H49.4M12 323.29H49.4M12 327.28H49.4M12 328.28H49.4M12 360.20H49.4M12 374.17H49.4M12 379.16H49.4M12 380.15H49.4M12 386.14H49.4M12 411.08H49.4M49.4 280.40H80.2M49.4 282.39H80.2M49.4 291.37H80.2M49.4 294.36H80.2M49.4 297.36H80.2M49.4 298.35H80.2M49.4 334.27H80.2M49.4 337.26H80.2M49.4 353.22H80.2M49.4 354.22H80.2M49.4 380.15H80.2M49.4 403.10H80.2M49.4 404.10H80.2M49.4 412.08H80.2M49.4 423.05H80.2M49.4 432.03H80.2M49.4 433.03H80.2M80.2 304.34H106.5M80.2 307.33H106.5M80.2 313.32H106.5M80.2 337.26H106.5M80.2 352.22H106.5M80.2 359.21H106.5M80.2 366.19H106.5M80.2 375.17H106.5M80.2 378.16H106.5M80.2 390.13H106.5M80.2 396.12H106.5M80.2 408.09H106.5M80.2 412.08H106.5M80.2 422.05H106.5M80.2 432.03H106.5M106.5 281.39H132.5M106.5 357.21H132.5M106.5 377.16H132.5M106.5 381.15H132.5M106.5 415.07H132.5M106.5 424.05H132.5M106.5 434.02H132.5M132.5 264.44H154.3M132.5 321.30H154.3M132.5 327.28H154.3M132.5 376.16H154.3M132.5 381.15H154.3M132.5 396.12H154.3M154.3 250.47H169.5M154.3 258.45H169.5M154.3 264.44H169.5M154.3 272.42H169.5M154.3 300.35H169.5M154.3 310.32H169.5M154.3 333.27H169.5M154.3 393.12H169.5M154.3 400.11H169.5M154.3 401.10H169.5M154.3 407.09H169.5M154.3 417.06H169.5M154.3 418.06H169.5M154.3 419.06H169.5M169.5 279.40H194.7M169.5 281.39H194.7M169.5 327.28H194.7M169.5 332.27H194.7M169.5 359.21H194.7M169.5 361.20H194.7M169.5 381.15H194.7M169.5 386.14H194.7M194.7 244.48H201.6M194.7 245.48H201.6M194.7 256.46H201.6M194.7 264.44H201.6M194.7 269.42H201.6M194.7 284.39H201.6M194.7 291.37H201.6M194.7 302.34H201.6M194.7 327.28H201.6M194.7 335.26H201.6M194.7 339.25H201.6M194.7 340.25H201.6M194.7 361.20H201.6M194.7 364.19H201.6M194.7 366.19H201.6M194.7 380.15H201.6M194.7 433.03H201.6M201.6 262.44H208.5M201.6 263.44H208.5M201.6 267.43H208.5M201.6 273.41H208.5M201.6 314.31H208.5M201.6 316.31H208.5M201.6 329.28H208.5M201.6 340.25H208.5M201.6 367.19H208.5M201.6 386.14H208.5M201.6 425.04H208.5M208.5 253.46H213.2M208.5 269.42H213.2M208.5 286.38H213.2M208.5 297.36H213.2M208.5 303.34H213.2M208.5 311.32H213.2M208.5 339.25H213.2M208.5 354.22H213.2M208.5 366.19H213.2M208.5 391.13H213.2M208.5 397.11H213.2M208.5 415.07H213.2M208.5 416.07H213.2M208.5 422.05H213.2" stroke="#170f11" stroke-width="0.998" shape-rendering="crispEdges"/>
<path d="M12 311.32H49.4M12 318.30H49.4M12 346.24H49.4M12 381.15H49.4M12 404.10H49.4M49.4 253.46H80.2M49.4 300.35H80.2M49.4 316.31H80.2M49.4 345.24H80.2M49.4 352.22H80.2M49.4 369.18H80.2M49.4 379.16H80.2M49.4 381.15H80.2M49.4 385.14H80.2M49.4 392.12H80.2M80.2 256.46H106.5M80.2 267.43H106.5M80.2 273.41H106.5M80.2 315.31H106.5M80.2 318.30H106.5M80.2 326.29H106.5M80.2 327.28H106.5M80.2 339.25H106.5M80.2 354.22H106.5M80.2 358.21H106.5M80.2 363.20H106.5M80.2 379.16H106.5M80.2 380.15H106.5M80.2 392.12H106.5M80.2 421.05H106.5M106.5 251.47H132.5M106.5 321.30H132.5M106.5 411.08H132.5M106.5 431.03H132.5M106.5 433.03H132.5M132.5 274.41H154.3M132.5 337.26H154.3M132.5 399.11H154.3M132.5 403.10H154.3M154.3 260.45H169.5M154.3 278.40H169.5M154.3 281.39H169.5M154.3 323.29H169.5M154.3 329.28H169.5M154.3 334.27H169.5M154.3 363.20H169.5M154.3 404.10H169.5M154.3 410.08H169.5M154.3 422.05H169.5M154.3 433.03H169.5M154.3 437.02H169.5M169.5 372.17H194.7M169.5 377.16H194.7M169.5 380.15H194.7M169.5 409.08H194.7M194.7 239.50H201.6M194.7 263.44H201.6M194.7 271.42H201.6M194.7 293.37H201.6M194.7 298.35H201.6M194.7 301.35H201.6M194.7 349.23H201.6M194.7 367.19H201.6M194.7 390.13H201.6M194.7 412.08H201.6M194.7 432.03H201.6M201.6 245.48H208.5M201.6 248.47H208.5M201.6 255.46H208.5M201.6 278.40H208.5M201.6 306.33H208.5M201.6 310.32H208.5M201.6 311.32H208.5M201.6 313.32H208.5M201.6 356.21H208.5M201.6 368.18H208.5M201.6 423.05H208.5M201.6 435.02H208.5M208.5 245.48H213.2M208.5 288.38H213.2M208.5 312.32H213.2M208.5 318.30H213.2M208.5 345.24H213.2M208.5 346.24H213.2M208.5 396.12H213.2M208.5 403.10H213.2M208.5 424.05H213.2" stroke="#1f1711" stroke-width="0.998" shape-rendering="crispEdges"/>
<path d="M12 314.31H49.4M12 334.27H49.4M12 335.26H49.4M12 337.26H49.4M12 339.25H49.4M12 358.21H49.4M12 367.19H49.4M12 368.18H49.4M12 412.08H49.4M12 432.03H49.4M49.4 242.49H80.2M49.4 245.48H80.2M49.4 255.46H80.2M49.4 259.45H80.2M49.4 286.38H80.2M49.4 317.31H80.2M49.4 318.30H80.2M49.4 330.28H80.2M49.4 335.26H80.2M49.4 346.24H80.2M49.4 367.19H80.2M49.4 402.10H80.2M49.4 411.08H80.2M80.2 246.48H106.5M80.2 251.47H106.5M80.2 388.13H106.5M80.2 434.02H106.5M106.5 358.21H132.5M106.5 359.21H132.5M132.5 374.17H154.3M132.5 424.05H154.3M154.3 251.47H169.5M154.3 259.45H169.5M154.3 262.44H169.5M154.3 271.42H169.5M154.3 275.41H169.5M154.3 317.31H169.5M154.3 326.29H169.5M154.3 358.21H169.5M154.3 399.11H169.5M154.3 409.08H169.5M154.3 421.05H169.5M154.3 432.03H169.5M169.5 249.47H194.7M169.5 262.44H194.7M169.5 334.27H194.7M169.5 358.21H194.7M169.5 363.20H194.7M169.5 392.12H194.7M194.7 267.43H201.6M194.7 273.41H201.6M194.7 289.38H201.6M194.7 290.37H201.6M194.7 353.22H201.6M194.7 354.22H201.6M194.7 368.18H201.6M194.7 374.17H201.6M194.7 396.12H201.6M194.7 402.10H201.6M194.7 411.08H201.6M194.7 435.02H201.6M201.6 240.49H208.5M201.6 276.41H208.5M201.6 290.37H208.5M201.6 295.36H208.5M201.6 303.34H208.5M201.6 319.30H208.5M201.6 349.23H208.5M201.6 352.22H208.5M201.6 353.22H208.5M201.6 357.21H208.5M201.6 422.05H208.5M201.6 424.05H208.5M208.5 298.35H213.2M208.5 321.30H213.2M208.5 323.29H213.2M208.5 324.29H213.2M208.5 326.29H213.2M208.5 349.23H213.2M208.5 363.20H213.2M208.5 383.15H213.2M208.5 399.11H213.2M208.5 423.05H213.2" stroke="#261f12" stroke-width="0.998" shape-rendering="crispEdges"/>
<path d="M12 353.22H49.4M12 357.21H49.4M12 361.20H49.4M12 419.06H49.4M12 424.05H49.4M12 433.03H49.4M12 437.02H49.4M49.4 252.46H80.2M49.4 261.44H80.2M49.4 287.38H80.2M49.4 321.30H80.2M49.4 326.29H80.2M49.4 368.18H80.2M80.2 248.47H106.5M80.2 254.46H106.5M80.2 276.41H106.5M80.2 381.15H106.5M80.2 397.11H106.5M106.5 274.41H132.5M106.5 286.38H132.5M106.5 363.20H132.5M106.5 366.19H132.5M106.5 386.14H132.5M132.5 346.24H154.3M132.5 385.14H154.3M132.5 411.08H154.3M132.5 412.08H154.3M154.3 280.40H169.5M154.3 416.07H169.5M169.5 346.24H194.7M169.5 397.11H194.7M169.5 400.11H194.7M169.5 432.03H194.7M194.7 250.47H201.6M194.7 252.46H201.6M194.7 363.20H201.6M194.7 386.14H201.6M201.6 243.49H208.5M201.6 286.38H208.5M201.6 318.30H208.5M201.6 321.30H208.5M201.6 326.29H208.5M201.6 354.22H208.5M201.6 436.02H208.5M208.5 243.49H213.2M208.5 251.47H213.2M208.5 254.46H213.2M208.5 263.44H213.2M208.5 295.36H213.2M208.5 300.35H213.2M208.5 381.15H213.2M208.5 392.12H213.2M208.5 412.08H213.2" stroke="#2e2813" stroke-width="0.998" shape-rendering="crispEdges"/>
<path d="M12 363.20H49.4M49.4 247.48H80.2M49.4 248.47H80.2M49.4 283.39H80.2M49.4 293.37H80.2M49.4 340.25H80.2M49.4 386.14H80.2M49.4 387.14H80.2M49.4 424.05H80.2M80.2 257.45H106.5M80.2 277.40H106.5M80.2 305.34H106.5M80.2 340.25H106.5M80.2 361.20H106.5M80.2 401.10H106.5M106.5 406.09H132.5M154.3 247.48H169.5M154.3 282.39H169.5M154.3 353.22H169.5M154.3 403.10H169.5M169.5 396.12H194.7M169.5 406.09H194.7M194.7 259.45H201.6M194.7 276.41H201.6M194.7 393.12H201.6M201.6 250.47H208.5M201.6 251.47H208.5M201.6 292.37H208.5M201.6 345.24H208.5M201.6 346.24H208.5M208.5 337.26H213.2M208.5 352.22H213.2M208.5 385.14H213.2" stroke="#353013" stroke-width="0.998" shape-rendering="crispEdges"/>
<path d="M12 294.36H49.4M12 295.36H49.4M12 321.30H49.4M12 406.09H49.4M49.4 256.46H80.2M49.4 277.40H80.2M49.4 312.32H80.2M49.4 329.28H80.2M49.4 358.21H80.2M49.4 363.20H80.2M49.4 401.10H80.2M49.4 434.02H80.2M80.2 260.45H106.5M80.2 268.43H106.5M80.2 316.31H106.5M80.2 389.13H106.5M106.5 401.10H132.5M154.3 265.43H169.5M154.3 346.24H169.5M154.3 396.12H169.5M154.3 398.11H169.5M154.3 405.09H169.5M154.3 423.05H169.5M169.5 353.22H194.7M169.5 395.12H194.7M169.5 403.10H194.7M194.7 254.46H201.6M194.7 294.36H201.6M194.7 337.26H201.6M194.7 376.16H201.6M194.7 392.12H201.6M201.6 274.41H208.5M201.6 300.35H208.5M201.6 358.21H208.5M201.6 361.20H208.5M208.5 358.21H213.2M208.5 361.20H213.2M208.5 367.19H213.2M208.5 402.10H213.2" stroke="#3d3814" stroke-width="0.998" shape-rendering="crispEdges"/>
<path d="M12 300.35H49.4M12 326.29H49.4M12 392.12H49.4M49.4 249.47H80.2M49.4 278.40H80.2M49.4 292.37H80.2M80.2 249.47H106.5M80.2 252.46H106.5M80.2 311.32H106.5M80.2 367.19H106.5M80.2 423.05H106.5M132.5 392.12H154.3M132.5 401.10H154.3M154.3 321.30H169.5M169.5 399.11H194.7M194.7 240.49H201.6M194.7 299.35H201.6M194.7 326.29H201.6M194.7 385.14H201.6M194.7 401.10H201.6M201.6 254.46H208.5M201.6 334.27H208.5M201.6 437.02H208.5M208.5 274.41H213.2M208.5 327.28H213.2" stroke="#444115" stroke-width="0.998" shape-rendering="crispEdges"/>
<path d="M12 266.43H49.4M49.4 239.50H80.2M49.4 244.48H80.2M49.4 279.40H80.2M80.2 262.44H106.5M80.2 274.41H106.5M80.2 308.33H106.5M80.2 309.33H106.5M132.5 434.02H154.3M154.3 411.08H169.5M154.3 425.04H169.5M154.3 426.04H169.5M154.3 427.04H169.5M201.6 429.04H208.5M201.6 433.03H208.5M201.6 442.00H208.5" stroke="#4c4915" stroke-width="0.998" shape-rendering="crispEdges"/>
<path d="M12 423.05H49.4M49.4 258.45H80.2M49.4 289.38H80.2M80.2 310.32H106.5M80.2 386.14H106.5M106.5 364.19H132.5M154.3 420.06H169.5M169.5 274.41H194.7M194.7 300.35H201.6M194.7 358.21H201.6M201.6 327.28H208.5M201.6 428.04H208.5M201.6 440.01H208.5M208.5 401.10H213.2" stroke="#535116" stroke-width="0.998" shape-rendering="crispEdges"/>
<path d="M12 401.10H49.4M49.4 265.43H80.2M49.4 285.38H80.2M49.4 288.38H80.2M80.2 258.45H106.5M80.2 261.44H106.5M154.3 397.11H169.5M194.7 274.41H201.6" stroke="#5b5a17" stroke-width="0.998" shape-rendering="crispEdges"/>
<path d="M12 258.45H49.4M12 272.42H49.4M12 273.41H49.4M12 420.06H49.4M49.4 262.44H80.2M49.4 267.43H80.2M49.4 276.41H80.2M106.5 361.20H132.5M154.3 268.43H169.5M154.3 406.09H169.5M169.5 401.10H194.7M169.5 408.09H194.7M194.7 286.38H201.6M201.6 427.04H208.5M201.6 439.01H208.5" stroke="#626217" stroke-width="0.998" shape-rendering="crispEdges"/>
<path d="M12 264.44H49.4M12 265.43H49.4M12 418.06H49.4M49.4 243.49H80.2M49.4 389.13H80.2M80.2 425.04H106.5M154.3 408.09H169.5M201.6 431.03H208.5" stroke="#6d6d1a" stroke-width="0.998" shape-rendering="crispEdges"/>
<path d="M12 262.44H49.4M12 267.43H49.4M12 270.42H49.4M12 276.41H49.4M49.4 263.44H80.2M49.4 272.42H80.2M49.4 273.41H80.2M49.4 275.41H80.2M80.2 264.44H106.5M80.2 387.14H106.5" stroke="#78781c" stroke-width="0.998" shape-rendering="crispEdges"/>
<path d="M12 249.47H49.4M12 275.41H49.4M49.4 241.49H80.2M49.4 257.45H80.2M49.4 264.44H80.2M49.4 266.43H80.2M49.4 269.42H80.2M49.4 274.41H80.2M80.2 420.06H106.5M201.6 432.03H208.5M201.6 434.02H208.5" stroke="#84841f" stroke-width="0.998" shape-rendering="crispEdges"/>
<path d="M12 244.48H49.4M12 260.45H49.4M12 261.44H49.4M12 263.44H49.4M12 268.43H49.4M12 269.42H49.4M49.4 270.42H80.2M80.2 250.47H106.5M201.6 441.01H208.5" stroke="#8f8f22" stroke-width="0.998" shape-rendering="crispEdges"/>
<path d="M12 248.47H49.4M106.5 362.20H132.5M132.5 350.23H154.3M169.5 322.29H194.7M194.7 324.29H201.6" stroke="#9b9b24" stroke-width="0.998" shape-rendering="crispEdges"/>
<path d="M12 271.42H49.4M12 274.41H49.4M49.4 268.43H80.2M80.2 284.39H106.5M80.2 301.35H106.5M154.3 385.14H169.5M154.3 390.13H169.5M169.5 428.04H194.7M194.7 311.32H201.6" stroke="#a6a627" stroke-width="0.998" shape-rendering="crispEdges"/>
<path d="M49.4 388.13H80.2M80.2 271.42H106.5M80.2 290.37H106.5M132.5 353.22H154.3M154.3 373.17H169.5M154.3 375.17H169.5M154.3 377.16H169.5M154.3 383.15H169.5M154.3 395.12H169.5M169.5 418.06H194.7M169.5 419.06H194.7M169.5 421.05H194.7M169.5 427.04H194.7M194.7 316.31H201.6M194.7 322.29H201.6M194.7 415.07H201.6M201.6 438.01H208.5M208.5 432.03H213.2M208.5 434.02H213.2M208.5 437.02H213.2M208.5 438.01H213.2" stroke="#b1b129" stroke-width="0.998" shape-rendering="crispEdges"/>
<path d="M12 240.49H49.4M12 245.48H49.4M12 253.46H49.4M12 259.45H49.4M80.2 289.38H106.5M80.2 292.37H106.5M106.5 343.24H132.5M106.5 345.24H132.5M132.5 352.22H154.3M132.5 356.21H154.3M132.5 362.20H154.3M132.5 367.19H154.3M154.3 374.17H169.5M154.3 380.15H169.5M154.3 386.14H169.5M154.3 387.14H169.5M169.5 307.33H194.7M169.5 315.31H194.7M169.5 320.30H194.7M169.5 425.04H194.7M194.7 323.29H201.6M194.7 427.04H201.6M201.6 400.11H208.5M208.5 429.04H213.2M208.5 436.02H213.2" stroke="#bdbd2c" stroke-width="0.998" shape-rendering="crispEdges"/>
<path d="M12 246.48H49.4M12 255.46H49.4M12 257.45H49.4M49.4 250.47H80.2M49.4 271.42H80.2M80.2 286.38H106.5M80.2 288.38H106.5M80.2 291.37H106.5M80.2 293.37H106.5M80.2 385.14H106.5M106.5 334.27H132.5M106.5 347.23H132.5M106.5 365.19H132.5M132.5 357.21H154.3M132.5 366.19H154.3M132.5 368.18H154.3M169.5 314.31H194.7M169.5 319.30H194.7M169.5 323.29H194.7M169.5 423.05H194.7M169.5 424.05H194.7M194.7 304.34H201.6M194.7 305.34H201.6M194.7 307.33H201.6M194.7 308.33H201.6M194.7 310.32H201.6M194.7 314.31H201.6M194.7 319.30H201.6M201.6 393.12H208.5M201.6 394.12H208.5M201.6 395.12H208.5M201.6 397.11H208.5M201.6 399.11H208.5M201.6 405.09H208.5M201.6 408.09H208.5M208.5 435.02H213.2M208.5 443.00H213.2" stroke="#c8c82f" stroke-width="0.998" shape-rendering="crispEdges"/>
<path d="M12 251.47H49.4M12 256.46H49.4M49.4 260.45H80.2M80.2 283.39H106.5M80.2 287.38H106.5M80.2 302.34H106.5M106.5 331.27H132.5M106.5 341.25H132.5M106.5 346.24H132.5M132.5 360.20H154.3M132.5 363.20H154.3M132.5 365.19H154.3M154.3 372.17H169.5M154.3 376.16H169.5M154.3 389.13H169.5M169.5 311.32H194.7M194.7 306.33H201.6M194.7 309.33H201.6M194.7 312.32H201.6M194.7 313.32H201.6M194.7 315.31H201.6M194.7 317.31H201.6M194.7 318.30H201.6M194.7 421.05H201.6M194.7 422.05H201.6M194.7 424.05H201.6M194.7 425.04H201.6M201.6 403.10H208.5M208.5 430.03H213.2M208.5 440.01H213.2M208.5 441.01H213.2" stroke="#d4d431" stroke-width="0.998" shape-rendering="crispEdges"/>
<path d="M12 239.50H49.4M12 250.47H49.4M80.2 285.38H106.5M80.2 296.36H106.5M80.2 297.36H106.5M80.2 299.35H106.5M80.2 300.35H106.5M106.5 330.28H132.5M106.5 337.26H132.5M106.5 340.25H132.5M106.5 344.24H132.5M132.5 354.22H154.3M132.5 364.19H154.3M154.3 379.16H169.5M154.3 382.15H169.5M154.3 388.13H169.5M154.3 391.13H169.5M169.5 309.33H194.7M169.5 324.29H194.7M169.5 416.07H194.7M169.5 417.06H194.7M169.5 420.06H194.7M194.7 320.30H201.6M194.7 428.04H201.6M201.6 398.11H208.5M201.6 406.09H208.5M201.6 409.08H208.5M208.5 439.01H213.2M208.5 442.00H213.2" stroke="#dede34" stroke-width="0.998" shape-rendering="crispEdges"/>
<path d="M12 241.49H49.4M12 243.49H49.4M12 247.48H49.4M12 252.46H49.4M80.2 295.36H106.5M106.5 329.28H132.5M106.5 333.27H132.5M106.5 338.26H132.5M132.5 351.22H154.3M132.5 358.21H154.3M132.5 359.21H154.3M132.5 361.20H154.3M169.5 304.34H194.7M169.5 305.34H194.7M169.5 313.32H194.7M169.5 415.07H194.7M169.5 422.05H194.7M194.7 423.05H201.6M201.6 396.12H208.5M201.6 402.10H208.5M201.6 404.10H208.5M208.5 431.03H213.2" stroke="#e5e538" stroke-width="0.998" shape-rendering="crispEdges"/>
<path d="M12 242.49H49.4M12 254.46H49.4M80.2 282.39H106.5M80.2 294.36H106.5M80.2 298.35H106.5M106.5 327.28H132.5M106.5 328.28H132.5M106.5 332.27H132.5M106.5 335.26H132.5M106.5 336.26H132.5M106.5 339.25H132.5M106.5 342.25H132.5M132.5 348.23H154.3M132.5 349.23H154.3M132.5 355.21H154.3M132.5 369.18H154.3M154.3 370.18H169.5M154.3 371.18H169.5M154.3 378.16H169.5M154.3 381.15H169.5M154.3 384.14H169.5M169.5 306.33H194.7M169.5 308.33H194.7M169.5 310.32H194.7M169.5 312.32H194.7M169.5 316.31H194.7M169.5 317.31H194.7M169.5 318.30H194.7M169.5 321.30H194.7M169.5 414.07H194.7M169.5 426.04H194.7M194.7 321.30H201.6M194.7 414.07H201.6M194.7 416.07H201.6M194.7 417.06H201.6M194.7 418.06H201.6M194.7 419.06H201.6M194.7 420.06H201.6M194.7 426.04H201.6M201.6 392.12H208.5M201.6 401.10H208.5M201.6 407.09H208.5M208.5 433.03H213.2" stroke="#ecec3c" stroke-width="0.998" shape-rendering="crispEdges"/>
<path d="M44.5 254.8h0.6M37.6 252h0.6M39.8 247.4h0.6M26.9 249.3h0.6M44.9 257.8h0.6M46.3 254.8h0.6M14.8 243.3h0.6M48.3 249.1h0.6M31.3 244.5h0.6M44.2 248.6h0.6M49 240h0.6M49.1 238.8h0.6M17.5 246.1h0.6M35.9 240.7h0.6M33 256.8h0.6M28.3 253.4h0.6M34.1 249.9h0.6M18.5 247.5h0.6M45.7 251.6h0.6M20.1 247.2h0.6M32.3 245.1h0.6M33.6 250.8h0.6M12.7 242.8h0.6M36.6 242.7h0.6M14.7 253.4h0.6M24.5 257.2h0.6M32.9 240.5h0.6M35.8 243.6h0.6M42.5 252.6h0.6M40.4 239.6h0.6M13.3 254.1h0.6M17.3 242.4h0.6M13.1 241.7h0.6M29.7 257.2h0.6M24 243.6h0.6M43 242.1h0.6M35.8 250.5h0.6M47 239.4h0.6M33.1 246h0.6M42.8 243.4h0.6M38.7 242.1h0.6M30.5 257.4h0.6M21 243.9h0.6M46.3 251.7h0.6M14.5 242.1h0.6M20.9 244.2h0.6M43.6 252.2h0.6M48.6 251.6h0.6M35.5 246h0.6M38.8 248.1h0.6M14.2 248.1h0.6M26.4 248.9h0.6M13.8 239h0.6M48.8 245.7h0.6M24.3 241.4h0.6M34.2 256.3h0.6M18.7 248.3h0.6M30.7 253.4h0.6M33.1 243.2h0.6M19.1 252.6h0.6M14.9 255.4h0.6M13.3 242.2h0.6M29.5 255h0.6M35.2 253h0.6M40.5 252.6h0.6M13.9 254.6h0.6M17.5 241.7h0.6M13.4 239.1h0.6M44.8 245.9h0.6M15.2 239.4h0.6M43.7 250.2h0.6M46.3 239.2h0.6M16.2 244.1h0.6M19.1 240.7h0.6M19.5 251h0.6M18.3 241.8h0.6M32 245.8h0.6M17.6 249.6h0.6M31 246.1h0.6M29.7 239.3h0.6M35 242.3h0.6M24.6 238.7h0.6M45.2 250h0.6M26.7 249.1h0.6M47.2 241.1h0.6M26.3 252.3h0.6M25.9 252.3h0.6M46 239.3h0.6M22.6 244.2h0.6M40.1 253.8h0.6M38.2 256.5h0.6M18.9 246.2h0.6M43.9 253.4h0.6M16.2 257.6h0.6M39.7 255.4h0.6M25.5 250.3h0.6M47.9 256h0.6M33.6 255.9h0.6M49.4 254.9h0.6M36.5 257.2h0.6M17.4 246.4h0.6M33.1 241.1h0.6M41.2 239.7h0.6M35.5 244h0.6M24.1 250.3h0.6M19.2 247.2h0.6M44.1 257.7h0.6M21.8 245.6h0.6M37.9 242.2h0.6M43.8 242.4h0.6M32.8 245.1h0.6M12 238.5h0.6M12.1 244.9h0.6M22.3 257.8h0.6M35.8 239.8h0.6M38.8 243h0.6M30 252.6h0.6M44 256.7h0.6M27.7 244.7h0.6M26.9 244.6h0.6M39.7 247.5h0.6M37.6 241.5h0.6M41.3 257.4h0.6M19.6 250.5h0.6M18.1 239.2h0.6M27.5 242.1h0.6M39.3 249.7h0.6M37.2 257.4h0.6M14.2 240.4h0.6M13.3 247.5h0.6M42.8 251.8h0.6M32.5 255.2h0.6M25.9 240.7h0.6M36 239h0.6M20.6 239.1h0.6M18 239.7h0.6M31.9 241h0.6M34.6 254.6h0.6M24.9 240.8h0.6M37.1 252.7h0.6M45.1 249.3h0.6M33.8 255.3h0.6M37.3 257.5h0.6M22.7 253.6h0.6M35.7 247.6h0.6M12.4 247.8h0.6M21.9 250.2h0.6M31.1 248.5h0.6M14.2 241.1h0.6M34.7 251.8h0.6M49 254h0.6M22.8 247.4h0.6M30.9 254.2h0.6M26.8 256.5h0.6M30.1 246.3h0.6M29.9 245.5h0.6M49.4 239.4h0.6M26.9 240h0.6M37.4 241.4h0.6M17.6 246.8h0.6M34.5 253.4h0.6M28.6 244.3h0.6M25.8 255.8h0.6M20 238.7h0.6M45.1 247.9h0.6M16.9 241.2h0.6M45.3 253.1h0.6M14.4 251.7h0.6M20 247.2h0.6M34.6 239.5h0.6M47 245h0.6M17.4 253.7h0.6M16.1 239.2h0.6M36.4 247.7h0.6M45.7 253.9h0.6M19.7 239.4h0.6M34.6 247.7h0.6M23.3 256.4h0.6M19.8 251h0.6M14.7 256.5h0.6M47.5 250.6h0.6M24 252.6h0.6M45.8 254h0.6M13.5 248.3h0.6M17.2 249.2h0.6M47.5 255.4h0.6M21.3 249.3h0.6M23.9 241.8h0.6M39.8 253.3h0.6M24.6 246.7h0.6M38 252.7h0.6M29.3 240.8h0.6M15.6 241.8h0.6M42.9 248.2h0.6M36.1 245.6h0.6M25.8 241.9h0.6M48.5 250.3h0.6M16.8 252.2h0.6M34.4 250.5h0.6M40.8 250.4h0.6M44.8 257.4h0.6M27.2 251.1h0.6M26 246.5h0.6M25.7 251.1h0.6M25.2 245.4h0.6M43.7 254.1h0.6M37.3 255h0.6M26.4 251h0.6M21.4 244.6h0.6M15.8 254.1h0.6M46.5 244.4h0.6M26.1 240.8h0.6M17.3 250.9h0.6M45.4 240.1h0.6M21.5 253.3h0.6M20.4 255.6h0.6M25.2 247.7h0.6M19.5 244.2h0.6M27.9 243.9h0.6M39.3 239.1h0.6M35.9 254.2h0.6M24.2 242.2h0.6M16.5 240h0.6M41.6 250.3h0.6M12.6 247.3h0.6M34.4 244.7h0.6M13.3 246.7h0.6M25.2 257.5h0.6M25.5 256.5h0.6M44.5 249.7h0.6M16.7 254.3h0.6M15.4 249.4h0.6M15.6 240.3h0.6M27.4 241.5h0.6M49.1 249.8h0.6M45.6 257.2h0.6M40.3 251.1h0.6M29.7 253.7h0.6M37 241.6h0.6M31.8 246.6h0.6M31.3 252.4h0.6M37.8 249.6h0.6M41.5 254.6h0.6M15.5 241.3h0.6M13.8 241.6h0.6M47.9 244.5h0.6M28.4 247.6h0.6M33.1 243.9h0.6M41.1 245h0.6M43.6 254.2h0.6M12 249.2h0.6M15.5 255.7h0.6M14.6 243.7h0.6M40.8 250h0.6M36.9 246.6h0.6M31.5 242.5h0.6M29.3 243.5h0.6M37.3 240.6h0.6M17.1 242.4h0.6M31.9 249.8h0.6M12.1 257.7h0.6M43.2 245.9h0.6M17.9 254.6h0.6M48.5 242h0.6M40.3 254.5h0.6M47.1 242.6h0.6M16.5 241.7h0.6M20.6 256.1h0.6M46 247.7h0.6M16.8 245.4h0.6M21 251.1h0.6M38.9 253.6h0.6M28.3 247.4h0.6M29.5 245.7h0.6M29 251.9h0.6M38.6 244.9h0.6M33.2 241.3h0.6M13.7 246h0.6M25.4 239.1h0.6M15 246.8h0.6M47.2 254.8h0.6M13.1 244.7h0.6M25.8 244.6h0.6M17.1 250h0.6M43.4 245.9h0.6M18.6 240.6h0.6M12.6 253.4h0.6M20.6 252.6h0.6M41.6 240.1h0.6M19.1 244.7h0.6M40.8 252.9h0.6M23.3 247.3h0.6M25.3 247.7h0.6M41.7 243.6h0.6M42.3 256.4h0.6M34.5 257.2h0.6M47.1 241.8h0.6M49.1 242.4h0.6M42.1 240.9h0.6M23.3 247.1h0.6M43.4 251.8h0.6M19.6 256h0.6M44.4 248.4h0.6M13.9 244.1h0.6M22.9 246.7h0.6M47.3 250.1h0.6M42.7 239.9h0.6M21.2 252.8h0.6M24.7 242.9h0.6M14.4 239.5h0.6M27.4 249.2h0.6M27 249.5h0.6M22.9 238.8h0.6M37.2 245h0.6M30.4 245.9h0.6M22.1 239.5h0.6M23.1 244.3h0.6M16.3 239.1h0.6M30 238.9h0.6M44.9 245.5h0.6M28.6 248.8h0.6M12.9 240.5h0.6M41.4 249.4h0.6M30.4 245.2h0.6M40.1 248.3h0.6M41.6 254.8h0.6M45.4 252.7h0.6M37.2 247.5h0.6M31.9 249.8h0.6M31.6 254.5h0.6M44.1 239.5h0.6M40.1 250.5h0.6M34.4 256.2h0.6M13.9 247.8h0.6M26 257h0.6M18.2 249.5h0.6M17.4 253.2h0.6M30.3 252.8h0.6M23.5 255.7h0.6M12.3 242.9h0.6M39.4 255.6h0.6M41.1 243.9h0.6M15 252.3h0.6M39.4 239.7h0.6M47 248.8h0.6M13.3 247.9h0.6M24.6 240.5h0.6M45.1 256.7h0.6M16.6 247.2h0.6M22.2 251.6h0.6M16.1 264.2h0.6M27.3 266.7h0.6M28.3 269h0.6M47.2 275.2h0.6M45.9 273.3h0.6M20.5 262.5h0.6M29.2 269.9h0.6M34.7 264.5h0.6M49.1 263.8h0.6M12.7 259.7h0.6M19.8 271.5h0.6M43.4 258.8h0.6M20.9 262.5h0.6M41.4 274.6h0.6M21.8 259.9h0.6M48.2 276h0.6M38.8 266.7h0.6M39.9 272.2h0.6M31 263h0.6M31.6 270.3h0.6M24.1 269.8h0.6M17.5 276h0.6M19.9 262.2h0.6M47.9 275.6h0.6M46.6 273.6h0.6M43.7 273.2h0.6M33.2 259.4h0.6M39.4 273.5h0.6M43.3 258.8h0.6M14.3 271.5h0.6M30.2 274.5h0.6M49.1 266.3h0.6M37.3 270.3h0.6M37.9 264.8h0.6M35.9 259.3h0.6M45.7 271.4h0.6M42 266.6h0.6M19.7 266.3h0.6M37.5 268.1h0.6M16.1 258.1h0.6M26.9 262.5h0.6M20.5 262.1h0.6M27.5 270.9h0.6M46.1 270.5h0.6M12.8 274.1h0.6M34.8 271.5h0.6M35 264.6h0.6M24.7 259.3h0.6M36.8 259h0.6M37.5 274.9h0.6M37 269.2h0.6M42.2 275.8h0.6M42.4 276.3h0.6M29.2 258.3h0.6M35 269.8h0.6M44.3 269.3h0.6M25.6 258.1h0.6M43.1 269.6h0.6M48.9 269h0.6M43.9 272.3h0.6M49.1 266.6h0.6M45.6 265.3h0.6M12.4 264h0.6M25.1 276.4h0.6M26.8 263.1h0.6M37.8 259.8h0.6M23.4 265.3h0.6M16.7 269.1h0.6M27.8 272.8h0.6M24.7 276.1h0.6M19.3 267.8h0.6M20.5 258.3h0.6M23.3 274.6h0.6M22.9 267h0.6M31.6 262.9h0.6M32 259.2h0.6M25.1 263.3h0.6M42.5 272.2h0.6M38.2 269h0.6M44.4 271.7h0.6M14.1 260.4h0.6M40 273.5h0.6M49 272.3h0.6M17.9 268.5h0.6M35.3 269.2h0.6M17 275.9h0.6M31.1 263h0.6M48.7 265.1h0.6M14.6 270.4h0.6M21.7 262h0.6M23.3 269.2h0.6M24 270.3h0.6M45.9 276.3h0.6M45.2 275h0.6M21.5 273.2h0.6M15.4 268.8h0.6M14.8 259.8h0.6M47.5 260.3h0.6M38.8 267.8h0.6M12 272.7h0.6M14.3 274.4h0.6M42.6 267.2h0.6M28.7 258.5h0.6M38.2 258.7h0.6M31.7 275.1h0.6M37.4 260.2h0.6M39 271h0.6M24.3 272.3h0.6M33.6 265.7h0.6M31.7 263.1h0.6M22.7 274.4h0.6M25.1 272.3h0.6M25.7 261.5h0.6M12.1 275.8h0.6M40.1 276.2h0.6M34 259.2h0.6M18.1 258.9h0.6M34.9 269.5h0.6M47.7 263.5h0.6M20.7 262.1h0.6M17.5 258.5h0.6M30.5 265.8h0.6M25.8 275.6h0.6M23.7 273.3h0.6M31.9 259.9h0.6M13.1 269.3h0.6M44.7 258.9h0.6M38.3 262.3h0.6M37.7 273.4h0.6M39.2 262.5h0.6M17.8 275.9h0.6M46.2 275.1h0.6M32.2 258.9h0.6M25.8 274.8h0.6M14.5 263.5h0.6M13.6 274.3h0.6M25.2 259.5h0.6M25.3 261.8h0.6M28.2 269.4h0.6M36.6 259.8h0.6M32 259h0.6M28.5 272.9h0.6M21.8 273.2h0.6M21.1 265.3h0.6M41.6 258.1h0.6M32.7 267.9h0.6M38.7 275.5h0.6M38 262.1h0.6M19.4 266.9h0.6M22.5 268.2h0.6M15.4 270.8h0.6M27.6 258.9h0.6M16.5 275.3h0.6M43.8 274.3h0.6M26.6 276.2h0.6M18.4 271.4h0.6M47.2 261.9h0.6M12.2 260.3h0.6M15.1 272.9h0.6M34.7 266.8h0.6M16.3 269.9h0.6M17.1 260.5h0.6M34.2 269.9h0.6M42 273.3h0.6M17.1 263.6h0.6M17.4 267.1h0.6M13.1 274.1h0.6M37.5 273h0.6M30.3 274.9h0.6M43.2 273.3h0.6M42.1 262h0.6M24.9 259h0.6M40.6 266.8h0.6M48.9 263.4h0.6M28.1 274h0.6M48.2 272h0.6M45 275.1h0.6M22.2 269.4h0.6M14.4 270.5h0.6M47.6 267.4h0.6M17.5 268.5h0.6M14.4 266.5h0.6M15 265.7h0.6M42.6 271.7h0.6M43.9 266.5h0.6M28.5 259h0.6M41.5 268.5h0.6M27.3 260.7h0.6M29.1 259.2h0.6M16.5 259.5h0.6M27.9 260.5h0.6M42.9 269.3h0.6M44.4 268.2h0.6M18 263.1h0.6M43.4 268.8h0.6M36.2 269.7h0.6M13.8 261.7h0.6M28.1 273.6h0.6M47.3 268.9h0.6M21.7 258.9h0.6M32.9 265.6h0.6M46.8 261.8h0.6M19.7 258.3h0.6M13.1 272.9h0.6M44.6 260.8h0.6M12.6 268.7h0.6M21.2 269.4h0.6M46.1 271.8h0.6M22.5 269.2h0.6M22.8 272.1h0.6M21.7 274.1h0.6M37.4 274.5h0.6M24.9 275.7h0.6M33.8 262.8h0.6M36.2 263.7h0.6M16.2 258.7h0.6M34.8 262.5h0.6M15.7 272.4h0.6M17.3 272h0.6M22.2 264.7h0.6M46.9 273.3h0.6M43.2 276.1h0.6M34.6 275.3h0.6M35.3 268.8h0.6M24.1 265h0.6M33.3 262.6h0.6M36 274h0.6M38.9 262.2h0.6M13 264.8h0.6M28.2 273.7h0.6M32.5 267.6h0.6M34.7 268.2h0.6M37.4 268.3h0.6M32.7 262.4h0.6M16.6 266.1h0.6M45.2 275.5h0.6M23 268.6h0.6M31.4 266.4h0.6M18.7 272.6h0.6M15.2 262.2h0.6M22.4 261.8h0.6M19.2 259.5h0.6M31.6 261.2h0.6M36 269.1h0.6M35.4 266.9h0.6M34.9 263.5h0.6M29.4 270.7h0.6M20.1 271.6h0.6M33.9 276h0.6M35 268.2h0.6M40.7 263.3h0.6M25.9 266h0.6M39.5 271.3h0.6M18.9 275.6h0.6M48.7 267.2h0.6M49.2 269.5h0.6M26.4 259.6h0.6M12.6 268.9h0.6M38.9 269.4h0.6M41.3 266.1h0.6M39.8 269.2h0.6M35.7 268.1h0.6M36.9 268.4h0.6M15.4 270.5h0.6M38.3 265.9h0.6M48.3 266.9h0.6M18.2 267.5h0.6M25.4 261.1h0.6M45.2 261.3h0.6M38.6 261.1h0.6M31.3 276.4h0.6M15.3 273.9h0.6M12.2 276.1h0.6M46 266.3h0.6M35.8 266.5h0.6M18.1 264.6h0.6M28.5 274.1h0.6M16.3 268h0.6M29.6 268.2h0.6M41.6 269.1h0.6M24.1 275.7h0.6M34.4 263h0.6M32.5 274h0.6M13.7 270h0.6M30.2 263.3h0.6M18 262.3h0.6M28.4 265.8h0.6M34.5 263h0.6M35.2 266.8h0.6M41.8 272.9h0.6M20.9 276.1h0.6M32.4 264.2h0.6M21.5 271.2h0.6M28.3 270.6h0.6M21.6 273.9h0.6M21.9 274.1h0.6M28.4 265.4h0.6M33.6 267.7h0.6M32.5 268.4h0.6M47.5 271.7h0.6M15.5 276.3h0.6M12.6 259h0.6M42.6 263.1h0.6M13.1 261.3h0.6M30.5 273.6h0.6M12.7 261.1h0.6M12.5 259h0.6M23.8 267.1h0.6M48.2 270h0.6M44 268.9h0.6M46 270.5h0.6M21 264.9h0.6M29.9 260h0.6M46.6 266.9h0.6M19.5 267.1h0.6M42.1 263.1h0.6M34 259.7h0.6M21 261.5h0.6M30.9 270.7h0.6M20.5 270.7h0.6M33.9 271.9h0.6M49.2 264.2h0.6M49.3 266.4h0.6M31.1 261.3h0.6M15.2 269.9h0.6M15.9 258.6h0.6M15.1 268h0.6M19.3 262.9h0.6M40.7 266.3h0.6M17.5 270.6h0.6M49.2 269.5h0.6M28.6 268h0.6M71 274.6h0.6M73.6 265.7h0.6M73.4 263.6h0.6M53.4 269.6h0.6M55.1 270.4h0.6M58.1 276.2h0.6M62.7 274.2h0.6M78.5 268.8h0.6M73.1 269.4h0.6M61.7 263.9h0.6M69.7 275.8h0.6M70.6 266.8h0.6M65.6 267.3h0.6M61.5 273.6h0.6M49.6 269.2h0.6M65.2 264.2h0.6M72 265.8h0.6M61.8 265.7h0.6M67.8 268.5h0.6M70.5 268.4h0.6M73.5 270.3h0.6M52.6 269.4h0.6M57.2 266.5h0.6M78.6 269.2h0.6M72.2 264.3h0.6M68.8 263.8h0.6M56.2 263.9h0.6M50.2 275.6h0.6M79.1 267.5h0.6M49.8 273h0.6M69.8 262.7h0.6M73 263h0.6M56.6 273.7h0.6M73 265.5h0.6M65.1 274h0.6M68 269.9h0.6M55.1 263h0.6M55.2 269.9h0.6M67.8 268.9h0.6M69 270.5h0.6M69.3 268.2h0.6M75.3 270h0.6M76.5 276.8h0.6M74.9 273.6h0.6M70.7 270.3h0.6M57 263.5h0.6M69.8 265.7h0.6M68.3 270.2h0.6M68.1 268.4h0.6M56.8 266.6h0.6M70.9 275.3h0.6M59.2 266.7h0.6M63.2 268.4h0.6M68.9 273.3h0.6M73 274.1h0.6M71.7 276.6h0.6M63.2 268.7h0.6M69.5 266.7h0.6M74.9 268.3h0.6M66.6 269.8h0.6M60.6 262.2h0.6M58 269.1h0.6M78.7 264.1h0.6M77.2 276.6h0.6M73.8 266.2h0.6M50 275.2h0.6M51.5 266.5h0.6M78.3 272.1h0.6M74.8 274.5h0.6M54.9 269.6h0.6M52.3 267.7h0.6M64.7 274.3h0.6M58.3 272h0.6M53.7 265.8h0.6M51.2 270.7h0.6M67.5 272.7h0.6M62.3 276.1h0.6M71.7 270.5h0.6M76.3 264.7h0.6M58.4 270.3h0.6M67.9 276.3h0.6M70.3 262.7h0.6M78.5 269h0.6M55.7 273.4h0.6M68.7 274.8h0.6M66.4 265.8h0.6M63.9 269h0.6M60.2 270.7h0.6M54 265.8h0.6M53 262.4h0.6M65.6 273.1h0.6M61.8 275.5h0.6M68.1 271.9h0.6M58.2 275.5h0.6M60.1 274.7h0.6M56.9 276.3h0.6M70.4 264.7h0.6M71.9 264.3h0.6M61.3 267.7h0.6M59.7 267.4h0.6M54.3 268h0.6M52.3 273.9h0.6M60.3 272.7h0.6M62.6 276.6h0.6M76.5 272.6h0.6M75.3 275.7h0.6M78.1 268.2h0.6M67.7 263h0.6M60.6 266.9h0.6M68.6 262.1h0.6M72.6 263.1h0.6M62.4 269.3h0.6M75.3 271.5h0.6M53.9 272h0.6M56.6 271.3h0.6M62.1 276.3h0.6M63.2 266.1h0.6M59 276.4h0.6M60.1 265.6h0.6M65.9 272.1h0.6M78.4 263.2h0.6M59.5 272.8h0.6M64.7 272.4h0.6M70.2 263.4h0.6M50.9 264.7h0.6M58.8 264.7h0.6M58.2 263.7h0.6M50.2 269.9h0.6M72.7 264.4h0.6M52.3 272.9h0.6M51.8 264.1h0.6M64.5 266.5h0.6M73.6 269.6h0.6M65.5 267.6h0.6M50.3 274.3h0.6M61.4 274.4h0.6M52.7 268.5h0.6M66 264.3h0.6M51.7 276h0.6M78.3 277h0.6M66.2 273h0.6M67.9 269.2h0.6M54.7 271.6h0.6M63 272.2h0.6M50.7 266.4h0.6M52.9 273.4h0.6M64.2 266.3h0.6M73.5 269.8h0.6M58.3 267.9h0.6M49.5 262.9h0.6M50.5 276.4h0.6M76.5 270.2h0.6M78.4 270.1h0.6M70.4 263.6h0.6M62.8 271.2h0.6M62 271.8h0.6M60 271.8h0.6M55.8 269.3h0.6M62.6 269.9h0.6M51.1 265.6h0.6M71.4 264.5h0.6M64.1 276.9h0.6M68.2 273h0.6M73.1 276.5h0.6M61.3 267.9h0.6M72.6 262.4h0.6M63.8 266.1h0.6M66.5 273h0.6M75.9 269.6h0.6M70.7 263.2h0.6M69.7 275.9h0.6M68.4 269.4h0.6M65.1 268.2h0.6M54.9 265h0.6M73.9 269.7h0.6M50.6 271.2h0.6M75 271.8h0.6M55 276.3h0.6M55 269.6h0.6M63.6 264.5h0.6M57.6 264.8h0.6M54.6 262.6h0.6M69.3 272h0.6M57.1 276.3h0.6M62.4 268.8h0.6M78 271.7h0.6M63.7 273.2h0.6M72.2 266.6h0.6M51.5 273h0.6M72.4 271h0.6M53 273.2h0.6M54.8 274h0.6M68.6 271.5h0.6M51.7 267.5h0.6M72 263.7h0.6M50.6 268.2h0.6M75.7 271.4h0.6M56.5 263.2h0.6M75.2 274.6h0.6M71 265.1h0.6M72.5 262.1h0.6M54.7 266.8h0.6M78.9 262.5h0.6M54.4 273h0.6M72.9 266h0.6M51.7 274.8h0.6M79.3 275.6h0.6M66.8 263.3h0.6M72.2 271.7h0.6M75 273.4h0.6M64.9 276.6h0.6M63.6 268.7h0.6M69 273.8h0.6M67.5 276.1h0.6M57.8 275.4h0.6M76.5 267.2h0.6M50.3 271h0.6M68.5 276.4h0.6M66.6 272.9h0.6M72.8 264.5h0.6M69.9 268.6h0.6M85.9 287.3h0.6M89.7 297.1h0.6M94.7 288.3h0.6M81.7 298.2h0.6M100 299.2h0.6M100.9 282.8h0.6M87.6 291.3h0.6M88 299h0.6M85.6 281.8h0.6M92.1 282.6h0.6M81 294.4h0.6M96.1 293h0.6M82.1 293.4h0.6M94 288h0.6M86.1 284.8h0.6M92.9 289.3h0.6M95.6 295.8h0.6M87.5 294.4h0.6M87 297.3h0.6M85.6 294.1h0.6M99.6 298.4h0.6M94.2 300.8h0.6M106.1 298.3h0.6M89.6 287.2h0.6M96.7 284.2h0.6M84.9 283.5h0.6M97.3 289.7h0.6M104.4 298.6h0.6M94.2 288.7h0.6M88.6 282.6h0.6M83.1 300h0.6M88 281.7h0.6M106 289.6h0.6M100.6 291.1h0.6M105.7 283.2h0.6M92.6 295.2h0.6M80.8 300.9h0.6M89.1 295.9h0.6M82.3 283.2h0.6M82.5 298.2h0.6M105 300.9h0.6M94.2 283.4h0.6M100.6 292.2h0.6M100.8 294.9h0.6M95.1 285.1h0.6M84 283.2h0.6M91.6 287.6h0.6M105.3 282.5h0.6M100.2 284h0.6M82.9 301.1h0.6M86 294.1h0.6M95.6 290h0.6M89.4 284.5h0.6M98.5 289.4h0.6M96 298.9h0.6M82.2 290.5h0.6M89.5 301.3h0.6M96.5 285.7h0.6M92.3 281.8h0.6M93.7 283h0.6M83.8 292.3h0.6M94.3 286h0.6M95.5 288.1h0.6M98.7 282.6h0.6M102.3 291h0.6M84.7 287.7h0.6M96.7 283.5h0.6M104.2 286.2h0.6M91 283h0.6M92.2 301.9h0.6M85.1 285.3h0.6M94.6 295.1h0.6M84 286.1h0.6M96.1 286.6h0.6M80.9 296.2h0.6M103 298.6h0.6M102.7 286h0.6M88.4 294.2h0.6M96.4 294.8h0.6M94.7 286.5h0.6M86.5 283.3h0.6M81.7 293.8h0.6M82.5 300.1h0.6M105.4 284.6h0.6M105.6 294.7h0.6M80.4 289.6h0.6M89.7 288.1h0.6M82 286.7h0.6M80.7 291h0.6M92.9 286.4h0.6M104.5 300.3h0.6M93.3 298.5h0.6M89.5 297.5h0.6M100.7 289h0.6M99.7 288.9h0.6M84.8 290.4h0.6M83.2 296.7h0.6M86.8 292h0.6M101.5 294.2h0.6M104.1 296.9h0.6M98.4 297.2h0.6M98.4 301h0.6M95.8 295.5h0.6M94.7 292.8h0.6M105 287.9h0.6M85.2 292.1h0.6M88.4 296.6h0.6M96.9 281.5h0.6M85.7 294.6h0.6M90.6 295.9h0.6M92.5 283.9h0.6M98.3 302.1h0.6M82.6 294.6h0.6M96.3 294.5h0.6M93.5 292.2h0.6M106.2 300h0.6M91.6 298.7h0.6M97.8 298.6h0.6M106.4 283h0.6M85.8 286.4h0.6M101.7 301.1h0.6M86.2 291.8h0.6M103.6 296.8h0.6M95.6 300.4h0.6M104.5 283.4h0.6M105.6 287.7h0.6M96.4 297.5h0.6M87.9 288h0.6M104 298.3h0.6M105.9 283.5h0.6M96.7 297.2h0.6M105.4 296.9h0.6M87.6 283.6h0.6M84.8 287h0.6M95.2 288.3h0.6M84.1 283.3h0.6M98.2 298.8h0.6M83.4 292.4h0.6M106 289.2h0.6M94.3 298.7h0.6M80.8 300h0.6M100.6 297.1h0.6M89.2 291.9h0.6M104.9 282.8h0.6M82.4 295.1h0.6M105.3 284.7h0.6M85.2 291.3h0.6M101 293.5h0.6M97.6 282.6h0.6M85.4 293.9h0.6M99.3 283.4h0.6M82.6 288.2h0.6M91.1 288.6h0.6M84.7 283.1h0.6M97.2 301.7h0.6M96.9 301h0.6M83.5 294.6h0.6M89.8 299.5h0.6M95.9 294.5h0.6M104.3 301.8h0.6M83.8 290.8h0.6M82.4 293.4h0.6M86.1 296.3h0.6M89.5 281.7h0.6M103.6 284.2h0.6M87.3 292.5h0.6M81.7 297.9h0.6M99 284h0.6M96.5 284.2h0.6M94.2 283.5h0.6M87.6 291h0.6M94.5 295.4h0.6M104.6 288.6h0.6M89.4 285.9h0.6M99.6 289.3h0.6M85.8 285.6h0.6M91.3 299.2h0.6M91.7 298.7h0.6M92.6 293.8h0.6M86.9 290.2h0.6M99.3 283.3h0.6M92.1 286.9h0.6M87.8 288.7h0.6M85.4 293.7h0.6M81.3 286.5h0.6M87.1 285.3h0.6M102.1 296.1h0.6M103.5 284.3h0.6M85.1 288.1h0.6M93.6 299.2h0.6M102.1 299.7h0.6M80.7 282.1h0.6M89.1 290.6h0.6M80.4 288.9h0.6M83.6 300h0.6M85.7 288.3h0.6M84.8 299.5h0.6M83.2 290.8h0.6M86 286.7h0.6M106.4 296.6h0.6M99.6 289h0.6M105.9 302h0.6M96.9 286.3h0.6M81.5 293h0.6M93 299.8h0.6M106.5 298.8h0.6M86.6 302.4h0.6M96.3 282.3h0.6M85.7 301.8h0.6M101.1 297.2h0.6M97.6 282h0.6M104.8 287.8h0.6M100.5 292.9h0.6M93 292.7h0.6M104.4 299.2h0.6M90.6 299.6h0.6M84.8 288.9h0.6M88.6 282.5h0.6M90.7 281.5h0.6M105.7 298.8h0.6M92.8 282.8h0.6M87.1 297.9h0.6M87.9 283.5h0.6M91.4 293.8h0.6M83.5 289.5h0.6M94.8 297.3h0.6M90.9 302.5h0.6M86.9 297.4h0.6M82.3 300.9h0.6M94.5 285.2h0.6M101.6 300.2h0.6M83.6 300.2h0.6M105.4 289h0.6M101 296.8h0.6M95.1 289.7h0.6M88.4 298.8h0.6M100.8 301.5h0.6M82 293.6h0.6M98.8 286.1h0.6M80.8 300.4h0.6M100.7 296.6h0.6M88.9 290.8h0.6M101.6 283.5h0.6M99.2 296.5h0.6M92.4 301.7h0.6M96.8 300.2h0.6M85.3 290.2h0.6M87.9 292.1h0.6M100 302.5h0.6M104.1 299.6h0.6M105.9 297.1h0.6M99.6 283.4h0.6M90.9 291.9h0.6M83 300.6h0.6M90 286.7h0.6M82.4 292.9h0.6M89.1 301.6h0.6M96.9 290.6h0.6M84.3 282.5h0.6M98.3 294.5h0.6M93.2 292.2h0.6M91 300.7h0.6M81.7 286.4h0.6M101.1 288.2h0.6M88.9 290.7h0.6M88 297.6h0.6M82.7 293.3h0.6M125.1 333.8h0.6M125.5 334.1h0.6M122.7 328.8h0.6M114.8 338.4h0.6M122.4 336.4h0.6M107.5 338h0.6M129 332.3h0.6M111.9 339.7h0.6M112.5 328.8h0.6M108.4 339.8h0.6M129.4 342.9h0.6M121.8 345.1h0.6M128.6 332.3h0.6M116.4 347.1h0.6M131 340.1h0.6M122.9 333.8h0.6M108.9 333.5h0.6M112.5 339.9h0.6M123.5 339.9h0.6M130.2 326.6h0.6M111.9 328.7h0.6M116.1 345.9h0.6M118.7 343.5h0.6M111.3 334.1h0.6M127.3 332.8h0.6M125.5 339.2h0.6M123.5 327.2h0.6M115.9 347.4h0.6M116.3 332.5h0.6M132.5 339h0.6M124.6 336.8h0.6M122.7 334.8h0.6M113.6 332.7h0.6M112.4 341.3h0.6M108.8 329.1h0.6M119.7 347.5h0.6M126.8 340.7h0.6M125.8 331h0.6M119.8 327h0.6M120 327.3h0.6M109.5 329.1h0.6M115.5 336.6h0.6M112.2 328.2h0.6M109.7 346.6h0.6M132.1 345.9h0.6M110.1 330.9h0.6M129.4 326.9h0.6M110.4 340.3h0.6M131.6 346.1h0.6M128.5 333.3h0.6M125.6 346.4h0.6M129.9 347.1h0.6M126.3 343.2h0.6M124.8 335.5h0.6M121.4 346.2h0.6M121.4 327.1h0.6M118.1 345h0.6M124.9 336.8h0.6M130.8 342.6h0.6M112.3 341.4h0.6M129.1 326.7h0.6M130.9 335.7h0.6M128.5 326.9h0.6M114.8 333h0.6M112.2 340.5h0.6M127.2 340.3h0.6M130.2 329h0.6M114 335.1h0.6M127.1 342.2h0.6M132.3 345h0.6M120.3 342.2h0.6M127.8 337.6h0.6M124.2 344.6h0.6M128.1 329.9h0.6M107.3 341.5h0.6M127.7 330.6h0.6M128.6 342.6h0.6M110.8 329.9h0.6M123.6 339.7h0.6M110.7 345.8h0.6M112.1 344.2h0.6M131.1 329.1h0.6M124.7 338.2h0.6M130.3 336h0.6M117.2 331.5h0.6M128.5 333.4h0.6M130.2 327.3h0.6M129.6 327h0.6M125.3 346.6h0.6M114.9 339.1h0.6M117.3 328h0.6M128.3 337h0.6M127.3 327.4h0.6M110.7 331.5h0.6M127.7 327.1h0.6M107.1 334.6h0.6M116.6 344.5h0.6M128.8 331.7h0.6M125.8 334.1h0.6M126.4 340.5h0.6M108.3 336.5h0.6M117.5 336.3h0.6M120.9 341.2h0.6M117 337.6h0.6M128 341h0.6M111.5 329.5h0.6M113.6 346.7h0.6M116.6 345.2h0.6M131.6 341.3h0.6M116.1 342.3h0.6M119.6 346.7h0.6M119.5 340h0.6M124.3 339.9h0.6M111.1 338.6h0.6M117.6 341h0.6M126.6 331h0.6M116.1 332h0.6M131.5 336.9h0.6M118.2 347h0.6M126.8 344.7h0.6M119.6 329.3h0.6M116.2 328.4h0.6M116.9 336.1h0.6M119 347.2h0.6M120.3 330.1h0.6M111.1 340.9h0.6M119.9 335.2h0.6M119.3 335.2h0.6M124.1 339.1h0.6M107.8 337.1h0.6M113 338.9h0.6M118.5 342.7h0.6M131.6 342.3h0.6M122.6 337.3h0.6M109.4 342h0.6M111.6 334.6h0.6M121.7 332.2h0.6M128.9 338.1h0.6M131.8 327.1h0.6M118.6 333.4h0.6M121.4 340.3h0.6M121.9 346.4h0.6M118 334.4h0.6M126 338.3h0.6M113.5 346h0.6M112.4 328.2h0.6M120.5 345.8h0.6M128.7 343.8h0.6M122.4 337.4h0.6M114.1 330.1h0.6M118 344.2h0.6M120.9 347.3h0.6M127.3 338.1h0.6M121.9 335.4h0.6M130.1 344.2h0.6M111.1 345.6h0.6M124.1 334.2h0.6M125.9 335.5h0.6M124.5 337.2h0.6M122.9 346h0.6M129.7 336.7h0.6M116.6 341.7h0.6M123.8 328.6h0.6M119.7 332.5h0.6M123.3 330.1h0.6M114.2 331.9h0.6M113.8 338.5h0.6M128.9 340.1h0.6M123.3 342.7h0.6M116.7 335.6h0.6M123.4 331h0.6M126.1 346h0.6M129.4 328h0.6M130.3 331.3h0.6M109.9 339.6h0.6M115.5 330.4h0.6M122.3 337.9h0.6M120.5 337.4h0.6M122.5 343h0.6M125.2 341.5h0.6M128 336.5h0.6M123.1 329h0.6M108.6 336.2h0.6M124.2 331.6h0.6M131.4 332.7h0.6M119.3 336.5h0.6M131.7 329.8h0.6M113 340h0.6M115.9 333.8h0.6M109.9 346h0.6M118 338.8h0.6M112.9 346.3h0.6M109.3 341.3h0.6M108.2 337.8h0.6M115 346.7h0.6M117.9 344.3h0.6M107.3 331.6h0.6M132.1 334.4h0.6M107.5 332.1h0.6M115.9 337.7h0.6M116.4 333h0.6M118.8 336.5h0.6M111.3 337.5h0.6M121.5 338.7h0.6M125.7 336.2h0.6M112 346.5h0.6M109.6 333h0.6M117.3 335.3h0.6M112 344.8h0.6M114.4 338.1h0.6M122.3 329.4h0.6M117.7 329.4h0.6M120.6 342h0.6M128.7 346.4h0.6M109.4 336.3h0.6M123.8 334.5h0.6M131.1 337h0.6M129.1 328h0.6M116.6 341.3h0.6M128.3 337h0.6M128.8 342.6h0.6M117.2 341.5h0.6M119.9 329h0.6M129.9 344.4h0.6M129.7 331.6h0.6M126.7 327.4h0.6M119.5 333h0.6M119.6 334.7h0.6M120.8 335.8h0.6M126.2 340.5h0.6M113.7 330.8h0.6M112.7 333.5h0.6M117.5 337.2h0.6M126.4 347.3h0.6M113.3 332.8h0.6M120 326.7h0.6M123 327.4h0.6M121.9 339h0.6M116.5 347.5h0.6M114.6 327h0.6M109.3 331.7h0.6M125.7 342.2h0.6M115.7 345.2h0.6M110.7 331.4h0.6M121.3 337.8h0.6M127.1 333.1h0.6M129.9 339.9h0.6M124.4 338.7h0.6M112 338.5h0.6M131 326.9h0.6M115.1 333.1h0.6M113.1 342.9h0.6M123.4 329.4h0.6M124.8 345.1h0.6M108.2 327h0.6M122.1 345.2h0.6M120.8 337.3h0.6M117.1 338.6h0.6M130.2 339.2h0.6M125.9 336.4h0.6M129.5 342.8h0.6M119.7 333h0.6M114.3 347.3h0.6M146.4 349.3h0.6M143.9 357.1h0.6M145.6 354h0.6M152.2 358.4h0.6M150.6 353.4h0.6M151.8 359.8h0.6M144.4 357.3h0.6M153 360.1h0.6M144.2 355.7h0.6M142.5 353.7h0.6M142.2 353.5h0.6M134.2 355.8h0.6M133.1 362.4h0.6M134.6 367.7h0.6M139.4 353.7h0.6M144.5 354.1h0.6M148.3 354.4h0.6M152.6 348.6h0.6M133.7 367.2h0.6M147.5 353.5h0.6M146.5 355.7h0.6M143.6 353.8h0.6M144.3 362h0.6M150.9 353.4h0.6M144.9 360.2h0.6M151.6 358.3h0.6M151.3 368.1h0.6M141.4 356.7h0.6M153.6 360.5h0.6M144.1 364.9h0.6M145.7 359.2h0.6M146.8 353.5h0.6M140.7 347.9h0.6M148.2 365.9h0.6M148.5 369.2h0.6M149 350.1h0.6M139.5 368.1h0.6M134.8 367.1h0.6M149.9 351h0.6M137.1 363.9h0.6M146.7 348.4h0.6M144 351.9h0.6M151.2 359.5h0.6M132.8 356.4h0.6M132.7 367.7h0.6M151.8 363.6h0.6M132.6 368.4h0.6M138.3 362.1h0.6M149.1 360.1h0.6M135 353.1h0.6M148.4 350.4h0.6M140.7 368.3h0.6M141.4 351.1h0.6M146.7 355.4h0.6M149.7 355.8h0.6M150.6 365.9h0.6M136.4 359.8h0.6M142.2 350.4h0.6M152.4 355.3h0.6M145.8 349h0.6M153.2 369.4h0.6M147.4 350.6h0.6M147 358.1h0.6M142.8 352.5h0.6M135.8 366.4h0.6M145.7 364.2h0.6M148.6 356.6h0.6M144.5 354.4h0.6M146.8 357.2h0.6M149.6 354.1h0.6M140.8 349.5h0.6M133.4 352.4h0.6M132.9 357.1h0.6M140.8 367.2h0.6M133.4 369.5h0.6M134.6 366h0.6M140.3 353.1h0.6M145.8 355.6h0.6M132.9 350.6h0.6M147.3 363.6h0.6M154.2 353.3h0.6M149.3 355.3h0.6M143.7 353.9h0.6M141.5 367.9h0.6M138 357.1h0.6M152.3 357.7h0.6M150.2 359.5h0.6M140.1 363.6h0.6M146.7 356.1h0.6M154.3 349.7h0.6M151 363.6h0.6M148 358.2h0.6M148.8 348.7h0.6M147.1 366.8h0.6M141.4 364.1h0.6M147.7 358.8h0.6M149.3 358.4h0.6M135.1 359.3h0.6M148.9 351.3h0.6M142.6 366.1h0.6M132.8 366.8h0.6M140.2 355.7h0.6M147.7 360.4h0.6M138.8 351.1h0.6M141.7 367.4h0.6M154.2 363.6h0.6M147.7 362.9h0.6M152.4 351.3h0.6M135.7 366.3h0.6M132.9 359.3h0.6M141.3 368h0.6M146.1 352.7h0.6M133.9 358.1h0.6M144.5 358h0.6M145.2 349.1h0.6M140.3 366h0.6M138.8 351.9h0.6M136.4 368.4h0.6M151.5 356.7h0.6M139.7 355.8h0.6M151.7 367.8h0.6M153.3 366.6h0.6M147.3 350.3h0.6M153 351.4h0.6M148.6 355.6h0.6M133.3 362.2h0.6M138.1 367.3h0.6M136.4 362.5h0.6M142 348.7h0.6M138.6 354.5h0.6M149.4 364.7h0.6M152.9 351.4h0.6M137.1 356h0.6M139.5 352.3h0.6M148.9 347.8h0.6M144.2 350.6h0.6M139.3 354.2h0.6M142.6 368.5h0.6M148.6 357.2h0.6M154.1 353.3h0.6M136.6 361.8h0.6M149.3 363.7h0.6M143.6 363.7h0.6M139.8 368.7h0.6M148.6 365.4h0.6M144.3 368h0.6M142.7 368.7h0.6M142.2 368.7h0.6M139.4 359.1h0.6M144.7 359.9h0.6M150.9 366.4h0.6M136.5 363.3h0.6M144 356.6h0.6M135 367.8h0.6M154.1 363.7h0.6M144.9 349.5h0.6M139.5 355h0.6M134.4 356h0.6M140.5 356.8h0.6M134 350.6h0.6M153.2 360h0.6M137.6 357.6h0.6M140.4 358.4h0.6M136.4 364.2h0.6M152.8 361.6h0.6M153.4 365.7h0.6M144.2 359.2h0.6M147.6 355.8h0.6M134.2 357.7h0.6M150.3 362.6h0.6M133.4 366h0.6M133.5 359.2h0.6M136.4 354.3h0.6M137.5 361.3h0.6M148 367.2h0.6M143.5 349h0.6M133.3 349.6h0.6M135.3 351.6h0.6M139 351h0.6M151 355.6h0.6M143 365h0.6M136.4 358.8h0.6M133.4 358.4h0.6M152.7 360.2h0.6M139.1 361.7h0.6M143.4 358.7h0.6M146.4 363.4h0.6M151.9 369.3h0.6M153.5 365.6h0.6M147.4 365.4h0.6M136.7 352.1h0.6M150.9 357.3h0.6M132.9 364.2h0.6M135.4 353.7h0.6M152.6 351.9h0.6M150.5 353.6h0.6M149.8 356.1h0.6M144.8 362.8h0.6M148.1 352.3h0.6M147.1 351.4h0.6M137.8 364.9h0.6M135.8 356.8h0.6M135 360.6h0.6M136.3 355.7h0.6M153.8 357.5h0.6M143.4 348.4h0.6M138.2 350h0.6M146 351.1h0.6M136.4 350.9h0.6M148.6 362.1h0.6M138.9 354.7h0.6M138.5 359.8h0.6M144.9 350.6h0.6M135.8 361.5h0.6M138.6 362.4h0.6M136.3 349.9h0.6M134 366.6h0.6M144.2 348.1h0.6M140.3 361.7h0.6M137.3 366.1h0.6M132.6 359.3h0.6M145 351.9h0.6M154 359.8h0.6M135.4 364.4h0.6M133.1 362.8h0.6M150.7 361.8h0.6M133 349.1h0.6M150.6 366.4h0.6M138.4 368.2h0.6M150.2 350.1h0.6M151.8 348h0.6M159.2 374.4h0.6M157.5 380.9h0.6M155 391.2h0.6M157.5 384.9h0.6M159.6 390.2h0.6M162.8 380.8h0.6M165.9 382.3h0.6M161.2 373.6h0.6M166.5 383.8h0.6M161.3 391.7h0.6M161.4 386.3h0.6M156.8 377.8h0.6M163.9 375.5h0.6M169.4 391.8h0.6M164.1 385.8h0.6M158.4 386.9h0.6M167.4 380h0.6M162.9 384.3h0.6M158.1 370.8h0.6M157.1 381.5h0.6M164 388.8h0.6M158.4 373.5h0.6M160.7 373.4h0.6M158.2 380.7h0.6M164.7 372.1h0.6M156.9 380.3h0.6M162.2 373.7h0.6M164.3 382.3h0.6M168.9 391h0.6M163.8 371.8h0.6M162.2 375.8h0.6M158.5 371.5h0.6M164.8 384.4h0.6M158.5 374.9h0.6M169.4 382.1h0.6M164.9 375.3h0.6M168.6 385.8h0.6M162 372.3h0.6M160.9 370.4h0.6M157.5 387.2h0.6M156 374.4h0.6M159.5 391.3h0.6M156.8 379h0.6M162.4 370.8h0.6M162.9 371.4h0.6M159.2 377h0.6M169.5 379.5h0.6M158.8 377.1h0.6M158.9 373.4h0.6M159.1 385.2h0.6M159.7 374.9h0.6M154.9 387.3h0.6M158.8 375.8h0.6M167.2 391.3h0.6M162.7 371.3h0.6M167 386.7h0.6M154.6 376.2h0.6M167 380.4h0.6M157 391.7h0.6M157.5 373.8h0.6M164.9 391.7h0.6M165 370.2h0.6M154.6 374.6h0.6M164.4 391.1h0.6M156.1 384.6h0.6M164.6 370.5h0.6M168 376.8h0.6M160 387.4h0.6M162.6 383.7h0.6M155.2 383.6h0.6M156.6 388.1h0.6M166.1 384.2h0.6M164.1 391.5h0.6M166.9 385.7h0.6M159.8 370.1h0.6M169.5 371.2h0.6M155 383h0.6M169.4 379.7h0.6M157.5 370.2h0.6M156.8 377.8h0.6M159.6 375.8h0.6M167.7 392h0.6M169.2 374.2h0.6M164.9 373.4h0.6M161.3 380.9h0.6M159.1 387.2h0.6M157.6 387.6h0.6M165.9 383.8h0.6M155.5 372.5h0.6M166.6 391.1h0.6M157.9 384.6h0.6M165.8 389.1h0.6M156.4 374.3h0.6M155.3 385.2h0.6M159.7 385.3h0.6M156.8 384h0.6M158.4 379.5h0.6M163.3 390.9h0.6M157.2 387.2h0.6M155.1 373.7h0.6M164.9 371.6h0.6M167.1 389.5h0.6M157.6 385.5h0.6M164.2 391.5h0.6M161.8 378h0.6M167.7 375.7h0.6M168.2 377.8h0.6M160.5 388.3h0.6M165.8 373.9h0.6M164.3 391.7h0.6M160.4 382.2h0.6M164.3 385.8h0.6M160.2 378.2h0.6M157 383.7h0.6M159.3 387.3h0.6M155 386.7h0.6M156.7 389.1h0.6M166.8 377.7h0.6M155.8 374.5h0.6M157.5 391.5h0.6M166.6 370.3h0.6M154.4 382.2h0.6M161.2 382.1h0.6M167.1 388.4h0.6M156.3 391.3h0.6M161.3 380.2h0.6M156.6 375.1h0.6M157.1 376h0.6M162.6 375.5h0.6M158.4 372.3h0.6M155.4 390h0.6M161 379.8h0.6M156.3 391.6h0.6M154.5 387.2h0.6M155 376.2h0.6M161.7 379.9h0.6M165 382.5h0.6M165 371.3h0.6M158.8 375.9h0.6M161.6 379.1h0.6M155.9 372.7h0.6M155.2 371h0.6M164.1 391.2h0.6M163.3 374.2h0.6M163.6 380.8h0.6M158.6 387.6h0.6M158.3 376.6h0.6M155 375.2h0.6M168.3 380.4h0.6M165.4 380.7h0.6M158.3 377.7h0.6M162 376.6h0.6M162.1 370.4h0.6M160.2 372.4h0.6M161.6 381.6h0.6M168.1 389.2h0.6M167.9 379.7h0.6M158.8 388.6h0.6M156.1 378.2h0.6M155.2 387.8h0.6M165.6 390.4h0.6M174.2 321.6h0.6M187.1 315.4h0.6M180.7 320.9h0.6M181.4 323.9h0.6M192.8 311.7h0.6M183.1 313h0.6M192.2 321.9h0.6M179.6 311.7h0.6M177.5 318h0.6M186.3 317h0.6M182.6 318.1h0.6M169.7 314h0.6M187 319.3h0.6M190 308.7h0.6M192.8 324.3h0.6M185.1 321.2h0.6M174.5 307.9h0.6M175 315.2h0.6M192 311.4h0.6M193 321.4h0.6M170.6 304.6h0.6M194.6 314.5h0.6M189.1 322.1h0.6M177.2 304.3h0.6M191.3 323.6h0.6M179.6 317.9h0.6M169.8 323.7h0.6M184.9 324.5h0.6M186.9 311.5h0.6M174 314.8h0.6M191.3 315.2h0.6M183.1 308.6h0.6M173.2 309h0.6M177.2 313.9h0.6M193.2 309.7h0.6M175.3 319.6h0.6M193.1 308.9h0.6M177 312.7h0.6M171 305.9h0.6M183.4 309.2h0.6M175.4 320.9h0.6M181.6 315.8h0.6M186 319.6h0.6M192.7 324.4h0.6M172.3 319.5h0.6M170.1 306.5h0.6M176 306.7h0.6M173.3 308.9h0.6M190 320.5h0.6M182.1 315.5h0.6M188.3 316.4h0.6M171.4 313.7h0.6M174.6 313.9h0.6M194.1 308.1h0.6M177.6 316.2h0.6M186.1 310.4h0.6M179.5 314.5h0.6M192.9 305h0.6M191.9 315.7h0.6M192.6 312.2h0.6M185.9 304.5h0.6M175.1 317.6h0.6M177.8 314.9h0.6M194.3 315.8h0.6M186.4 315.8h0.6M175.9 324.7h0.6M179.1 304.5h0.6M180.2 312.7h0.6M174.7 313h0.6M171.3 323.8h0.6M182.6 310h0.6M183.3 316.4h0.6M179.3 321h0.6M181 323.4h0.6M188.8 318.5h0.6M173.6 318.8h0.6M194.2 321.1h0.6M170.6 310h0.6M169.5 318h0.6M191.8 318.4h0.6M186.2 315.4h0.6M187.9 315.5h0.6M189.6 307.3h0.6M181.4 317.2h0.6M171.2 315.8h0.6M192.6 305.8h0.6M188 319.1h0.6M191.9 324.3h0.6M185.6 316.5h0.6M181.5 313.2h0.6M184.7 311.1h0.6M189.6 315.5h0.6M180.5 314.8h0.6M187.4 321.6h0.6M190 318.9h0.6M175.7 304h0.6M172.5 305.8h0.6M182.3 305.6h0.6M181.4 319.9h0.6M180.6 322.3h0.6M178.6 314.2h0.6M176.2 306.7h0.6M184.1 306.6h0.6M173.2 310.1h0.6M187.8 324.6h0.6M175 309.1h0.6M193.9 316.2h0.6M189.6 325h0.6M186.1 309.2h0.6M194.2 322.7h0.6M169.6 324.3h0.6M185.8 308.9h0.6M181.5 310.3h0.6M189 312.4h0.6M171.7 322.7h0.6M177.8 307.7h0.6M187.1 306.7h0.6M184.7 313.3h0.6M172.6 324.1h0.6M187 305.2h0.6M192.2 317.5h0.6M190.2 320.2h0.6M173.8 310.6h0.6M173.8 321h0.6M193.4 316h0.6M186.3 324.5h0.6M182.6 313.3h0.6M176.6 324.7h0.6M172.6 308h0.6M190.9 304.6h0.6M174.5 315.1h0.6M175.5 312.1h0.6M170.1 318h0.6M171.4 310.1h0.6M172.1 318.6h0.6M175 315.6h0.6M170.3 315.9h0.6M178.1 323.1h0.6M174.4 310.2h0.6M191.4 305.3h0.6M181.9 314.2h0.6M176.8 307.5h0.6M182.1 304.6h0.6M169.7 310h0.6M179 309.4h0.6M187.4 312.7h0.6M184.8 316.4h0.6M187.4 323.6h0.6M183.6 318.6h0.6M183.5 305.6h0.6M190.5 315.1h0.6M170.5 319.6h0.6M182.1 323.9h0.6M180 313.9h0.6M192.1 323.5h0.6M188.9 313.3h0.6M180.4 319.5h0.6M192.1 313.6h0.6M187.2 315.8h0.6M183.4 308.5h0.6M176.6 309.4h0.6M194.3 304.5h0.6M175 308.3h0.6M190.1 318.1h0.6M177.3 306.2h0.6M186.5 319.7h0.6M185.7 319h0.6M184.6 304.6h0.6M189.5 322.3h0.6M173.7 312h0.6M194.3 324.5h0.6M190.1 321.7h0.6M173.5 322.4h0.6M190.2 308.2h0.6M192.5 321.1h0.6M192.6 322.9h0.6M171.8 307.6h0.6M189.8 307.6h0.6M178.3 320.6h0.6M190.4 312.4h0.6M179.9 318.6h0.6M194.6 317.2h0.6M178.2 309h0.6M174.2 316.8h0.6M187.6 308.7h0.6M188.2 316.7h0.6M183.9 315.1h0.6M179.9 304.3h0.6M183.1 317.9h0.6M191.9 324.4h0.6M185.8 307.4h0.6M191.1 312.7h0.6M193.8 323.8h0.6M171.8 305.1h0.6M170.7 318.2h0.6M181.9 317.1h0.6M177.7 316.5h0.6M171.9 308.3h0.6M188 308.8h0.6M172.4 317.6h0.6M194.3 323.6h0.6M191.7 319h0.6M169.7 307.3h0.6M184.2 315.2h0.6M190.6 304.6h0.6M185.3 305.5h0.6M188.5 305.9h0.6M181.8 320.2h0.6M194.3 320.7h0.6M189.2 310.3h0.6M185.6 315.4h0.6M182 316.5h0.6M180.7 311.9h0.6M188.7 317.6h0.6M194.1 323.5h0.6M189.7 306.3h0.6M182.2 314.4h0.6M189.4 323.1h0.6M174.5 304.2h0.6M191.4 324.5h0.6M178 316.6h0.6M179.2 312.1h0.6M185.6 318.5h0.6M192.2 311.7h0.6M182 313.5h0.6M194.3 314.9h0.6M192.6 324.3h0.6M170.2 320.2h0.6M172.3 314.4h0.6M185.4 305.7h0.6M184.1 318.5h0.6M178.3 315.3h0.6M179.5 307.2h0.6M175.9 323.8h0.6M185.5 315.4h0.6M189.8 321.6h0.6M188.6 312.4h0.6M183.1 310.8h0.6M171.1 323.4h0.6M171.5 311.8h0.6M191 310.5h0.6M192.5 304.4h0.6M173.3 313.4h0.6M185.5 320.7h0.6M192.1 321.2h0.6M174.2 324.8h0.6M170.7 313.8h0.6M178.3 304.5h0.6M174.6 324.9h0.6M193.9 311.2h0.6M194.7 319.5h0.6M170.3 316.7h0.6M174.7 309.8h0.6M187.6 308.4h0.6M178.4 414.1h0.6M177.6 418.4h0.6M172.4 415.4h0.6M179.7 415.2h0.6M193.1 417.7h0.6M178.8 414.9h0.6M190 416.7h0.6M171.4 419.4h0.6M192.5 427.3h0.6M181.3 422.4h0.6M171.3 427.1h0.6M188.5 417.6h0.6M190.7 416.3h0.6M181.7 418.2h0.6M183.8 417.6h0.6M183.2 417.7h0.6M169.9 415.6h0.6M189.4 420.5h0.6M182.4 423.6h0.6M175.9 416.7h0.6M179.8 424.9h0.6M187.9 420.7h0.6M184.8 417.7h0.6M193.4 423.3h0.6M189.8 419.4h0.6M184.1 424.3h0.6M182.9 425h0.6M176.4 425.4h0.6M177.5 421.5h0.6M173.1 419.9h0.6M191.8 414.4h0.6M174.2 421.9h0.6M186.1 424h0.6M186.8 424.4h0.6M184.7 416.2h0.6M183.2 418.1h0.6M169.6 421.4h0.6M194.1 420.8h0.6M188.7 423h0.6M170.4 422h0.6M194.4 423.5h0.6M177 427.1h0.6M186.4 427.5h0.6M190.9 422.5h0.6M181.3 421.7h0.6M177.5 426.4h0.6M172.7 428.3h0.6M178 420.4h0.6M184.8 418.5h0.6M184.8 414.8h0.6M191.4 415.5h0.6M191.5 426.4h0.6M189.3 424.9h0.6M174.2 422.2h0.6M171.1 424.8h0.6M189.4 417.1h0.6M180.7 415.3h0.6M186.3 424.1h0.6M171 422.9h0.6M191.6 416.6h0.6M192.4 418h0.6M169.9 415.2h0.6M188.6 416.8h0.6M191.2 420.3h0.6M171.6 425.8h0.6M177.8 415.9h0.6M169.6 418.4h0.6M181.1 421.2h0.6M184.2 415.2h0.6M169.6 426.9h0.6M180.2 424.5h0.6M192 422.6h0.6M188.2 417.2h0.6M174.8 421.4h0.6M194.4 428.1h0.6M175.3 423.2h0.6M176.8 419.2h0.6M176.6 428.4h0.6M179.2 420.7h0.6M171.7 426.3h0.6M171.7 426h0.6M175.5 417.4h0.6M170.6 419.1h0.6M193.6 419.2h0.6M177.9 424.8h0.6M175.3 425h0.6M193.9 426.4h0.6M170.5 425.3h0.6M189.4 425.5h0.6M184.1 415.6h0.6M186.6 422.4h0.6M181.7 425.1h0.6M174.1 419.4h0.6M185.4 427h0.6M194.5 426.9h0.6M176.1 420.1h0.6M182.7 420.7h0.6M171.5 419.3h0.6M193 419.5h0.6M191.7 426.9h0.6M182.5 427.3h0.6M194.1 414.1h0.6M184.4 427.8h0.6M177.3 419.3h0.6M173.3 426.8h0.6M183.7 422.6h0.6M184.5 427h0.6M182.5 422h0.6M180.8 418.9h0.6M193.9 423.4h0.6M182 415.3h0.6M185.6 414.6h0.6M181.4 417.1h0.6M179.4 417.2h0.6M175.2 420.3h0.6M172.5 417.7h0.6M187.6 415.5h0.6M190.8 420h0.6M174.8 425.2h0.6M179 419.3h0.6M169.5 416.6h0.6M193.1 421.2h0.6M180.5 422.6h0.6M171.8 416.2h0.6M191.2 423.2h0.6M177.5 426.5h0.6M176.8 420.5h0.6M189.3 426.4h0.6M176.6 428.2h0.6M174.8 417.9h0.6M182.5 422.1h0.6M183.1 420.8h0.6M189.1 417.6h0.6M180.5 423.8h0.6M191.9 417.7h0.6M178.4 420.8h0.6M176.2 421.4h0.6M193.2 417.4h0.6M190.4 426.9h0.6M181.8 419.1h0.6M172.5 422h0.6M190.8 419.5h0.6M175.9 426h0.6M173.5 422.2h0.6M188.8 421.4h0.6M176.9 422.7h0.6M178 423.7h0.6M189.6 425.6h0.6M189 415.8h0.6M176.3 423.7h0.6M185.5 427h0.6M180.6 414.9h0.6M171.4 414.7h0.6M183.1 418.7h0.6M170.4 427.2h0.6M171.1 419h0.6M189 423.9h0.6M175 428h0.6M180.8 425.9h0.6M180.1 423.4h0.6M193.6 414.9h0.6M183.8 422.6h0.6M193.9 422.7h0.6M176.1 416h0.6M183.5 416.4h0.6M178.3 427.9h0.6M174.1 417h0.6M186.4 421.3h0.6M192.4 418.7h0.6M188.6 420h0.6M194.6 427.3h0.6M174.4 419.4h0.6M181.4 420.8h0.6M184.4 424h0.6M173.3 423.4h0.6M200.4 312.6h0.6M196.6 309.3h0.6M198.9 306.5h0.6M196.2 310.3h0.6M199.5 319.6h0.6M198.5 307.1h0.6M197.1 305.3h0.6M201.6 313.7h0.6M200.5 309.2h0.6M196.6 307h0.6M197.4 318.4h0.6M198.5 310.8h0.6M195.6 309.7h0.6M200 307.7h0.6M201.5 321.6h0.6M195.9 304.1h0.6M200.4 304.9h0.6M199.3 314.6h0.6M197.5 316.2h0.6M194.8 319.8h0.6M200.5 304.8h0.6M196.6 321.6h0.6M196.1 307h0.6M200.3 324.8h0.6M201.5 308.1h0.6M195.6 304.2h0.6M195.5 310.9h0.6M201.3 319.9h0.6M195.9 312.3h0.6M198.5 307.3h0.6M195.1 308h0.6M196.8 304.8h0.6M201.4 324.4h0.6M198 313.1h0.6M198.5 321.5h0.6M197.5 323.3h0.6M201.3 309.8h0.6M198.7 324.1h0.6M196.8 324.8h0.6M198.2 318.1h0.6M195.4 312.3h0.6M199.2 308.3h0.6M201.4 312.3h0.6M198.6 320.3h0.6M196.9 318.7h0.6M199.8 320.3h0.6M196.9 311.1h0.6M198.7 313.4h0.6M198 315.9h0.6M199.9 307h0.6M196.2 306.7h0.6M198.3 308.3h0.6M201.1 308.3h0.6M197.8 320.1h0.6M196.7 305.7h0.6M196.3 318.8h0.6M197.1 323.9h0.6M195.8 310.4h0.6M198.1 311h0.6M196.7 306.2h0.6M198.2 319.7h0.6M197.2 324.7h0.6M199 311.6h0.6M197.2 309.8h0.6M195.4 313.9h0.6M198.4 320.7h0.6M195.2 304.6h0.6M201 311.6h0.6M199.7 322.4h0.6M196.6 416.6h0.6M200.1 418.4h0.6M198.2 414h0.6M198.7 420.4h0.6M196.1 416.8h0.6M201.1 427h0.6M196.8 418.6h0.6M197 419h0.6M197.3 427.9h0.6M194.8 419.3h0.6M198.5 422.9h0.6M197 424.5h0.6M197.7 416.2h0.6M201 417h0.6M199.6 427.5h0.6M195.9 425h0.6M200.1 419h0.6M201 416h0.6M198.3 428.2h0.6M198.3 426.7h0.6M197.5 423.4h0.6M198.1 424.3h0.6M199.8 424.4h0.6M199.9 417.1h0.6M199.2 425.5h0.6M199.8 416.6h0.6M198.5 414.2h0.6M201.4 423.4h0.6M196.4 422.7h0.6M196.9 422.1h0.6M200.1 426.4h0.6M201.5 423.6h0.6M198.4 421.5h0.6M195.7 414.5h0.6M200.8 428.1h0.6M200.4 416.7h0.6M199 416.8h0.6M196.9 425.5h0.6M201.1 414.2h0.6M200.1 424.3h0.6M199.5 416.1h0.6M197.1 424.8h0.6M196.1 416.5h0.6M198 416.5h0.6M196.5 416.3h0.6M196.2 415.5h0.6M197.5 418.9h0.6M195.7 416.6h0.6M204.4 393.2h0.6M203.6 392.8h0.6M206.7 394.1h0.6M204.8 394.4h0.6M206.3 409.1h0.6M206.5 393.5h0.6M202.9 394.9h0.6M207.7 393.5h0.6M206.9 405.6h0.6M207.4 399.5h0.6M204.5 398.2h0.6M206.1 400.5h0.6M206.5 399.7h0.6M207.4 402.5h0.6M203.5 399.4h0.6M203.2 408.1h0.6M201.9 399.1h0.6M204.6 402.7h0.6M202.3 403.8h0.6M202.5 396.9h0.6M203.8 393.3h0.6M208.5 393.1h0.6M207.8 404.1h0.6M208 402.4h0.6M205.4 399.8h0.6M205.4 397.8h0.6M202.8 402.3h0.6M207.1 409.2h0.6M207.9 402.6h0.6M203 401.8h0.6M202.7 407.1h0.6M206.8 398.6h0.6M203.8 407.7h0.6M204.6 393.4h0.6M206.2 399.4h0.6M202.4 407.1h0.6M203 395.4h0.6M205.2 396.4h0.6M203.9 399.9h0.6M208 402.4h0.6M204.6 406.6h0.6M208 408.1h0.6M201.8 406.2h0.6M207 404.5h0.6M206.6 403.6h0.6M203 408.4h0.6M207.1 396.2h0.6M205.3 395.3h0.6M203.2 403h0.6M202.6 392.1h0.6M205.9 402.8h0.6M207.9 392.5h0.6M203.7 394.1h0.6M207.9 406.2h0.6M202.7 400.3h0.6M206.4 402.9h0.6M204.9 401.5h0.6M203.1 393.1h0.6M209.2 436.1h0.6M209.2 441.8h0.6M209.9 428.7h0.6M211.5 438.5h0.6M212 435.2h0.6M212.8 438.6h0.6M212.9 440.4h0.6M209.8 435h0.6M209.5 438h0.6M210.3 435.4h0.6M210.2 431.1h0.6M211.3 439.4h0.6M210.1 430.4h0.6M211.4 437.8h0.6M211.1 440.9h0.6M212.9 439.9h0.6M211.3 442.6h0.6M211.1 436.3h0.6M209.5 433.3h0.6M210.2 432.5h0.6M209.8 431.3h0.6M209 436.8h0.6M210.5 440.6h0.6M211.9 442.4h0.6M212.8 430.1h0.6M211.6 442.4h0.6M208.9 430.6h0.6M208.6 431.2h0.6M212.9 441.7h0.6M209.2 428.6h0.6M209 441.5h0.6M210 437h0.6M210.2 434.8h0.6" stroke="#1c1408" stroke-width="1.0" stroke-linecap="round" opacity="0.62"/>
<path d="M35.8 431.3h0.8M14.4 324.3h0.8M38.7 399.7h0.8M35.5 295.7h0.8M13 285.1h0.8M32.9 421.9h0.8M34 360.7h0.8M26.3 392.2h0.8M48.3 335.5h0.8M36.1 347.1h0.8M21.5 424.4h0.8M14.8 324.4h0.8M46.6 355.6h0.8M26.6 280.8h0.8M25.9 391.7h0.8M37.5 365.5h0.8M47.5 313.8h0.8M22.6 365.8h0.8M46.8 383.2h0.8M44.1 408.3h0.8M12.8 369.1h0.8M21.2 378h0.8M41.4 403.5h0.8M19.1 314.5h0.8M17.9 408.2h0.8M38.4 352.9h0.8M32.5 389.4h0.8M29 275h0.8M47.7 397h0.8M30.5 353.5h0.8M19.7 286.1h0.8M14 374.4h0.8M42.4 291.9h0.8M19.3 326.8h0.8M22.6 393.6h0.8M21.2 291.3h0.8M27.1 414.6h0.8M38.6 261.9h0.8M17.2 248.6h0.8M37 372.4h0.8M18.2 296h0.8M43.9 248.1h0.8M39.4 408.2h0.8M36.5 303.4h0.8M39.7 427.5h0.8M32.9 365.8h0.8M34.5 429h0.8M48.4 374.5h0.8M30.3 263.5h0.8M30.2 325h0.8M37.4 337.8h0.8M21 279h0.8M40 355.3h0.8M40.8 277.7h0.8M28.7 261.9h0.8M18.5 309.8h0.8M22.3 433.9h0.8M15.9 343.4h0.8M15.5 420h0.8M15.9 414h0.8M23.8 311.6h0.8M15.7 366.7h0.8M14.7 375.3h0.8M31.9 294.5h0.8M36.3 383.7h0.8M14.4 425.6h0.8M44.7 402.1h0.8M46.5 308.5h0.8M16.8 326.7h0.8M46.3 377.6h0.8M16.1 392.3h0.8M42.2 332.7h0.8M36.3 417.1h0.8M27.9 400.1h0.8M33.3 399.4h0.8M43.7 268.3h0.8M19.1 358.5h0.8M25 299.1h0.8M12 329.1h0.8M49.3 322h0.8M20 314.6h0.8M34.5 243.4h0.8M18.4 345.9h0.8M25.6 380.8h0.8M16.8 250.9h0.8M46.1 392.3h0.8M36.1 361.9h0.8M19.2 268.6h0.8M28.6 378.4h0.8M29.3 340.8h0.8M15 432.9h0.8M20.9 317.9h0.8M42.1 432.5h0.8M25.8 330.7h0.8M43.4 338.4h0.8M16.4 282.6h0.8M24.6 238.6h0.8M14.4 421.7h0.8M43.2 408.3h0.8M23.4 309.6h0.8M47.1 248.7h0.8M28.2 312.7h0.8M39.8 378.8h0.8M49.2 436.6h0.8M34.7 426.6h0.8M34.4 280.4h0.8M31 293.2h0.8M46 402.7h0.8M15.8 371.4h0.8M36.1 396.5h0.8M17.5 357.7h0.8M16.1 325.6h0.8M25.5 311.1h0.8M27.3 343.8h0.8M16.2 346.4h0.8M14.8 382h0.8M13.3 337.5h0.8M12.1 398.7h0.8M47.3 391.1h0.8M29 333.1h0.8M40.2 253.8h0.8M25.3 336.7h0.8M18.5 332.1h0.8M25.1 266.6h0.8M34 327.6h0.8M16.7 347.9h0.8M20.4 354.9h0.8M23.9 385.6h0.8M34.4 238.6h0.8M24.6 393.9h0.8M24.6 396.4h0.8M44.2 428.2h0.8M40.1 325.5h0.8M29.9 255.7h0.8M23 291.8h0.8M41.8 399.3h0.8M35.6 394.9h0.8M28.1 369.5h0.8M25.3 240.9h0.8M31.6 418.3h0.8M30.6 423.5h0.8M26.5 290.2h0.8M17.9 326.4h0.8M23.6 260.6h0.8M23.7 433.9h0.8M41.2 324.4h0.8M20.8 340h0.8M24.5 365.2h0.8M22.5 365.8h0.8M40.7 295.6h0.8M20.3 354.5h0.8M33.4 419.1h0.8M42.4 332.9h0.8M30.5 399.9h0.8M33.5 262.8h0.8M26.3 261.8h0.8M37.1 398.3h0.8M35.8 249.2h0.8M27.2 241.6h0.8M37.6 392.7h0.8M19.5 385.1h0.8M13.8 267.8h0.8M46.7 282.5h0.8M36.3 430h0.8M40.7 331.6h0.8M28 320.6h0.8M17.8 399.3h0.8M31.5 394.9h0.8M29.9 286.5h0.8M21.7 262.3h0.8M38.9 340.9h0.8M26.4 438.5h0.8M25.6 311h0.8M20.3 295.1h0.8M21.3 343.1h0.8M27.7 334.5h0.8M43.2 310.1h0.8M34.7 343.1h0.8M47.4 360.5h0.8M46.8 312.2h0.8M19.2 280.7h0.8M42.6 261.4h0.8M22.9 412.2h0.8M14.3 382.5h0.8M26.7 283.8h0.8M47.4 414.6h0.8M20 265.2h0.8M32.8 253.1h0.8M47.4 305.3h0.8M23.8 249.4h0.8M30.3 353.3h0.8M16.7 381.9h0.8M31.2 406.7h0.8M46.4 417h0.8M28.4 309.3h0.8M35.8 321.7h0.8M29 288.8h0.8M17.6 259.1h0.8M35.7 425.5h0.8M48.7 292.7h0.8M19.7 255.7h0.8M15.9 406.7h0.8M24.9 313.7h0.8M19.3 382h0.8M19.2 433.9h0.8M12.9 428.5h0.8M27.3 329.1h0.8M30.7 286.9h0.8M46.3 344.6h0.8M32.4 417.2h0.8M36.7 410.3h0.8M16.4 299.5h0.8M19.9 343.2h0.8M21.8 422.4h0.8M19.8 317.9h0.8M27.1 303.3h0.8M38.5 339.2h0.8M41.8 310.4h0.8M43.3 409.4h0.8M27.1 430.6h0.8M46.7 284.1h0.8M32.6 417h0.8M20.6 416.4h0.8M23.3 406.6h0.8M26.1 432h0.8M44.8 316h0.8M12.5 365.2h0.8M33.2 298.8h0.8M46.3 324h0.8M31.8 284.2h0.8M39.3 348h0.8M17.5 431.1h0.8M22.4 266.1h0.8M39 324.3h0.8M42.1 325.5h0.8M32.7 385.8h0.8M44.7 271.7h0.8M16.2 336.7h0.8M17.7 401.3h0.8M24.7 311.2h0.8M15.2 294.2h0.8M25.6 292.5h0.8M19.9 295.9h0.8M39.1 263.2h0.8M30.9 371.3h0.8M12.8 406.3h0.8M40.3 288.3h0.8M14.2 253h0.8M44.7 246.6h0.8M34.7 358.4h0.8M36.6 330.3h0.8M28.9 333.3h0.8M40.3 258.7h0.8M22 339.5h0.8M27.5 363.7h0.8M26.7 436.9h0.8M20 427.3h0.8M12.6 405.1h0.8M15.8 297.3h0.8M27.9 425h0.8M17 342.7h0.8M41.6 338.3h0.8M39 443.3h0.8M42 289.4h0.8M24.2 350.8h0.8M40.1 439.5h0.8M43.7 398.4h0.8M34.8 384.2h0.8M44.6 402.4h0.8M18.4 284.4h0.8M27.2 436.2h0.8M23.7 405.2h0.8M23 383.5h0.8M44.6 441.3h0.8M33.4 360.5h0.8M18.3 412.8h0.8M19.9 263.9h0.8M44.2 345.4h0.8M29.3 277.3h0.8M46.5 379.1h0.8M44.3 318.2h0.8M30 343.1h0.8M15.4 242h0.8M34.2 311.6h0.8M43.5 394.8h0.8M37 356.1h0.8M21 357.6h0.8M36.9 290.9h0.8M29.4 252.3h0.8M37.2 326.9h0.8M20.2 383.9h0.8M41.9 282.8h0.8M12.3 358h0.8M47.6 256h0.8M42 362.5h0.8M38.4 240.6h0.8M26.8 246.8h0.8M47.4 441h0.8M38.6 360.1h0.8M41 264.9h0.8M48.8 317.4h0.8M28 240.4h0.8M15 428.4h0.8M19.3 341.4h0.8M39.1 388h0.8M28.5 380.1h0.8M43.2 279.8h0.8M26.4 356.4h0.8M37.9 354.7h0.8M13.2 288.1h0.8M25.4 416h0.8M35.1 293.7h0.8M33.2 298.9h0.8M48.2 380.7h0.8M44.9 318.3h0.8M16.9 400h0.8M18.8 413.1h0.8M40.7 415.6h0.8M33.4 370.3h0.8M13.1 295.4h0.8M16.5 251h0.8M31.9 250.8h0.8M30.5 270.2h0.8M19 402.6h0.8M48.9 367.9h0.8M35 274.8h0.8M27.9 420.9h0.8M14.7 315.8h0.8M21.1 283.8h0.8M17.6 388.6h0.8M24.7 440.5h0.8M24 383.5h0.8M25.6 396.3h0.8M14.2 440.2h0.8M21.3 390h0.8M24.1 241.6h0.8M32.1 263.9h0.8M41.3 282.1h0.8M13.9 348.7h0.8M33.9 369.9h0.8M38.7 248.4h0.8M45.8 404h0.8M39.9 239.2h0.8M22.9 280.1h0.8M45 293.4h0.8M26.8 280.9h0.8M39.3 262.8h0.8M29.4 392.9h0.8M25.5 284.5h0.8M31.2 277h0.8M39.2 405.2h0.8M20.8 248.4h0.8M25.9 240.3h0.8M43.8 433.9h0.8M34.2 345.5h0.8M34 312.3h0.8M32.2 364.3h0.8M43.7 298.8h0.8M17.5 329.3h0.8M13.8 302.1h0.8M31.1 413.7h0.8M34 440.8h0.8M41.4 440.4h0.8M45 305.6h0.8M18.7 381.4h0.8M39.6 321.7h0.8M42.7 370.5h0.8M42.6 238.4h0.8M43.4 418.6h0.8M20.7 410.6h0.8M21.9 412.6h0.8M43.2 408.6h0.8M15.6 278.1h0.8M32.5 287.1h0.8M26.2 435.2h0.8M46.1 271.4h0.8M18.3 398.1h0.8M33.3 239.8h0.8M47.9 275.6h0.8M15.2 419.8h0.8M42.9 258.7h0.8M33.6 431.8h0.8M49.2 424.6h0.8M43.4 430.5h0.8M61.7 384h0.8M75.7 406.6h0.8M67.8 410.5h0.8M72.7 427.6h0.8M77.3 417.5h0.8M55.1 307.8h0.8M64.6 238.8h0.8M58.1 417.2h0.8M79.4 338.8h0.8M65.3 261h0.8M65.9 429.6h0.8M58.9 372.9h0.8M74.6 331.5h0.8M62.7 384.6h0.8M54.9 307.6h0.8M56.5 251.2h0.8M56.9 408.9h0.8M72.5 320.8h0.8M52.9 343.4h0.8M58.2 367.4h0.8M75.8 312.2h0.8M59.5 408h0.8M75.8 380.5h0.8M59.7 428.3h0.8M51.4 441.1h0.8M71.6 250.7h0.8M54.6 401.6h0.8M78.2 258.2h0.8M68.5 414.2h0.8M69.9 428.7h0.8M76.4 274.4h0.8M52 421.5h0.8M57 418.1h0.8M78.9 317.5h0.8M73 281.2h0.8M65.2 263.3h0.8M68.7 267.2h0.8M62.5 243h0.8M79.5 364.5h0.8M59.8 284.3h0.8M73.5 338.9h0.8M66.8 246.6h0.8M60.7 333.9h0.8M75.3 280h0.8M50.9 348.6h0.8M56.1 245.9h0.8M52.7 336.7h0.8M62.6 292.4h0.8M71.1 248.3h0.8M58.4 339.8h0.8M56.9 436.6h0.8M59.8 331.7h0.8M78.7 344.8h0.8M56.6 335.9h0.8M79.9 408.8h0.8M59 253.1h0.8M77.9 299.5h0.8M51.9 324.3h0.8M72.9 314.4h0.8M74.1 430.7h0.8M70.1 419.2h0.8M67.5 255.4h0.8M70.3 290.5h0.8M74.3 422.4h0.8M63.8 382.8h0.8M50.9 356.2h0.8M69.7 426.8h0.8M51.5 278.4h0.8M72.8 363.9h0.8M63.3 437.6h0.8M51.6 416.9h0.8M52.9 287.8h0.8M69.7 248.6h0.8M73 301.4h0.8M73.9 361.4h0.8M57.3 400.6h0.8M77.7 400.5h0.8M52.3 328.9h0.8M51.5 330.2h0.8M58.1 346.8h0.8M76.1 391.1h0.8M73.8 249.5h0.8M64.3 323.5h0.8M71.7 420.2h0.8M49.6 415.2h0.8M59.6 244.7h0.8M68.5 348h0.8M79 403.1h0.8M63.8 398.2h0.8M76.8 344.1h0.8M59.2 372.2h0.8M75.6 384.3h0.8M68.4 271.6h0.8M71.9 361.1h0.8M71.7 332.4h0.8M50.6 290.3h0.8M67.6 270h0.8M59.4 322.1h0.8M53.8 295.8h0.8M63.2 425.6h0.8M71.5 259h0.8M61.5 404.3h0.8M49.4 383.5h0.8M71.5 289.6h0.8M49.8 301.5h0.8M59.5 374.6h0.8M51.7 272.2h0.8M71.6 246.2h0.8M67.7 314.4h0.8M59.7 322h0.8M59.9 401.2h0.8M77.6 355.1h0.8M70.5 411.5h0.8M52.7 334.3h0.8M50.2 393.3h0.8M76.9 265.9h0.8M62.4 365.7h0.8M65.8 249.2h0.8M62 307.6h0.8M68 421.5h0.8M51.8 349.1h0.8M63.6 317.5h0.8M55.3 330.8h0.8M53 376.6h0.8M58.5 417.2h0.8M56.9 281.4h0.8M55.2 387.5h0.8M75.3 416.5h0.8M65.3 369.1h0.8M60.4 348.1h0.8M52.9 417.3h0.8M62.5 336.8h0.8M52.6 343.5h0.8M55.4 440.2h0.8M51.7 310.8h0.8M51.8 279.4h0.8M64.9 251.9h0.8M68.9 361.2h0.8M73 308.2h0.8M69 307.4h0.8M70.6 440.9h0.8M54.9 378h0.8M74 288.9h0.8M50.9 343.2h0.8M65.1 363.6h0.8M72.8 306.6h0.8M74.2 384.4h0.8M56.9 285.6h0.8M63.3 414.3h0.8M76.4 347.2h0.8M65.7 339.7h0.8M72.4 242.6h0.8M71.2 344h0.8M66.7 413.7h0.8M52.7 343.2h0.8M78.7 288.4h0.8M68.4 295h0.8M73.1 369.3h0.8M53.7 266.5h0.8M60.1 329.3h0.8M74 431.7h0.8M66.4 256.5h0.8M63.5 432.1h0.8M51.8 328.8h0.8M57.6 370.8h0.8M55.9 247.2h0.8M55.1 345.8h0.8M62.4 411.3h0.8M55.9 371.8h0.8M77.9 243.3h0.8M64.5 280.7h0.8M61.3 291.1h0.8M72.8 290.8h0.8M79.7 280.5h0.8M58.5 369.3h0.8M53.2 273.4h0.8M59.7 374.3h0.8M74.7 359.2h0.8M58.2 353.8h0.8M79.7 313.8h0.8M52.9 245.9h0.8M63.3 433h0.8M78.4 380.9h0.8M56.6 315.5h0.8M56 328.2h0.8M73.1 244.4h0.8M65.4 282.1h0.8M68.5 400.2h0.8M73 309.4h0.8M77 240.9h0.8M58.5 268.3h0.8M70.5 337.4h0.8M68 249.7h0.8M52.6 392h0.8M69.4 427.1h0.8M62.7 360.7h0.8M62.6 418.2h0.8M58.5 339.1h0.8M73.7 314.6h0.8M62.8 258.3h0.8M79 341h0.8M63.9 271.9h0.8M62 310.3h0.8M55.1 312.5h0.8M60.3 369.8h0.8M51.7 442h0.8M75.4 240.1h0.8M63.4 388.9h0.8M50.7 421.1h0.8M79.2 252.2h0.8M59.3 437h0.8M58.2 389.5h0.8M74.1 238.9h0.8M64.1 305.8h0.8M74.8 254.2h0.8M70 243h0.8M68.1 335.6h0.8M78 440.8h0.8M74.7 381.6h0.8M61 359.6h0.8M62.5 390.5h0.8M79.5 373.4h0.8M53.9 351.3h0.8M65.8 422.4h0.8M59.3 319.5h0.8M70.8 362.2h0.8M64.6 361.6h0.8M56.5 256.5h0.8M62.8 346.9h0.8M71.9 319.6h0.8M59.7 435h0.8M77.4 281h0.8M75.7 308.1h0.8M51 401.7h0.8M65.6 429.4h0.8M62.8 246.4h0.8M61.5 381.1h0.8M56.6 373.3h0.8M56.4 375.4h0.8M49.8 383.5h0.8M55.7 317.6h0.8M79.2 259.5h0.8M51.7 437.2h0.8M74.4 354.6h0.8M65.6 332.5h0.8M69.2 405.9h0.8M53.6 311.4h0.8M64.9 270.5h0.8M52.7 370.4h0.8M79.7 405.4h0.8M59.2 307.2h0.8M79.8 406.8h0.8M67.8 254.4h0.8M53.4 391.9h0.8M60.7 373.9h0.8M54.5 378.7h0.8M65.2 260.6h0.8M53.4 289.2h0.8M61.5 348.9h0.8M78.5 276.9h0.8M55.4 347.1h0.8M56.3 239.1h0.8M65 322.7h0.8M69.5 342.7h0.8M51.7 328.5h0.8M52.2 253.6h0.8M75.8 424.3h0.8M78.9 388.6h0.8M68.3 341.5h0.8M65.5 303.4h0.8M76.3 333.3h0.8M77.5 312.2h0.8M57.1 369.2h0.8M71.1 337.9h0.8M56.2 255.3h0.8M68.8 265.6h0.8M75.5 332.5h0.8M71.7 293.6h0.8M77.3 287.5h0.8M79.9 251.2h0.8M72.1 299.4h0.8M78.3 362.1h0.8M72 350.3h0.8M73 296.2h0.8M61.1 374.3h0.8M51.2 297.2h0.8M55.5 274.1h0.8M57.2 243.2h0.8M66.5 324.4h0.8M72.2 435.4h0.8M67.8 373.1h0.8M77 435.8h0.8M63 415.5h0.8M62.5 332.6h0.8M57.2 390.9h0.8M57.2 302.9h0.8M63.1 241.4h0.8M74.6 238.2h0.8M53.5 422.4h0.8M73.2 242.4h0.8M56.2 322.8h0.8M50 286.1h0.8M60 439.5h0.8M51 381.5h0.8M55.9 366.7h0.8M49.8 392.8h0.8M77.9 250.8h0.8M79.4 414.7h0.8M58.9 337.4h0.8M49.6 275.3h0.8M51.2 308.7h0.8M57.1 252.2h0.8M51.3 275.9h0.8M51.2 266h0.8M75.2 325.4h0.8M52.1 416h0.8M84.7 284h0.8M81.3 410.1h0.8M92 357.2h0.8M93.7 413.2h0.8M103.9 402.6h0.8M94.2 381.2h0.8M85.9 415.4h0.8M93.8 243.3h0.8M88.9 432.7h0.8M87.9 262.6h0.8M106.1 326h0.8M95.3 312.4h0.8M87 304.2h0.8M104.7 338.5h0.8M98.9 364.2h0.8M86.7 424.2h0.8M104.3 266.6h0.8M81.5 387.1h0.8M84.2 416.2h0.8M93 344h0.8M87.4 352.1h0.8M88.4 241.3h0.8M94.3 417.4h0.8M97.7 333.7h0.8M102.5 247.9h0.8M85.8 313.6h0.8M80.8 256.5h0.8M101.2 334.7h0.8M97.4 275.8h0.8M104.1 427.5h0.8M89.1 278.8h0.8M89.3 296.5h0.8M90.3 378.7h0.8M100.4 422.9h0.8M96.4 406.9h0.8M97.3 254.3h0.8M84.7 286.6h0.8M83 291.3h0.8M97.8 390.8h0.8M92 350.1h0.8M97.1 378.6h0.8M91.5 312.6h0.8M93.9 357.4h0.8M83.8 332.5h0.8M93.4 394.3h0.8M87.7 435.1h0.8M99.2 365.8h0.8M93.4 273.1h0.8M89.2 301.7h0.8M92.7 253h0.8M80.8 442.9h0.8M80.4 299.6h0.8M90.8 440.9h0.8M89.2 297.3h0.8M93 367h0.8M103.2 379.6h0.8M82.2 423.4h0.8M104.1 259.4h0.8M101.8 425.8h0.8M102.3 429.4h0.8M88.3 368.8h0.8M100.7 409h0.8M96.1 419.7h0.8M97.6 316.7h0.8M105.1 322.3h0.8M82.9 425.6h0.8M90 401.2h0.8M103.5 398.6h0.8M98.3 304.7h0.8M93.6 318.9h0.8M101.5 302.5h0.8M91.8 397.3h0.8M83.2 399.8h0.8M94.8 377.3h0.8M98.1 288.1h0.8M103.6 365.5h0.8M89.6 259.9h0.8M85.6 245.2h0.8M87.9 266.1h0.8M81 248.8h0.8M82.9 282.7h0.8M82.7 301.3h0.8M83 270.4h0.8M95.5 315.2h0.8M98.2 285.5h0.8M97.3 295.8h0.8M91.5 290h0.8M82.6 443.1h0.8M87 238.5h0.8M96.4 249.6h0.8M82.9 284.7h0.8M85.5 314.7h0.8M89 301.4h0.8M100.7 316.4h0.8M103.9 382.2h0.8M103.5 326.8h0.8M89.1 357.3h0.8M106.5 254.3h0.8M98.1 407.5h0.8M94.7 263.5h0.8M106.5 305.2h0.8M104.4 335.6h0.8M83.3 347.6h0.8M88 301.5h0.8M103.6 423.1h0.8M95.3 372.9h0.8M97.7 330.3h0.8M100.4 362.8h0.8M106.3 402.9h0.8M103.5 245.6h0.8M92.5 269.2h0.8M88.2 253h0.8M103 331.6h0.8M94.8 407.9h0.8M100.4 416.3h0.8M81.2 258.8h0.8M92.7 358.3h0.8M106.1 310.2h0.8M83.8 288.3h0.8M83.5 391.5h0.8M94.5 289.4h0.8M100.1 316.7h0.8M85.4 252.8h0.8M100.6 408.5h0.8M98.9 435.1h0.8M105.5 239.1h0.8M83.7 341.3h0.8M93.8 310.6h0.8M85.9 292.6h0.8M105.9 339.3h0.8M91.3 390.1h0.8M99.5 402.4h0.8M100.8 301.3h0.8M86.6 341.2h0.8M99.6 293.1h0.8M104 262.9h0.8M86.3 317.2h0.8M84.9 265.1h0.8M88.4 239.7h0.8M96 350.7h0.8M84 390.2h0.8M91 350.5h0.8M103.5 340.8h0.8M83.1 306.6h0.8M84.2 420.4h0.8M86.4 252.6h0.8M92.1 306.9h0.8M100.8 242.6h0.8M86.1 302.7h0.8M83 343.5h0.8M103.7 427.6h0.8M95.6 240.2h0.8M97 268.7h0.8M94.3 365.5h0.8M105.1 354.7h0.8M86.9 255.6h0.8M100 310.7h0.8M88.4 349.5h0.8M97.9 362.3h0.8M80.5 410h0.8M97.6 416.7h0.8M97.8 373.1h0.8M87.3 309.2h0.8M104.8 302.6h0.8M104.2 291.5h0.8M92.2 436.2h0.8M97 344.9h0.8M80.5 319.1h0.8M83.6 354.3h0.8M105.9 291.5h0.8M104.6 428h0.8M84.7 420h0.8M98.9 272.4h0.8M84 364.2h0.8M103.1 300h0.8M100.5 369.7h0.8M83.5 382.9h0.8M87.8 272.9h0.8M92.2 245.2h0.8M103.2 245.4h0.8M106.1 440.7h0.8M103.6 360.5h0.8M106.2 247.1h0.8M90 335.5h0.8M84.5 379.2h0.8M101.7 329.8h0.8M81.7 306h0.8M102.8 440.9h0.8M90.3 240.8h0.8M103.1 382.9h0.8M81.3 340.9h0.8M89.8 441.5h0.8M95.2 429h0.8M91.2 309.2h0.8M94.1 256.3h0.8M90.9 302.6h0.8M84.8 410h0.8M95.3 385.9h0.8M96.1 284.1h0.8M87.5 276h0.8M96.7 300.9h0.8M83.6 406.8h0.8M83.6 438.6h0.8M88.8 376.5h0.8M106.1 288h0.8M103.3 306.2h0.8M94.3 331.2h0.8M94.4 378.5h0.8M100.4 316h0.8M98.5 417.9h0.8M93.6 334.6h0.8M92.4 275.7h0.8M96.2 292h0.8M90 429.1h0.8M87.8 306.4h0.8M97.5 362h0.8M102.5 263.9h0.8M87.1 274.1h0.8M83.9 319h0.8M100.4 409h0.8M85.4 383.8h0.8M85.2 331.1h0.8M83.5 286.9h0.8M101.6 385.5h0.8M93.2 420.3h0.8M83.1 298.9h0.8M97.9 264.5h0.8M92 325.8h0.8M84.8 294.8h0.8M87.1 349.6h0.8M89.1 354.9h0.8M88.9 386.2h0.8M103.3 364.6h0.8M102.1 333.4h0.8M82.4 422.3h0.8M85.4 253.3h0.8M99.8 257.4h0.8M93.6 325.9h0.8M81.6 331.2h0.8M83.2 381.8h0.8M102.4 324h0.8M94.9 318.7h0.8M95.9 437.1h0.8M86.4 360.5h0.8M80.6 426.3h0.8M81.7 325.9h0.8M89.8 350.2h0.8M86.8 275.1h0.8M94.1 405.5h0.8M105.7 323h0.8M86.6 304.1h0.8M83.3 417.5h0.8M101.3 266.5h0.8M104.2 340.1h0.8M95.8 367.7h0.8M99.9 281.7h0.8M89.5 351h0.8M96.8 386.5h0.8M86.1 278.3h0.8M97.9 325.4h0.8M105.8 434.6h0.8M105.5 439.5h0.8M103.5 401.4h0.8M81.6 401.9h0.8M102.3 273.1h0.8M83.1 423.5h0.8M84.8 247.9h0.8M89.6 309.8h0.8M88.2 276.4h0.8M92.2 411.3h0.8M107.4 336.5h0.8M130.9 404.2h0.8M107.2 354.9h0.8M111.5 269.6h0.8M129 426h0.8M132.4 241.2h0.8M106.9 307.6h0.8M116.2 260.2h0.8M130.3 333.7h0.8M132.1 247.3h0.8M118.7 259.5h0.8M131.8 422.4h0.8M109.5 310.6h0.8M131.8 360.1h0.8M116.9 363.2h0.8M118.7 411.6h0.8M108.9 356.1h0.8M130.2 244h0.8M114.6 323.8h0.8M122.1 409h0.8M120.6 255.5h0.8M131.3 276.1h0.8M127.5 260.9h0.8M109.2 374.6h0.8M116.9 412h0.8M108.1 259.8h0.8M108.6 330h0.8M110.9 271.4h0.8M118.3 397.8h0.8M127.1 320.2h0.8M115.5 291.4h0.8M124.5 314.5h0.8M124.8 261.7h0.8M112.3 350.4h0.8M106.6 422.3h0.8M128.4 327.5h0.8M109.1 315.6h0.8M115.5 310.8h0.8M117.9 267.4h0.8M108.1 253.7h0.8M110.2 278.3h0.8M117.3 267.9h0.8M110.3 357.4h0.8M121.2 295.2h0.8M124.8 347.4h0.8M111.9 415.3h0.8M121.3 266.9h0.8M119.5 247.7h0.8M114.5 420.3h0.8M116.7 340.6h0.8M107.3 328.6h0.8M129.2 425.1h0.8M118.5 440.4h0.8M131.9 260.9h0.8M127.8 288.8h0.8M122.2 336h0.8M112.3 278.2h0.8M132.1 416.7h0.8M117.2 406h0.8M124.7 315.2h0.8M127.7 411h0.8M115.3 426.2h0.8M115.8 282.6h0.8M129.6 401.8h0.8M112.2 346.3h0.8M110.6 396.4h0.8M109.3 442.6h0.8M130 312.7h0.8M130.2 331h0.8M122.3 424.4h0.8M107.1 239.5h0.8M114.6 348.7h0.8M125.7 279.2h0.8M108.3 238.5h0.8M106.6 280.4h0.8M131.1 324.2h0.8M113.4 275.7h0.8M117.9 288h0.8M112 331.3h0.8M117.4 438.2h0.8M117.5 246.9h0.8M108 384.9h0.8M120.2 359.9h0.8M131.4 299h0.8M111.2 322.5h0.8M131.3 421.5h0.8M121.2 390.8h0.8M114.5 332h0.8M112 361.2h0.8M126.9 353h0.8M128.8 287.2h0.8M127 383.5h0.8M129 351h0.8M114.4 316.9h0.8M125.2 297.9h0.8M131.8 382.1h0.8M132.4 324.2h0.8M119.8 396.9h0.8M131.7 258.7h0.8M129.4 430.3h0.8M116.1 312.5h0.8M109.2 376.5h0.8M117.7 314.4h0.8M111.7 411.4h0.8M107.5 428.3h0.8M110 328.2h0.8M113.4 250.3h0.8M108.3 261.4h0.8M107 288.3h0.8M114.6 352.5h0.8M130.1 343h0.8M128.9 322.3h0.8M128.3 286.9h0.8M116.4 284.6h0.8M116.3 339h0.8M132.1 392.9h0.8M117 296.3h0.8M125.5 368.5h0.8M131.7 427.4h0.8M108.4 421.6h0.8M108.8 303.1h0.8M114.4 286.3h0.8M116.5 281.6h0.8M118.9 294.1h0.8M120.2 439.6h0.8M107.9 259h0.8M110.6 281.8h0.8M131.5 405.6h0.8M118.8 443.1h0.8M107.7 246.4h0.8M111.1 402.9h0.8M127.7 307.9h0.8M129.8 320.1h0.8M122 397.8h0.8M126.2 353.7h0.8M115.2 272.2h0.8M117.3 435.3h0.8M132.3 418.3h0.8M125.3 241.3h0.8M119.1 440.3h0.8M119.8 370.7h0.8M122.3 353.5h0.8M123.5 339.6h0.8M117.3 433.2h0.8M116.4 365.7h0.8M131.3 298.2h0.8M109.9 240.3h0.8M109.3 285.3h0.8M119.2 243h0.8M130 354.8h0.8M123.2 435.7h0.8M114.2 324.4h0.8M131.5 424.2h0.8M127.1 296h0.8M129.9 242h0.8M109.5 350h0.8M107.6 261.8h0.8M131.9 309.6h0.8M110 415.7h0.8M111 411.9h0.8M116.3 292.1h0.8M127.8 285.7h0.8M131.5 253.2h0.8M108.1 267.5h0.8M131.2 293h0.8M112.7 313.1h0.8M107.2 360.9h0.8M117.4 411.2h0.8M128.5 343.2h0.8M122.2 432.3h0.8M115.9 430.8h0.8M120.4 253.4h0.8M111 394.7h0.8M132.3 242.4h0.8M110.2 397.5h0.8M128.4 268.8h0.8M116.5 360.5h0.8M121.6 321.9h0.8M121.6 431.1h0.8M129.8 297.8h0.8M132 296.4h0.8M114.9 328.1h0.8M128.5 248h0.8M130.3 401.8h0.8M119.2 328h0.8M126 401.5h0.8M122.2 247.9h0.8M118.2 301.5h0.8M118.6 421.7h0.8M111.2 434.5h0.8M116.7 385.5h0.8M124.1 396.1h0.8M126.1 287.8h0.8M123.5 312.9h0.8M131.5 263.4h0.8M108.8 264.8h0.8M107.3 260.2h0.8M117.2 361.2h0.8M118.2 250.7h0.8M109.8 244.3h0.8M122.4 296.6h0.8M120.7 307.9h0.8M129 333.6h0.8M112.3 400.9h0.8M119.2 363.7h0.8M130.5 253.1h0.8M115.4 309.5h0.8M114.2 246.5h0.8M115.9 391h0.8M132 414.1h0.8M129.1 277.9h0.8M108 359.3h0.8M131.8 245.2h0.8M118.3 313.7h0.8M126.9 401.7h0.8M126.3 400.9h0.8M107 383.4h0.8M128.7 303.3h0.8M107.4 409h0.8M129.8 241.6h0.8M121.1 299.8h0.8M125 338.7h0.8M128.7 407.4h0.8M111.6 362.1h0.8M110.4 261.2h0.8M124.5 323.3h0.8M129.8 426.9h0.8M127.7 335.3h0.8M110.1 305.5h0.8M106.7 342.9h0.8M127.2 245.4h0.8M131.4 238.5h0.8M131.8 302h0.8M113.3 428.6h0.8M118.9 334.5h0.8M130.6 439.2h0.8M107.2 374.1h0.8M108.9 355.1h0.8M117 395h0.8M125.2 371.7h0.8M128.1 330h0.8M114.5 251.5h0.8M117.3 389.8h0.8M107.3 295.9h0.8M132.3 312h0.8M131.5 384.6h0.8M111.7 290.9h0.8M127.4 381.9h0.8M113.9 343.3h0.8M124.7 375h0.8M128 322h0.8M130.7 367.9h0.8M121.4 436.6h0.8M121.8 344.7h0.8M107.8 249.7h0.8M129.6 344h0.8M116.5 271.8h0.8M110.8 318.1h0.8M118.9 372.1h0.8M110.1 282.7h0.8M116.3 252.4h0.8M121.7 410.8h0.8M129.9 367.3h0.8M112.4 425.2h0.8M121.8 405.7h0.8M111.1 250.2h0.8M109.9 243.9h0.8M144.2 343.6h0.8M151.5 369.3h0.8M143.5 241.2h0.8M152.2 332.4h0.8M133.3 362.2h0.8M152.2 250.2h0.8M147.1 354.9h0.8M132.5 290.4h0.8M135.1 334.8h0.8M142.8 300.3h0.8M147.7 410.1h0.8M132.9 317.7h0.8M137.6 345.6h0.8M140.6 385.3h0.8M141.1 270.9h0.8M149.3 294.6h0.8M141.2 398.4h0.8M140.6 267.7h0.8M141.6 262h0.8M144.5 241h0.8M136.3 405.7h0.8M145.2 330.4h0.8M152 262.6h0.8M138.2 292.5h0.8M148.9 317.2h0.8M133.2 305.5h0.8M133.7 262.1h0.8M141.3 424.1h0.8M139.9 360.6h0.8M143.1 340.4h0.8M150.6 275.4h0.8M135.5 284.3h0.8M140.2 296.8h0.8M137.4 278.8h0.8M145.6 312.1h0.8M146.2 275h0.8M139.9 278.3h0.8M150.5 293.9h0.8M139.1 263.9h0.8M144.8 294.2h0.8M147.3 318.8h0.8M145.6 346h0.8M152.7 289h0.8M151.1 276.6h0.8M144.6 378.4h0.8M133 301.2h0.8M141.4 270h0.8M148.9 261h0.8M141.7 277.3h0.8M147.9 380.8h0.8M149.7 346.1h0.8M145.7 424h0.8M141.6 432.7h0.8M138.8 323.1h0.8M151.8 256.7h0.8M142.2 386h0.8M145.3 243.4h0.8M140.7 407.8h0.8M142.1 305.3h0.8M137.9 391.9h0.8M133.5 394h0.8M138.7 337.1h0.8M150.6 402.7h0.8M149.3 273.6h0.8M135.6 417.2h0.8M144.8 296.7h0.8M141.3 317.4h0.8M150.8 394.6h0.8M142 392.1h0.8M150 294.6h0.8M136.7 344.3h0.8M133.7 387.4h0.8M140 323.1h0.8M151.8 285.1h0.8M135.1 419.1h0.8M132.7 425.7h0.8M145.1 248.6h0.8M149.5 292.8h0.8M140.2 424.6h0.8M134.4 308.3h0.8M152.7 337.5h0.8M145.1 246.5h0.8M154.2 368.8h0.8M151.3 260.9h0.8M135.7 293.1h0.8M149.5 249.4h0.8M152.8 420.3h0.8M140.5 318.8h0.8M146.1 355.7h0.8M136.3 326.1h0.8M134.9 441.1h0.8M137 414.5h0.8M143.7 337.7h0.8M140.7 416.4h0.8M141.9 269.3h0.8M141.1 255.3h0.8M139.2 291h0.8M153.4 332.7h0.8M149 242.5h0.8M139.4 401.5h0.8M146 435.7h0.8M141.1 417.3h0.8M136.1 349.8h0.8M143.7 330.5h0.8M152.4 432.1h0.8M145.5 431.2h0.8M138.9 308.4h0.8M153.8 302.9h0.8M154 251.9h0.8M138.9 367.5h0.8M151.6 242h0.8M136.9 242.9h0.8M136.5 344.7h0.8M137.6 261.9h0.8M147.2 267h0.8M153.7 414.7h0.8M152 427.3h0.8M152.4 418.1h0.8M138.4 239.8h0.8M134.5 238.7h0.8M140.2 326.7h0.8M148 319.9h0.8M134.4 321.3h0.8M147.3 361.8h0.8M133.1 324.4h0.8M148.2 273.7h0.8M140.2 400h0.8M150.9 296.5h0.8M134.1 285.6h0.8M149.3 391.8h0.8M135.6 306.7h0.8M141.7 338.7h0.8M140 247h0.8M141 349.9h0.8M152.5 238.5h0.8M150 322.5h0.8M137 402.4h0.8M132.6 281h0.8M142.4 302.4h0.8M148.9 244.3h0.8M143.8 258.5h0.8M133.1 281.9h0.8M134.7 263.2h0.8M140.6 442.8h0.8M153.9 290h0.8M137.8 318.9h0.8M136.7 390.9h0.8M142.9 365.2h0.8M141.9 282.5h0.8M135.5 270.9h0.8M141 337.3h0.8M133.2 324.5h0.8M137.6 379.5h0.8M153 326.8h0.8M133.9 355.7h0.8M145.4 323.4h0.8M144.8 409.6h0.8M137.7 312.6h0.8M148.8 251.7h0.8M147.5 273.5h0.8M138.7 403.6h0.8M149.3 323.2h0.8M148.7 274.1h0.8M145.7 353.5h0.8M152.8 415h0.8M143.9 287.5h0.8M136.3 433.3h0.8M134.8 294h0.8M144.8 248.3h0.8M152.9 380.1h0.8M151.2 331h0.8M147 239.8h0.8M150.5 414h0.8M143.3 373.4h0.8M137.3 297.8h0.8M141.2 394.9h0.8M153.5 275.4h0.8M153.1 376h0.8M135.6 400.2h0.8M138.9 245h0.8M141.3 259.7h0.8M152.1 277.4h0.8M137.8 253.4h0.8M143 342.5h0.8M137.5 384.3h0.8M152.7 270.5h0.8M138.2 278.8h0.8M141.6 326.8h0.8M140.2 351.8h0.8M152.3 355.4h0.8M135.2 341h0.8M144.2 340.5h0.8M138.1 316.2h0.8M139.6 358.5h0.8M154.1 329.2h0.8M140.2 251.6h0.8M135.5 288.8h0.8M144.6 368.6h0.8M140.9 407h0.8M154 311.6h0.8M151 344.4h0.8M137.6 266.5h0.8M143.1 377h0.8M140.8 374.5h0.8M148.2 247.1h0.8M140.6 369.2h0.8M150.1 264.2h0.8M146.7 305.1h0.8M153.3 349.8h0.8M153.7 402.1h0.8M144.2 303.5h0.8M138.3 292.7h0.8M134.8 441.6h0.8M150.6 373h0.8M135.5 432.6h0.8M143.8 365.6h0.8M137.2 425.7h0.8M133.3 322.3h0.8M141.8 432.8h0.8M144.8 351.2h0.8M141.9 374.8h0.8M133 416.8h0.8M152.3 333.3h0.8M161.2 344.8h0.8M163 403h0.8M166.1 309.8h0.8M157.6 430.2h0.8M156.7 392.5h0.8M162.3 290.5h0.8M158.1 267.1h0.8M163.2 349.8h0.8M155.7 350.6h0.8M156.1 433.2h0.8M167.3 286.7h0.8M164.2 325.8h0.8M156.4 366.5h0.8M168.8 383h0.8M168.6 363.6h0.8M166.1 262.6h0.8M155.4 266.8h0.8M165.8 422.2h0.8M157 330.4h0.8M167.4 378h0.8M160.5 431.7h0.8M166.1 249h0.8M163.3 344.9h0.8M163.3 352.6h0.8M166.4 397.8h0.8M155.9 423.2h0.8M161.6 397h0.8M157.6 313.4h0.8M160.9 442.7h0.8M168.7 385h0.8M159 323.7h0.8M157.6 403.6h0.8M163.9 394.1h0.8M160.5 242h0.8M159.6 295.2h0.8M160.1 303.3h0.8M159.5 415.6h0.8M154.9 307.4h0.8M162.8 299.4h0.8M164.3 391h0.8M159.7 380.8h0.8M158.9 326.5h0.8M166.6 259.8h0.8M162.6 340.6h0.8M165.9 284.6h0.8M164.3 349.9h0.8M167.5 418.3h0.8M166.7 349.2h0.8M158.6 406.9h0.8M160.6 303.2h0.8M159.4 421.1h0.8M156.4 415.5h0.8M164.6 395.8h0.8M164 411.4h0.8M154.9 343.6h0.8M165.1 298.2h0.8M168.2 262.5h0.8M160.8 271.3h0.8M164.2 402.1h0.8M156.8 419.2h0.8M161.2 416.7h0.8M162.8 389.6h0.8M159 321.7h0.8M160.2 427.9h0.8M158.1 392.9h0.8M164.8 430.1h0.8M167.2 355.6h0.8M154.7 434.6h0.8M167.6 374.3h0.8M159.4 244.9h0.8M163.4 429.4h0.8M157.4 266.6h0.8M158.7 418.8h0.8M167.2 432.2h0.8M164.5 358.4h0.8M162.9 346.9h0.8M161.5 417.2h0.8M156.3 407h0.8M161.5 399h0.8M167.7 278.4h0.8M155.2 408.3h0.8M154.5 356.1h0.8M156.5 320.8h0.8M164.4 415.2h0.8M165.8 319.5h0.8M167.4 369.3h0.8M166.5 365h0.8M154.6 416h0.8M161.9 347.9h0.8M165.8 434.2h0.8M161.2 345.1h0.8M162.8 314.2h0.8M156 409.9h0.8M157.3 259.1h0.8M154.9 391.4h0.8M161.6 382.4h0.8M163.2 378.2h0.8M166.6 238.4h0.8M158.5 291.9h0.8M160.2 250.7h0.8M168 303h0.8M163.9 255.4h0.8M163.4 372.2h0.8M154.9 257.1h0.8M160.8 392.8h0.8M156.5 341.4h0.8M154.6 347.3h0.8M168.7 271.6h0.8M162.1 327.3h0.8M155.6 262.4h0.8M163.9 315.2h0.8M163.3 290.8h0.8M159.5 274.6h0.8M165.5 425.7h0.8M168.1 300.8h0.8M156.1 437.8h0.8M169 319.9h0.8M165.5 371.3h0.8M168.7 378.3h0.8M155.2 327.3h0.8M154.5 410h0.8M165.8 261.4h0.8M161.3 400.6h0.8M159.6 348.8h0.8M154.9 347.8h0.8M154.7 429.9h0.8M167.8 331.6h0.8M169.3 280.7h0.8M169.4 372h0.8M161 432.3h0.8M167.5 391.4h0.8M158.4 254.4h0.8M167.4 346.1h0.8M163.2 313.4h0.8M164 291.2h0.8M166 364.6h0.8M166.6 323.8h0.8M164 300.7h0.8M154.8 295h0.8M160.5 279.2h0.8M161.4 327.3h0.8M155.1 241.2h0.8M161.2 362.4h0.8M155.8 279.4h0.8M159.2 335.3h0.8M155.7 424.6h0.8M157.7 395.5h0.8M164.7 409.1h0.8M163.5 331.5h0.8M162.4 277.5h0.8M167.6 256h0.8M162.6 329.8h0.8M166.8 329.6h0.8M162.6 380.4h0.8M158.4 442.7h0.8M166.7 276.8h0.8M186.4 284.7h0.8M174.5 428.5h0.8M191 283.7h0.8M175.5 437.4h0.8M184.5 332.6h0.8M184.9 279h0.8M183.7 436.2h0.8M177.4 297.9h0.8M185.4 379.5h0.8M187.4 363.9h0.8M182 412.5h0.8M191 266.3h0.8M173.1 277.9h0.8M193.5 295.1h0.8M191.3 288.6h0.8M175 302.1h0.8M170.5 399.9h0.8M185.4 286.6h0.8M179.8 367.9h0.8M192.5 369.8h0.8M183.4 261h0.8M184.8 411.8h0.8M191 299.2h0.8M171.8 280h0.8M192.9 379.5h0.8M193.5 374.3h0.8M175.8 353.1h0.8M186.7 348.7h0.8M193 288.5h0.8M179.4 418.2h0.8M178.7 325.2h0.8M188 292.8h0.8M188.7 363h0.8M191.8 375.6h0.8M175.7 432.3h0.8M182.2 244.6h0.8M178.7 418.6h0.8M172.6 247.8h0.8M183.2 378.8h0.8M186.9 259h0.8M187.2 428.9h0.8M177.7 432.1h0.8M174.2 307h0.8M178.9 400.8h0.8M184.5 275.5h0.8M191.8 242.3h0.8M190.5 348h0.8M188.7 340.9h0.8M192.4 439.4h0.8M172.4 404.6h0.8M184.4 246.8h0.8M177.1 262.1h0.8M172.2 284.5h0.8M171.2 296.8h0.8M179.7 329.1h0.8M186.3 345.5h0.8M192.4 254.4h0.8M180.9 438.7h0.8M175.9 257h0.8M182.8 358.2h0.8M182.6 276.7h0.8M191.9 371.3h0.8M185.2 267.9h0.8M189.2 387.4h0.8M191.6 303.3h0.8M172.4 404.7h0.8M186.4 284.5h0.8M186.1 300h0.8M174 422.6h0.8M184.4 378.2h0.8M173.7 244h0.8M189.7 359.2h0.8M193 300.5h0.8M193.3 275.9h0.8M179.9 393.2h0.8M186.9 275.1h0.8M183.3 371.8h0.8M172.7 394.6h0.8M191.9 305.3h0.8M173.6 244.8h0.8M184.3 284.7h0.8M189.2 314.9h0.8M187.4 337.4h0.8M184.8 298.5h0.8M173.5 278.3h0.8M181.5 286h0.8M190.8 436.7h0.8M188 375.8h0.8M171 355.1h0.8M171.9 269.5h0.8M179.7 417.4h0.8M184.2 249.7h0.8M181.9 377.4h0.8M185.1 428.8h0.8M194.3 430.5h0.8M171.8 437.9h0.8M190.7 431h0.8M169.7 391.1h0.8M176.9 423.9h0.8M172.6 343.2h0.8M183.2 335.1h0.8M194.2 276.3h0.8M181.7 413.9h0.8M187.5 248.2h0.8M190.5 272.6h0.8M191.1 424.2h0.8M179.6 309.8h0.8M173.6 407.9h0.8M191.2 383.3h0.8M193.1 313.2h0.8M171.9 395.3h0.8M183.3 309.9h0.8M189 344.9h0.8M183.1 385.4h0.8M173.9 384.8h0.8M171.1 262.2h0.8M177 368.3h0.8M180.6 376.2h0.8M173.2 399.6h0.8M185.6 352.9h0.8M177.6 303.7h0.8M194.4 258h0.8M194.5 307.6h0.8M176.3 396.7h0.8M179.4 261.2h0.8M179.7 303.9h0.8M178.6 311.7h0.8M182.7 243.9h0.8M170.6 432.2h0.8M193.2 321.5h0.8M177.4 302h0.8M171.3 312.1h0.8M190.3 432.5h0.8M175.5 335.7h0.8M173.8 358.7h0.8M180.1 329.6h0.8M186.5 400.2h0.8M171.1 409h0.8M193.1 393.4h0.8M187.9 281.5h0.8M193 362.3h0.8M184.4 283.1h0.8M185.7 295.3h0.8M192.5 422.7h0.8M186.1 387.2h0.8M192.1 372.5h0.8M173.9 387.5h0.8M174.9 408.9h0.8M176.7 435.8h0.8M190.6 393.5h0.8M192.5 284.9h0.8M191.8 413h0.8M190.7 401.4h0.8M189.7 402.4h0.8M181.4 435.2h0.8M179.1 394.9h0.8M189 276h0.8M173.7 423.2h0.8M186.1 296.9h0.8M188.6 339.7h0.8M186.9 332.7h0.8M192.2 410h0.8M172.2 398.1h0.8M183.3 249.3h0.8M178 406.8h0.8M180.6 272.6h0.8M182 259.6h0.8M172.2 291.1h0.8M169.6 331.4h0.8M189.8 393.8h0.8M187.6 409.4h0.8M194.7 305.4h0.8M183.9 372.8h0.8M174.8 376.7h0.8M179.7 278.1h0.8M177.8 438h0.8M179.8 370.4h0.8M187.7 296.2h0.8M173.6 430.4h0.8M169.8 317.1h0.8M192.5 343.3h0.8M187 345.5h0.8M184.5 266.6h0.8M189.3 292.4h0.8M187.6 438.1h0.8M171.6 402.2h0.8M170.7 265.2h0.8M185.2 404.5h0.8M185.8 278.2h0.8M190.6 285.8h0.8M181 434.8h0.8M179.5 286.4h0.8M176.8 284.5h0.8M192 300.8h0.8M170.4 244.5h0.8M188.5 359.8h0.8M182.2 280.7h0.8M187.8 421.8h0.8M194.6 290.4h0.8M187.1 314.9h0.8M182.1 293.4h0.8M172.4 403h0.8M175.7 238.8h0.8M174.8 293.8h0.8M172.2 360.6h0.8M176 320.4h0.8M184.2 427.3h0.8M173.8 306.9h0.8M178.6 347.5h0.8M184.5 247.1h0.8M187.6 260.2h0.8M193.1 332.5h0.8M178.9 323.8h0.8M182.3 339.2h0.8M182.8 299.2h0.8M183.2 389.6h0.8M181.6 396.2h0.8M189 321.8h0.8M184.3 395.9h0.8M178.1 396h0.8M191.5 324h0.8M170.9 293.5h0.8M185.8 419.3h0.8M186.3 379.7h0.8M184.7 320.5h0.8M189 408.6h0.8M193.6 415.4h0.8M184.8 361.5h0.8M178.9 378.2h0.8M187 437.6h0.8M179.9 315.4h0.8M182.5 343.1h0.8M171.7 380.9h0.8M179.9 368.7h0.8M188.1 254.1h0.8M193.2 421.5h0.8M192.2 295.4h0.8M186.5 390.4h0.8M171.3 262.9h0.8M192.7 409.3h0.8M193.1 364.3h0.8M181.4 360.2h0.8M193.3 307.9h0.8M173.3 419.4h0.8M170 382.3h0.8M177.7 408.5h0.8M190.7 263.4h0.8M180.5 352.9h0.8M170.6 409.5h0.8M181.4 314.8h0.8M178.9 270h0.8M191.6 433.7h0.8M190.8 260.6h0.8M190.9 258.8h0.8M178.3 394.1h0.8M185.8 267.6h0.8M171.9 355.8h0.8M192.2 349.7h0.8M196.9 289.4h0.8M199.3 352.2h0.8M198.8 343.6h0.8M198.6 388.3h0.8M197.1 318.8h0.8M198.4 332.8h0.8M199.3 321.3h0.8M198.3 339.5h0.8M201.5 273h0.8M197.4 400.8h0.8M200.1 240.2h0.8M198.5 381.8h0.8M194.9 404.9h0.8M196.5 416h0.8M201.3 346.2h0.8M199 364.3h0.8M199.6 284.1h0.8M200.5 323.7h0.8M200.6 386.6h0.8M197.5 416.4h0.8M197.9 322.7h0.8M194.9 269.7h0.8M195.3 360.4h0.8M199.9 238.1h0.8M201.6 359.4h0.8M195.4 337.7h0.8M197.4 296.3h0.8M201.2 441.5h0.8M200.3 426.6h0.8M199.3 265.4h0.8M195 264h0.8M199 404.6h0.8M199.7 284.2h0.8M197.7 245.8h0.8M196.5 366.3h0.8M195.6 258h0.8M197 384.6h0.8M194.8 334.7h0.8M196.9 257.3h0.8M195.5 375.1h0.8M197.1 326.7h0.8M199.9 284h0.8M196.9 296.6h0.8M201.4 407.2h0.8M198 264.8h0.8M199.5 365.8h0.8M200.8 384.5h0.8M198 249.8h0.8M196.8 289.8h0.8M199.1 397.1h0.8M201.1 246.2h0.8M197.6 361.9h0.8M200 391.6h0.8M196 266.5h0.8M200.7 321.9h0.8M198.8 244.1h0.8M200.5 309.2h0.8M199.5 253.9h0.8M199.7 297.7h0.8M196 317.6h0.8M201.5 360h0.8M194.7 249.9h0.8M200.2 337.6h0.8M197.4 426.3h0.8M201.3 437.8h0.8M195 310.6h0.8M200.8 394.4h0.8M196.3 417.6h0.8M201.1 434.1h0.8M200 248h0.8M202 422.5h0.8M204.4 309.7h0.8M206.7 360.4h0.8M203.9 319.3h0.8M204.4 435.9h0.8M202.6 331.9h0.8M204.7 416.7h0.8M206.2 400.9h0.8M204.7 298.6h0.8M203.3 436.7h0.8M202.6 405.9h0.8M201.9 287.3h0.8M203.3 435.6h0.8M206.5 343.8h0.8M208.4 260.2h0.8M206.8 356h0.8M205.3 294.6h0.8M204.3 261.8h0.8M201.9 374.9h0.8M207.7 269.3h0.8M204.8 368.5h0.8M206.8 282h0.8M204.2 328h0.8M208.3 271.7h0.8M207.3 398.5h0.8M203.4 362.2h0.8M204.4 255.4h0.8M204 255.5h0.8M206.1 400.7h0.8M202.1 320.1h0.8M207.6 361.1h0.8M207.8 246.8h0.8M205.7 435.2h0.8M203 395.7h0.8M203.7 397.2h0.8M204.5 344.5h0.8M206.5 344.7h0.8M207.8 330.2h0.8M202.8 317.8h0.8M205.9 316h0.8M205.9 240.6h0.8M202 409.4h0.8M204.8 277.4h0.8M205.6 243.7h0.8M202.2 328.9h0.8M203.8 297.7h0.8M202.2 335h0.8M203.7 386.7h0.8M207.9 396.3h0.8M202.4 338.2h0.8M202.6 304.6h0.8M206 248.7h0.8M202.4 443.5h0.8M203.9 436.3h0.8M201.7 289.5h0.8M202.7 390.7h0.8M203 261.7h0.8M207.9 393.1h0.8M204.7 379.7h0.8M208.2 385.3h0.8M207.6 273.9h0.8M206.6 239.6h0.8M207.8 438.4h0.8M206.3 372.2h0.8M203.2 420.7h0.8M206.1 443.1h0.8M208.3 275.2h0.8M204.6 239.2h0.8M206.7 249.3h0.8M204.8 255.5h0.8M211.3 282.4h0.8M209.1 313.1h0.8M209.1 377h0.8M209.5 408.8h0.8M208.8 269.1h0.8M210.5 431.6h0.8M213 259h0.8M211 387.3h0.8M210.9 319.9h0.8M212.9 247.4h0.8M211.5 243.2h0.8M212.9 428.5h0.8M212.5 327.3h0.8M209.9 341.1h0.8M210.9 320.8h0.8M210.2 405.6h0.8M209.3 296.5h0.8M209.7 326.2h0.8M210.5 365.8h0.8M210.5 434.7h0.8M211.3 289.8h0.8M213.2 360.5h0.8M212.7 289.9h0.8M210 328h0.8M211.4 300.5h0.8M212.8 279.3h0.8M211 379.8h0.8M212.9 403.5h0.8M210.5 398.9h0.8M211.5 289.2h0.8M208.5 421.8h0.8M210.5 350.4h0.8M209.8 439.2h0.8M212.7 263.3h0.8M211 261.4h0.8M210.3 322.2h0.8M212.6 439.1h0.8M209.7 267.9h0.8M209.7 322.8h0.8M208.6 319.5h0.8M210.1 341.7h0.8M211.4 310.2h0.8M210.3 247.1h0.8M211.2 273.2h0.8M209.5 336.2h0.8M211.5 336.3h0.8M211 363.1h0.8M209.5 272.7h0.8" stroke="#7a7030" stroke-width="0.7" stroke-linecap="round" opacity="0.55"/>
<defs><pattern id="hmt" patternUnits="userSpaceOnUse" x="12" y="238" width="29" height="23"><path d="M20.2 13.4h1M18.2 7.5h1M11 22.4h1.4M13.5 21.5h1M1.2 13.4h1.4M21.3 1.7h0.6M24.6 5.6h0.6M0.9 1.4h1M8.3 16.9h1.4M18 19.5h1M3.2 16.7h1.4M23 3.5h1M6.2 4.8h0.6M20.4 3.6h1.4M4.3 2h0.6M24.9 19.2h1M16.4 15.5h1.4M28.1 4.4h0.6M9.9 6.6h1M8.8 9.6h0.6M9.2 8.6h1.4M21.7 14.3h0.6M29 20h1.4M28.7 20.1h1.4M10 2h1M19 0.3h0.6M19.5 22.7h0.6M22.1 6.8h0.6M4.9 20.6h1.4M27.5 8.3h1.4M13.6 9.5h0.6M13.3 9.5h1M3.5 5.7h0.6M2.5 20.1h1M10.8 3.3h0.6M16.5 8.1h1M23.5 22h0.6M21.8 8.8h0.6M9.3 16.8h1M20.8 11.3h1.4M5.1 10.4h1.4M19.1 3.4h1M9 16.2h0.6M10 13.1h1M1.1 20.3h0.6M4.6 14.2h1M11.1 11.7h1.4M25.2 5.6h1M24 13.6h1M6.7 5.5h0.6M23.7 18h0.6M7.2 18.7h1M15.3 9.5h0.6M23.5 2.3h1M18 21.4h1.4M22.7 22.7h1M2.6 16.6h1.4M25.4 2h0.6M2.5 19.6h1.4M28.4 11.5h0.6M4.5 20.7h0.6M9.3 4.8h1M14.6 12.4h1.4M26.3 13.5h1M16.5 3h1M25.4 1.4h1M5.8 19.9h1M3.3 13.3h1M22.9 1.6h0.6M15.1 7.1h1" stroke="#000" stroke-width="1" opacity="0.45"/><path d="M10.5 8.1h0.6M28.3 20.8h1M28.5 2.3h1M23.5 0.4h1M27.4 5.5h0.6M23.5 8.6h0.6M16.8 7.3h0.6M4.7 13.7h0.6M4.5 2.2h1M27.6 4.6h1M21.4 21.4h0.6M8.9 6h1M17 19.4h1M12.8 20h1" stroke="#c0b060" stroke-width="0.8" opacity="0.35"/></pattern></defs>
<rect x="12" y="238" width="201.2" height="205.5" fill="url(#hmt)"/>
<path d="M49.4 238V443.5" stroke="#d8b8d0" stroke-width="0.5" opacity="0.8"/>
<path d="M80.2 238V443.5" stroke="#d8b8d0" stroke-width="0.5" opacity="0.8"/>
<path d="M106.5 238V443.5" stroke="#d8b8d0" stroke-width="0.5" opacity="0.8"/>
<path d="M132.5 238V443.5" stroke="#d8b8d0" stroke-width="0.5" opacity="0.8"/>
<path d="M154.3 238V443.5" stroke="#d8b8d0" stroke-width="0.5" opacity="0.8"/>
<path d="M169.5 238V443.5" stroke="#d8b8d0" stroke-width="0.5" opacity="0.8"/>
<path d="M194.7 238V443.5" stroke="#d8b8d0" stroke-width="0.5" opacity="0.8"/>
<path d="M201.6 238V443.5" stroke="#d8b8d0" stroke-width="0.5" opacity="0.8"/>
<path d="M208.5 238V443.5" stroke="#d8b8d0" stroke-width="0.5" opacity="0.8"/>
<rect x="12" y="232.7" width="37.4" height="4.1" fill="#F8766D"/>
<rect x="49.4" y="232.7" width="30.8" height="4.1" fill="#E0922A"/>
<rect x="80.2" y="232.7" width="26.3" height="4.1" fill="#A8A430"/>
<rect x="106.5" y="232.7" width="26" height="4.1" fill="#2DBA7A"/>
<rect x="132.5" y="232.7" width="21.8" height="4.1" fill="#1CBCCC"/>
<rect x="154.3" y="232.7" width="15.2" height="4.1" fill="#2AA8EA"/>
<rect x="169.5" y="232.7" width="25.2" height="4.1" fill="#3DB540"/>
<rect x="194.7" y="232.7" width="6.9" height="4.1" fill="#D07CD0"/>
<rect x="201.6" y="232.7" width="6.9" height="4.1" fill="#9A94E0"/>
<rect x="208.5" y="232.7" width="4.7" height="4.1" fill="#F070B0"/>
<circle cx="225" cy="266.6" r="2.6" fill="#F47A74"/>
<text x="230.3" y="268.3" font-size="4.75" fill="#222">LG.Ep1</text>
<circle cx="225" cy="274.9" r="2.6" fill="#E0922A"/>
<text x="230.3" y="276.6" font-size="4.75" fill="#222">HG.Ep</text>
<circle cx="225" cy="283.1" r="2.6" fill="#A8A430"/>
<text x="230.3" y="284.8" font-size="4.75" fill="#222">Adenocarcinoma</text>
<circle cx="225" cy="291.4" r="2.6" fill="#3DB540"/>
<text x="230.3" y="293.1" font-size="4.75" fill="#222">LG.Ep2</text>
<circle cx="225" cy="299.7" r="2.6" fill="#2DBA7A"/>
<text x="230.3" y="301.4" font-size="4.75" fill="#222">Myeloid cells</text>
<circle cx="225" cy="308" r="2.6" fill="#1CBCCC"/>
<text x="230.3" y="309.7" font-size="4.75" fill="#222">Lymphocytes</text>
<circle cx="225" cy="316.2" r="2.6" fill="#2AA8EA"/>
<text x="230.3" y="317.9" font-size="4.75" fill="#222">Adenocarcinoma2</text>
<circle cx="225" cy="324.5" r="2.6" fill="#9490E0"/>
<text x="230.3" y="326.2" font-size="4.75" fill="#222">Myfibroblast1</text>
<circle cx="225" cy="332.8" r="2.6" fill="#C07AD0"/>
<text x="230.3" y="334.5" font-size="4.75" fill="#222">LG.Ep3</text>
<circle cx="225" cy="341" r="2.6" fill="#E868A8"/>
<text x="230.3" y="342.7" font-size="4.75" fill="#222">Myfibroblast2</text>
<text x="221.5" y="354.6" font-size="4.8" font-weight="bold" fill="#222">Expression</text>
<defs><linearGradient id="exg" x1="0" y1="0" x2="0" y2="1"><stop offset="0" stop-color="#f0f040"/><stop offset="0.14" stop-color="#e8e838"/><stop offset="0.32" stop-color="#8a8a20"/><stop offset="0.5" stop-color="#0a0a0a"/><stop offset="0.68" stop-color="#5a1a6a"/><stop offset="0.86" stop-color="#b030b0"/><stop offset="1" stop-color="#d040c8"/></linearGradient></defs>
<rect x="221.7" y="358.5" width="8.1" height="54" fill="url(#exg)"/>
<text x="230.8" y="366.6" font-size="4.6" fill="#333">2</text>
<path d="M221.7 365h1.2M228.6 365h1.2" stroke="#fff" stroke-width="0.4"/>
<text x="230.8" y="377.1" font-size="4.6" fill="#333">1</text>
<path d="M221.7 375.5h1.2M228.6 375.5h1.2" stroke="#fff" stroke-width="0.4"/>
<text x="230.8" y="387.6" font-size="4.6" fill="#333">0</text>
<path d="M221.7 386h1.2M228.6 386h1.2" stroke="#fff" stroke-width="0.4"/>
<text x="230.8" y="398.1" font-size="4.6" fill="#333">-1</text>
<path d="M221.7 396.5h1.2M228.6 396.5h1.2" stroke="#fff" stroke-width="0.4"/>
<text x="230.8" y="408.6" font-size="4.6" fill="#333">-2</text>
<path d="M221.7 407h1.2M228.6 407h1.2" stroke="#fff" stroke-width="0.4"/>
<text transform="translate(0.6 225.6) scale(1.08 1)" font-family='"Liberation Sans", sans-serif' font-size="12.8" font-weight="bold" fill="#111">B</text>
</g>
<g font-family='"Liberation Sans", sans-serif'>
<path d="M295 221 C404 221 404 227 513 227 L513 261.8 C404 261.8 404 255.5 295 255.5Z" fill="#8cdcc6" opacity="1.0"/>
<path d="M295 263 C404 263 404 262.4 513 262.4 L513 282.6 C404 282.6 404 283.2 295 283.2Z" fill="#f47f7a" opacity="1.0"/>
<path d="M295 292.2 C404 292.2 404 297.3 513 297.3 L513 313.4 C404 313.4 404 307.6 295 307.6Z" fill="#aac6ef" opacity="1.0"/>
<path d="M295 315.2 C404 315.2 404 313.4 513 313.4 L513 330.7 C404 330.7 404 333.3 295 333.3Z" fill="#dcaae2" opacity="1.0"/>
<path d="M295 344 C404 344 404 344.6 513 344.6 L513 398.3 C404 398.3 404 397 295 397Z" fill="#8adcf0" opacity="1.0"/>
<path d="M295 340 C404 340 404 331 513 331 L513 336.5 C404 336.5 404 343.7 295 343.7Z" fill="#8adcf0" opacity="1.0"/>
<path d="M295 403 C404 403 404 398.6 513 398.6 L513 441.3 C404 441.3 404 446 295 446Z" fill="#f5aacd" opacity="1.0"/>
<path d="M295 256 C404 256 404 293.8 513 293.8" fill="none" stroke="#88b8a8" stroke-width="1.0" opacity="0.8"/>
<path d="M295 283.8 C404 283.8 404 295.6 513 295.6" fill="none" stroke="#ec6a6a" stroke-width="2.0" opacity="0.9"/>
<path d="M295 291.8 C404 291.8 404 283.4 513 283.4" fill="none" stroke="#98b4e4" stroke-width="0.9" opacity="0.8"/>
<path d="M295 314.7 C404 314.7 404 284 513 284" fill="none" stroke="#c890d8" stroke-width="1.0" opacity="0.85"/>
<path d="M295 335.3 C404 335.3 404 344.8 513 344.8" fill="none" stroke="#e0a8d8" stroke-width="0.5" opacity="0.7"/>
<path d="M295 403.6 C404 403.6 404 345.5 513 345.5" fill="none" stroke="#e8a0c8" stroke-width="0.6" opacity="0.8"/>
<path d="M295 398 C404 398 404 346 513 346" fill="none" stroke="#c0a8e0" stroke-width="0.4" opacity="0.6"/>
<rect x="290" y="221" width="5" height="36" fill="#5ccca8"/>
<rect x="290" y="263" width="5" height="21.5" fill="#ee5e5e"/>
<rect x="290" y="291.4" width="5" height="16.2" fill="#7fa6dc"/>
<rect x="290" y="314.2" width="5" height="19.1" fill="#cc90d8"/>
<rect x="290" y="340" width="5" height="57" fill="#3cc4ec"/>
<rect x="290" y="403" width="5" height="43" fill="#ec8cbc"/>
<rect x="513" y="227" width="5.8" height="57.5" fill="#e3a63c"/>
<rect x="513" y="294.4" width="5.8" height="42.1" fill="#a8be3c"/>
<rect x="513" y="344.5" width="5.8" height="96.8" fill="#5ab85a"/>
<text x="298.8" y="240.8" font-size="5.8" fill="#111" stroke="#111" stroke-width="0.12">PDAC_1</text>
<text x="298.8" y="276.4" font-size="5.8" fill="#111" stroke="#111" stroke-width="0.12">PDAC_2</text>
<text x="298.8" y="301.4" font-size="5.8" fill="#111" stroke="#111" stroke-width="0.12">HGD_IPMN_1</text>
<text x="298.8" y="326.4" font-size="5.8" fill="#111" stroke="#111" stroke-width="0.12">HGD_IPMN_2</text>
<text x="298.8" y="370.9" font-size="5.8" fill="#111" stroke="#111" stroke-width="0.12">LGD_IPMN_1</text>
<text x="298.8" y="427.1" font-size="5.8" fill="#111" stroke="#111" stroke-width="0.12">LGD_IPMN_2</text>
<text x="509.5" y="257.9" font-size="5.8" text-anchor="end" fill="#111" stroke="#111" stroke-width="0.12">PDAC</text>
<text x="509.5" y="317.9" font-size="5.8" text-anchor="end" fill="#111" stroke="#111" stroke-width="0.12">HGD_IPMN</text>
<text x="509.5" y="394.6" font-size="5.8" text-anchor="end" fill="#111" stroke="#111" stroke-width="0.12">LGD_IPMN</text>
<text transform="translate(270.9 226.0) scale(1.02 1)" font-family='"Liberation Sans", sans-serif' font-size="13.9" font-weight="bold" fill="#111">C</text>
</g>
<g font-family='"Liberation Sans", sans-serif'>
<rect x="155" y="510" width="189" height="172" fill="#f4f0fa"/>
<rect x="155" y="677.4" width="5" height="4.6" fill="#b0a2da"/>
<rect x="155" y="660.3" width="5" height="17.2" fill="#b0a2da"/>
<rect x="155" y="635.8" width="5" height="24.6" fill="#bbaddf"/>
<rect x="155" y="611.3" width="5" height="24.5" fill="#e0d5f0"/>
<rect x="155" y="604.6" width="5" height="6.7" fill="#f6f1fa"/>
<rect x="155" y="590.4" width="5" height="14.2" fill="#f6f1fa"/>
<rect x="155" y="573.9" width="5" height="16.6" fill="#ded2ef"/>
<rect x="155" y="557.3" width="5" height="16.6" fill="#f8f4fb"/>
<rect x="155" y="535.5" width="5" height="21.9" fill="#f8f4fb"/>
<rect x="155" y="524.8" width="5" height="10.7" fill="#f0e9f8"/>
<rect x="155" y="510" width="5" height="14.9" fill="#ede4f6"/>
<rect x="160" y="677.4" width="18.9" height="4.6" fill="#b0a2da"/>
<rect x="160" y="660.3" width="18.9" height="17.2" fill="#bbaddf"/>
<rect x="160" y="635.8" width="18.9" height="24.6" fill="#bbaddf"/>
<rect x="160" y="611.3" width="18.9" height="24.5" fill="#e0d5f0"/>
<rect x="160" y="604.6" width="18.9" height="6.7" fill="#f6f1fa"/>
<rect x="160" y="590.4" width="18.9" height="14.2" fill="#f6f1fa"/>
<rect x="160" y="573.9" width="18.9" height="16.6" fill="#ded2ef"/>
<rect x="160" y="557.3" width="18.9" height="16.6" fill="#f8f4fb"/>
<rect x="160" y="535.5" width="18.9" height="21.9" fill="#f8f4fb"/>
<rect x="160" y="524.8" width="18.9" height="10.7" fill="#f0e9f8"/>
<rect x="160" y="510" width="18.9" height="14.9" fill="#ede4f6"/>
<rect x="178.8" y="677.4" width="27.1" height="4.6" fill="#bbaddf"/>
<rect x="178.8" y="660.3" width="27.1" height="17.2" fill="#bbaddf"/>
<rect x="178.8" y="635.8" width="27.1" height="24.6" fill="#7067c2"/>
<rect x="178.8" y="611.3" width="27.1" height="24.5" fill="#e0d5f0"/>
<rect x="178.8" y="604.6" width="27.1" height="6.7" fill="#f0e9f8"/>
<rect x="178.8" y="590.4" width="27.1" height="14.2" fill="#f3edf9"/>
<rect x="178.8" y="573.9" width="27.1" height="16.6" fill="#ded2ef"/>
<rect x="178.8" y="557.3" width="27.1" height="16.6" fill="#f8f4fb"/>
<rect x="178.8" y="535.5" width="27.1" height="21.9" fill="#f8f4fb"/>
<rect x="178.8" y="524.8" width="27.1" height="10.7" fill="#f0e9f8"/>
<rect x="178.8" y="510" width="27.1" height="14.9" fill="#ede4f6"/>
<rect x="205.8" y="677.4" width="26.9" height="4.6" fill="#e0d5f0"/>
<rect x="205.8" y="660.3" width="26.9" height="17.2" fill="#e0d5f0"/>
<rect x="205.8" y="635.8" width="26.9" height="24.6" fill="#e0d5f0"/>
<rect x="205.8" y="611.3" width="26.9" height="24.5" fill="#5c57bb"/>
<rect x="205.8" y="604.6" width="26.9" height="6.7" fill="#f6f1fa"/>
<rect x="205.8" y="590.4" width="26.9" height="14.2" fill="#f6f1fa"/>
<rect x="205.8" y="573.9" width="26.9" height="16.6" fill="#e9def4"/>
<rect x="205.8" y="557.3" width="26.9" height="16.6" fill="#f3edf9"/>
<rect x="205.8" y="535.5" width="26.9" height="21.9" fill="#f3edf9"/>
<rect x="205.8" y="524.8" width="26.9" height="10.7" fill="#f3edf9"/>
<rect x="205.8" y="510" width="26.9" height="14.9" fill="#f3edf9"/>
<rect x="232.7" y="677.4" width="7.4" height="4.6" fill="#f6f1fa"/>
<rect x="232.7" y="660.3" width="7.4" height="17.2" fill="#f6f1fa"/>
<rect x="232.7" y="635.8" width="7.4" height="24.6" fill="#f0e9f8"/>
<rect x="232.7" y="611.3" width="7.4" height="24.5" fill="#f6f1fa"/>
<rect x="232.7" y="604.6" width="7.4" height="6.7" fill="#ded2ef"/>
<rect x="232.7" y="590.4" width="7.4" height="14.2" fill="#ece2f6"/>
<rect x="232.7" y="573.9" width="7.4" height="16.6" fill="#f6f1fa"/>
<rect x="232.7" y="557.3" width="7.4" height="16.6" fill="#f6f1fa"/>
<rect x="232.7" y="535.5" width="7.4" height="21.9" fill="#f6f1fa"/>
<rect x="232.7" y="524.8" width="7.4" height="10.7" fill="#f6f1fa"/>
<rect x="232.7" y="510" width="7.4" height="14.9" fill="#f6f1fa"/>
<rect x="240" y="677.4" width="15.6" height="4.6" fill="#f6f1fa"/>
<rect x="240" y="660.3" width="15.6" height="17.2" fill="#f6f1fa"/>
<rect x="240" y="635.8" width="15.6" height="24.6" fill="#f3edf9"/>
<rect x="240" y="611.3" width="15.6" height="24.5" fill="#f6f1fa"/>
<rect x="240" y="604.6" width="15.6" height="6.7" fill="#ece2f6"/>
<rect x="240" y="590.4" width="15.6" height="14.2" fill="#ded2ef"/>
<rect x="240" y="573.9" width="15.6" height="16.6" fill="#ece2f6"/>
<rect x="240" y="557.3" width="15.6" height="16.6" fill="#f6f1fa"/>
<rect x="240" y="535.5" width="15.6" height="21.9" fill="#f6f1fa"/>
<rect x="240" y="524.8" width="15.6" height="10.7" fill="#f6f1fa"/>
<rect x="240" y="510" width="15.6" height="14.9" fill="#f6f1fa"/>
<rect x="255.6" y="677.4" width="18.3" height="4.6" fill="#ded2ef"/>
<rect x="255.6" y="660.3" width="18.3" height="17.2" fill="#ded2ef"/>
<rect x="255.6" y="635.8" width="18.3" height="24.6" fill="#ded2ef"/>
<rect x="255.6" y="611.3" width="18.3" height="24.5" fill="#e9def4"/>
<rect x="255.6" y="604.6" width="18.3" height="6.7" fill="#f6f1fa"/>
<rect x="255.6" y="590.4" width="18.3" height="14.2" fill="#ece2f6"/>
<rect x="255.6" y="573.9" width="18.3" height="16.6" fill="#bbaddf"/>
<rect x="255.6" y="557.3" width="18.3" height="16.6" fill="#e5daf2"/>
<rect x="255.6" y="535.5" width="18.3" height="21.9" fill="#ded2ef"/>
<rect x="255.6" y="524.8" width="18.3" height="10.7" fill="#d9cded"/>
<rect x="255.6" y="510" width="18.3" height="14.9" fill="#c5b7e4"/>
<rect x="273.8" y="677.4" width="18.2" height="4.6" fill="#f8f4fb"/>
<rect x="273.8" y="660.3" width="18.2" height="17.2" fill="#f8f4fb"/>
<rect x="273.8" y="635.8" width="18.2" height="24.6" fill="#f8f4fb"/>
<rect x="273.8" y="611.3" width="18.2" height="24.5" fill="#f3edf9"/>
<rect x="273.8" y="604.6" width="18.2" height="6.7" fill="#f6f1fa"/>
<rect x="273.8" y="590.4" width="18.2" height="14.2" fill="#f6f1fa"/>
<rect x="273.8" y="573.9" width="18.2" height="16.6" fill="#e5daf2"/>
<rect x="273.8" y="557.3" width="18.2" height="16.6" fill="#8277c8"/>
<rect x="273.8" y="535.5" width="18.2" height="21.9" fill="#d9cded"/>
<rect x="273.8" y="524.8" width="18.2" height="10.7" fill="#ded2ef"/>
<rect x="273.8" y="510" width="18.2" height="14.9" fill="#ded2ef"/>
<rect x="292" y="677.4" width="24.1" height="4.6" fill="#f8f4fb"/>
<rect x="292" y="660.3" width="24.1" height="17.2" fill="#f8f4fb"/>
<rect x="292" y="635.8" width="24.1" height="24.6" fill="#f8f4fb"/>
<rect x="292" y="611.3" width="24.1" height="24.5" fill="#f3edf9"/>
<rect x="292" y="604.6" width="24.1" height="6.7" fill="#f6f1fa"/>
<rect x="292" y="590.4" width="24.1" height="14.2" fill="#f6f1fa"/>
<rect x="292" y="573.9" width="24.1" height="16.6" fill="#ded2ef"/>
<rect x="292" y="557.3" width="24.1" height="16.6" fill="#d9cded"/>
<rect x="292" y="535.5" width="24.1" height="21.9" fill="#b0a2da"/>
<rect x="292" y="524.8" width="24.1" height="10.7" fill="#d7caec"/>
<rect x="292" y="510" width="24.1" height="14.9" fill="#d7caec"/>
<rect x="316" y="677.4" width="11.7" height="4.6" fill="#f0e9f8"/>
<rect x="316" y="660.3" width="11.7" height="17.2" fill="#f0e9f8"/>
<rect x="316" y="635.8" width="11.7" height="24.6" fill="#f0e9f8"/>
<rect x="316" y="611.3" width="11.7" height="24.5" fill="#f3edf9"/>
<rect x="316" y="604.6" width="11.7" height="6.7" fill="#f6f1fa"/>
<rect x="316" y="590.4" width="11.7" height="14.2" fill="#f6f1fa"/>
<rect x="316" y="573.9" width="11.7" height="16.6" fill="#d9cded"/>
<rect x="316" y="557.3" width="11.7" height="16.6" fill="#ded2ef"/>
<rect x="316" y="535.5" width="11.7" height="21.9" fill="#d7caec"/>
<rect x="316" y="524.8" width="11.7" height="10.7" fill="#d0c2e9"/>
<rect x="316" y="510" width="11.7" height="14.9" fill="#d0c2e9"/>
<rect x="327.7" y="677.4" width="16.4" height="4.6" fill="#ede4f6"/>
<rect x="327.7" y="660.3" width="16.4" height="17.2" fill="#ede4f6"/>
<rect x="327.7" y="635.8" width="16.4" height="24.6" fill="#ede4f6"/>
<rect x="327.7" y="611.3" width="16.4" height="24.5" fill="#f3edf9"/>
<rect x="327.7" y="604.6" width="16.4" height="6.7" fill="#f6f1fa"/>
<rect x="327.7" y="590.4" width="16.4" height="14.2" fill="#f6f1fa"/>
<rect x="327.7" y="573.9" width="16.4" height="16.6" fill="#c5b7e4"/>
<rect x="327.7" y="557.3" width="16.4" height="16.6" fill="#ded2ef"/>
<rect x="327.7" y="535.5" width="16.4" height="21.9" fill="#d7caec"/>
<rect x="327.7" y="524.8" width="16.4" height="10.7" fill="#d0c2e9"/>
<rect x="327.7" y="510" width="16.4" height="14.9" fill="#b0a2da"/>
<path d="M156.3 678.2h3.4v3.7h-3.4zM155.3 643.9h4.4v2.1h-4.4zM160 661.7h2.6v4.2h-2.6zM179.5 623.9h2.7v2.2h-2.7zM211.5 668.8h2.3v4.4h-2.3zM228.8 644.6h1.6v3.8h-1.6zM262.4 649.4h3.4v3h-3.4zM268.7 582.8h1.7v4.3h-1.7zM267.1 527.5h2v2.8h-2zM276.6 512.7h1.8v4.4h-1.8zM316.2 565.9h1.6v4.5h-1.6zM330.1 568.8h3.4v2.4h-3.4zM336.6 510.9h2.4v3.8h-2.4z" fill="#cec0e8" opacity="0.7"/>
<path d="M155.1 662.7h3.8v2.2h-3.8zM162.6 670.5h2.9v2.4h-2.9zM176.1 643.4h1.8v1.7h-1.8zM193.1 663.9h1.9v4.2h-1.9zM181.8 672.2h1.6v3.7h-1.6zM265.5 584.6h2.1v2.6h-2.1zM293.7 546.1h2.1v3.4h-2.1z" fill="#9488cf" opacity="0.7"/>
<path d="M156.6 660.5h2.2v3.1h-2.2zM262 678.5h2.4v2.9h-2.4zM258 661.5h2.8v3.6h-2.8zM261.1 670.2h1.9v4.4h-1.9zM263.5 643.6h3.7v1.8h-3.7zM256.7 549.6h1.9v3.7h-1.9zM268.1 547.8h3.4v2.1h-3.4zM283.5 517.8h2.7v1.8h-2.7zM294.8 576.9h2.4v3.6h-2.4zM292.4 547.6h2.8v2.5h-2.8zM313.2 518.5h2.5v2.8h-2.5zM328 559.7h4.4v4h-4.4zM332.2 553.4h3.9v3.8h-3.9z" fill="#c5b7e4" opacity="0.7"/>
<path d="M156.2 670.3h2v4.1h-2zM302.8 543.8h2v3.9h-2zM306.6 550h4v3.7h-4zM310.8 542h4.2v2.2h-4.2zM295.5 526.9h3.9v3.4h-3.9zM331.3 538.6h1.9v1.5h-1.9zM335.9 530h2.5v4.4h-2.5z" fill="#c0b2e1" opacity="0.7"/>
<path d="M155 673.6h3.4v1.9h-3.4zM167.6 679.1h1.6v2h-1.6zM168.5 636.8h3.1v2.8h-3.1zM174.4 648h3.5v2.4h-3.5zM197 619.7h4.1v4.3h-4.1zM189.7 628.6h3.7v3.6h-3.7zM189.3 586.5h4.2v2.4h-4.2zM223.6 668.1h3.8v2.5h-3.8zM262.8 647.2h1.6v3.3h-1.6zM263.3 644.3h2.9v3.6h-2.9zM264.2 526.4h2.5v4h-2.5zM307.1 581.4h3.1v3h-3.1zM302.5 560.2h3.8v1.7h-3.8zM309.9 518.9h2.4v3.6h-2.4zM322.2 582h3.2v2.1h-3.2z" fill="#cdbfe7" opacity="0.7"/>
<path d="M155.1 665.1h4.4v2h-4.4zM156.8 630.8h2.9v4.5h-2.9zM176.5 673.5h2v3.7h-2zM171.5 644.2h3.3v3.2h-3.3zM162.7 642.2h2.3v2.3h-2.3zM164.1 613.2h1.9v1.7h-1.9zM172.3 631.6h2.8v2.8h-2.8zM165.9 584.2h1.5v2.6h-1.5zM161.8 580.7h3.7v2.4h-3.7zM203.1 678.6h1.6v3.2h-1.6zM186 672.3h3.6v2.2h-3.6zM181.6 661.2h2.2v4.3h-2.2zM188.2 621.4h3.6v2.2h-3.6zM179 614.6h1.9v2.4h-1.9zM217.7 677.7h2.3v2.9h-2.3zM228.6 663.7h2.4v1.9h-2.4zM216.7 641.4h3.8v3.6h-3.8zM235.7 605.2h4.1v4.3h-4.1zM252.8 592.7h2.8v2.6h-2.8zM267.5 660.6h3.9v2.1h-3.9zM258.6 647.3h2.1v1.6h-2.1zM264.4 540.6h2.6v3.6h-2.6zM256.4 549.2h2.8v3.9h-2.8zM281.8 536.8h3.5v2.3h-3.5zM277.6 551.6h3.3v3.8h-3.3zM275.5 514.5h3.4v2.6h-3.4zM297.2 587.3h3.1v2.2h-3.1zM301.1 525.1h1.7v3.3h-1.7zM300 527.8h2.8v3.5h-2.8zM321.5 536h2.6v3.4h-2.6zM324.4 540.5h2.3v3.7h-2.3z" fill="#c8bae5" opacity="0.7"/>
<path d="M156.4 670.7h3.5v2.1h-3.5zM156.3 646.3h2.2v4h-2.2zM170.5 663.3h3.6v1.8h-3.6zM329.2 516.4h4.2v2.1h-4.2z" fill="#9a8dd1" opacity="0.7"/>
<path d="M155.4 637.2h2.6v2h-2.6zM156.2 637.2h3.3v3.3h-3.3zM181.2 667.4h2.1v3.4h-2.1zM303.8 549.1h4.3v2.5h-4.3z" fill="#998cd1" opacity="0.7"/>
<path d="M156 651.4h2.9v2.4h-2.9zM155.8 583.7h3.8v3.6h-3.8zM161.1 626.9h4.1v4.2h-4.1zM162.9 626.5h1.8v3.1h-1.8zM163.3 623.7h2.1v2.3h-2.1zM192.5 679h3.8v2.8h-3.8zM188 623.7h2.4v3.7h-2.4zM183.8 626h2.3v3.1h-2.3zM187.2 632.6h4.2v3h-4.2zM224.9 663.8h2.8v2.4h-2.8zM222.2 648.1h3.8v3h-3.8zM221.2 651.4h3.8v2.1h-3.8zM227.1 656.8h3v1.7h-3zM244.2 592.4h3v1.7h-3zM256.8 673.6h2.1v3.1h-2.1zM257.8 550h3.6v2.5h-3.6zM264.8 529.9h1.9v3.5h-1.9zM283.6 529.1h2v4.3h-2zM311.1 587.5h3.8v2.3h-3.8zM307.7 551.2h3.6v2.1h-3.6zM310.4 549.2h3.6v3.8h-3.6zM332.9 557.9h3.3v3.6h-3.3z" fill="#ccbee7" opacity="0.7"/>
<path d="M155.2 643.9h4.3v4.3h-4.3zM168.4 640.1h1.8v4.2h-1.8zM170.2 643.5h2.2v2.5h-2.2zM191.9 672.4h1.5v3.8h-1.5zM268 517.9h1.9v2.6h-1.9z" fill="#a698d6" opacity="0.7"/>
<path d="M155.1 639.9h3.2v1.5h-3.2zM175.2 577.9h3v4h-3zM195.3 665.4h1.8v1.9h-1.8zM200.1 581.1h3.7v3.7h-3.7zM221.3 677.8h3.2v3.3h-3.2zM233.5 608.5h2.2v2h-2.2zM264.3 579.8h3.4v4.3h-3.4zM305.8 575.1h3.9v3.9h-3.9zM303 567.4h1.9v3.3h-1.9zM299 559.5h1.7v4h-1.7zM311.6 560.4h2.5v2.2h-2.5zM296.3 541.7h4.2v3.6h-4.2z" fill="#cabce6" opacity="0.7"/>
<path d="M157.5 653.7h1.8v3.7h-1.8zM163.1 663.2h1.9v2.5h-1.9zM207.8 670.2h3.6v4.4h-3.6zM210.9 673.9h3.8v2.8h-3.8zM256 671.5h4.5v3.9h-4.5zM270.9 670.1h2.4v3.1h-2.4zM260.5 654.9h2.1v3.4h-2.1zM258.4 575.7h3.9v4.4h-3.9zM258.4 576.3h3.9v1.8h-3.9zM284.8 553.8h1.6v2.9h-1.6zM301.6 549.5h3.2v2.9h-3.2zM320.5 560.9h3.4v3.1h-3.4z" fill="#d0c2e9" opacity="0.7"/>
<path d="M155.2 618.1h4.3v3.1h-4.3zM155.1 631.2h2.9v2.8h-2.9zM167.5 616.8h3.5v2.3h-3.5zM170.3 624.8h3.9v4.3h-3.9zM190 625.4h2v1.8h-2zM216.6 672.5h4.4v2.8h-4.4zM258.9 655.2h3v3.6h-3zM258.4 655h3.1v2.8h-3.1zM258.3 536.7h3.1v4.2h-3.1zM266.5 548.1h3.6v3.5h-3.6z" fill="#f1eaf8" opacity="0.7"/>
<path d="M155.5 621.4h3.4v3.7h-3.4zM155.4 621.6h3.6v2.5h-3.6zM173.4 622.3h2.7v1.9h-2.7zM161.4 615.5h2.9v3.1h-2.9zM202.2 626.2h2.8v3h-2.8zM182 579.9h2.7v2.8h-2.7zM206.8 669.5h3.1v3.4h-3.1zM220.1 647.7h3.9v4.3h-3.9zM214.8 657.7h2.5v2.2h-2.5zM261.6 551.4h3.9v4.2h-3.9zM296.4 575h2v2.6h-2zM294.2 579.5h4.4v2.2h-4.4zM303.4 577.7h2.1v2.6h-2.1zM296.9 519.5h1.6v4.4h-1.6zM298.1 517.3h4.2v3.5h-4.2zM320.7 543.6h2.3v2.5h-2.3zM330.4 564.9h4.3v4.1h-4.3z" fill="#eae0f5" opacity="0.7"/>
<path d="M155.1 626.3h3.3v4.3h-3.3zM176.1 646.5h2.6v1.7h-2.6zM174 655.9h2.8v3.4h-2.8zM161.9 578.3h1.5v3.5h-1.5zM180.6 628.3h2.9v2.4h-2.9zM216.5 660.4h1.6v4.2h-1.6zM216.1 646h4.5v3.3h-4.5zM219.5 649h3.1v3.9h-3.1zM241 591.2h2.3v4.4h-2.3zM248.9 599.4h1.9v4h-1.9zM260.6 532.2h3.1v2.6h-3.1zM286.9 538.9h2.3v3.1h-2.3zM280.4 528.7h1.6v4.2h-1.6zM300 519.6h2.5v3.3h-2.5zM332.8 547.9h2v1.5h-2zM338.7 538.9h2.9v3.3h-2.9z" fill="#cbbde6" opacity="0.7"/>
<path d="M157.5 623.9h2.5v2.1h-2.5zM162.8 612.8h1.8v4.5h-1.8zM195.5 580.5h2.5v2.1h-2.5zM229.4 662h3.1v1.7h-3.1zM220 645.9h3.3v4.2h-3.3zM262.8 543.1h2.7v4.2h-2.7zM304.1 574.3h4.4v3h-4.4z" fill="#f0e8f7" opacity="0.7"/>
<path d="M155.5 614.7h3.9v1.8h-3.9zM171 642.7h4.2v2.5h-4.2zM173.2 617h1.9v2.9h-1.9zM170.5 629.1h1.6v3.8h-1.6zM182 612.4h3.9v3.1h-3.9zM225 678h3.6v2.3h-3.6zM207.9 661.7h3.1v2.7h-3.1zM247.5 599.8h3.6v3.4h-3.6zM260.1 585.8h3v3.2h-3zM269.1 553.6h3.1v2.4h-3.1zM288 529.5h3v3.5h-3zM335.1 558.6h4v3.6h-4z" fill="#d4c6ea" opacity="0.7"/>
<path d="M155.2 586.5h4v3.1h-4zM160.7 653.4h4.5v3.6h-4.5zM187.5 613.2h3.1v4h-3.1zM226.4 643.7h2.6v3.9h-2.6zM256.9 673h3.5v1.6h-3.5zM261.6 644.1h4.1v3.4h-4.1zM259.5 655.4h2.4v1.9h-2.4zM260.6 575.7h3.3v4.5h-3.3zM259.3 537.4h2.1v2.6h-2.1zM266.9 541.6h4v3.2h-4z" fill="#d3c5ea" opacity="0.7"/>
<path d="M156.1 580.7h3v3h-3zM166.5 629.5h4.2v2.4h-4.2zM172.6 611.8h3.3v3.4h-3.3zM197.6 624.3h2.3v2.9h-2.3zM191.1 629h3.2v4.4h-3.2zM217.1 661h4.4v2.5h-4.4zM230.1 637.7h1.8v3h-1.8zM225.6 657.9h3.5v2.3h-3.5zM211.1 648.8h1.8v3.1h-1.8zM217.1 638.1h4.2v3h-4.2zM207.7 654.7h3v2.9h-3zM253.6 595.7h1.9v2.4h-1.9zM258.2 661.1h4.4v3.2h-4.4zM264.3 639.4h3.6v2.6h-3.6zM265.8 641.9h3v2.1h-3zM258.2 547h2.1v1.9h-2.1zM267.7 536.4h3.8v2.9h-3.8zM283.1 527.2h2.3v4h-2.3zM278.3 521.5h3.1v2.6h-3.1zM294.6 575.5h2.4v2h-2.4zM295.4 574.1h3.9v2.4h-3.9z" fill="#efe7f7" opacity="0.7"/>
<path d="M155.4 586.2h3.5v4h-3.5zM185.7 586.5h1.8v2.8h-1.8zM266.9 654.8h2.6v4h-2.6zM310 566h3.6v2.3h-3.6zM300.4 546.3h3.7v4.5h-3.7zM294.3 548.8h3.5v3.5h-3.5zM305.7 546.5h3.4v2.6h-3.4zM300.2 525.2h3.9v3.1h-3.9zM328.4 571.3h4.1v2.4h-4.1z" fill="#c4b6e3" opacity="0.7"/>
<path d="M157.1 580.8h2.5v2h-2.5zM164.5 630.4h2.7v3.8h-2.7zM201 581.7h3.6v1.5h-3.6zM210.4 670.1h3v2.7h-3zM209.6 643.2h2.4v2.2h-2.4zM226.1 651h2.8v2.1h-2.8zM260.2 662.6h2.7v4h-2.7zM257.1 647.3h2.4v2.8h-2.4zM268.9 647.3h2.8v2.1h-2.8zM287.7 551.3h3v3.8h-3zM283.1 532.5h2.7v1.6h-2.7zM286.8 519.2h3.2v2.3h-3.2zM318.2 586.1h1.9v3.2h-1.9zM323.1 579.6h3.2v2.6h-3.2zM333 579.9h3.5v3h-3.5z" fill="#d1c3e9" opacity="0.7"/>
<path d="M168.2 678.9h2.3v2.4h-2.3zM304.2 541.3h2.4v3.7h-2.4z" fill="#988bd1" opacity="0.7"/>
<path d="M172.7 677.7h3.4v3.7h-3.4zM189.9 677.5h3.3v4h-3.3zM179.4 624.2h3.2v2.1h-3.2zM189.4 614.5h3v2.9h-3zM252.8 590.9h2.1v3.5h-2.1zM269.4 669.1h2.2v4.3h-2.2zM267.5 670h3.5v3.5h-3.5zM267.1 643.9h1.6v1.7h-1.6zM279.9 537.8h3.9v2.3h-3.9zM299.4 578.9h1.9v1.8h-1.9zM318.6 586.3h1.6v3.1h-1.6zM321.2 558.9h3.6v1.7h-3.6zM329.2 563.5h3.8v3.1h-3.8zM332.9 566.4h2.1v4.3h-2.1zM334.5 522.1h4.2v2.6h-4.2z" fill="#cfc1e8" opacity="0.7"/>
<path d="M174.6 677.5h3.6v4.4h-3.6zM277.2 546.3h3.9v4h-3.9zM278.3 542.2h2.1v4.4h-2.1zM287.7 548.6h4.1v1.8h-4.1zM312.2 532.5h3.3v1.9h-3.3zM307.3 529.2h2.8v3h-2.8zM293.4 526.7h3.9v3.6h-3.9zM318.9 513.7h4.3v1.9h-4.3zM328.3 527.2h3.7v1.7h-3.7z" fill="#c1b3e2" opacity="0.7"/>
<path d="M164.6 677.5h2.6v4.1h-2.6z" fill="#9d90d3" opacity="0.7"/>
<path d="M170 678h3.8v3.2h-3.8zM305.8 548.9h2.8v2.8h-2.8z" fill="#8d81cc" opacity="0.7"/>
<path d="M161.2 663.1h2.6v3.5h-2.6zM168.2 656.8h2.1v2.1h-2.1zM170.1 652.4h2.1v1.6h-2.1zM260.5 513.8h3.2v3.2h-3.2z" fill="#aea0d9" opacity="0.7"/>
<path d="M166.6 662h2.7v2.3h-2.7zM164.6 667.9h3.1v2.4h-3.1zM200.8 668.4h2.7v2.4h-2.7zM309.5 538.2h3v2.2h-3z" fill="#9588cf" opacity="0.7"/>
<path d="M172.1 669.6h4v2.8h-4zM257 510.2h2.6v3.6h-2.6z" fill="#a396d5" opacity="0.7"/>
<path d="M168 663.2h2v2.6h-2zM164.1 625.6h1.5v4.2h-1.5zM165.8 629.1h1.8v1.9h-1.8zM164.8 577.4h3.1v4.2h-3.1zM265.9 675.6h3.5v1.7h-3.5zM284.8 512.3h3.5v3.5h-3.5z" fill="#d2c5ea" opacity="0.7"/>
<path d="M166.3 673.9h4.1v3.2h-4.1zM167.8 673.4h2.9v1.6h-2.9zM174.4 638.3h3.5v2.9h-3.5zM263.2 586.6h2.3v3.6h-2.3zM266.5 518.1h3.6v2.6h-3.6zM329 574.9h4.2v1.7h-4.2z" fill="#a89ad7" opacity="0.7"/>
<path d="M173.8 673.6h4.4v2.6h-4.4zM304.2 541.4h2.1v3.2h-2.1z" fill="#9b8ed2" opacity="0.7"/>
<path d="M160.3 674.4h2.4v2.3h-2.4z" fill="#a395d4" opacity="0.7"/>
<path d="M162 669.2h2.4v2.9h-2.4zM166.7 667.6h1.6v1.9h-1.6zM161.6 638.4h1.8v3.5h-1.8zM179 670.7h2.9v3.6h-2.9zM198.2 671.3h2.3v2.3h-2.3z" fill="#a99bd7" opacity="0.7"/>
<path d="M170 668.9h3.3v2.9h-3.3zM168.6 626.1h3v3h-3zM160.1 583.6h2.6v3.9h-2.6zM201 588.2h2.9v2.1h-2.9zM199.9 583.2h3.6v1.9h-3.6zM212.1 664.1h2.2v3h-2.2zM227.3 642.8h3.9v3.1h-3.9zM246.7 592.3h2.3v2.5h-2.3zM265 649.1h3.6v2.2h-3.6zM270.5 650.4h2.9v3.3h-2.9zM303.9 578.7h1.9v4h-1.9zM294.1 586.3h2.5v3.3h-2.5zM294 551.2h2.1v2.4h-2.1zM306.2 529.6h4v1.5h-4zM302.3 515.8h3.1v2.9h-3.1zM302.7 522.8h4.4v1.7h-4.4zM335.7 568.3h3v1.8h-3z" fill="#c7b9e5" opacity="0.7"/>
<path d="M172 669.4h1.9v2.3h-1.9z" fill="#d0c3e9" opacity="0.7"/>
<path d="M169.6 660.8h2.6v3.7h-2.6z" fill="#a193d4" opacity="0.7"/>
<path d="M171.3 669.1h2.8v3.2h-2.8z" fill="#988bd0" opacity="0.7"/>
<path d="M170.1 670.5h4v2.9h-4zM169.8 644.5h2.9v4.2h-2.9z" fill="#a496d5" opacity="0.7"/>
<path d="M160 671.8h3.8v2.4h-3.8zM269.4 581.6h3.1v2h-3.1zM312.3 537.2h1.8v2.1h-1.8z" fill="#9e91d3" opacity="0.7"/>
<path d="M173.3 658.4h4v1.8h-4zM161.2 654.1h2.1v3.5h-2.1zM199.4 675.3h2.1v1.6h-2.1zM185.3 667.9h2.2v3.2h-2.2zM265.1 512.2h4.4v2.8h-4.4zM330.2 580.5h4.1v2.6h-4.1z" fill="#ab9dd8" opacity="0.7"/>
<path d="M162.5 649.4h3.3v2.7h-3.3zM160.8 651.1h4.3v2.6h-4.3zM162.5 640h3.5v3.7h-3.5zM191.2 668.6h1.9v2.6h-1.9zM191.2 668.3h1.9v2.3h-1.9zM191.3 613.2h3.8v1.8h-3.8zM184.2 612.8h4.3v2.1h-4.3zM192.3 584.3h4.3v1.9h-4.3zM220.9 679.6h1.8v2.2h-1.8zM206.5 662.2h2.6v1.9h-2.6zM222.1 646h3v3h-3zM256.6 668.3h4.2v4.3h-4.2zM275.6 531.5h2.6v2.6h-2.6zM322.3 559.3h2.1v2.5h-2.1zM324.2 559.8h3.2v2.9h-3.2zM332.3 569h2.3v2.7h-2.3z" fill="#d2c4ea" opacity="0.7"/>
<path d="M164.3 647.7h3.5v3.7h-3.5zM175.3 644.6h2.7v4h-2.7zM174.2 626.6h4v3.5h-4zM171 622.4h2.6v3.3h-2.6zM211.4 664.6h4.3v2.6h-4.3zM227.6 662.3h2.9v4.2h-2.9zM218.4 673.1h4.4v2.9h-4.4zM210.3 647.4h2.2v4.5h-2.2zM221.9 638.7h4.2v3.3h-4.2zM208.9 652.4h3.2v1.8h-3.2zM213.6 638.1h4.2v2.3h-4.2zM267.1 587.1h3.4v1.7h-3.4zM270.4 537h1.6v4.1h-1.6zM256.4 541.7h3.4v3.7h-3.4zM268.1 518.9h2.5v1.5h-2.5zM288.5 517.6h1.5v2.8h-1.5zM298.6 574.6h4.2v3.3h-4.2z" fill="#d4c7eb" opacity="0.7"/>
<path d="M166.3 642.9h4.1v1.9h-4.1zM335.4 575.5h4.1v1.9h-4.1z" fill="#a395d5" opacity="0.7"/>
<path d="M171.7 647.3h3.2v2.3h-3.2zM202 660.7h2.2v4.3h-2.2zM187.1 576.3h3.9v3.1h-3.9zM188.1 587.6h1.7v2.2h-1.7zM217.1 664.6h3.2v4.2h-3.2zM219.2 649.7h2.1v3.5h-2.1zM262.7 665h3v2.7h-3zM278 533.2h1.9v2.1h-1.9zM274.1 531.4h4.2v3.5h-4.2zM319.9 561.2h1.6v4.3h-1.6z" fill="#d5c8eb" opacity="0.7"/>
<path d="M165.7 638.6h4.1v2.9h-4.1zM160.1 587.3h4.3v2.9h-4.3zM188.5 628.9h4.1v3.5h-4.1zM193.2 576.2h2.6v3.3h-2.6zM183.4 576.1h3.6v2.4h-3.6zM228.9 636.7h2v4.2h-2zM215.3 645.9h4.5v3h-4.5zM303.3 576.6h1.7v1.7h-1.7zM323.3 565h3.7v3.5h-3.7zM336.6 560.2h3.1v4.2h-3.1z" fill="#d3c6ea" opacity="0.7"/>
<path d="M164.7 653h4.1v2.9h-4.1zM233.1 608.2h4.4v1.9h-4.4zM266.8 574.4h2.2v3.3h-2.2zM257.3 510.2h2.2v2.1h-2.2z" fill="#d1c4e9" opacity="0.7"/>
<path d="M164.5 649.7h3.7v2.6h-3.7zM302 543.2h3.3v3.7h-3.3z" fill="#a294d4" opacity="0.7"/>
<path d="M174 650.8h3.5v3.4h-3.5zM189.2 669.9h2.6v1.7h-2.6zM196.1 663h4.1v2.4h-4.1zM336 579h3.6v4.4h-3.6z" fill="#aa9cd8" opacity="0.7"/>
<path d="M167 636.7h1.7v3.8h-1.7z" fill="#9589d0" opacity="0.7"/>
<path d="M172.2 637.8h3.6v2.2h-3.6zM201.7 661.5h2.4v2h-2.4zM339.3 580.5h4.2v3.6h-4.2z" fill="#ad9fd9" opacity="0.7"/>
<path d="M166.6 637.1h2.2v1.7h-2.2zM256.3 577.8h3.5v2.6h-3.5z" fill="#988cd1" opacity="0.7"/>
<path d="M168.4 613.1h3v2.7h-3zM211.9 678.7h2.8v2.4h-2.8zM244.7 600.5h2.3v2h-2.3z" fill="#cbbde7" opacity="0.7"/>
<path d="M166.8 628.1h2.8v2.6h-2.8zM163.1 583h1.5v2.7h-1.5zM173.6 585.2h1.8v2.4h-1.8zM220.1 663.1h2.8v4h-2.8zM218.6 655.1h4v4.1h-4zM259.8 677.7h1.9v4.2h-1.9zM258.2 671.9h3.9v2.7h-3.9zM266.4 647.1h3.8v3.3h-3.8zM256.1 541.9h3.8v4.3h-3.8zM255.9 554.6h1.6v1.9h-1.6zM279.1 516.6h2v4.5h-2zM341.9 564.3h1.9v1.9h-1.9z" fill="#f0e9f8" opacity="0.7"/>
<path d="M170.2 626.7h3.2v4.2h-3.2zM165.3 621h2.8v2.8h-2.8zM262.9 643.7h2.5v2.1h-2.5zM283.7 536.8h4.2v2.7h-4.2zM288.3 519.8h1.9v3.9h-1.9zM285.8 520h4v4h-4zM311.9 574.7h2.7v3.5h-2.7zM309.3 557.6h3.6v3.4h-3.6zM309.7 569.7h1.7v4h-1.7zM292.9 569.6h3.6v2.8h-3.6zM329 560.2h2.1v4.3h-2.1z" fill="#eee5f7" opacity="0.7"/>
<path d="M161.9 612.7h3.9v2.6h-3.9zM197.4 620.3h2.9v4.4h-2.9zM211.3 636.9h3.4v3.3h-3.4z" fill="#ebe0f5" opacity="0.7"/>
<path d="M160.5 623.2h3v2.5h-3zM164.8 576.4h3.9v2.1h-3.9zM173.9 581.2h2.4v2.5h-2.4zM191 613.2h3.5v1.9h-3.5zM185.5 574.8h2.3v2h-2.3zM200.4 582h3.3v2.1h-3.3zM280 541.1h3.3v1.6h-3.3zM285.2 531.8h3.1v2.7h-3.1zM319.4 575.5h2.1v2.3h-2.1z" fill="#e9dff4" opacity="0.7"/>
<path d="M166.1 630.7h1.7v1.9h-1.7zM172.6 620.8h3.3v1.8h-3.3zM168.4 579.2h3.4v3.4h-3.4zM169.7 582.8h1.6v1.8h-1.6zM186 582.5h1.7v3.4h-1.7zM220.7 652.7h2.4v2.7h-2.4zM282.3 541.5h2.3v2.5h-2.3zM281.1 540.3h1.7v2h-1.7zM274.8 550.1h3.8v3.9h-3.8zM300.6 579.7h4.5v4.3h-4.5zM301 576.4h3.8v3.3h-3.8zM312.5 571.4h2.8v2.4h-2.8zM309.7 526.5h3v2.1h-3zM311.6 511.5h2.2v1.6h-2.2zM336.5 567.6h2.6v4.4h-2.6zM339 564.9h2v2.7h-2z" fill="#ece2f6" opacity="0.7"/>
<path d="M165.3 611.6h2.8v2.6h-2.8zM194 616.6h3.2v3.9h-3.2zM213.5 677.7h4.1v3.3h-4.1zM228.1 669.6h2.3v3.5h-2.3z" fill="#f1e9f8" opacity="0.7"/>
<path d="M172.1 629.1h3.9v2.6h-3.9z" fill="#efe8f7" opacity="0.7"/>
<path d="M170.4 612.9h4.3v2.3h-4.3zM194.9 619.2h2.2v4h-2.2zM198.9 624.1h3.3v3.6h-3.3zM196.1 579.8h4.4v4h-4.4zM208.8 650.7h2.5v2.7h-2.5zM267.7 679.9h2.6v2.1h-2.6zM267.7 552.8h2.2v2.1h-2.2zM282.6 529h3.2v3h-3.2z" fill="#f0e8f8" opacity="0.7"/>
<path d="M169.9 628.3h4.4v4.2h-4.4zM172.5 584.3h1.8v3.8h-1.8zM197.5 577.6h3.4v4.1h-3.4zM215.8 667.9h1.7v4.5h-1.7zM257.7 648.2h3.6v3.8h-3.6zM306.9 586.3h3.2v2.6h-3.2zM300.3 569.5h4.5v2.9h-4.5z" fill="#eee6f7" opacity="0.7"/>
<path d="M161.7 583.5h3.3v2.7h-3.3zM265.5 671.8h1.8v3.2h-1.8zM263.8 635.8h3.8v3.2h-3.8z" fill="#d2c4e9" opacity="0.7"/>
<path d="M172.9 576.8h2v3.4h-2zM162.4 586.6h2.1v2.5h-2.1zM170.3 576h4.5v2.3h-4.5zM202 584.4h3v1.6h-3zM229.1 648.8h2.3v2.7h-2.3zM215.1 643.7h1.8v4.5h-1.8zM256.2 553.2h3.7v2h-3.7zM288.7 552.5h3.1v2.4h-3.1zM289.1 543.5h2.1v1.7h-2.1zM307.4 580.1h3.1v4.2h-3.1z" fill="#ede4f6" opacity="0.7"/>
<path d="M172.8 578.8h2.5v1.8h-2.5zM193.3 583.2h2.4v3.2h-2.4zM256.7 660.7h4.3v4.2h-4.3zM274.3 553.4h2.9v3h-2.9zM280.8 536.6h1.6v3h-1.6zM282.1 516.7h4v2.3h-4zM313.6 557.3h2v2.8h-2zM293.1 515.6h2v1.6h-2zM323.6 580.7h3.8v3.8h-3.8zM321.3 568.3h2.7v4.4h-2.7zM331.8 535.9h4.2v2.1h-4.2z" fill="#e7dcf3" opacity="0.7"/>
<path d="M170.1 586h4.3v2.2h-4.3zM191.8 586.8h2.4v3.6h-2.4zM183 579.8h3.4v4h-3.4zM183.5 579.8h2.6v2.1h-2.6zM257.1 670.7h4.3v1.9h-4.3zM257.6 652.6h4v2.1h-4zM264 546.1h2.8v2h-2.8zM263.2 536.6h3.1v2.5h-3.1zM308.6 512.9h2v4.5h-2zM316.5 539.3h3.6v2.4h-3.6zM337.1 558h1.9v2.9h-1.9z" fill="#c6b8e4" opacity="0.7"/>
<path d="M169.1 585.7h4.3v4.4h-4.3zM195.4 624.5h3.7v3h-3.7zM196.6 629.7h2.1v3.2h-2.1zM181.5 582.2h3.5v1.6h-3.5zM227.3 677.5h3.3v4h-3.3zM223 649.7h3.7v4.3h-3.7zM206.3 653h2.9v1.5h-2.9zM243.4 599.9h2.1v2.8h-2.1zM258.3 547.6h3.1v1.6h-3.1zM278.7 536.3h2v3.4h-2zM282.8 526.3h2.5v3.7h-2.5zM311.1 580.2h4.3v1.6h-4.3zM305.4 566.3h4.3v3h-4.3zM321.2 563.8h2.6v2.5h-2.6z" fill="#ebe1f5" opacity="0.7"/>
<path d="M173.5 586.3h2.8v2h-2.8zM301.1 586.2h4.1v3.7h-4.1zM296.8 527.8h3.7v2.9h-3.7z" fill="#e7ddf3" opacity="0.7"/>
<path d="M189.8 677.5h2.2v4.4h-2.2zM197.9 668h4.1v4.2h-4.1zM191 668.3h3.6v2.4h-3.6zM200.9 617h3v4.1h-3zM197.8 629h3v1.5h-3zM191.2 611.3h3.7v4.2h-3.7zM184.2 611.4h2.6v1.8h-2.6zM190.4 613h3v3.8h-3zM216.9 669.6h4.4v3h-4.4zM206 666.4h2.8v4.4h-2.8zM263.7 521.3h3.7v1.7h-3.7zM335.5 579.4h1.9v1.7h-1.9z" fill="#d7caec" opacity="0.7"/>
<path d="M198.5 678.2h2.8v3.7h-2.8zM196 666.7h1.9v3h-1.9z" fill="#968ad0" opacity="0.7"/>
<path d="M197.2 677.5h2.6v4.5h-2.6zM264.6 549.8h4.2v4h-4.2z" fill="#cdbfe8" opacity="0.7"/>
<path d="M180.7 677.7h2.1v4h-2.1z" fill="#a597d5" opacity="0.7"/>
<path d="M185.9 678.5h2.3v2.9h-2.3zM200.9 574.5h3.3v2h-3.3z" fill="#d5c7eb" opacity="0.7"/>
<path d="M194.8 660.9h3.8v1.7h-3.8z" fill="#978ad0" opacity="0.7"/>
<path d="M195.6 661.5h3.1v4.4h-3.1zM181.5 620.8h1.5v3.8h-1.5zM213.1 636.5h3.5v4.4h-3.5zM240.1 595.6h2.6v3.2h-2.6zM252 599.1h3.6v3.3h-3.6zM262.3 668.9h3.5v2.6h-3.5zM260.5 650.5h4v3.4h-4zM261.1 583.5h3.4v3.6h-3.4zM264.6 529.7h2.7v3.7h-2.7zM294.1 575.1h3.6v1.6h-3.6zM295.6 568.4h1.9v2.4h-1.9zM317.5 574.4h2v2.5h-2z" fill="#c9bbe6" opacity="0.7"/>
<path d="M179.3 664.7h2.7v2.5h-2.7zM186.2 668.2h3.5v4.3h-3.5zM181.5 670.1h3.4v4.4h-3.4z" fill="#ac9ed8" opacity="0.7"/>
<path d="M183 672.1h1.6v2.3h-1.6z" fill="#a092d3" opacity="0.7"/>
<path d="M189.9 670.9h2.6v1.9h-2.6zM262.1 580.7h3v3.3h-3z" fill="#9d90d2" opacity="0.7"/>
<path d="M188.5 666.7h3.4v1.6h-3.4zM197.2 672.3h3.5v2.8h-3.5zM328.7 517.9h4.1v3.2h-4.1zM336 519.4h3.8v2.6h-3.8zM330.3 517.6h2.4v2.7h-2.4z" fill="#9f92d3" opacity="0.7"/>
<path d="M188.3 664.9h3.5v2.3h-3.5z" fill="#a89ad6" opacity="0.7"/>
<path d="M199.9 667.7h2.1v2.8h-2.1z" fill="#9f91d3" opacity="0.7"/>
<path d="M181.2 629h2.5v3.8h-2.5zM193.6 615.4h4.4v1.9h-4.4zM179.6 621.1h2.1v4.4h-2.1zM186.3 629.9h3.7v2.7h-3.7zM216.4 667.6h2.9v4.3h-2.9zM259.9 667.7h4.1v2.2h-4.1zM257.8 550.3h1.7v3h-1.7zM276.3 549.8h1.7v2.8h-1.7zM285.1 542.8h1.9v1.8h-1.9zM292.9 563.6h2v2h-2zM294.3 557.5h3.8v3.7h-3.8zM322.1 568.6h1.6v2.2h-1.6z" fill="#ede3f6" opacity="0.7"/>
<path d="M203.4 620.3h2.4v2.5h-2.4zM186 619.2h2.4v3.1h-2.4zM220.8 678h3.5v3.5h-3.5zM222.2 663.4h3.6v3.6h-3.6zM242.6 597.6h3.4v1.7h-3.4zM258.6 547.8h3.8v4.1h-3.8zM264.6 539.4h2.4v2.3h-2.4zM267.8 526.1h3.6v3.8h-3.6zM287 530.5h3.4v2.7h-3.4zM275.5 521.8h2.1v2h-2.1zM296.9 585.1h3.4v3.7h-3.4zM300.1 580.4h2.2v1.7h-2.2zM311.8 512.4h3.7v4h-3.7z" fill="#ece3f6" opacity="0.7"/>
<path d="M198.5 629.4h2v4.3h-2zM187.3 613h3.5v2.5h-3.5zM198.7 616.3h2.8v2.8h-2.8zM224.1 650.7h2.5v2.6h-2.5zM206.4 640.9h2.2v2.9h-2.2zM260.1 516.7h3.9v4h-3.9z" fill="#d6c9ec" opacity="0.7"/>
<path d="M202.8 620.4h2.3v3.2h-2.3zM209.5 665.5h4.1v2.8h-4.1zM211.4 639.9h3.2v3.3h-3.2z" fill="#f2ebf9" opacity="0.7"/>
<path d="M200.1 625.2h2.9v2.4h-2.9zM227.5 654.7h1.8v1.8h-1.8zM262.8 679h4.4v2.7h-4.4zM269.4 640.8h4.3v4.2h-4.3zM256.8 555h4.2v1.9h-4.2zM284.8 515.3h2v4.2h-2z" fill="#efe6f7" opacity="0.7"/>
<path d="M181.7 615.7h3.1v2.9h-3.1zM220.5 649.4h1.7v1.8h-1.7z" fill="#f2ebf8" opacity="0.7"/>
<path d="M188.6 627h2.1v4.1h-2.1zM221.8 665.7h3.5v2.5h-3.5zM228.3 652.9h4.3v3.1h-4.3z" fill="#f2ecf9" opacity="0.7"/>
<path d="M189.7 630.2h2.9v3.9h-2.9zM258.9 586h2.9v3.8h-2.9z" fill="#d6c8eb" opacity="0.7"/>
<path d="M189.3 576.1h1.7v2.6h-1.7z" fill="#d4c6eb" opacity="0.7"/>
<path d="M201.1 579.5h1.8v3h-1.8zM222.3 644.4h2.7v2.3h-2.7zM321.8 583.4h4.1v3.7h-4.1z" fill="#eee5f6" opacity="0.7"/>
<path d="M198.2 587.7h4.3v2.7h-4.3zM196.1 573.9h1.8v3h-1.8zM269.1 668.8h4.4v3.4h-4.4zM261 636.2h2.6v3.9h-2.6zM256.5 653.1h4.3v4.3h-4.3zM256.8 532h4.2v2.4h-4.2zM308.7 510.9h2.8v3.3h-2.8zM325 582.9h2v1.6h-2zM325.2 586h2.3v2.5h-2.3zM320.9 567.4h1.7v4.4h-1.7zM317.4 544.4h2.6v3.2h-2.6zM332.1 538h2.5v3.6h-2.5z" fill="#e8ddf4" opacity="0.7"/>
<path d="M179.6 575.6h2.2v2.9h-2.2zM320.9 565.2h2.4v3.1h-2.4zM323.1 544.8h2.1v3.7h-2.1zM334.3 561.6h1.5v1.7h-1.5zM336.2 539.2h2.2v4.2h-2.2z" fill="#e7ddf4" opacity="0.7"/>
<path d="M193.3 577.6h2.1v3.5h-2.1zM220.2 657.2h3.3v2.2h-3.3zM266.5 650.6h4.2v4.2h-4.2zM258.7 656.9h3v2.3h-3zM284.4 512.4h3.1v4.4h-3.1zM278.5 515.5h4.4v3.4h-4.4zM307.9 574.9h1.9v2h-1.9zM307.7 526.2h4.3v3.4h-4.3z" fill="#e9def4" opacity="0.7"/>
<path d="M209.2 666.7h3.9v4.1h-3.9zM207.3 665.9h3.9v4h-3.9z" fill="#f3ecf9" opacity="0.7"/>
<path d="M217.1 661.1h2.8v3.5h-2.8z" fill="#e9dff5" opacity="0.7"/>
<path d="M213.7 672h2.4v4.4h-2.4zM281.9 510.9h3.2v1.7h-3.2zM285.4 514.8h2.7v1.6h-2.7zM281.9 510.5h1.8v2.6h-1.8zM320 553.4h1.7v2.6h-1.7zM320.4 548.3h1.9v3.7h-1.9zM328.4 569.2h3.3v4.3h-3.3z" fill="#eadff5" opacity="0.7"/>
<path d="M213.4 641.3h3.4v3.7h-3.4zM261.1 518.8h4.2v2.9h-4.2z" fill="#d7cbec" opacity="0.7"/>
<path d="M221.4 636.1h1.9v3.3h-1.9zM259.8 677.9h1.9v3.5h-1.9zM300.9 548.6h3.1v4.2h-3.1zM317.4 583.4h1.8v2.2h-1.8zM317.8 544.4h3.8v4.2h-3.8z" fill="#c9bbe5" opacity="0.7"/>
<path d="M211.8 643.3h2.8v2h-2.8z" fill="#f3edf9" opacity="0.7"/>
<path d="M241 597.9h2.7v3.8h-2.7zM303.2 530.5h2.7v4.2h-2.7zM337.1 520.8h3.1v3.4h-3.1z" fill="#c7b9e4" opacity="0.7"/>
<path d="M240.3 598.2h4.1v2.4h-4.1zM270.5 526.1h2.7v1.9h-2.7zM268.2 525.4h2.9v3.4h-2.9zM289.2 537.4h2.5v4h-2.5zM274.2 517.5h4.3v4.3h-4.3zM298.3 568.2h4v4.2h-4zM304.2 569.8h2.1v2.9h-2.1zM308.9 524.9h3.3v3.8h-3.3zM308.9 531.2h3.9v2h-3.9zM329.2 552.2h2v2.5h-2zM329.8 550.5h4.3v1.8h-4.3z" fill="#e6dbf3" opacity="0.7"/>
<path d="M261.4 674.9h2.5v2h-2.5zM256.2 656.6h2.6v2.7h-2.6zM269.5 533.2h3.2v1.6h-3.2zM266 525.2h4.1v2.4h-4.1zM297.4 558.2h3v3.7h-3zM321.7 553.6h1.9v1.9h-1.9z" fill="#e8def4" opacity="0.7"/>
<path d="M263.9 637h1.9v2.8h-1.9zM305 574.2h3.3v3.7h-3.3z" fill="#e6dcf3" opacity="0.7"/>
<path d="M266.4 580.5h3.4v2.5h-3.4z" fill="#aa9cd7" opacity="0.7"/>
<path d="M267.6 585h3.2v3h-3.2z" fill="#a799d6" opacity="0.7"/>
<path d="M256 582.6h1.6v2.9h-1.6zM268.4 583.7h2.8v3h-2.8z" fill="#ac9ed9" opacity="0.7"/>
<path d="M266.8 576.4h1.9v3.2h-1.9z" fill="#9689d0" opacity="0.7"/>
<path d="M271.8 585.5h1.8v3.2h-1.8z" fill="#9c8fd2" opacity="0.7"/>
<path d="M255.8 524.9h3.6v2.1h-3.6zM278.5 545.8h2.3v1.7h-2.3zM302.5 510.2h3.1v1.6h-3.1zM299.5 513.6h3.7v2.8h-3.7zM299.7 511.8h1.6v3.4h-1.6zM337.7 535.6h4.1v2.6h-4.1zM331 546.8h1.5v2h-1.5z" fill="#e4d9f2" opacity="0.7"/>
<path d="M264.3 532h3.7v1.8h-3.7zM310.8 525.7h1.6v2h-1.6zM307.7 520h4.4v2.5h-4.4zM317.4 576.6h3.8v4.5h-3.8zM323.3 548.3h3.6v2.8h-3.6zM336.8 536h4.2v3h-4.2zM331.4 536.3h2.5v2.5h-2.5zM336.8 550.8h3.4v1.8h-3.4z" fill="#bdafe0" opacity="0.7"/>
<path d="M270.4 522.1h3.1v2.7h-3.1zM258.5 520.2h4v3.2h-4z" fill="#d8cbec" opacity="0.7"/>
<path d="M262.7 511.4h4.2v4.1h-4.2zM319.3 521.6h4.4v2.4h-4.4zM328.4 584.8h3.7v1.6h-3.7z" fill="#dacded" opacity="0.7"/>
<path d="M268.1 520.9h1.5v3.8h-1.5z" fill="#a497d5" opacity="0.7"/>
<path d="M263.7 519.2h3.7v1.7h-3.7zM321 512.3h4.5v4.2h-4.5zM336.9 578.3h1.8v4.1h-1.8z" fill="#ded2ef" opacity="0.7"/>
<path d="M259.5 519.1h3.2v3.1h-3.2z" fill="#dcd0ef" opacity="0.7"/>
<path d="M265.4 512.3h2.3v2.9h-2.3zM318.7 512.7h2.9v3.5h-2.9z" fill="#b5a7dd" opacity="0.7"/>
<path d="M262.4 514.8h3.3v3h-3.3zM267.2 517.8h1.7v4.1h-1.7zM332.3 574.3h3.2v1.9h-3.2zM328 579.7h3.6v3.3h-3.6z" fill="#b6a8dd" opacity="0.7"/>
<path d="M280.8 550.6h3.3v4.4h-3.3zM311.7 565.3h4.3v2.2h-4.3zM301.6 562h2.8v2.9h-2.8zM331.9 541.7h1.9v3.2h-1.9zM329.5 536.8h3.2v3.2h-3.2zM328 518.7h3.3v3.6h-3.3z" fill="#beb0e1" opacity="0.7"/>
<path d="M281.9 539.3h1.9v3h-1.9zM305.8 564h2.3v3.1h-2.3zM312.2 552.5h2.9v4.1h-2.9zM295.7 555.4h4.3v1.7h-4.3zM295.3 518.9h4.3v3h-4.3zM316.8 547.2h2.9v3.3h-2.9zM319 527.5h3.2v3.5h-3.2zM320 529.1h3.6v4h-3.6zM336.6 527.7h2.6v3.5h-2.6z" fill="#c2b4e2" opacity="0.7"/>
<path d="M283.5 552.8h2v3.4h-2zM333.1 545h2.9v4.1h-2.9zM336 530.9h2.9v2.3h-2.9z" fill="#bfb1e1" opacity="0.7"/>
<path d="M281.5 536h3.4v3.1h-3.4zM305.3 559.5h3.9v1.7h-3.9zM302 559.1h3v1.8h-3zM309 566.6h2.3v1.7h-2.3zM307.3 512.1h4.2v2.1h-4.2zM318.3 581.8h3.6v1.9h-3.6zM320.7 525.2h3.4v3.3h-3.4zM322.9 522.5h3.3v2h-3.3zM330.7 536.3h4.1v2.1h-4.1zM337.6 530.9h2.9v2.9h-2.9zM337.9 531.1h3.3v3.4h-3.3z" fill="#e3d8f2" opacity="0.7"/>
<path d="M281.8 540.6h3.3v2.8h-3.3zM279.9 527h4.2v1.5h-4.2zM305.1 521.5h4.3v3.1h-4.3zM324.5 564.6h2.8v3h-2.8zM319.2 542.8h3.1v4.4h-3.1zM338.1 548h4.1v3.9h-4.1z" fill="#c3b5e3" opacity="0.7"/>
<path d="M300.4 558.8h1.6v3.4h-1.6z" fill="#c2b4e3" opacity="0.7"/>
<path d="M301.2 560.1h2.4v3h-2.4zM298.1 566.3h1.8v3.8h-1.8z" fill="#e5daf3" opacity="0.7"/>
<path d="M303.3 561h3.1v2.9h-3.1zM322.5 549.3h3.6v2.1h-3.6zM334.7 540.6h3.3v2.9h-3.3z" fill="#e5daf2" opacity="0.7"/>
<path d="M307.7 548.8h2v2.5h-2zM331.4 527.7h1.8v3.5h-1.8z" fill="#c0b2e2" opacity="0.7"/>
<path d="M308.6 553h4.1v2.7h-4.1zM311.1 544.7h3.9v3.3h-3.9z" fill="#9e90d3" opacity="0.7"/>
<path d="M299.4 545.8h2.2v4.5h-2.2zM306.6 551.3h3.3v3.9h-3.3z" fill="#9387cf" opacity="0.7"/>
<path d="M298.6 550.7h3.2v4.1h-3.2zM332.4 518.4h2.5v3.5h-2.5z" fill="#897dcb" opacity="0.7"/>
<path d="M297.1 543.9h1.5v2.8h-1.5zM333.7 522h2.1v2.3h-2.1zM334.9 517h3.3v3.9h-3.3z" fill="#9185ce" opacity="0.7"/>
<path d="M309.7 546h2.1v4.2h-2.1z" fill="#857bca" opacity="0.7"/>
<path d="M294.8 538.7h3.2v4h-3.2z" fill="#9a8ed1" opacity="0.7"/>
<path d="M293.9 541.9h3.8v3.2h-3.8zM330.8 511.8h3.2v3.3h-3.2z" fill="#897ecb" opacity="0.7"/>
<path d="M312.4 549.1h3.5v4.5h-3.5z" fill="#9286cf" opacity="0.7"/>
<path d="M295.6 551h1.7v1.7h-1.7z" fill="#9085ce" opacity="0.7"/>
<path d="M304.6 542.7h3v4.1h-3z" fill="#8b80cc" opacity="0.7"/>
<path d="M298.1 540.1h1.9v3.5h-1.9z" fill="#887dcb" opacity="0.7"/>
<path d="M294.3 525.4h4.2v2.8h-4.2z" fill="#dfd4f0" opacity="0.7"/>
<path d="M294.8 531h3.3v2h-3.3zM311.5 531.5h2.2v1.5h-2.2zM320.1 510.1h3.3v3.2h-3.3z" fill="#bbaddf" opacity="0.7"/>
<path d="M299.3 513.2h1.7v4.5h-1.7zM329.7 550.3h1.6v4h-1.6z" fill="#e0d5f0" opacity="0.7"/>
<path d="M311 520.9h2v3.2h-2zM317.3 550.5h3.9v4.1h-3.9zM335.3 532.1h2.7v2.1h-2.7z" fill="#e0d4f0" opacity="0.7"/>
<path d="M309.5 515.8h4.4v4.2h-4.4zM320.9 551.8h3.3v2.7h-3.3z" fill="#e1d6f1" opacity="0.7"/>
<path d="M296.1 519.5h2.2v3.3h-2.2zM322.8 532.8h3.2v2.4h-3.2z" fill="#e2d7f1" opacity="0.7"/>
<path d="M302.6 517.9h1.9v4.3h-1.9zM318.2 513.4h4.4v3.1h-4.4zM334.3 536.7h3.5v3.7h-3.5z" fill="#dfd3f0" opacity="0.7"/>
<path d="M294.1 519.6h3.2v3.3h-3.2zM321.9 540h2.3v2.6h-2.3zM322.4 529h3.3v4.1h-3.3zM323.1 517.7h3.9v4.1h-3.9zM321.8 519.4h3.8v3.4h-3.8z" fill="#baacdf" opacity="0.7"/>
<path d="M318.4 547.2h3.4v2h-3.4z" fill="#b9abde" opacity="0.7"/>
<path d="M320.5 532.9h2.7v1.6h-2.7zM339.5 528.2h4.1v4.3h-4.1z" fill="#d9cded" opacity="0.7"/>
<path d="M320.3 530.2h2.1v4.5h-2.1z" fill="#e3d7f1" opacity="0.7"/>
<path d="M323.3 532.1h2.1v2.7h-2.1zM336.3 525.6h3.5v3.4h-3.5z" fill="#dbceee" opacity="0.7"/>
<path d="M322.6 517h3.2v2.1h-3.2z" fill="#daceee" opacity="0.7"/>
<path d="M322.2 513.7h2.1v4.5h-2.1z" fill="#ddd1ef" opacity="0.7"/>
<path d="M322.1 521h2.7v2.2h-2.7z" fill="#daceed" opacity="0.7"/>
<path d="M338.4 583h2.3v4.1h-2.3z" fill="#b4a6dc" opacity="0.7"/>
<path d="M338.8 577.2h3.3v1.6h-3.3z" fill="#b7a9dd" opacity="0.7"/>
<path d="M340.4 574.4h2.4v4.3h-2.4z" fill="#dcd0ee" opacity="0.7"/>
<path d="M337 578.6h2.2v2.2h-2.2zM333 529.9h4.4v2.1h-4.4z" fill="#b1a3db" opacity="0.7"/>
<path d="M332.9 575.7h3.2v3.5h-3.2z" fill="#b2a4db" opacity="0.7"/>
<path d="M333.1 576.7h2.4v4.4h-2.4z" fill="#b0a2da" opacity="0.7"/>
<path d="M335.1 580.7h3.3v3.3h-3.3z" fill="#dbcfee" opacity="0.7"/>
<path d="M330.7 575h2.5v2.3h-2.5z" fill="#afa1da" opacity="0.7"/>
<path d="M341.4 558.1h2.4v1.7h-2.4z" fill="#c4b6e4" opacity="0.7"/>
<path d="M328.3 549.7h4.3v2.7h-4.3z" fill="#e5dbf3" opacity="0.7"/>
<path d="M332.2 549h3.8v4.3h-3.8z" fill="#beb0e0" opacity="0.7"/>
<path d="M340.1 545.8h2.3v2.6h-2.3z" fill="#e2d6f1" opacity="0.7"/>
<path d="M327.8 528.9h3.9v1.7h-3.9z" fill="#b9abdf" opacity="0.7"/>
<path d="M332.6 513.9h4v3.9h-4z" fill="#a194d4" opacity="0.7"/>
<path d="M331 514.6h3.8v2.5h-3.8z" fill="#867bca" opacity="0.7"/>
<path d="M335.8 519.6h2.5v2.5h-2.5z" fill="#9286ce" opacity="0.7"/>
<path d="M337.6 512.6h1.5v2.4h-1.5z" fill="#9084cd" opacity="0.7"/>
<path d="M332.6 514h1.8v1.9h-1.8z" fill="#8b7fcc" opacity="0.7"/>
<rect x="179" y="649.5" width="13" height="11.5" fill="#4243b2" opacity="1.0"/>
<rect x="192" y="636" width="13.8" height="13.5" fill="#5e59bc" opacity="1.0"/>
<rect x="179" y="636" width="13" height="13.5" fill="#887dcb" opacity="1.0"/>
<rect x="192" y="649.5" width="13.8" height="11.5" fill="#8277c8" opacity="1.0"/>
<rect x="180" y="612" width="11" height="24" fill="#f3edf9" opacity="1.0"/>
<rect x="155" y="661" width="23.8" height="20.5" fill="#8277c8" opacity="1.0"/>
<rect x="178.8" y="661" width="13.2" height="20.5" fill="#cbbde7" opacity="1.0"/>
<rect x="192" y="661" width="13.8" height="20.5" fill="#b0a2da" opacity="1.0"/>
<rect x="155" y="636" width="23.8" height="25" fill="#a698d6" opacity="1.0"/>
<rect x="158" y="642" width="10" height="12" fill="#bbaddf" opacity="1.0"/>
<rect x="273.8" y="557.2" width="8.2" height="7.8" fill="#5e59bc" opacity="1.0"/>
<rect x="283" y="565.5" width="9" height="8.1" fill="#5e59bc" opacity="1.0"/>
<rect x="283" y="557.2" width="9" height="7.8" fill="#6a62c0" opacity="1.0"/>
<rect x="273.8" y="565.5" width="8.2" height="8.1" fill="#6a62c0" opacity="1.0"/>
<rect x="292" y="546" width="11" height="11.2" fill="#8e82cd" opacity="1.0"/>
<rect x="303" y="535.4" width="13" height="10.6" fill="#b0a2da" opacity="1.0"/>
<rect x="330" y="510" width="14" height="12" fill="#b0a2da" opacity="1.0"/>
<path d="M164.5 510V682" stroke="#ffffff" stroke-width="0.7" opacity="0.13"/>
<path d="M165.5 510V682" stroke="#7050b4" stroke-width="1.5" opacity="0.06"/>
<path d="M167.5 510V682" stroke="#7050b4" stroke-width="1.5" opacity="0.07"/>
<path d="M178.5 510V682" stroke="#7050b4" stroke-width="1.5" opacity="0.05"/>
<path d="M180.5 510V682" stroke="#ffffff" stroke-width="0.7" opacity="0.09"/>
<path d="M181.5 510V682" stroke="#7050b4" stroke-width="0.7" opacity="0.06"/>
<path d="M185.5 510V682" stroke="#ffffff" stroke-width="0.7" opacity="0.04"/>
<path d="M186.5 510V682" stroke="#7050b4" stroke-width="1.5" opacity="0.11"/>
<path d="M190.5 510V682" stroke="#7050b4" stroke-width="0.7" opacity="0.11"/>
<path d="M191.5 510V682" stroke="#7050b4" stroke-width="1" opacity="0.04"/>
<path d="M193.5 510V682" stroke="#7050b4" stroke-width="1" opacity="0.08"/>
<path d="M194.5 510V682" stroke="#7050b4" stroke-width="0.7" opacity="0.06"/>
<path d="M196.5 510V682" stroke="#7050b4" stroke-width="1" opacity="0.12"/>
<path d="M197.5 510V682" stroke="#7050b4" stroke-width="1" opacity="0.05"/>
<path d="M198.5 510V682" stroke="#7050b4" stroke-width="0.7" opacity="0.04"/>
<path d="M199.5 510V682" stroke="#ffffff" stroke-width="1" opacity="0.06"/>
<path d="M200.5 510V682" stroke="#7050b4" stroke-width="1" opacity="0.07"/>
<path d="M201.5 510V682" stroke="#7050b4" stroke-width="1" opacity="0.10"/>
<path d="M202.5 510V682" stroke="#7050b4" stroke-width="1" opacity="0.03"/>
<path d="M203.5 510V682" stroke="#7050b4" stroke-width="0.7" opacity="0.13"/>
<path d="M206.5 510V682" stroke="#7050b4" stroke-width="1" opacity="0.09"/>
<path d="M211.5 510V682" stroke="#7050b4" stroke-width="0.7" opacity="0.13"/>
<path d="M212.5 510V682" stroke="#7050b4" stroke-width="1.5" opacity="0.07"/>
<path d="M213.5 510V682" stroke="#ffffff" stroke-width="1.5" opacity="0.07"/>
<path d="M215.5 510V682" stroke="#ffffff" stroke-width="1.5" opacity="0.09"/>
<path d="M216.5 510V682" stroke="#ffffff" stroke-width="0.7" opacity="0.09"/>
<path d="M217.5 510V682" stroke="#7050b4" stroke-width="1.5" opacity="0.13"/>
<path d="M218.5 510V682" stroke="#7050b4" stroke-width="1" opacity="0.12"/>
<path d="M221.5 510V682" stroke="#ffffff" stroke-width="0.7" opacity="0.06"/>
<path d="M223.5 510V682" stroke="#ffffff" stroke-width="1.5" opacity="0.04"/>
<path d="M225.5 510V682" stroke="#7050b4" stroke-width="0.7" opacity="0.06"/>
<path d="M227.5 510V682" stroke="#ffffff" stroke-width="1.5" opacity="0.08"/>
<path d="M236.5 510V682" stroke="#7050b4" stroke-width="1" opacity="0.11"/>
<path d="M238.5 510V682" stroke="#7050b4" stroke-width="1" opacity="0.09"/>
<path d="M239.5 510V682" stroke="#7050b4" stroke-width="1" opacity="0.09"/>
<path d="M242.5 510V682" stroke="#ffffff" stroke-width="0.7" opacity="0.09"/>
<path d="M244.5 510V682" stroke="#ffffff" stroke-width="1" opacity="0.06"/>
<path d="M248.5 510V682" stroke="#ffffff" stroke-width="1.5" opacity="0.08"/>
<path d="M249.5 510V682" stroke="#ffffff" stroke-width="1" opacity="0.05"/>
<path d="M250.5 510V682" stroke="#ffffff" stroke-width="1" opacity="0.10"/>
<path d="M252.5 510V682" stroke="#7050b4" stroke-width="0.7" opacity="0.07"/>
<path d="M253.5 510V682" stroke="#7050b4" stroke-width="1" opacity="0.12"/>
<path d="M254.5 510V682" stroke="#7050b4" stroke-width="1.5" opacity="0.08"/>
<path d="M257.5 510V682" stroke="#7050b4" stroke-width="1.5" opacity="0.10"/>
<path d="M258.5 510V682" stroke="#7050b4" stroke-width="0.7" opacity="0.12"/>
<path d="M259.5 510V682" stroke="#7050b4" stroke-width="0.7" opacity="0.13"/>
<path d="M264.5 510V682" stroke="#7050b4" stroke-width="1.5" opacity="0.04"/>
<path d="M265.5 510V682" stroke="#ffffff" stroke-width="1" opacity="0.07"/>
<path d="M268.5 510V682" stroke="#7050b4" stroke-width="1.5" opacity="0.07"/>
<path d="M272.5 510V682" stroke="#ffffff" stroke-width="0.7" opacity="0.03"/>
<path d="M273.5 510V682" stroke="#7050b4" stroke-width="1.5" opacity="0.12"/>
<path d="M278.5 510V682" stroke="#7050b4" stroke-width="1.5" opacity="0.07"/>
<path d="M281.5 510V682" stroke="#7050b4" stroke-width="0.7" opacity="0.10"/>
<path d="M282.5 510V682" stroke="#ffffff" stroke-width="0.7" opacity="0.07"/>
<path d="M285.5 510V682" stroke="#7050b4" stroke-width="1" opacity="0.08"/>
<path d="M287.5 510V682" stroke="#ffffff" stroke-width="0.7" opacity="0.11"/>
<path d="M288.5 510V682" stroke="#7050b4" stroke-width="1.5" opacity="0.05"/>
<path d="M290.5 510V682" stroke="#7050b4" stroke-width="1" opacity="0.13"/>
<path d="M294.5 510V682" stroke="#ffffff" stroke-width="1.5" opacity="0.11"/>
<path d="M295.5 510V682" stroke="#7050b4" stroke-width="0.7" opacity="0.09"/>
<path d="M296.5 510V682" stroke="#7050b4" stroke-width="1" opacity="0.08"/>
<path d="M297.5 510V682" stroke="#ffffff" stroke-width="0.7" opacity="0.11"/>
<path d="M298.5 510V682" stroke="#ffffff" stroke-width="1" opacity="0.04"/>
<path d="M305.5 510V682" stroke="#7050b4" stroke-width="1" opacity="0.13"/>
<path d="M306.5 510V682" stroke="#7050b4" stroke-width="0.7" opacity="0.11"/>
<path d="M308.5 510V682" stroke="#7050b4" stroke-width="1.5" opacity="0.12"/>
<path d="M311.5 510V682" stroke="#7050b4" stroke-width="1" opacity="0.06"/>
<path d="M312.5 510V682" stroke="#ffffff" stroke-width="1" opacity="0.09"/>
<path d="M317.5 510V682" stroke="#ffffff" stroke-width="1" opacity="0.04"/>
<path d="M319.5 510V682" stroke="#7050b4" stroke-width="0.7" opacity="0.10"/>
<path d="M321.5 510V682" stroke="#7050b4" stroke-width="1.5" opacity="0.04"/>
<path d="M322.5 510V682" stroke="#7050b4" stroke-width="1.5" opacity="0.11"/>
<path d="M325.5 510V682" stroke="#7050b4" stroke-width="1" opacity="0.04"/>
<path d="M328.5 510V682" stroke="#ffffff" stroke-width="0.7" opacity="0.10"/>
<path d="M331.5 510V682" stroke="#ffffff" stroke-width="1" opacity="0.07"/>
<path d="M335.5 510V682" stroke="#7050b4" stroke-width="1" opacity="0.10"/>
<path d="M340.5 510V682" stroke="#7050b4" stroke-width="1.5" opacity="0.10"/>
<path d="M342.5 510V682" stroke="#7050b4" stroke-width="1" opacity="0.11"/>
<path d="M343.5 510V682" stroke="#ffffff" stroke-width="1" opacity="0.07"/>
<path d="M155 510.5H344" stroke="#7050b4" stroke-width="1.5" opacity="0.06"/>
<path d="M155 511.5H344" stroke="#7050b4" stroke-width="1.5" opacity="0.07"/>
<path d="M155 513.5H344" stroke="#7050b4" stroke-width="1.5" opacity="0.08"/>
<path d="M155 514.5H344" stroke="#7050b4" stroke-width="0.7" opacity="0.11"/>
<path d="M155 516.5H344" stroke="#7050b4" stroke-width="1.5" opacity="0.05"/>
<path d="M155 520.5H344" stroke="#7050b4" stroke-width="1" opacity="0.12"/>
<path d="M155 523.5H344" stroke="#ffffff" stroke-width="1" opacity="0.10"/>
<path d="M155 525.5H344" stroke="#7050b4" stroke-width="1.5" opacity="0.05"/>
<path d="M155 526.5H344" stroke="#7050b4" stroke-width="1" opacity="0.04"/>
<path d="M155 532.5H344" stroke="#ffffff" stroke-width="0.7" opacity="0.12"/>
<path d="M155 533.5H344" stroke="#ffffff" stroke-width="1.5" opacity="0.09"/>
<path d="M155 534.5H344" stroke="#7050b4" stroke-width="1.5" opacity="0.04"/>
<path d="M155 537.5H344" stroke="#ffffff" stroke-width="0.7" opacity="0.05"/>
<path d="M155 539.5H344" stroke="#7050b4" stroke-width="1" opacity="0.08"/>
<path d="M155 540.5H344" stroke="#7050b4" stroke-width="1.5" opacity="0.03"/>
<path d="M155 541.5H344" stroke="#7050b4" stroke-width="1" opacity="0.07"/>
<path d="M155 542.5H344" stroke="#7050b4" stroke-width="1.5" opacity="0.05"/>
<path d="M155 543.5H344" stroke="#ffffff" stroke-width="0.7" opacity="0.08"/>
<path d="M155 551.5H344" stroke="#7050b4" stroke-width="1.5" opacity="0.07"/>
<path d="M155 552.5H344" stroke="#ffffff" stroke-width="0.7" opacity="0.06"/>
<path d="M155 554.5H344" stroke="#ffffff" stroke-width="1" opacity="0.10"/>
<path d="M155 557.5H344" stroke="#7050b4" stroke-width="0.7" opacity="0.04"/>
<path d="M155 561.5H344" stroke="#7050b4" stroke-width="1" opacity="0.12"/>
<path d="M155 563.5H344" stroke="#7050b4" stroke-width="1.5" opacity="0.04"/>
<path d="M155 564.5H344" stroke="#7050b4" stroke-width="1.5" opacity="0.09"/>
<path d="M155 566.5H344" stroke="#7050b4" stroke-width="0.7" opacity="0.09"/>
<path d="M155 567.5H344" stroke="#ffffff" stroke-width="1.5" opacity="0.10"/>
<path d="M155 571.5H344" stroke="#ffffff" stroke-width="1" opacity="0.05"/>
<path d="M155 572.5H344" stroke="#7050b4" stroke-width="0.7" opacity="0.05"/>
<path d="M155 573.5H344" stroke="#7050b4" stroke-width="1.5" opacity="0.05"/>
<path d="M155 576.5H344" stroke="#ffffff" stroke-width="0.7" opacity="0.07"/>
<path d="M155 577.5H344" stroke="#7050b4" stroke-width="0.7" opacity="0.05"/>
<path d="M155 578.5H344" stroke="#7050b4" stroke-width="0.7" opacity="0.09"/>
<path d="M155 579.5H344" stroke="#7050b4" stroke-width="1.5" opacity="0.08"/>
<path d="M155 580.5H344" stroke="#ffffff" stroke-width="0.7" opacity="0.06"/>
<path d="M155 581.5H344" stroke="#ffffff" stroke-width="1.5" opacity="0.09"/>
<path d="M155 582.5H344" stroke="#7050b4" stroke-width="1" opacity="0.05"/>
<path d="M155 583.5H344" stroke="#ffffff" stroke-width="1.5" opacity="0.07"/>
<path d="M155 586.5H344" stroke="#7050b4" stroke-width="0.7" opacity="0.03"/>
<path d="M155 587.5H344" stroke="#7050b4" stroke-width="1.5" opacity="0.05"/>
<path d="M155 588.5H344" stroke="#7050b4" stroke-width="1" opacity="0.04"/>
<path d="M155 591.5H344" stroke="#7050b4" stroke-width="1.5" opacity="0.05"/>
<path d="M155 592.5H344" stroke="#7050b4" stroke-width="0.7" opacity="0.10"/>
<path d="M155 593.5H344" stroke="#7050b4" stroke-width="1" opacity="0.05"/>
<path d="M155 594.5H344" stroke="#7050b4" stroke-width="1.5" opacity="0.10"/>
<path d="M155 595.5H344" stroke="#7050b4" stroke-width="1.5" opacity="0.07"/>
<path d="M155 596.5H344" stroke="#ffffff" stroke-width="0.7" opacity="0.06"/>
<path d="M155 599.5H344" stroke="#7050b4" stroke-width="1" opacity="0.04"/>
<path d="M155 602.5H344" stroke="#ffffff" stroke-width="0.7" opacity="0.09"/>
<path d="M155 603.5H344" stroke="#7050b4" stroke-width="1.5" opacity="0.04"/>
<path d="M155 605.5H344" stroke="#7050b4" stroke-width="1.5" opacity="0.11"/>
<path d="M155 606.5H344" stroke="#ffffff" stroke-width="1" opacity="0.09"/>
<path d="M155 610.5H344" stroke="#7050b4" stroke-width="0.7" opacity="0.11"/>
<path d="M155 613.5H344" stroke="#ffffff" stroke-width="0.7" opacity="0.11"/>
<path d="M155 615.5H344" stroke="#7050b4" stroke-width="0.7" opacity="0.11"/>
<path d="M155 622.5H344" stroke="#ffffff" stroke-width="1.5" opacity="0.04"/>
<path d="M155 623.5H344" stroke="#7050b4" stroke-width="1" opacity="0.04"/>
<path d="M155 626.5H344" stroke="#7050b4" stroke-width="1.5" opacity="0.06"/>
<path d="M155 628.5H344" stroke="#7050b4" stroke-width="1.5" opacity="0.10"/>
<path d="M155 632.5H344" stroke="#ffffff" stroke-width="1.5" opacity="0.09"/>
<path d="M155 633.5H344" stroke="#7050b4" stroke-width="1.5" opacity="0.11"/>
<path d="M155 635.5H344" stroke="#ffffff" stroke-width="0.7" opacity="0.12"/>
<path d="M155 636.5H344" stroke="#7050b4" stroke-width="1.5" opacity="0.05"/>
<path d="M155 646.5H344" stroke="#7050b4" stroke-width="1" opacity="0.05"/>
<path d="M155 647.5H344" stroke="#7050b4" stroke-width="1" opacity="0.06"/>
<path d="M155 653.5H344" stroke="#ffffff" stroke-width="1" opacity="0.11"/>
<path d="M155 655.5H344" stroke="#7050b4" stroke-width="1.5" opacity="0.04"/>
<path d="M155 662.5H344" stroke="#ffffff" stroke-width="1" opacity="0.10"/>
<path d="M155 667.5H344" stroke="#ffffff" stroke-width="0.7" opacity="0.05"/>
<path d="M155 668.5H344" stroke="#ffffff" stroke-width="0.7" opacity="0.08"/>
<path d="M155 675.5H344" stroke="#7050b4" stroke-width="1" opacity="0.06"/>
<path d="M155 676.5H344" stroke="#7050b4" stroke-width="0.7" opacity="0.05"/>
<path d="M155 680.5H344" stroke="#7050b4" stroke-width="1" opacity="0.04"/>
<path d="M155 681.5H344" stroke="#ffffff" stroke-width="1" opacity="0.09"/>
<path d="M344 510L155 682" stroke="#6860c0" stroke-width="0.6" opacity="0.5"/>
<rect x="155" y="482" width="5" height="9" fill="#6d93d4"/>
<rect x="160" y="482" width="45" height="9" fill="#2db83d"/>
<rect x="205" y="482" width="35" height="9" fill="#6d93d4"/>
<rect x="240" y="482" width="33.8" height="9" fill="#2db83d"/>
<rect x="273.8" y="482" width="70.3" height="9" fill="#f47a68"/>
<rect x="155" y="491" width="5" height="8.6" fill="#a6cee3"/>
<rect x="160" y="491" width="45" height="8.6" fill="#b2df8a"/>
<rect x="205" y="491" width="4.5" height="8.6" fill="#1f78b4"/>
<rect x="209.5" y="491" width="5.5" height="8.6" fill="#a6cee3"/>
<rect x="215" y="491" width="25.1" height="8.6" fill="#1f78b4"/>
<rect x="240" y="491" width="33.8" height="8.6" fill="#33a02c"/>
<rect x="273.8" y="491" width="27.6" height="8.6" fill="#fb9a99"/>
<rect x="301.2" y="491" width="42.8" height="8.6" fill="#e31a1c"/>
<rect x="155" y="499.6" width="3" height="9.2" fill="#3b5fc0"/>
<rect x="158" y="499.6" width="2" height="9.2" fill="#3b5fc0"/>
<rect x="160" y="499.6" width="3" height="9.2" fill="#e5f5e0"/>
<rect x="163" y="499.6" width="1.6" height="9.2" fill="#e5f5e0"/>
<rect x="164.5" y="499.6" width="1.1" height="9.2" fill="#c7e9c0"/>
<rect x="165.5" y="499.6" width="1.6" height="9.2" fill="#e5f5e0"/>
<rect x="167" y="499.6" width="1.1" height="9.2" fill="#e5f5e0"/>
<rect x="168" y="499.6" width="1.6" height="9.2" fill="#a1d99b"/>
<rect x="169.5" y="499.6" width="3" height="9.2" fill="#e5f5e0"/>
<rect x="172.5" y="499.6" width="1.6" height="9.2" fill="#e5f5e0"/>
<rect x="174" y="499.6" width="2" height="9.2" fill="#e5f5e0"/>
<rect x="176" y="499.6" width="3" height="9.2" fill="#b9d4ef"/>
<rect x="179" y="499.6" width="1.6" height="9.2" fill="#e5f5e0"/>
<rect x="180.5" y="499.6" width="1.1" height="9.2" fill="#e5f5e0"/>
<rect x="181.5" y="499.6" width="1.1" height="9.2" fill="#e5f5e0"/>
<rect x="182.5" y="499.6" width="2" height="9.2" fill="#e5f5e0"/>
<rect x="184.5" y="499.6" width="1.6" height="9.2" fill="#e5f5e0"/>
<rect x="186" y="499.6" width="3" height="9.2" fill="#a1d99b"/>
<rect x="189" y="499.6" width="3" height="9.2" fill="#e5f5e0"/>
<rect x="192" y="499.6" width="2" height="9.2" fill="#e5f5e0"/>
<rect x="194" y="499.6" width="1.1" height="9.2" fill="#e5f5e0"/>
<rect x="195" y="499.6" width="2" height="9.2" fill="#e5f5e0"/>
<rect x="197" y="499.6" width="3" height="9.2" fill="#e5f5e0"/>
<rect x="200" y="499.6" width="2" height="9.2" fill="#e5f5e0"/>
<rect x="202" y="499.6" width="1.1" height="9.2" fill="#e5f5e0"/>
<rect x="203" y="499.6" width="1.1" height="9.2" fill="#e5f5e0"/>
<rect x="204" y="499.6" width="1.1" height="9.2" fill="#c7e9c0"/>
<rect x="205" y="499.6" width="3" height="9.2" fill="#b9d4ef"/>
<rect x="208" y="499.6" width="2" height="9.2" fill="#3b5fc0"/>
<rect x="210" y="499.6" width="2" height="9.2" fill="#3b5fc0"/>
<rect x="212" y="499.6" width="1.6" height="9.2" fill="#b9d4ef"/>
<rect x="213.5" y="499.6" width="1.1" height="9.2" fill="#3b5fc0"/>
<rect x="214.5" y="499.6" width="1.1" height="9.2" fill="#3b5fc0"/>
<rect x="215.5" y="499.6" width="1.6" height="9.2" fill="#b9d4ef"/>
<rect x="217" y="499.6" width="1.1" height="9.2" fill="#dcc8ec"/>
<rect x="218" y="499.6" width="1.1" height="9.2" fill="#dcc8ec"/>
<rect x="219" y="499.6" width="1.1" height="9.2" fill="#3b5fc0"/>
<rect x="220" y="499.6" width="1.1" height="9.2" fill="#3b5fc0"/>
<rect x="221" y="499.6" width="1.6" height="9.2" fill="#dcc8ec"/>
<rect x="222.5" y="499.6" width="2" height="9.2" fill="#b9d4ef"/>
<rect x="224.5" y="499.6" width="1.1" height="9.2" fill="#fcbba1"/>
<rect x="225.5" y="499.6" width="1.6" height="9.2" fill="#fcbba1"/>
<rect x="227" y="499.6" width="3" height="9.2" fill="#dcc8ec"/>
<rect x="230" y="499.6" width="2" height="9.2" fill="#b9d4ef"/>
<rect x="232" y="499.6" width="1.1" height="9.2" fill="#b9d4ef"/>
<rect x="233" y="499.6" width="1.6" height="9.2" fill="#fcbba1"/>
<rect x="234.5" y="499.6" width="1.1" height="9.2" fill="#3b5fc0"/>
<rect x="235.5" y="499.6" width="1.1" height="9.2" fill="#dcc8ec"/>
<rect x="236.5" y="499.6" width="3" height="9.2" fill="#b9d4ef"/>
<rect x="239.5" y="499.6" width="1.6" height="9.2" fill="#dcc8ec"/>
<rect x="241" y="499.6" width="1.1" height="9.2" fill="#a1d99b"/>
<rect x="242" y="499.6" width="1.1" height="9.2" fill="#a1d99b"/>
<rect x="243" y="499.6" width="1.6" height="9.2" fill="#a1d99b"/>
<rect x="244.5" y="499.6" width="1.1" height="9.2" fill="#c7e9c0"/>
<rect x="245.5" y="499.6" width="1.1" height="9.2" fill="#a1d99b"/>
<rect x="246.5" y="499.6" width="3" height="9.2" fill="#e5f5e0"/>
<rect x="249.5" y="499.6" width="1.1" height="9.2" fill="#a1d99b"/>
<rect x="250.5" y="499.6" width="1.1" height="9.2" fill="#a1d99b"/>
<rect x="251.5" y="499.6" width="2" height="9.2" fill="#c7e9c0"/>
<rect x="253.5" y="499.6" width="3" height="9.2" fill="#a1d99b"/>
<rect x="256.5" y="499.6" width="1.1" height="9.2" fill="#a1d99b"/>
<rect x="257.5" y="499.6" width="2" height="9.2" fill="#e5f5e0"/>
<rect x="259.5" y="499.6" width="1.1" height="9.2" fill="#e5f5e0"/>
<rect x="260.5" y="499.6" width="2" height="9.2" fill="#a1d99b"/>
<rect x="262.5" y="499.6" width="2" height="9.2" fill="#a1d99b"/>
<rect x="264.5" y="499.6" width="1.1" height="9.2" fill="#c7e9c0"/>
<rect x="265.5" y="499.6" width="2" height="9.2" fill="#c7e9c0"/>
<rect x="267.5" y="499.6" width="3" height="9.2" fill="#c7e9c0"/>
<rect x="270.5" y="499.6" width="1.1" height="9.2" fill="#a1d99b"/>
<rect x="271.5" y="499.6" width="1.1" height="9.2" fill="#a1d99b"/>
<rect x="272.5" y="499.6" width="1.1" height="9.2" fill="#c7e9c0"/>
<rect x="273.5" y="499.6" width="1.6" height="9.2" fill="#a1d99b"/>
<rect x="275" y="499.6" width="1.6" height="9.2" fill="#f46d43"/>
<rect x="276.5" y="499.6" width="1.6" height="9.2" fill="#f46d43"/>
<rect x="278" y="499.6" width="1.1" height="9.2" fill="#f46d43"/>
<rect x="279" y="499.6" width="3" height="9.2" fill="#f46d43"/>
<rect x="282" y="499.6" width="2" height="9.2" fill="#f46d43"/>
<rect x="284" y="499.6" width="1.1" height="9.2" fill="#f46d43"/>
<rect x="285" y="499.6" width="3" height="9.2" fill="#f46d43"/>
<rect x="288" y="499.6" width="3" height="9.2" fill="#f46d43"/>
<rect x="291" y="499.6" width="1.1" height="9.2" fill="#f46d43"/>
<rect x="292" y="499.6" width="1.1" height="9.2" fill="#f46d43"/>
<rect x="293" y="499.6" width="1.6" height="9.2" fill="#f46d43"/>
<rect x="294.5" y="499.6" width="1.1" height="9.2" fill="#f46d43"/>
<rect x="295.5" y="499.6" width="3" height="9.2" fill="#fcbba1"/>
<rect x="298.5" y="499.6" width="1.6" height="9.2" fill="#f46d43"/>
<rect x="300" y="499.6" width="2" height="9.2" fill="#f46d43"/>
<rect x="302" y="499.6" width="1.1" height="9.2" fill="#cb181d"/>
<rect x="303" y="499.6" width="1.1" height="9.2" fill="#cb181d"/>
<rect x="304" y="499.6" width="3" height="9.2" fill="#cb181d"/>
<rect x="307" y="499.6" width="1.1" height="9.2" fill="#f46d43"/>
<rect x="308" y="499.6" width="3" height="9.2" fill="#e5f5e0"/>
<rect x="311" y="499.6" width="3" height="9.2" fill="#cb181d"/>
<rect x="314" y="499.6" width="1.6" height="9.2" fill="#fcbba1"/>
<rect x="315.5" y="499.6" width="1.1" height="9.2" fill="#dcc8ec"/>
<rect x="316.5" y="499.6" width="1.1" height="9.2" fill="#cb181d"/>
<rect x="317.5" y="499.6" width="2" height="9.2" fill="#fcbba1"/>
<rect x="319.5" y="499.6" width="2" height="9.2" fill="#cb181d"/>
<rect x="321.5" y="499.6" width="1.6" height="9.2" fill="#e5f5e0"/>
<rect x="323" y="499.6" width="1.1" height="9.2" fill="#cb181d"/>
<rect x="324" y="499.6" width="1.6" height="9.2" fill="#f46d43"/>
<rect x="325.5" y="499.6" width="2" height="9.2" fill="#fcbba1"/>
<rect x="327.5" y="499.6" width="2" height="9.2" fill="#fcbba1"/>
<rect x="329.5" y="499.6" width="2" height="9.2" fill="#e5f5e0"/>
<rect x="331.5" y="499.6" width="1.1" height="9.2" fill="#cb181d"/>
<rect x="332.5" y="499.6" width="3" height="9.2" fill="#f46d43"/>
<rect x="335.5" y="499.6" width="1.1" height="9.2" fill="#fcbba1"/>
<rect x="336.5" y="499.6" width="1.1" height="9.2" fill="#dcc8ec"/>
<rect x="337.5" y="499.6" width="3" height="9.2" fill="#cb181d"/>
<rect x="340.5" y="499.6" width="3" height="9.2" fill="#fcbba1"/>
<rect x="343.5" y="499.6" width="0.6" height="9.2" fill="#e5f5e0"/>
<path d="M157.7 471.3V470.3H166.7V472.3M177.2 471.7V470.2H183.2V473.3M180.2 470.2V468.6H189.6V470.2M162.2 470.3V469.1H170.6V471.3M201.7 470.1V468.4H205V473.1M166.4 469.1V467.6H184.9V468.6M175.7 467.6V466.7H203.3V468.4M225.7 471.7V470.6H237.3V472.9M219.2 471.8V469.9H231.5V470.6M210.1 471V469H225.3V469.9M263.8 473.3V471.3H272.6V471.6M260 470.4V469.6H268.2V471.3M243.8 472.6V469.5H254.1V470.5M248.9 469.5V469H264.1V469.6M308.6 473V472.7H312.9V473.1M295.2 473.3V472.3H310.8V472.7M286.3 473V471.9H288.5V472.4M318.1 472.8V472.3H324.8V472.6M287.4 471.9V471.4H303V472.3M327.4 471.8V471.1H336V471.7M321.5 472.3V470.7H331.7V471.1M278.2 472.2V471H295.2V471.4M326.6 470.7V470.3H340.4V473.4M286.7 471V470H333.5V470.3M256.5 469V467.6H310.1V470M217.7 469V466.4H283.3V467.6M189.5 466.7V464.3H250.5V466.4" fill="none" stroke="#111" stroke-width="0.55"/>
<path d="M155 476.5L157.7 471.7 160.4 476.5ZM160.4 476.5L166.7 472.5 167.9 476.5ZM167.9 476.5L170.6 471.7 173.3 476.5ZM173.3 476.5L177.2 472 181.2 476.5ZM181.2 476.5L183.2 473.3 185.2 476.5ZM185.2 476.5L189.6 470.8 193.9 476.5ZM193.9 476.5L201.7 470.7 203.2 476.5ZM203.2 476.5L205 473.1 205.8 476.5ZM205.8 476.5L210.1 470.6 214.4 476.5ZM214.4 476.5L219.2 471.6 220.7 476.5ZM220.7 476.5L225.7 471.5 230.7 476.5ZM230.7 476.5L237.3 472.9 240 476.5ZM240 476.5L243.8 472.5 247.6 476.5ZM247.6 476.5L254.1 469.8 255.4 476.5ZM255.4 476.5L260 469.7 262.5 476.5ZM262.5 476.5L263.8 473.3 268.4 476.5ZM268.4 476.5L272.6 471.2 273.8 476.5ZM273.8 476.5L278.2 470.9 282.5 476.5ZM282.5 476.5L286.3 472.6 287.3 476.5ZM287.3 476.5L288.5 471.2 292.4 476.5ZM292.4 476.5L295.2 473.2 302.1 476.5ZM302.1 476.5L308.6 472.6 310.6 476.5ZM310.6 476.5L312.9 472.8 315.3 476.5ZM315.3 476.5L318.1 472.2 321 476.5ZM321 476.5L324.8 471.7 325.8 476.5ZM325.8 476.5L327.4 470 333.6 476.5ZM333.6 476.5L336 469.7 338.5 476.5ZM338.5 476.5L340.4 473.4 344 476.5Z" fill="#111"/>
<path d="M156.7 476.4L157.3 473.8M163.8 476.4L165.6 474.3M183.8 476.4L183.4 474.7M204.5 476.4L204.8 474.6M211 476.4L210.4 473.2M222.1 476.4L224.4 473.7M237.2 476.4L237.3 474.5M243.3 476.4L243.6 474.2M251.2 476.4L253.1 472.8M271.8 476.4L272.3 473.5M284.1 476.4L285.5 474.3M305.5 476.4L307.5 474.3M311.9 476.4L312.6 474.4M323.8 476.4L324.5 473.8M330 476.4L328.3 472.9" stroke="#fff" stroke-width="0.5" opacity="0.6"/>
<rect x="155" y="476" width="189" height="5" fill="#111"/>
<path d="M147.1 513.2H146.1V517.8H146.7M147 549H145.9V556.8H146.2M146 541.3H145.3V552.9H145.9M146.1 515.5H145.5V526.4H145.8M145.5 521H145.3V531.5H145.5M145.3 547.1H145.1V563.4H145.6M145.1 555.2H144.6V567.9H145.6M145.3 526.2H144.1V561.6H144.6M147.2 593.4H146.3V600.2H147M146.9 605.8H145.9V608.7H147M146.3 596.8H145.2V607.2H145.9M145.8 584.8H144.5V602H145.2M147.2 578.1H143.6V593.4H144.5M146 630.8H145.5V635H147.3M145.4 620.1H145V632.9H145.5M145.8 613.6H144.6V626.5H145M146.6 665.3H145.2V672H145.9M146.5 660.3H144.1V668.7H145.2M145.8 646H143.9V649.8H145M143.9 647.9H143.2V664.5H144.1M145.1 638.3H142.7V656.2H143.2M142.7 647.2H142.1V675.5H146.9M144.1 543.9H141.1V585.7H143.6M144.6 620.1H139.6V661.4H142.1M141.1 564.8H137.1V640.7H139.6" fill="none" stroke="#111" stroke-width="0.55"/>
<path d="M151 510L147.1 513.2 151 516.4ZM151 516.4L146.1 517.8 151 520.9ZM151 520.9L144.2 526.4 151 529.1ZM151 529.1L143.5 531.5 151 537.9ZM151 537.9L144.5 541.3 151 544.7ZM151 544.7L146.8 549 151 553.4ZM151 553.4L145 556.8 151 557.8ZM151 557.8L143.7 563.4 151 565.5ZM151 565.5L143.6 567.9 151 572.3ZM151 574L147.2 578.1 151 582.1ZM151 582.1L145.6 584.8 151 590.8ZM151 590.8L147.2 593.4 151 596ZM151 596L147 600.2 151 601.1ZM151 601.1L146.8 605.8 151 608.2ZM151 608.2L147 608.7 151 611ZM151 611L144.4 613.6 151 616.3ZM151 616.3L143.7 620.1 151 624ZM151 624L144.8 630.8 151 632.1ZM151 632.1L147.3 635 151 636ZM151 636L144.6 638.3 151 640.5ZM151 640.5L145.6 646 151 647.5ZM151 647.5L144.5 649.8 151 655.4ZM151 655.4L146.4 660.3 151 662.2ZM151 662.2L146.5 665.3 151 666.4ZM151 666.4L145.7 672 151 674.3ZM151 674.3L146.9 675.5 151 682Z" fill="#1a1a1a" opacity="0.8"/>
<path d="M150.9 515.3L148.8 513.9M150.9 514L148.8 513.5M150.9 519.6L148.3 518.5M150.9 519L148.3 518.3M150.9 525.6L147.2 526.1M150.9 534.4L146.8 532.5M150.9 530.9L146.8 531.2M150.9 535.2L146.8 532.8M150.9 541.3L147.4 541.3M150.9 549.9L148.6 549.3M150.9 547L148.6 548.3M150.9 550.9L148.6 549.7M150.9 554.5L147.7 556M150.9 564.1L147 563.6M150.9 564.2L147 563.7M150.9 559.4L147 562M150.9 571.1L146.9 569M150.9 570.8L146.9 568.9M150.9 577.9L148.9 578M150.9 587.3L148 585.7M150.9 591.9L148.9 592.9M150.9 597.7L148.7 599.3M150.9 597.2L148.7 599.2M150.9 598.7L148.7 599.7M150.9 603.7L148.7 605M150.9 606.5L148.7 606M150.9 609.8L148.8 609.1M150.9 609.3L148.8 608.9M150.9 609.9L148.8 609.1M150.9 614.3L147.3 613.9M150.9 623L147 621.1M150.9 623L147 621.2M150.9 618.4L147 619.6M150.9 630.3L147.5 630.6M150.9 634.4L148.9 634.8M150.9 633.5L148.9 634.5M150.9 637.3L147.4 637.9M150.9 637.1L147.4 637.9M150.9 645.8L148 645.9M150.9 649.5L147.4 649.7M150.9 651.5L147.4 650.4M150.9 652.7L147.4 650.8M150.9 660.5L148.4 660.3M150.9 657.4L148.4 659.3M150.9 658.7L148.4 659.7M150.9 664.2L148.5 664.9M150.9 669.8L148 671.2M150.9 668.5L148 670.8M150.9 672.7L148 672.3M150.9 676.7L148.7 676M150.9 680.1L148.7 677.1M150.9 677.8L148.7 676.3" stroke="#fff" stroke-width="0.5" opacity="0.8"/>
<rect x="151.0" y="510.5" width="3.6" height="171.5" fill="#111"/>
<text x="347" y="494.8" font-size="6.1" font-weight="bold" fill="#222">Correlation</text>
<defs><linearGradient id="cg" x1="0" y1="0" x2="0" y2="1"><stop offset="0" stop-color="#4450b2"/><stop offset="0.5" stop-color="#9a90d0"/><stop offset="1" stop-color="#ffffff"/></linearGradient></defs>
<rect x="347.2" y="497.5" width="7.2" height="40" fill="url(#cg)"/>
<text x="355.8" y="502.1" font-size="6.3" fill="#222">1</text>
<text x="355.8" y="509.9" font-size="6.3" fill="#222">0.8</text>
<text x="355.8" y="517.7" font-size="6.3" fill="#222">0.6</text>
<text x="355.8" y="525.3" font-size="6.3" fill="#222">0.4</text>
<text x="355.8" y="532.8" font-size="6.3" fill="#222">0.2</text>
<text x="355.8" y="540.3" font-size="6.3" fill="#222">0</text>
<text x="383.3" y="494.8" font-size="6.6" font-weight="bold" fill="#222">Tissue.Type</text>
<rect x="383.6" y="498.2" width="6" height="6.4" fill="#2db83d"/>
<text x="392" y="504.1" font-size="6.45" fill="#222">lowgrade</text>
<rect x="383.6" y="505.2" width="6" height="6.4" fill="#6d93d4"/>
<text x="392" y="511.1" font-size="6.45" fill="#222">highgrade</text>
<rect x="383.6" y="512.2" width="6" height="6.4" fill="#f47a68"/>
<text x="392" y="518.1" font-size="6.45" fill="#222">pdac</text>
<text x="383.3" y="527.2" font-size="6.6" font-weight="bold" fill="#222">Sample</text>
<rect x="383.6" y="529.3" width="6" height="6.6" fill="#b2df8a"/>
<text x="392" y="535.2" font-size="6.45" fill="#222">lowgrade_IPMN_1</text>
<rect x="383.6" y="536.5" width="6" height="6.6" fill="#33a02c"/>
<text x="392" y="542.4" font-size="6.45" fill="#222">lowgrade_IPMN_2</text>
<rect x="383.6" y="543.8" width="6" height="6.6" fill="#a6cee3"/>
<text x="392" y="549.7" font-size="6.45" fill="#222">highgrade_IPMN_1</text>
<rect x="383.6" y="551" width="6" height="6.6" fill="#1f78b4"/>
<text x="392" y="556.9" font-size="6.45" fill="#222">highgrade_IPMN_2</text>
<rect x="383.6" y="558.3" width="6" height="6.6" fill="#fb9a99"/>
<text x="392" y="564.2" font-size="6.45" fill="#222">pdac_1</text>
<rect x="383.6" y="565.5" width="6" height="6.6" fill="#e31a1c"/>
<text x="392" y="571.4" font-size="6.45" fill="#222">pdac_2</text>
<text x="383.3" y="581.4" font-size="6.6" font-weight="bold" fill="#222">Cluster</text>
<rect x="383.8" y="584" width="5.8" height="6.6" fill="#e5f5e0"/>
<text x="392" y="589.9" font-size="6.45" fill="#222">0</text>
<rect x="383.8" y="591.2" width="5.8" height="6.6" fill="#3b5fc0"/>
<text x="392" y="597.1" font-size="6.45" fill="#222">1</text>
<rect x="383.8" y="598.5" width="5.8" height="6.6" fill="#f46d43"/>
<text x="392" y="604.4" font-size="6.45" fill="#222">2</text>
<rect x="383.8" y="605.7" width="5.8" height="6.6" fill="#a1d99b"/>
<text x="392" y="611.6" font-size="6.45" fill="#222">3</text>
<rect x="383.8" y="612.9" width="5.8" height="6.6" fill="#fcbba1"/>
<text x="392" y="618.8" font-size="6.45" fill="#222">4</text>
<rect x="383.8" y="620.1" width="5.8" height="6.6" fill="#b9d4ef"/>
<text x="392" y="626" font-size="6.45" fill="#222">5</text>
<rect x="383.8" y="627.4" width="5.8" height="6.6" fill="#cb181d"/>
<text x="392" y="633.3" font-size="6.45" fill="#222">6</text>
<rect x="383.8" y="634.6" width="5.8" height="6.6" fill="#c7e9c0"/>
<text x="392" y="640.5" font-size="6.45" fill="#222">7</text>
<rect x="383.8" y="641.8" width="5.8" height="6.6" fill="#31a354"/>
<text x="392" y="647.7" font-size="6.45" fill="#222">8</text>
<rect x="383.8" y="649.1" width="5.8" height="6.6" fill="#dcc8ec"/>
<text x="392" y="655" font-size="6.45" fill="#222">9</text>
<text transform="translate(108.2 475.2) scale(1.0 1)" font-family='"Liberation Sans", sans-serif' font-size="14.2" font-weight="bold" fill="#111">D</text>
</g>
</svg>
</body></html>
